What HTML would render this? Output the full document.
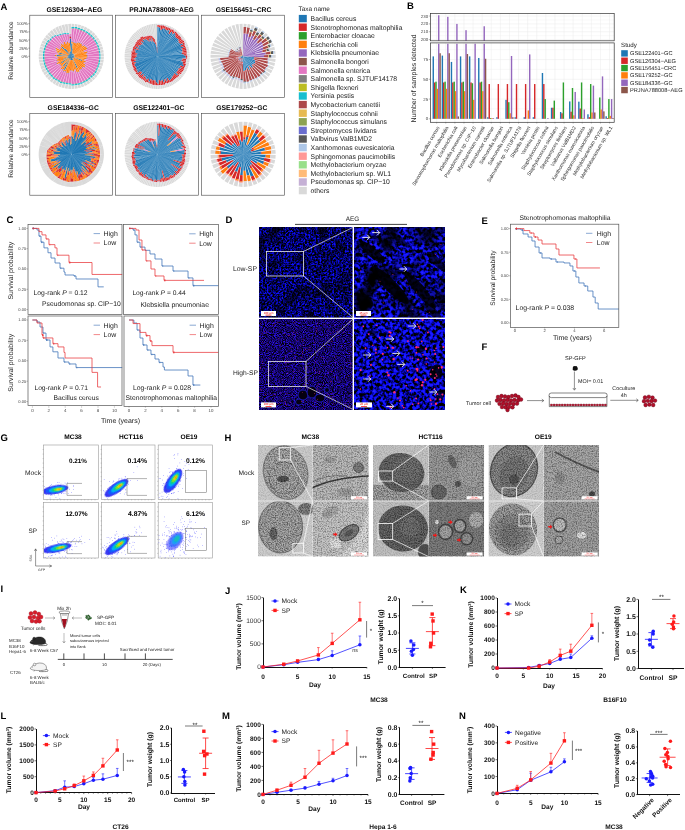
<!DOCTYPE html><html><head><meta charset="utf-8"><title>Figure</title><style>html,body{margin:0;padding:0;background:#fff;width:685px;height:830px;overflow:hidden}svg{display:block}</style></head><body><svg width="685" height="830" viewBox="0 0 685 830" font-family="'Liberation Sans', Arial, sans-serif" text-rendering="geometricPrecision"><defs>
<filter id="fbl" x="0" y="0" width="1" height="1" color-interpolation-filters="sRGB">
 <feTurbulence type="fractalNoise" baseFrequency="0.55" numOctaves="2" seed="4" result="n"/>
 <feColorMatrix in="n" type="matrix" values="0.2 0 0 0 -0.09  0.2 0 0 0 -0.09  2.8 0 0 0 -1.0  0 0 0 0 1" result="c"/>
 <feTurbulence type="fractalNoise" baseFrequency="0.06" numOctaves="2" seed="9" result="m"/>
 <feColorMatrix in="m" type="matrix" values="0 0 0 0 0  0 0 0 0 0  0 0 0 0 0  3.0 0 0 0 -1.5" result="mk"/>
 <feFlood flood-color="#000" result="blk"/>
 <feComposite in="blk" in2="mk" operator="in" result="shade"/>
 <feComposite in="shade" in2="c" operator="over"/>
</filter>
<filter id="fbr" x="0" y="0" width="1" height="1" color-interpolation-filters="sRGB">
 <feTurbulence type="fractalNoise" baseFrequency="0.28" numOctaves="2" seed="7" result="n"/>
 <feColorMatrix in="n" type="matrix" values="0.4 0 0 0 -0.18  0.4 0 0 0 -0.18  3.8 0 0 0 -1.35  0 0 0 0 1" result="c"/>
 <feTurbulence type="fractalNoise" baseFrequency="0.045" numOctaves="2" seed="3" result="m"/>
 <feColorMatrix in="m" type="matrix" values="0 0 0 0 0  0 0 0 0 0  0 0 0 0 0  3.2 0 0 0 -1.45" result="mk"/>
 <feFlood flood-color="#000" result="blk"/>
 <feComposite in="blk" in2="mk" operator="in" result="shade"/>
 <feComposite in="shade" in2="c" operator="over"/>
</filter>
<filter id="fhl" x="0" y="0" width="1" height="1" color-interpolation-filters="sRGB">
 <feTurbulence type="fractalNoise" baseFrequency="1.1" numOctaves="1" seed="11" result="n"/>
 <feColorMatrix in="n" type="matrix" values="0.45 0 0 0 -0.15  0.2 0 0 0 -0.08  2.4 0 0 0 -0.8  0 0 0 0 1"/>
</filter>
<filter id="fhr" x="0" y="0" width="1" height="1" color-interpolation-filters="sRGB">
 <feTurbulence type="fractalNoise" baseFrequency="0.3" numOctaves="2" seed="21" result="n"/>
 <feColorMatrix in="n" type="matrix" values="0.4 0 0 0 -0.18  0.4 0 0 0 -0.18  4.0 0 0 0 -1.4  0 0 0 0 1"/>
</filter>
<filter id="ftem" x="0" y="0" width="1" height="1" color-interpolation-filters="sRGB">
 <feTurbulence type="fractalNoise" baseFrequency="0.9" numOctaves="1" seed="5" result="n"/>
 <feColorMatrix in="n" type="matrix" values="0 0 0 0 0  0 0 0 0 0  0 0 0 0 0  -1.6 0 0 0 0.95"/>
</filter>
<filter id="ftem2" x="0" y="0" width="1" height="1" color-interpolation-filters="sRGB">
 <feTurbulence type="fractalNoise" baseFrequency="0.8" numOctaves="2" seed="15" result="n"/>
 <feColorMatrix in="n" type="matrix" values="0 0 0 0 0  0 0 0 0 0  0 0 0 0 0  -1.3 0 0 0 0.8"/>
</filter>
<filter id="ftemin" x="0" y="0" width="1" height="1" color-interpolation-filters="sRGB">
 <feTurbulence type="fractalNoise" baseFrequency="0.85" numOctaves="2" seed="25" result="n"/>
 <feColorMatrix in="n" type="matrix" values="0 0 0 0 0  0 0 0 0 0  0 0 0 0 0  -1.5 0 0 0 0.95" result="a"/>
 <feComposite in="a" in2="SourceAlpha" operator="in"/>
</filter>
<filter id="fblur" x="-20%" y="-20%" width="140%" height="140%"><feGaussianBlur stdDeviation="1.2"/></filter>
<filter id="fblur2" x="-20%" y="-20%" width="140%" height="140%"><feGaussianBlur stdDeviation="0.6"/></filter>
<clipPath id="cD1"><rect x="259.2" y="227.2" width="93.4" height="90.4"/></clipPath>
<clipPath id="cD2"><rect x="354" y="227.2" width="91" height="90.4"/></clipPath>
<clipPath id="cD3"><rect x="259.2" y="319" width="93.4" height="90.6"/></clipPath>
<clipPath id="cD4"><rect x="354" y="319" width="91" height="90.6"/></clipPath>
</defs><text x="0.5" y="9.9" font-size="9.5" font-weight="bold">A</text>
<rect x="29.8" y="15.2" width="82.6" height="82.2" fill="#fff" stroke="#444" stroke-width="0.6"/>
<g><path d="M71.4 43.4L72.5 43.5L71.3 56.3ZM72.2 48.5L72.9 48.7L71.3 56.3ZM72 53.2L72.3 53.2L71.3 56.3ZM72.6 52.4L73 52.5L71.3 56.3ZM72.3 54.1L72.5 54.2L71.3 56.3ZM73 53.4L73.3 53.5L71.3 56.3ZM73.1 53.8L73.3 54L71.3 56.3ZM73.7 53.7L73.9 53.9L71.3 56.3ZM74.2 53.7L74.4 54L71.3 56.3ZM73.2 54.9L73.3 55.1L71.3 56.3ZM73.3 55.2L73.4 55.3L71.3 56.3ZM73.7 55.2L73.8 55.5L71.3 56.3ZM74.7 55.2L74.8 55.5L71.3 56.3ZM74.7 55.6L74.8 55.9L71.3 56.3ZM75.1 55.9L75.1 56.3L71.3 56.3ZM74.2 56.3L74.2 56.6L71.3 56.3ZM73.8 56.6L73.8 56.8L71.3 56.3ZM74.2 56.9L74.1 57.2L71.3 56.3ZM82.4 60L82 61L71.3 56.3ZM74.3 57.7L74.2 57.9L71.3 56.3ZM73 57.3L72.9 57.5L71.3 56.3ZM74 58.3L73.8 58.5L71.3 56.3ZM73.6 58.4L73.4 58.6L71.3 56.3ZM72.9 58.1L72.7 58.3L71.3 56.3ZM72.4 57.9L72.3 58L71.3 56.3ZM77.6 67.4L76.6 68L71.3 56.3ZM72.9 60L72.6 60.1L71.3 56.3ZM72.5 60L72.1 60.1L71.3 56.3ZM72 59.9L71.7 60L71.3 56.3ZM71.7 60.1L71.3 60.2L71.3 56.3ZM71.3 60.2L70.9 60.2L71.3 56.3ZM70.9 60.2L70.5 60.2L71.3 56.3ZM70.4 60.3L70.1 60.2L71.3 56.3ZM70.3 59.2L70.1 59.1L71.3 56.3ZM65 70.1L63.8 69.5L71.3 56.3ZM70.4 57.9L70.2 57.8L71.3 56.3ZM63.9 66.4L63 65.7L71.3 56.3ZM68.9 58.9L68.7 58.7L71.3 56.3ZM69.1 58.3L68.9 58.1L71.3 56.3ZM61.6 63.2L61 62.3L71.3 56.3ZM68.3 58L68.2 57.7L71.3 56.3ZM63.2 59.8L62.9 59.1L71.3 56.3ZM67.4 57.5L67.3 57.2L71.3 56.3ZM68 57L68 56.7L71.3 56.3ZM68.2 56.6L68.1 56.3L71.3 56.3ZM56.6 56.2L56.6 54.9L71.3 56.3ZM67.8 55.9L67.8 55.6L71.3 56.3ZM58.7 53.5L59 52.4L71.3 56.3ZM68.6 55.4L68.7 55.2L71.3 56.3ZM68.4 55L68.5 54.7L71.3 56.3ZM69.1 55L69.2 54.8L71.3 56.3ZM69.1 54.7L69.3 54.5L71.3 56.3ZM61.7 47.5L62.5 46.7L71.3 56.3ZM65 49.2L65.6 48.6L71.3 56.3ZM69.3 53.5L69.6 53.3L71.3 56.3ZM70.1 54.1L70.3 54L71.3 56.3ZM69.3 51.7L69.7 51.6L71.3 56.3ZM69.7 51.2L70.1 51.1L71.3 56.3ZM70.3 51.6L70.8 51.5L71.3 56.3ZM69.6 38.5L71.1 38.4L71.3 56.3Z" fill="#1f77b4"/><path d="M71.4 41.8L72.7 41.9L72.5 43.5L71.4 43.4ZM72.9 42.3L74.1 42.5L72.9 48.3L72.2 48.2ZM74.3 42.7L75.5 43L72.3 53.2L72 53.2ZM75.7 43L76.9 43.5L73 52.5L72.6 52.4ZM77.7 42.2L78.9 42.8L72.5 54.2L72.3 54.1ZM79.3 42.7L80.4 43.5L73.3 53.5L73 53.4ZM80.9 43.3L82 44.2L73.3 54L73.1 53.8ZM81.5 45.1L82.5 46.1L73.9 53.9L73.7 53.7ZM83.9 45.2L84.8 46.3L74.4 54L74.2 53.7ZM85.4 46.3L86.2 47.5L73.3 55.1L73.2 54.9ZM86.6 47.6L87.3 49L73.4 55.3L73.3 55.2ZM83.6 50.9L84 52L73.8 55.5L73.7 55.2ZM87.2 51.3L87.6 52.7L74.8 55.5L74.7 55.2ZM86.3 53.2L86.5 54.6L74.8 55.9L74.7 55.6ZM87.3 54.8L87.3 56.2L75.1 56.3L75.1 55.9ZM87.4 56.4L87.3 57.8L74.2 56.6L74.2 56.3ZM86.1 58L85.9 59.3L73.8 56.8L73.8 56.6ZM84.3 59.2L84 60.3L74.1 57.2L74.2 56.9ZM85.9 61.2L85.4 62.4L82 61L82.4 60ZM84 62.1L83.5 63.2L74.2 57.9L74.3 57.7ZM85.4 64.6L84.6 65.8L73.2 57.7L73.3 57.5ZM85.1 66.5L84.2 67.7L74 58.7L74.2 58.5ZM82.8 66.8L81.8 67.8L73.4 58.6L73.6 58.4ZM82.1 68.5L81 69.4L72.7 58.3L72.9 58.1ZM80.6 69.3L79.4 70.1L72.3 58L72.4 57.9ZM79.8 71.4L78.5 72.1L76.6 68L77.6 67.4ZM78 71.7L76.6 72.2L72.6 60.1L72.9 60ZM75.5 69.5L74.3 69.8L72.1 60.1L72.5 60ZM74.3 71.2L73 71.4L71.7 60L72 59.9ZM72.7 70.7L71.4 70.8L71.3 60.2L71.7 60.1ZM71.2 70.5L69.9 70.5L70.9 60.2L71.3 60.2ZM69.4 73.1L67.9 72.8L70.5 60.2L70.9 60.2ZM67.6 73.2L66.1 72.8L70.1 60.2L70.4 60.3ZM66.2 71.5L64.9 71L70 59.4L70.2 59.5ZM64.3 71.6L63 70.9L63.8 69.5L65 70.1ZM63.6 69.5L62.4 68.7L70.2 57.8L70.4 57.9ZM61.6 69.4L60.5 68.5L62.8 65.9L63.7 66.6ZM61.8 66.6L61 65.8L68.7 58.7L68.9 58.9ZM61 65.5L60.2 64.5L68.9 58.1L69.1 58.3ZM59.8 64.5L59.1 63.5L61 62.3L61.6 63.2ZM57.2 64.3L56.6 63L68.2 57.7L68.3 58ZM58.6 61.8L58.2 60.7L62.9 59.1L63.2 59.8ZM56.8 60.9L56.4 59.6L67.3 57.2L67.4 57.5ZM58.4 58.9L58.2 57.8L68 56.7L68 57ZM57.3 57.7L57.2 56.4L68.1 56.3L68.2 56.6ZM54.9 56.2L55 54.7L56.6 54.9L56.6 56.2ZM58.2 54.8L58.4 53.7L67.8 55.6L67.8 55.9ZM57.1 53.2L57.4 51.9L59 52.4L58.7 53.5ZM56 51.2L56.5 49.9L68.7 55.2L68.6 55.4ZM55.4 49.1L56.1 47.7L68.5 54.7L68.4 55ZM59.7 49.4L60.3 48.5L69.2 54.8L69.1 55ZM60.6 48.4L61.3 47.4L69.3 54.5L69.1 54.7ZM60.5 46.4L61.4 45.5L62.5 46.7L61.7 47.5ZM60.8 44.4L61.8 43.5L65.6 48.6L65 49.2ZM63 44.7L64.1 44L69.6 53.3L69.3 53.5ZM63.4 42.4L64.7 41.7L70.3 54L70.1 54.1ZM65.8 43.7L66.9 43.3L69.7 51.6L69.3 51.7ZM66.7 41.9L68 41.5L70.1 51.1L69.7 51.2ZM68.6 43.1L69.8 43L70.8 51.5L70.3 51.6Z" fill="#ff7f0e"/><path d="M71.4 41L72.8 41.1L72.7 41.9L71.4 41.8ZM73 41.5L74.3 41.7L74.1 42.5L72.9 42.3ZM74.5 41.9L75.7 42.3L75.5 43L74.3 42.7ZM76 42.3L77.2 42.7L76.9 43.5L75.7 43ZM78.1 41.5L79.3 42.1L78.9 42.8L77.7 42.2ZM79.7 42L80.9 42.8L80.4 43.5L79.3 42.7ZM81.4 42.7L82.5 43.6L82 44.2L80.9 43.3ZM82.1 44.5L83.1 45.5L82.5 46.1L81.5 45.1ZM84.5 44.6L85.5 45.8L84.8 46.3L83.9 45.2ZM86 45.8L86.9 47.1L86.2 47.5L85.4 46.3ZM87.3 47.2L88.1 48.7L87.3 49L86.6 47.6ZM84.4 50.6L84.8 51.8L84 52L83.6 50.9ZM88 51L88.4 52.5L87.6 52.7L87.2 51.3ZM87.1 53.1L87.4 54.5L86.5 54.6L86.3 53.2ZM88.1 54.7L88.1 56.2L87.3 56.2L87.3 54.8ZM88.2 56.4L88.1 57.9L87.3 57.8L87.4 56.4ZM86.9 58.1L86.7 59.4L85.9 59.3L86.1 58ZM85.1 59.4L84.8 60.6L84 60.3L84.3 59.2ZM86.6 61.4L86.1 62.8L85.4 62.4L85.9 61.2ZM84.8 62.4L84.2 63.6L83.5 63.2L84 62.1ZM86.1 65L85.3 66.3L84.6 65.8L85.4 64.6ZM85.8 67L84.8 68.3L84.2 67.7L85.1 66.5ZM83.4 67.4L82.4 68.4L81.8 67.8L82.8 66.8ZM82.6 69.1L81.4 70L81 69.4L82.1 68.5ZM81.1 70L79.8 70.8L79.4 70.1L80.6 69.3ZM80.2 72.1L78.8 72.8L78.5 72.1L79.8 71.4ZM78.3 72.4L76.9 73L76.6 72.2L78 71.7ZM75.7 70.3L74.5 70.6L74.3 69.8L75.5 69.5ZM74.5 72L73.1 72.2L73 71.4L74.3 71.2ZM72.8 71.5L71.4 71.6L71.4 70.8L72.7 70.7ZM71.2 71.3L69.9 71.3L69.9 70.5L71.2 70.5ZM69.3 73.9L67.8 73.6L67.9 72.8L69.4 73.1ZM67.4 74L65.9 73.5L66.1 72.8L67.6 73.2ZM66 72.3L64.6 71.8L64.9 71L66.2 71.5ZM64 72.4L62.6 71.6L63 70.9L64.3 71.6ZM63.1 70.2L62 69.4L62.4 68.7L63.6 69.5ZM61.1 70.1L60 69.1L60.5 68.5L61.6 69.4ZM61.3 67.2L60.4 66.3L61 65.8L61.8 66.6ZM60.3 66L59.5 65L60.2 64.5L61 65.5ZM59.1 65L58.4 63.9L59.1 63.5L59.8 64.5ZM56.5 64.7L55.8 63.3L56.6 63L57.2 64.3ZM57.9 62.2L57.4 60.9L58.2 60.7L58.6 61.8ZM56 61.1L55.6 59.8L56.4 59.6L56.8 60.9ZM57.6 59.1L57.4 57.9L58.2 57.8L58.4 58.9ZM56.5 57.7L56.4 56.4L57.2 56.4L57.3 57.7ZM54.1 56.2L54.2 54.6L55 54.7L54.9 56.2ZM57.4 54.7L57.6 53.5L58.4 53.7L58.2 54.8ZM56.3 53L56.7 51.7L57.4 51.9L57.1 53.2ZM55.3 50.9L55.8 49.6L56.5 49.9L56 51.2ZM54.6 48.7L55.4 47.3L56.1 47.7L55.4 49.1ZM59 49L59.6 48L60.3 48.5L59.7 49.4ZM59.9 47.9L60.7 46.9L61.3 47.4L60.6 48.4ZM59.9 45.9L60.9 44.9L61.4 45.5L60.5 46.4ZM60.2 43.8L61.4 42.9L61.8 43.5L60.8 44.4ZM62.6 44.1L63.7 43.3L64.1 44L63 44.7ZM63 41.7L64.3 41L64.7 41.7L63.4 42.4ZM65.5 43L66.7 42.5L66.9 43.3L65.8 43.7ZM66.5 41.1L67.9 40.7L68 41.5L66.7 41.9ZM68.5 42.3L69.7 42.1L69.8 43L68.6 43.1ZM69.3 35.9L71.1 35.8L71.1 36.7L69.4 36.8Z" fill="#9467bd"/><path d="M71.5 28.4L74 28.6L72.8 41.1L71.4 41ZM74.5 28.3L76.9 28.7L74.3 41.7L73 41.5ZM77.3 29.1L79.7 29.7L75.7 42.3L74.5 41.9ZM80.1 29.9L82.4 30.7L77.2 42.7L76 42.3ZM82.8 30.9L85 32L79.3 42.1L78.1 41.5ZM85.4 32.3L87.5 33.6L80.9 42.8L79.7 42ZM87.9 33.9L89.8 35.4L82.5 43.6L81.4 42.7ZM90.1 35.7L91.9 37.5L83.1 45.5L82.1 44.5ZM92.2 37.8L93.7 39.7L85.5 45.8L84.5 44.6ZM94 40.1L95.3 42.2L86.9 47.1L86 45.8ZM95.6 42.6L96.7 44.8L88.1 48.7L87.3 47.2ZM96.9 45.2L97.7 47.5L84.8 51.8L84.4 50.6ZM97.9 47.9L98.5 50.3L88.4 52.5L88 51ZM98.6 50.7L99 53.2L87.4 54.5L87.1 53.1ZM99 53.6L99.2 56.1L88.1 56.2L88.1 54.7ZM99.2 56.5L99 59L88.1 57.9L88.2 56.4ZM99 59.4L98.6 61.9L86.7 59.4L86.9 58.1ZM98.5 62.3L97.9 64.7L84.8 60.6L85.1 59.4ZM97.7 65.1L96.9 67.4L86.1 62.8L86.6 61.4ZM96.7 67.8L95.6 70L84.2 63.6L84.8 62.4ZM95.6 70.6L94.3 72.7L85.3 66.3L86.1 65ZM94 73.1L92.4 75L84.8 68.3L85.8 67ZM91.9 75.1L90.1 76.9L82.4 68.4L83.4 67.4ZM89.8 77.2L87.9 78.7L81.4 70L82.6 69.1ZM87.5 79L85.4 80.3L79.8 70.8L81.1 70ZM85 80.6L82.8 81.7L78.8 72.8L80.2 72.1ZM82.4 81.9L80.1 82.7L76.9 73L78.3 72.4ZM79.7 82.9L77.3 83.5L74.5 70.6L75.7 70.3ZM76.9 83.6L74.4 84L73.1 72.2L74.5 72ZM74 84L71.5 84.2L71.4 71.6L72.8 71.5ZM71.1 83.2L68.7 83.1L69.9 71.3L71.2 71.3ZM68.3 83L65.9 82.7L67.8 73.6L69.3 73.9ZM65.5 82.6L63.2 81.9L65.9 73.5L67.4 74ZM62.7 82.1L60.4 81.3L64.6 71.8L66 72.3ZM60.2 80.8L58 79.7L62.6 71.6L64 72.4ZM57.7 79.5L55.7 78.2L62 69.4L63.1 70.2ZM55.1 78.2L53.3 76.7L60 69.1L61.1 70.1ZM53.1 76.1L51.5 74.5L60.4 66.3L61.3 67.2ZM51.2 74.1L49.7 72.3L59.5 65L60.3 66ZM49.4 71.9L48.1 69.9L58.4 63.9L59.1 65ZM47.9 69.6L46.8 67.4L55.8 63.3L56.5 64.7ZM46.6 67L45.8 64.8L57.4 60.9L57.9 62.2ZM45.7 64.4L45 62.1L55.6 59.8L56 61.1ZM44.9 61.7L44.6 59.3L57.4 57.9L57.6 59.1ZM44.5 58.9L44.4 56.5L56.4 56.4L56.5 57.7ZM44.4 56.1L44.5 53.7L54.2 54.6L54.1 56.2ZM44.6 53.3L44.9 50.9L57.6 53.5L57.4 54.7ZM45 50.5L45.7 48.2L56.7 51.7L56.3 53ZM45.8 47.8L46.6 45.6L55.8 49.6L55.3 50.9ZM46.8 45.2L47.9 43L55.4 47.3L54.6 48.7ZM48.1 42.7L49.4 40.7L59.6 48L59 49ZM50.2 40.7L51.6 38.9L60.7 46.9L59.9 47.9ZM51.9 38.5L53.5 36.9L60.9 44.9L59.9 45.9ZM54.3 37.1L56 35.6L61.4 42.9L60.2 43.8ZM57 36.3L58.9 35.2L63.7 43.3L62.6 44.1ZM59.6 35.6L61.4 34.6L64.3 41L63 41.7ZM61.9 34.7L63.8 34L66.7 42.5L65.5 43ZM64.3 34.3L66.3 33.7L67.9 40.7L66.5 41.1ZM66.8 34.4L68.8 34.1L69.7 42.1L68.5 42.3ZM69.2 34.2L71.1 34.1L71.1 35.8L69.3 35.9Z" fill="#e377c2"/><path d="M71.5 28.2L74 28.3L74 28.6L71.5 28.4ZM74.5 28L77 28.4L76.9 28.7L74.5 28.3ZM77.4 28.8L79.8 29.5L79.7 29.7L77.3 29.1ZM80.2 29.6L82.5 30.5L82.4 30.7L80.1 29.9ZM83 30.7L85.2 31.8L85 32L82.8 30.9ZM85.6 32.1L87.6 33.4L87.5 33.6L85.4 32.3ZM88 33.7L89.9 35.2L89.8 35.4L87.9 33.9ZM90.3 35.6L92 37.3L91.9 37.5L90.1 35.7ZM92.4 37.7L93.9 39.6L93.7 39.7L92.2 37.8ZM94.2 40L95.5 42L95.3 42.2L94 40.1ZM95.8 42.4L96.9 44.6L96.7 44.8L95.6 42.6ZM97.1 45.1L98 47.4L97.7 47.5L96.9 45.2ZM98.1 47.8L98.8 50.2L98.5 50.3L97.9 47.9ZM98.9 50.7L99.3 53.1L99 53.2L98.6 50.7ZM99.3 53.6L99.4 56.1L99.2 56.1L99 53.6ZM99.4 56.5L99.3 59L99 59L99.2 56.5ZM99.3 59.5L98.9 61.9L98.6 61.9L99 59.4ZM98.8 62.4L98.1 64.8L97.9 64.7L98.5 62.3ZM98 65.2L97.1 67.5L96.9 67.4L97.7 65.1ZM96.9 68L95.8 70.2L95.6 70L96.7 67.8ZM95.8 70.7L94.5 72.8L94.3 72.7L95.6 70.6ZM94.2 73.2L92.6 75.2L92.4 75L94 73.1ZM92 75.3L90.3 77L90.1 76.9L91.9 75.1ZM89.9 77.4L88 78.9L87.9 78.7L89.8 77.2ZM87.6 79.2L85.6 80.5L85.4 80.3L87.5 79ZM85.2 80.8L83 81.9L82.8 81.7L85 80.6ZM82.5 82.1L80.2 83L80.1 82.7L82.4 81.9ZM79.8 83.1L77.4 83.8L77.3 83.5L79.7 82.9ZM76.9 83.9L74.5 84.3L74.4 84L76.9 83.6ZM74 84.3L71.5 84.4L71.5 84.2L74 84ZM71.1 83.5L68.7 83.3L68.7 83.1L71.1 83.2ZM68.2 83.3L65.9 82.9L65.9 82.7L68.3 83ZM65.4 82.8L63.1 82.2L63.2 81.9L65.5 82.6ZM62.6 82.4L60.3 81.5L60.4 81.3L62.7 82.1ZM60 81L57.9 79.9L58 79.7L60.2 80.8ZM57.5 79.7L55.5 78.4L55.7 78.2L57.7 79.5ZM55 78.4L53.1 76.9L53.3 76.7L55.1 78.2ZM53 76.3L51.3 74.6L51.5 74.5L53.1 76.1ZM51 74.3L49.5 72.4L49.7 72.3L51.2 74.1ZM49.2 72.1L47.9 70.1L48.1 69.9L49.4 71.9ZM47.7 69.7L46.6 67.6L46.8 67.4L47.9 69.6ZM46.4 67.1L45.5 64.9L45.8 64.8L46.6 67ZM45.4 64.5L44.8 62.2L45 62.1L45.7 64.4ZM44.7 61.7L44.3 59.4L44.6 59.3L44.9 61.7ZM44.3 58.9L44.1 56.5L44.4 56.5L44.5 58.9ZM44.1 56.1L44.3 53.7L44.5 53.7L44.4 56.1ZM44.3 53.2L44.7 50.9L44.9 50.9L44.6 53.3ZM44.8 50.4L45.4 48.1L45.7 48.2L45 50.5ZM45.5 47.7L46.4 45.5L46.6 45.6L45.8 47.8ZM46.6 45L47.7 42.9L47.9 43L46.8 45.2ZM47.9 42.5L49.2 40.5L49.4 40.7L48.1 42.7Z" fill="#2ca02c"/><path d="M71.5 26.9L74.1 27L74 28.3L71.5 28.2ZM74.7 26.7L77.2 27.1L77 28.4L74.5 28ZM77.7 27.6L80.2 28.2L79.8 29.5L77.4 28.8ZM80.6 28.4L83 29.3L82.5 30.5L80.2 29.6ZM83.5 29.5L85.8 30.7L85.2 31.8L83 30.7ZM86.2 30.9L88.4 32.3L87.6 33.4L85.6 32.1ZM88.8 32.6L90.8 34.3L89.9 35.2L88 33.7ZM91.2 34.6L93 36.4L92 37.3L90.3 35.6ZM93.3 36.8L95 38.8L93.9 39.6L92.4 37.7ZM95.3 39.2L96.7 41.4L95.5 42L94.2 40ZM96.9 41.8L98.1 44.1L96.9 44.6L95.8 42.4ZM98.3 44.6L99.2 47L98 47.4L97.1 45.1ZM99.4 47.4L100 49.9L98.8 50.2L98.1 47.8ZM100.1 50.4L100.5 53L99.3 53.1L98.9 50.7ZM100.6 53.5L100.7 56.1L99.4 56.1L99.3 53.6ZM100.7 56.5L100.6 59.1L99.3 59L99.4 56.5ZM100.5 59.6L100.1 62.2L98.9 61.9L99.3 59.5ZM100 62.7L99.4 65.2L98.1 64.8L98.8 62.4ZM99.2 65.6L98.3 68L97.1 67.5L98 65.2ZM98.1 68.5L96.9 70.8L95.8 70.2L96.9 68ZM97 71.4L95.5 73.6L94.5 72.8L95.8 70.7ZM95.2 74L93.6 76L92.6 75.2L94.2 73.2ZM93 76.2L91.2 78L90.3 77L92 75.3ZM90.8 78.3L88.8 80L88 78.9L89.9 77.4ZM88.4 80.3L86.2 81.7L85.6 80.5L87.6 79.2ZM85.8 81.9L83.5 83.1L83 81.9L85.2 80.8ZM83 83.3L80.6 84.2L80.2 83L82.5 82.1ZM80.2 84.4L77.7 85L77.4 83.8L79.8 83.1ZM77.2 85.1L74.6 85.5L74.5 84.3L76.9 83.9ZM74.1 85.6L71.5 85.7L71.5 84.4L74 84.3ZM71.1 84.8L68.6 84.6L68.7 83.3L71.1 83.5ZM68.1 84.6L65.6 84.2L65.9 82.9L68.2 83.3ZM65.1 84.1L62.7 83.4L63.1 82.2L65.4 82.8ZM62.2 83.6L59.8 82.7L60.3 81.5L62.6 82.4ZM59.5 82.2L57.3 81.1L57.9 79.9L60 81ZM56.9 80.8L54.8 79.5L55.5 78.4L57.5 79.7ZM54.2 79.4L52.2 77.9L53.1 76.9L55 78.4ZM52.1 77.3L50.3 75.5L51.3 74.6L53 76.3ZM50 75.2L48.4 73.2L49.5 72.4L51 74.3ZM48.1 72.8L46.8 70.7L47.9 70.1L49.2 72.1ZM46.5 70.3L45.4 68.1L46.6 67.6L47.7 69.7ZM45.2 67.7L44.3 65.3L45.5 64.9L46.4 67.1ZM44.2 64.9L43.5 62.5L44.8 62.2L45.4 64.5ZM43.4 62L43 59.5L44.3 59.4L44.7 61.7ZM43 59L42.8 56.5L44.1 56.5L44.3 58.9ZM42.8 56.1L43 53.6L44.3 53.7L44.1 56.1ZM43 53.1L43.4 50.6L44.7 50.9L44.3 53.2ZM43.5 50.1L44.2 47.7L45.4 48.1L44.8 50.4ZM44.3 47.3L45.2 44.9L46.4 45.5L45.5 47.7ZM45.4 44.5L46.5 42.3L47.7 42.9L46.6 45ZM46.8 41.9L48.1 39.8L49.2 40.5L47.9 42.5ZM49.2 40L50.8 38.1L51.6 38.9L50.2 40.7ZM51.1 37.8L52.8 36.1L53.5 36.9L51.9 38.5ZM53.5 36.2L55.3 34.7L56 35.6L54.3 37.1ZM56.4 35.4L58.3 34.2L58.9 35.2L57 36.3ZM59 34.6L60.9 33.6L61.4 34.6L59.6 35.6ZM61.4 33.7L63.5 32.9L63.8 34L61.9 34.7ZM64 33.2L66.1 32.6L66.3 33.7L64.3 34.3ZM66.6 33.3L68.7 33L68.8 34.1L66.8 34.4Z" fill="#17becf"/><path d="M71.6 23.7L74.4 23.9L74.1 27L71.5 26.9ZM75 23.9L77.8 24.4L77.2 27.1L74.7 26.7ZM78.3 24.5L81.1 25.2L80.2 28.2L77.7 27.6ZM81.6 25.4L84.3 26.4L83 29.3L80.6 28.4ZM84.8 26.6L87.4 27.9L85.8 30.7L83.5 29.5ZM87.8 28.2L90.2 29.8L88.4 32.3L86.2 30.9ZM90.7 30.1L92.9 31.9L90.8 34.3L88.8 32.6ZM93.3 32.3L95.3 34.3L93 36.4L91.2 34.6ZM95.7 34.7L97.5 36.9L95 38.8L93.3 36.8ZM97.8 37.4L99.4 39.8L96.7 41.4L95.3 39.2ZM99.7 40.2L101 42.8L98.1 44.1L96.9 41.8ZM101.2 43.3L102.2 46L99.2 47L98.3 44.6ZM102.4 46.5L103.1 49.3L100 49.9L99.4 47.4ZM103.2 49.8L103.7 52.6L100.5 53L100.1 50.4ZM103.7 53.2L103.9 56L100.7 56.1L100.6 53.5ZM103.9 56.6L103.7 59.4L100.6 59.1L100.7 56.5ZM103.7 60L103.2 62.8L100.1 62.2L100.5 59.6ZM103.1 63.3L102.4 66.1L99.4 65.2L100 62.7ZM102.2 66.6L101.2 69.3L98.3 68L99.2 65.6ZM101 69.8L99.7 72.4L96.9 70.8L98.1 68.5ZM99.4 72.8L97.8 75.2L95.5 73.6L97 71.4ZM97.5 75.7L95.7 77.9L93.6 76L95.2 74ZM95.3 78.3L93.3 80.3L91.2 78L93 76.2ZM92.9 80.7L90.7 82.5L88.8 80L90.8 78.3ZM90.2 82.8L87.8 84.4L86.2 81.7L88.4 80.3ZM87.4 84.7L84.8 86L83.5 83.1L85.8 81.9ZM84.3 86.2L81.6 87.2L80.6 84.2L83 83.3ZM81.1 87.4L78.3 88.1L77.7 85L80.2 84.4ZM77.8 88.2L75 88.7L74.6 85.5L77.2 85.1ZM74.4 88.7L71.6 88.9L71.5 85.7L74.1 85.6ZM71 88.9L68.2 88.7L68.6 84.6L71.1 84.8ZM67.6 88.7L64.8 88.2L65.6 84.2L68.1 84.6ZM64.3 88.1L61.5 87.4L62.7 83.4L65.1 84.1ZM61 87.2L58.3 86.2L59.8 82.7L62.2 83.6ZM57.8 86L55.2 84.7L57.3 81.1L59.5 82.2ZM54.8 84.4L52.4 82.8L54.8 79.5L56.9 80.8ZM51.9 82.5L49.7 80.7L52.2 77.9L54.2 79.4ZM49.3 80.3L47.3 78.3L50.3 75.5L52.1 77.3ZM46.9 77.9L45.1 75.7L48.4 73.2L50 75.2ZM44.8 75.2L43.2 72.8L46.8 70.7L48.1 72.8ZM42.9 72.4L41.6 69.8L45.4 68.1L46.5 70.3ZM41.4 69.3L40.4 66.6L44.3 65.3L45.2 67.7ZM40.2 66.1L39.5 63.3L43.5 62.5L44.2 64.9ZM39.4 62.8L38.9 60L43 59.5L43.4 62ZM38.9 59.4L38.7 56.6L42.8 56.5L43 59ZM38.7 56L38.9 53.2L43 53.6L42.8 56.1ZM38.9 52.6L39.4 49.8L43.4 50.6L43 53.1ZM39.5 49.3L40.2 46.5L44.2 47.7L43.5 50.1ZM40.4 46L41.4 43.3L45.2 44.9L44.3 47.3ZM41.6 42.8L42.9 40.2L46.5 42.3L45.4 44.5ZM43.2 39.8L44.8 37.4L48.1 39.8L46.8 41.9ZM45.1 36.9L46.9 34.7L50.8 38.1L49.2 40ZM47.3 34.3L49.3 32.3L52.8 36.1L51.1 37.8ZM49.7 31.9L51.9 30.1L55.3 34.7L53.5 36.2ZM52.4 29.8L54.8 28.2L58.3 34.2L56.4 35.4ZM55.2 27.9L57.8 26.6L60.9 33.6L59 34.6ZM58.3 26.4L61 25.4L63.5 32.9L61.4 33.7ZM61.5 25.2L64.3 24.5L66.1 32.6L64 33.2ZM64.8 24.4L67.6 23.9L68.7 33L66.6 33.3ZM68.2 23.9L71 23.7L71.1 34.1L69.2 34.2Z" fill="#d9d9d9"/><path d="M72.2 48.2L72.9 48.3L72.9 48.7L72.2 48.5ZM73.3 57.5L73.2 57.7L72.9 57.5L73 57.3ZM74.2 58.5L74 58.7L73.8 58.5L74 58.3ZM70.2 59.5L70 59.4L70.1 59.1L70.3 59.2ZM63.7 66.6L62.8 65.9L63 65.7L63.9 66.4ZM69.4 36.8L71.1 36.7L71.1 38.4L69.6 38.5Z" fill="#d62728"/></g>
<text x="74.4" y="12.33" font-size="6.8" text-anchor="middle" font-weight="bold">GSE126304−AEG</text>
<rect x="115.6" y="15.2" width="82.8" height="82.2" fill="#fff" stroke="#444" stroke-width="0.6"/>
<g><path d="M157.4 26.9L158.7 26.9L157.2 56.3ZM159 27.5L160.3 27.6L157.2 56.3ZM160.4 29.9L161.6 30.1L157.2 56.3ZM162.1 28.8L163.4 29L157.2 56.3ZM163.9 28.3L165.2 28.7L157.2 56.3ZM165.1 29.9L166.3 30.3L157.2 56.3ZM166.7 30.1L167.9 30.5L157.2 56.3ZM168.5 29.9L169.7 30.5L157.2 56.3ZM168.5 33.5L169.6 34.1L157.2 56.3ZM171.3 31.7L172.4 32.4L157.2 56.3ZM172.1 33.4L173.1 34.1L157.2 56.3ZM174.4 32.9L175.5 33.7L157.2 56.3ZM174.9 34.9L175.9 35.7L157.2 56.3ZM175.3 36.8L176.1 37.7L157.2 56.3ZM176.4 37.8L177.3 38.7L157.2 56.3ZM177.9 38.6L178.7 39.6L157.2 56.3ZM178.2 40.3L178.9 41.3L157.2 56.3ZM178.5 41.9L179.1 42.9L157.2 56.3ZM179.7 42.9L180.3 43.9L157.2 56.3ZM182.4 43.2L183 44.4L157.2 56.3ZM180.6 45.8L181 46.9L157.2 56.3ZM182.8 46.5L183.2 47.7L157.2 56.3ZM181.6 48.5L182 49.6L157.2 56.3ZM182.3 49.8L182.6 51L157.2 56.3ZM182.2 51.4L182.4 52.5L157.2 56.3ZM181.8 52.9L182 54L157.2 56.3ZM183.7 54.2L183.8 55.4L157.2 56.3ZM185.8 55.6L185.8 57L157.2 56.3ZM185.8 57.3L185.7 58.6L157.2 56.3ZM182.5 58.6L182.3 59.8L157.2 56.3ZM181.7 60L181.5 61.1L157.2 56.3ZM183 61.7L182.7 62.9L157.2 56.3ZM183 63.2L182.7 64.4L157.2 56.3ZM183.9 65.1L183.5 66.4L157.2 56.3ZM180.3 65.4L179.8 66.5L157.2 56.3ZM181.1 67.4L180.6 68.5L157.2 56.3ZM179 67.9L178.4 68.9L157.2 56.3ZM178.6 69.4L178 70.3L157.2 56.3ZM177.8 70.5L177.1 71.5L157.2 56.3ZM177 71.7L176.2 72.6L157.2 56.3ZM177.9 74.4L177.1 75.4L157.2 56.3ZM174.5 73.3L173.7 74L157.2 56.3ZM174 74.7L173.1 75.5L157.2 56.3ZM173.2 76L172.2 76.8L157.2 56.3ZM172.3 77.4L171.3 78.1L157.2 56.3ZM171.5 78.8L170.4 79.5L157.2 56.3ZM170.3 79.8L169.2 80.4L157.2 56.3ZM167.7 77.9L166.6 78.3L157.2 56.3ZM167.3 80.6L166.2 81.1L157.2 56.3ZM165.2 79.1L164.1 79.4L157.2 56.3ZM164.6 81.9L163.4 82.2L157.2 56.3ZM162.6 80.1L161.5 80.4L157.2 56.3ZM161.3 80.9L160.2 81L157.2 56.3ZM159.8 80L158.7 80.1L157.2 56.3ZM158.6 83.7L157.3 83.8L157.2 56.3ZM157.1 82.6L155.8 82.6L157.2 56.3ZM155.7 80.6L154.6 80.5L157.2 56.3ZM154.3 80.2L153.2 80L157.2 56.3ZM152.9 80.6L151.7 80.4L157.2 56.3ZM151.8 79.2L150.7 78.9L157.2 56.3ZM149.6 81.7L148.4 81.3L157.2 56.3ZM149 78.9L147.9 78.5L157.2 56.3ZM147.2 79.7L146.1 79.2L157.2 56.3ZM146.1 78.5L145.1 78L157.2 56.3ZM145.7 76.4L144.8 75.9L157.2 56.3ZM143.8 76.9L142.9 76.2L157.2 56.3ZM143.8 74.5L143 73.8L157.2 56.3ZM141.6 75.2L140.7 74.4L157.2 56.3ZM142.1 72.6L141.3 71.9L157.2 56.3ZM141 71.9L140.3 71.1L157.2 56.3ZM137.9 72.9L137.1 72L157.2 56.3ZM137.7 71.2L137 70.3L157.2 56.3ZM136.8 70.1L136.1 69.1L157.2 56.3ZM136.4 68.7L135.8 67.7L157.2 56.3ZM136.1 67.3L135.6 66.3L157.2 56.3ZM134.9 66.4L134.4 65.3L157.2 56.3ZM134.8 64.9L134.4 63.8L157.2 56.3ZM135.8 63.1L135.5 62.1L157.2 56.3ZM134 62.3L133.8 61.2L157.2 56.3ZM136 60.5L135.8 59.5L157.2 56.3ZM134.3 59.5L134.2 58.4L157.2 56.3ZM135.4 58.1L135.4 57L157.2 56.3ZM136.7 56.8L136.7 55.8L157.2 56.3ZM135.6 55.6L135.7 54.6L157.2 56.3ZM137.2 54.5L137.3 53.5L157.2 56.3ZM135.2 53L135.4 52L157.2 56.3ZM135.3 51.8L135.6 50.7L157.2 56.3ZM134.4 50.2L134.7 49.1L157.2 56.3ZM138.5 50.1L138.8 49.2L157.2 56.3ZM135.7 47.8L136.1 46.8L157.2 56.3ZM138.7 47.7L139.1 46.9L157.2 56.3ZM137.9 46L138.4 45.1L157.2 56.3ZM140 45.8L140.5 45L157.2 56.3ZM140.7 44.9L141.3 44.2L157.2 56.3ZM142.1 44.6L142.7 43.9L157.2 56.3ZM140.9 42.1L141.6 41.3L157.2 56.3ZM143.1 42.5L143.8 41.8L157.2 56.3ZM142.3 39.9L143.1 39.2L157.2 56.3ZM144.1 40.1L144.9 39.5L157.2 56.3ZM145 39.3L145.8 38.8L157.2 56.3ZM147.2 40.6L147.9 40.1L157.2 56.3ZM149.1 41.7L149.8 41.3L157.2 56.3ZM148.9 39.2L149.7 38.9L157.2 56.3ZM151.1 41.5L151.7 41.3L157.2 56.3ZM151 38.6L151.8 38.3L157.2 56.3ZM153 41.6L153.7 41.4L157.2 56.3ZM154 42.4L154.7 42.2L157.2 56.3ZM155.1 43.9L155.7 43.9L157.2 56.3ZM156.1 46.4L156.6 46.3L157.2 56.3ZM157 53L157.2 53L157.2 56.3Z" fill="#1f77b4"/><path d="M157.4 24.9L158.8 25L158.7 26.9L157.4 26.9ZM159.1 25.2L160.6 25.3L160.3 27.6L159 27.5ZM160.9 25.3L162.4 25.5L161.6 30.1L160.4 29.9ZM162.7 25.2L164.2 25.5L163.4 29L162.1 28.8ZM164.4 25.9L165.8 26.3L165.2 28.7L163.9 28.3ZM166 26.9L167.4 27.3L166.3 30.3L165.1 29.9ZM167.7 27.2L169.1 27.7L167.9 30.5L166.7 30.1ZM169.3 28L170.6 28.6L169.7 30.5L168.5 29.9ZM170.8 29L172.1 29.7L169.6 34.1L168.5 33.5ZM172.7 29.2L173.9 30L172.4 32.4L171.3 31.7ZM173.7 30.9L174.9 31.7L173.1 34.1L172.1 33.4ZM175.4 31.5L176.6 32.3L175.5 33.7L174.4 32.9ZM176.6 32.8L177.7 33.7L175.9 35.7L174.9 34.9ZM177.8 34.1L178.8 35.1L176.1 37.7L175.3 36.8ZM179.2 35.2L180.1 36.2L177.3 38.7L176.4 37.8ZM180.2 36.6L181.1 37.7L178.7 39.6L177.9 38.6ZM181.1 38.1L181.9 39.2L178.9 41.3L178.2 40.3ZM182.3 39.4L183 40.5L179.1 42.9L178.5 41.9ZM183.6 40.6L184.3 41.8L180.3 43.9L179.7 42.9ZM184.3 42.2L184.9 43.5L183 44.4L182.4 43.2ZM184.4 44L185 45.3L181 46.9L180.6 45.8ZM184.9 45.7L185.4 47L183.2 47.7L182.8 46.5ZM185.9 47.2L186.2 48.5L182 49.6L181.6 48.5ZM186.3 48.8L186.6 50.2L182.6 51L182.3 49.8ZM186.5 50.5L186.8 51.9L182.4 52.5L182.2 51.4ZM186.8 52.2L187 53.6L182 54L181.8 52.9ZM186.6 53.9L186.7 55.3L183.8 55.4L183.7 54.2ZM187.3 55.6L187.3 57L185.8 57L185.8 55.6ZM187.3 57.3L187.2 58.7L185.7 58.6L185.8 57.3ZM186.3 58.9L186.1 60.3L182.3 59.8L182.5 58.6ZM186.1 60.6L185.8 62L181.5 61.1L181.7 60ZM185.8 62.3L185.5 63.6L182.7 62.9L183 61.7ZM186 64L185.6 65.4L182.7 64.4L183 63.2ZM185.3 65.6L184.8 66.9L183.5 66.4L183.9 65.1ZM184.6 67.1L184.1 68.4L179.8 66.5L180.3 65.4ZM184.2 68.8L183.6 70L180.6 68.5L181.1 67.4ZM183.5 70.3L182.8 71.5L178.4 68.9L179 67.9ZM182.3 71.6L181.5 72.8L178 70.3L178.6 69.4ZM181.6 73.2L180.8 74.3L177.1 71.5L177.8 70.5ZM179.9 74L179.1 75.1L176.2 72.6L177 71.7ZM179.2 75.6L178.3 76.6L177.1 75.4L177.9 74.4ZM178 76.8L177.1 77.7L173.7 74L174.5 73.3ZM176.5 77.6L175.5 78.5L173.1 75.5L174 74.7ZM175.3 78.6L174.2 79.5L172.2 76.8L173.2 76ZM174.1 79.8L172.9 80.5L171.3 78.1L172.3 77.4ZM172.9 81.1L171.8 81.8L170.4 79.5L171.5 78.8ZM171.3 81.6L170.1 82.2L169.2 80.4L170.3 79.8ZM169.8 82.2L168.5 82.7L166.6 78.3L167.7 77.9ZM168.4 83.1L167.1 83.6L166.2 81.1L167.3 80.6ZM166.6 83.1L165.4 83.6L164.1 79.4L165.2 79.1ZM165.3 84.4L164 84.7L163.4 82.2L164.6 81.9ZM163.7 84.7L162.3 85L161.5 80.4L162.6 80.1ZM162 84.9L160.7 85.1L160.2 81L161.3 80.9ZM160.3 85L159 85.1L158.7 80.1L159.8 80ZM158.7 85.3L157.3 85.3L157.3 83.8L158.6 83.7ZM157.1 85.3L155.7 85.2L155.8 82.6L157.1 82.6ZM155.4 85L154.1 84.8L154.6 80.5L155.7 80.6ZM153.8 85.1L152.4 84.9L153.2 80L154.3 80.2ZM152.3 84L151 83.7L151.7 80.4L152.9 80.6ZM150.6 83.9L149.4 83.5L150.7 78.9L151.8 79.2ZM149.2 83L148 82.6L148.4 81.3L149.6 81.7ZM147.8 82.3L146.5 81.9L147.9 78.5L149 78.9ZM146 82.5L144.8 81.9L146.1 79.2L147.2 79.7ZM144.9 81L143.7 80.4L145.1 78L146.1 78.5ZM143.6 80.1L142.5 79.4L144.8 75.9L145.7 76.4ZM142 79.6L141 78.9L142.9 76.2L143.8 76.9ZM140.9 78.5L139.9 77.7L143 73.8L143.8 74.5ZM139.5 77.7L138.5 76.9L140.7 74.4L141.6 75.2ZM138.7 76.3L137.8 75.4L141.3 71.9L142.1 72.6ZM137.7 75L136.9 74.1L140.3 71.1L141 71.9ZM136.3 74.2L135.5 73.2L137.1 72L137.9 72.9ZM135.8 72.6L135.1 71.6L137 70.3L137.7 71.2ZM134.8 71.4L134.1 70.4L136.1 69.1L136.8 70.1ZM133.8 70.2L133.2 69.1L135.8 67.7L136.4 68.7ZM133.6 68.6L133.1 67.5L135.6 66.3L136.1 67.3ZM133 67.2L132.5 66.1L134.4 65.3L134.9 66.4ZM132.4 65.8L132 64.6L134.4 63.8L134.8 64.9ZM132.1 64.3L131.8 63.1L135.5 62.1L135.8 63.1ZM131.9 62.8L131.7 61.6L133.8 61.2L134 62.3ZM130.9 61.5L130.7 60.3L135.8 59.5L136 60.5ZM130.9 60L130.7 58.7L134.2 58.4L134.3 59.5ZM131.2 58.4L131.1 57.2L135.4 57L135.4 58.1ZM131.4 56.9L131.4 55.7L136.7 55.8L136.7 56.8ZM131.1 55.4L131.2 54.2L135.7 54.6L135.6 55.6ZM131.6 54L131.7 52.8L137.3 53.5L137.2 54.5ZM131.2 52.4L131.4 51.2L135.4 52L135.2 53ZM132.4 51.1L132.6 50L135.6 50.7L135.3 51.8ZM132.5 49.7L132.8 48.5L134.7 49.1L134.4 50.2ZM132.8 48.2L133.2 47.1L138.8 49.2L138.5 50.1ZM133.5 47L134 45.9L136.1 46.8L135.7 47.8ZM134.4 45.8L135 44.7L139.1 46.9L138.7 47.7ZM135 44.4L135.6 43.4L138.4 45.1L137.9 46ZM135.4 43L136.1 42L140.5 45L140 45.8ZM136.6 42.1L137.3 41.1L141.3 44.2L140.7 44.9ZM137.1 40.6L137.9 39.7L142.7 43.9L142.1 44.6ZM138.5 39.9L139.2 39L141.6 41.3L140.9 42.1ZM139.6 39.1L140.5 38.2L143.8 41.8L143.1 42.5ZM140.2 37.6L141.1 36.8L143.1 39.2L142.3 39.9ZM141.5 37L142.5 36.2L144.9 39.5L144.1 40.1ZM143.4 37.1L144.3 36.5L145.8 38.8L145 39.3ZM144.8 36.7L145.7 36.2L147.9 40.1L147.2 40.6ZM146.1 36.4L147 35.9L149.8 41.3L149.1 41.7ZM147.3 35.9L148.3 35.4L149.7 38.9L148.9 39.2ZM148.7 35.9L149.7 35.5L151.7 41.3L151.1 41.5ZM150 35.8L151 35.5L151.8 38.3L151 38.6ZM151.3 36L152.3 35.7L153.7 41.4L153 41.6ZM153 37.7L153.9 37.5L154.7 42.2L154 42.4ZM154.3 38.8L155.1 38.7L155.7 43.9L155.1 43.9ZM155.7 42.4L156.3 42.4L156.6 46.3L156.1 46.4ZM156.7 46.9L157.2 46.9L157.2 53L157 53Z" fill="#d62728"/><path d="M157.4 24.5L158.9 24.6L158.8 25L157.4 24.9ZM159.2 24.8L160.6 24.9L160.6 25.3L159.1 25.2ZM161 24.9L162.4 25.1L162.4 25.5L160.9 25.3ZM162.8 24.9L164.3 25.2L164.2 25.5L162.7 25.2ZM164.5 25.5L166 25.9L165.8 26.3L164.4 25.9ZM166.1 26.5L167.5 27L167.4 27.3L166 26.9ZM167.9 26.8L169.3 27.4L169.1 27.7L167.7 27.2ZM169.5 27.7L170.8 28.3L170.6 28.6L169.3 28ZM171 28.7L172.2 29.3L172.1 29.7L170.8 29ZM172.9 28.9L174.1 29.6L173.9 30L172.7 29.2ZM173.9 30.5L175.1 31.4L174.9 31.7L173.7 30.9ZM175.7 31.1L176.8 32L176.6 32.3L175.4 31.5ZM176.9 32.5L178 33.4L177.7 33.7L176.6 32.8ZM178 33.8L179.1 34.8L178.8 35.1L177.8 34.1ZM179.4 34.9L180.4 36L180.1 36.2L179.2 35.2ZM180.5 36.4L181.4 37.5L181.1 37.7L180.2 36.6ZM181.4 37.8L182.2 39L181.9 39.2L181.1 38.1ZM182.6 39.1L183.4 40.3L183 40.5L182.3 39.4ZM183.9 40.4L184.6 41.6L184.3 41.8L183.6 40.6ZM184.7 42L185.3 43.3L184.9 43.5L184.3 42.2ZM184.8 43.9L185.4 45.2L185 45.3L184.4 44ZM185.3 45.5L185.8 46.9L185.4 47L184.9 45.7ZM186.2 47L186.6 48.4L186.2 48.5L185.9 47.2ZM186.7 48.7L187 50.1L186.6 50.2L186.3 48.8ZM186.9 50.4L187.2 51.8L186.8 51.9L186.5 50.5ZM187.2 52.1L187.4 53.6L187 53.6L186.8 52.2ZM187 53.9L187.1 55.3L186.7 55.3L186.6 53.9ZM187.7 55.6L187.7 57L187.3 57L187.3 55.6ZM187.6 57.3L187.6 58.8L187.2 58.7L187.3 57.3ZM186.7 59L186.5 60.4L186.1 60.3L186.3 58.9ZM186.5 60.7L186.2 62L185.8 62L186.1 60.6ZM186.2 62.3L185.9 63.7L185.5 63.6L185.8 62.3ZM186.4 64.1L186 65.5L185.6 65.4L186 64ZM185.7 65.7L185.2 67L184.8 66.9L185.3 65.6ZM185 67.3L184.5 68.6L184.1 68.4L184.6 67.1ZM184.5 69L183.9 70.2L183.6 70L184.2 68.8ZM183.8 70.5L183.1 71.7L182.8 71.5L183.5 70.3ZM182.6 71.8L181.9 73L181.5 72.8L182.3 71.6ZM181.9 73.4L181.1 74.5L180.8 74.3L181.6 73.2ZM180.2 74.2L179.4 75.3L179.1 75.1L179.9 74ZM179.5 75.8L178.6 76.8L178.3 76.6L179.2 75.6ZM178.3 77L177.3 78L177.1 77.7L178 76.8ZM176.8 77.9L175.8 78.8L175.5 78.5L176.5 77.6ZM175.5 78.9L174.4 79.8L174.2 79.5L175.3 78.6ZM174.3 80.1L173.2 80.9L172.9 80.5L174.1 79.8ZM173.2 81.4L172 82.1L171.8 81.8L172.9 81.1ZM171.5 81.9L170.3 82.6L170.1 82.2L171.3 81.6ZM169.9 82.5L168.7 83.1L168.5 82.7L169.8 82.2ZM168.5 83.5L167.2 84L167.1 83.6L168.4 83.1ZM166.8 83.5L165.5 83.9L165.4 83.6L166.6 83.1ZM165.4 84.7L164 85.1L164 84.7L165.3 84.4ZM163.7 85.1L162.4 85.4L162.3 85L163.7 84.7ZM162.1 85.3L160.7 85.5L160.7 85.1L162 84.9ZM160.4 85.4L159 85.5L159 85.1L160.3 85ZM158.7 85.7L157.4 85.7L157.3 85.3L158.7 85.3ZM157 85.6L155.7 85.6L155.7 85.2L157.1 85.3ZM155.4 85.4L154 85.2L154.1 84.8L155.4 85ZM153.7 85.4L152.3 85.2L152.4 84.9L153.8 85.1ZM152.2 84.4L150.9 84.1L151 83.7L152.3 84ZM150.5 84.2L149.2 83.9L149.4 83.5L150.6 83.9ZM149.1 83.3L147.8 82.9L148 82.6L149.2 83ZM147.6 82.7L146.4 82.2L146.5 81.9L147.8 82.3ZM145.8 82.8L144.6 82.3L144.8 81.9L146 82.5ZM144.7 81.4L143.5 80.8L143.7 80.4L144.9 81ZM143.4 80.4L142.3 79.7L142.5 79.4L143.6 80.1ZM141.8 79.9L140.7 79.2L141 78.9L142 79.6ZM140.7 78.8L139.6 78L139.9 77.7L140.9 78.5ZM139.2 78L138.2 77.2L138.5 76.9L139.5 77.7ZM138.4 76.6L137.5 75.7L137.8 75.4L138.7 76.3ZM137.4 75.3L136.6 74.4L136.9 74.1L137.7 75ZM136 74.5L135.2 73.5L135.5 73.2L136.3 74.2ZM135.5 72.8L134.8 71.8L135.1 71.6L135.8 72.6ZM134.5 71.7L133.8 70.6L134.1 70.4L134.8 71.4ZM133.5 70.4L132.9 69.3L133.2 69.1L133.8 70.2ZM133.3 68.8L132.7 67.6L133.1 67.5L133.6 68.6ZM132.6 67.4L132.1 66.2L132.5 66.1L133 67.2ZM132 66L131.6 64.8L132 64.6L132.4 65.8ZM131.8 64.4L131.4 63.2L131.8 63.1L132.1 64.3ZM131.6 62.9L131.3 61.7L131.7 61.6L131.9 62.8ZM130.5 61.6L130.3 60.3L130.7 60.3L130.9 61.5ZM130.5 60L130.3 58.7L130.7 58.7L130.9 60ZM130.8 58.4L130.8 57.2L131.1 57.2L131.2 58.4ZM131 56.9L131 55.7L131.4 55.7L131.4 56.9ZM130.7 55.4L130.8 54.2L131.2 54.2L131.1 55.4ZM131.2 53.9L131.3 52.7L131.7 52.8L131.6 54ZM130.8 52.4L131 51.1L131.4 51.2L131.2 52.4ZM132 51.1L132.3 49.9L132.6 50L132.4 51.1ZM132.1 49.6L132.4 48.4L132.8 48.5L132.5 49.7ZM132.5 48.1L132.9 47L133.2 47.1L132.8 48.2ZM133.2 46.8L133.7 45.7L134 45.9L133.5 47ZM134.1 45.6L134.6 44.5L135 44.7L134.4 45.8ZM134.6 44.2L135.2 43.2L135.6 43.4L135 44.4ZM135.1 42.8L135.7 41.8L136.1 42L135.4 43ZM136.3 41.8L137 40.9L137.3 41.1L136.6 42.1ZM136.8 40.4L137.6 39.5L137.9 39.7L137.1 40.6ZM138.2 39.6L139 38.8L139.2 39L138.5 39.9ZM139.4 38.8L140.2 38L140.5 38.2L139.6 39.1ZM139.9 37.3L140.9 36.5L141.1 36.8L140.2 37.6ZM141.3 36.6L142.2 35.9L142.5 36.2L141.5 37ZM143.2 36.8L144.1 36.1L144.3 36.5L143.4 37.1ZM144.5 36.4L145.5 35.8L145.7 36.2L144.8 36.7ZM145.9 36L146.8 35.5L147 35.9L146.1 36.4ZM147.1 35.5L148.1 35.1L148.3 35.4L147.3 35.9ZM148.5 35.5L149.5 35.1L149.7 35.5L148.7 35.9ZM149.9 35.4L150.9 35.1L151 35.5L150 35.8ZM151.2 35.6L152.2 35.3L152.3 35.7L151.3 36ZM152.9 37.3L153.8 37.2L153.9 37.5L153 37.7ZM154.2 38.4L155 38.3L155.1 38.7L154.3 38.8ZM155.6 42.1L156.3 42L156.3 42.4L155.7 42.4ZM156.7 46.5L157.1 46.5L157.2 46.9L156.7 46.9Z" fill="#c5b0d5"/><path d="M157.4 23.7L158.9 23.7L158.9 24.6L157.4 24.5ZM159.2 23.8L160.7 23.9L160.6 24.9L159.2 24.8ZM161.1 23.9L162.6 24.1L162.4 25.1L161 24.9ZM162.9 24.2L164.4 24.5L164.3 25.2L162.8 24.9ZM164.7 24.6L166.2 25L166 25.9L164.5 25.5ZM166.5 25.1L168 25.5L167.5 27L166.1 26.5ZM168.3 25.7L169.7 26.2L169.3 27.4L167.9 26.8ZM170 26.3L171.4 27L170.8 28.3L169.5 27.7ZM171.7 27.1L173.1 27.8L172.2 29.3L171 28.7ZM173.4 28L174.7 28.8L174.1 29.6L172.9 28.9ZM175 29L176.2 29.8L175.1 31.4L173.9 30.5ZM176.5 30L177.7 31L176.8 32L175.7 31.1ZM178 31.2L179.1 32.2L178 33.4L176.9 32.5ZM179.4 32.4L180.5 33.5L179.1 34.8L178 33.8ZM180.7 33.7L181.7 34.8L180.4 36L179.4 34.9ZM181.9 35.1L182.9 36.3L181.4 37.5L180.5 36.4ZM183.1 36.5L184 37.8L182.2 39L181.4 37.8ZM184.2 38L185 39.3L183.4 40.3L182.6 39.1ZM185.2 39.6L186 40.9L184.6 41.6L183.9 40.4ZM186.1 41.2L186.8 42.6L185.3 43.3L184.7 42ZM186.9 42.9L187.5 44.3L185.4 45.2L184.8 43.9ZM187.6 44.6L188.2 46.1L185.8 46.9L185.3 45.5ZM188.3 46.4L188.7 47.9L186.6 48.4L186.2 47ZM188.8 48.2L189.1 49.7L187 50.1L186.7 48.7ZM189.2 50L189.4 51.5L187.2 51.8L186.9 50.4ZM189.5 51.8L189.7 53.3L187.4 53.6L187.2 52.1ZM189.7 53.7L189.8 55.2L187.1 55.3L187 53.9ZM189.8 55.5L189.8 57.1L187.7 57L187.7 55.6ZM189.8 57.4L189.7 58.9L187.6 58.8L187.6 57.3ZM189.7 59.3L189.5 60.8L186.5 60.4L186.7 59ZM189.4 61.1L189.2 62.6L186.2 62L186.5 60.7ZM189.1 62.9L188.8 64.4L185.9 63.7L186.2 62.3ZM188.7 64.7L188.3 66.2L186 65.5L186.4 64.1ZM188.2 66.5L187.6 68L185.2 67L185.7 65.7ZM187.5 68.3L186.9 69.7L184.5 68.6L185 67.3ZM186.8 70L186.1 71.4L183.9 70.2L184.5 69ZM186 71.7L185.2 73L183.1 71.7L183.8 70.5ZM185 73.3L184.2 74.6L181.9 73L182.6 71.8ZM184 74.8L183.1 76.1L181.1 74.5L181.9 73.4ZM182.9 76.3L181.9 77.5L179.4 75.3L180.2 74.2ZM181.7 77.8L180.7 78.9L178.6 76.8L179.5 75.8ZM180.5 79.1L179.4 80.2L177.3 78L178.3 77ZM179.1 80.4L178 81.4L175.8 78.8L176.8 77.9ZM177.7 81.6L176.5 82.6L174.4 79.8L175.5 78.9ZM176.2 82.8L175 83.6L173.2 80.9L174.3 80.1ZM174.7 83.8L173.4 84.6L172 82.1L173.2 81.4ZM173.1 84.8L171.7 85.5L170.3 82.6L171.5 81.9ZM171.4 85.6L170 86.3L168.7 83.1L169.9 82.5ZM169.7 86.4L168.3 86.9L167.2 84L168.5 83.5ZM168 87.1L166.5 87.5L165.5 83.9L166.8 83.5ZM166.2 87.6L164.7 88L164 85.1L165.4 84.7ZM164.4 88.1L162.9 88.4L162.4 85.4L163.7 85.1ZM162.6 88.5L161.1 88.7L160.7 85.5L162.1 85.3ZM160.7 88.7L159.2 88.8L159 85.5L160.4 85.4ZM158.9 88.9L157.4 88.9L157.4 85.7L158.7 85.7ZM157 88.9L155.5 88.9L155.7 85.6L157 85.6ZM155.2 88.8L153.7 88.7L154 85.2L155.4 85.4ZM153.3 88.7L151.8 88.5L152.3 85.2L153.7 85.4ZM151.5 88.4L150 88.1L150.9 84.1L152.2 84.4ZM149.7 88L148.2 87.6L149.2 83.9L150.5 84.2ZM147.9 87.5L146.4 87.1L147.8 82.9L149.1 83.3ZM146.1 86.9L144.7 86.4L146.4 82.2L147.6 82.7ZM144.4 86.3L143 85.6L144.6 82.3L145.8 82.8ZM142.7 85.5L141.3 84.8L143.5 80.8L144.7 81.4ZM141 84.6L139.7 83.8L142.3 79.7L143.4 80.4ZM139.4 83.6L138.2 82.8L140.7 79.2L141.8 79.9ZM137.9 82.6L136.7 81.6L139.6 78L140.7 78.8ZM136.4 81.4L135.3 80.4L138.2 77.2L139.2 78ZM135 80.2L133.9 79.1L137.5 75.7L138.4 76.6ZM133.7 78.9L132.7 77.8L136.6 74.4L137.4 75.3ZM132.5 77.5L131.5 76.3L135.2 73.5L136 74.5ZM131.3 76.1L130.4 74.8L134.8 71.8L135.5 72.8ZM130.2 74.6L129.4 73.3L133.8 70.6L134.5 71.7ZM129.2 73L128.4 71.7L132.9 69.3L133.5 70.4ZM128.3 71.4L127.6 70L132.7 67.6L133.3 68.8ZM127.5 69.7L126.9 68.3L132.1 66.2L132.6 67.4ZM126.8 68L126.2 66.5L131.6 64.8L132 66ZM126.1 66.2L125.7 64.7L131.4 63.2L131.8 64.4ZM125.6 64.4L125.3 62.9L131.3 61.7L131.6 62.9ZM125.2 62.6L125 61.1L130.3 60.3L130.5 61.6ZM124.9 60.8L124.7 59.3L130.3 58.7L130.5 60ZM124.7 58.9L124.6 57.4L130.8 57.2L130.8 58.4ZM124.6 57.1L124.6 55.5L131 55.7L131 56.9ZM124.6 55.2L124.7 53.7L130.8 54.2L130.7 55.4ZM124.7 53.3L124.9 51.8L131.3 52.7L131.2 53.9ZM125 51.5L125.2 50L131 51.1L130.8 52.4ZM125.3 49.7L125.6 48.2L132.3 49.9L132 51.1ZM125.7 47.9L126.1 46.4L132.4 48.4L132.1 49.6ZM126.2 46.1L126.8 44.6L132.9 47L132.5 48.1ZM126.9 44.3L127.5 42.9L133.7 45.7L133.2 46.8ZM127.6 42.6L128.3 41.2L134.6 44.5L134.1 45.6ZM128.4 40.9L129.2 39.6L135.2 43.2L134.6 44.2ZM129.4 39.3L130.2 38L135.7 41.8L135.1 42.8ZM130.4 37.8L131.3 36.5L137 40.9L136.3 41.8ZM131.5 36.3L132.5 35.1L137.6 39.5L136.8 40.4ZM132.7 34.8L133.7 33.7L139 38.8L138.2 39.6ZM133.9 33.5L135 32.4L140.2 38L139.4 38.8ZM135.3 32.2L136.4 31.2L140.9 36.5L139.9 37.3ZM136.7 31L137.9 30L142.2 35.9L141.3 36.6ZM138.2 29.8L139.4 29L144.1 36.1L143.2 36.8ZM139.7 28.8L141 28L145.5 35.8L144.5 36.4ZM141.3 27.8L142.7 27.1L146.8 35.5L145.9 36ZM143 27L144.4 26.3L148.1 35.1L147.1 35.5ZM144.7 26.2L146.1 25.7L149.5 35.1L148.5 35.5ZM146.4 25.5L147.9 25.1L150.9 35.1L149.9 35.4ZM148.2 25L149.7 24.6L152.2 35.3L151.2 35.6ZM150 24.5L151.5 24.2L153.8 37.2L152.9 37.3ZM151.8 24.1L153.3 23.9L155 38.3L154.2 38.4ZM153.7 23.9L155.2 23.8L156.3 42L155.6 42.1ZM155.5 23.7L157 23.7L157.1 46.5L156.7 46.5Z" fill="#d9d9d9"/></g>
<text x="161.5" y="12.33" font-size="6.8" text-anchor="middle" font-weight="bold">PRJNA788008−AEG</text>
<rect x="201.4" y="15.2" width="83" height="82.2" fill="#fff" stroke="#444" stroke-width="0.6"/>
<g><path d="M243.5 33.5L245.6 33.6L243.1 56.3ZM246.3 33.7L248.4 34.1L243.1 56.3ZM248.5 36.7L250.3 37.3L243.3 55.7L243.3 55.7ZM251.8 35.4L253.7 36.3L243.4 55.7L243.3 55.7ZM253 38.9L254.6 39.9L243.5 55.8L243.4 55.7ZM257.1 37.6L258.8 39L243.5 55.8L243.5 55.8ZM256.8 42.2L258.1 43.5L243.6 55.9L243.6 55.8ZM261.3 41.7L262.6 43.5L243.6 55.9L243.6 55.9ZM262.5 44.4L263.5 46.3L243.7 56L243.7 56ZM262.7 47.5L263.4 49.4L243.7 56.1L243.7 56ZM262.1 50.5L262.5 52.3L243.7 56.2L243.7 56.1ZM265.5 52.4L265.8 54.5L243.7 56.2L243.7 56.2ZM264 55.3L264 57.3L243.8 56.3L243.8 56.3ZM244.1 56.4L244.1 56.5L243.1 56.3ZM244.1 56.5L244 56.6L243.1 56.3ZM244 56.6L244 56.7L243.1 56.3ZM244 56.7L243.9 56.8L243.1 56.3ZM243.9 56.8L243.9 56.9L243.1 56.3ZM243.8 56.9L243.8 57L243.1 56.3ZM243.8 57L243.7 57.1L243.1 56.3ZM243.7 57.1L243.6 57.1L243.1 56.3ZM243.6 57.2L243.5 57.2L243.1 56.3ZM243.4 57.2L243.4 57.2L243.1 56.3ZM243.3 57.3L243.2 57.3L243.1 56.3ZM243.2 57.3L243.1 57.3L243.1 56.3ZM236 51.7L236.5 51L237.3 51.6L236.9 52.2ZM238 51.9L238.4 51.5L239.1 52.2L238.7 52.6ZM237.3 49.9L237.9 49.4L238.5 50.2L237.9 50.6ZM239.6 51.3L240.1 51L240.6 51.8L240.1 52.1ZM239 48.6L239.7 48.2L240.1 49.1L239.5 49.4ZM239.9 47.9L240.7 47.6L241 48.6L240.3 48.8Z" fill="#9467bd"/><path d="M243.6 27L246.3 27.1L245.6 33.6L243.5 33.5ZM247.2 27.3L249.9 27.8L248.4 34.1L246.3 33.7ZM249.8 31.9L252 32.6L250.3 37.3L248.5 36.7ZM253.7 30.7L256.1 31.8L253.7 36.3L251.8 35.4ZM255.3 35L257.2 36.2L254.6 39.9L253 38.9ZM259.7 34.3L261.7 35.9L258.8 39L257.1 37.6ZM260.8 38L262.5 39.7L258.1 43.5L256.8 42.2ZM265.6 38.3L267.2 40.5L262.6 43.5L261.3 41.7ZM267.6 41.3L268.9 43.6L263.5 46.3L262.5 44.4ZM267.3 45.4L268.3 47.7L263.4 49.4L262.7 47.5ZM265.8 49.3L266.4 51.5L262.5 52.3L262.1 50.5ZM270.1 51.6L270.4 54.2L265.8 54.5L265.5 52.4ZM268.4 55.1L268.4 57.5L264 57.3L264 55.3ZM267.9 58.3L267.6 60.6L255 58.4L255.1 57.2ZM268.1 61.5L267.5 63.8L254.4 59.8L254.7 58.7ZM268.1 64.9L267.2 67.2L255.6 61.9L256 60.7ZM266.1 67.6L264.9 69.7L255.3 63.8L256 62.6ZM264.6 70.4L263.1 72.4L253.7 64.8L254.5 63.8ZM262 72.4L260.4 74.1L252.3 65.8L253.1 64.9ZM260.5 75.4L258.6 76.9L252.2 68.4L253.3 67.5ZM257.7 77.1L255.7 78.4L249.1 66.8L250 66.2ZM254.8 78.4L252.7 79.4L249 70.6L250.3 70ZM252.1 80L249.8 80.7L246.6 69L247.8 68.6ZM249.1 81.4L246.7 81.9L245.2 70.9L246.5 70.6ZM245.9 81.3L243.5 81.4L243.3 71.6L244.8 71.5ZM242.7 79.1L240.6 79L242.3 63.8L243 63.9ZM239.9 78.5L237.9 78.1L242.1 60.6L242.5 60.6ZM237.3 77.7L235.3 77L241.9 59.4L242.2 59.5ZM234.5 77.1L232.6 76.2L239.5 63.1L240.2 63.4ZM231.5 76.6L229.6 75.5L240 60.7L240.4 61ZM229.3 74.7L227.6 73.3L240.4 59.3L240.7 59.5ZM227 72.9L225.5 71.3L237.8 60.8L238.3 61.3ZM225.1 70.7L223.8 69L239 59L239.3 59.4ZM224.1 67.9L223.1 66.1L238.4 58.6L238.6 59.1ZM222.9 65.4L222.2 63.5L239.6 57.5L239.7 57.8ZM221.6 62.9L221 60.9L235.9 57.8L236.1 58.5ZM220.3 60.3L220 58.1L238.9 56.6L238.9 57ZM228.4 57L228.4 55.6L240.5 56.2L240.5 56.4ZM229.2 55.2L229.3 53.9L240.5 55.9L240.5 56.1ZM229.1 53.4L229.4 52.1L240.6 55.5L240.5 55.8ZM229.8 51.8L230.3 50.5L240.7 55.2L240.6 55.5ZM230.3 50L231 48.9L240.9 54.9L240.8 55.2ZM236.9 52.2L237.3 51.6L242.3 55.7L242.3 55.8ZM238.7 52.6L239.1 52.2L242.4 55.6L242.4 55.7ZM237.9 50.6L238.5 50.2L242.5 55.5L242.4 55.6ZM240.1 52.1L240.6 51.8L242.6 55.5L242.5 55.5ZM239.5 49.4L240.1 49.1L242.7 55.4L242.6 55.4ZM240.3 48.8L241 48.6L242.8 55.4L242.8 55.4ZM242.8 55L242.9 55L243 55.7L242.9 55.7ZM243 55L243.1 55L243.1 55.6L243 55.7Z" fill="#ad494a"/><path d="M243.6 23.7L246.7 23.9L246.3 27.1L243.6 27ZM247.7 24L250.7 24.6L249.9 27.8L247.2 27.3ZM251.7 24.9L254.6 25.8L253.2 29.6L250.6 28.7ZM255.6 26.2L258.4 27.5L258.1 27.9L255.4 26.6ZM259.3 28L261.8 29.6L259.8 32.5L257.5 31.1ZM262.7 30.2L265 32.2L264.7 32.6L262.3 30.7ZM265.8 32.9L267.9 35.1L265.3 37.3L263.4 35.3ZM272.8 42.9L273.9 45.7L271.4 46.6L270.4 44ZM274.3 46.7L275 49.7L270.1 50.7L269.4 48.2ZM275.2 50.7L275.6 53.7L274.3 53.8L273.9 50.9ZM275.7 54.8L275.7 57.8L272.3 57.7L272.3 54.9ZM275.6 58.9L275.2 61.9L268.6 60.7L268.9 58.3ZM275 62.9L274.3 65.9L268.5 64.1L269.1 61.7ZM273.9 66.9L272.8 69.7L268.1 67.6L269 65.2ZM272.4 70.6L270.9 73.3L265.8 70.2L267 68ZM270.3 74.2L268.5 76.7L264.7 73.6L266.2 71.5ZM267.9 77.5L265.8 79.7L261.8 75.5L263.5 73.7ZM265 80.4L262.7 82.4L259.2 77.7L261.1 76.1ZM261.8 83L259.3 84.6L256.2 79.3L258.3 77.9ZM258.4 85.1L255.6 86.4L253.1 80.3L255.3 79.3ZM254.6 86.8L251.7 87.7L250 81.7L252.4 80.9ZM250.7 88L247.7 88.6L246.9 82.8L249.4 82.4ZM246.7 88.7L243.6 88.9L243.5 83.4L246.1 83.2ZM242.6 88.9L239.5 88.7L240.2 82.2L242.7 82.4ZM238.5 88.6L235.5 88L237.4 80L239.7 80.4ZM234.5 87.7L231.6 86.8L234.6 78.8L236.7 79.5ZM230.6 86.4L227.8 85.1L231 79.1L233.2 80.1ZM226.9 84.6L224.4 83L228.5 77.1L230.5 78.3ZM223.5 82.4L221.2 80.4L226.3 74.7L228.1 76.2ZM220.4 79.7L218.3 77.5L224 72.6L225.6 74.3ZM217.7 76.7L215.9 74.2L221.1 70.8L222.5 72.8ZM215.3 73.3L213.8 70.6L221.3 67L222.4 69ZM213.4 69.7L212.3 66.9L220.3 64.1L221.1 66.2ZM211.9 65.9L211.2 62.9L219.1 61.3L219.7 63.5ZM211 61.9L210.6 58.9L218.1 58.3L218.4 60.6ZM210.5 57.8L210.5 54.8L227.4 55.6L227.4 57ZM210.6 53.7L211 50.7L228.4 53.7L228.2 55.1ZM211.2 49.7L211.9 46.7L228.5 51.8L228.1 53.2ZM212.3 45.7L213.4 42.9L229.4 50.1L228.9 51.4ZM213.8 42L215.3 39.3L230.1 48.3L229.4 49.6ZM215.9 38.4L217.7 35.9L235.2 50L234.7 50.8ZM218.3 35.1L220.4 32.9L237.3 50.3L236.8 50.9ZM221.2 32.2L223.5 30.2L236.9 48.1L236.2 48.7ZM224.4 29.6L226.9 28L239.3 49.6L238.6 50ZM227.8 27.5L230.6 26.2L239.1 46.7L238.2 47.1ZM231.6 25.8L234.5 24.9L240.3 46.1L239.4 46.4ZM235.5 24.6L238.5 24L242.9 55L242.8 55ZM239.5 23.9L242.6 23.7L243.1 55L243 55Z" fill="#d9d9d9"/><path d="M243.3 55.7L243.3 55.7L243.1 56.3ZM243.3 55.7L243.4 55.7L243.1 56.3ZM243.4 55.7L243.5 55.8L243.1 56.3ZM243.5 55.8L243.5 55.8L243.1 56.3ZM243.6 55.8L243.6 55.9L243.1 56.3ZM243.6 55.9L243.6 55.9L243.1 56.3ZM243.7 56L243.7 56L243.1 56.3ZM243.7 56L243.7 56.1L243.1 56.3ZM243.7 56.1L243.7 56.2L243.1 56.3ZM243.7 56.2L243.7 56.2L243.1 56.3ZM243.8 56.3L243.8 56.3L243.1 56.3ZM254.4 57.2L254.3 58.3L244.1 56.5L244.1 56.4ZM254.1 58.6L253.8 59.6L244 56.6L244.1 56.5ZM255.4 60.5L255 61.7L244 56.7L244 56.6ZM255.4 62.3L254.8 63.4L243.9 56.8L244 56.7ZM253.9 63.4L253.2 64.4L243.9 56.9L243.9 56.8ZM252.6 64.5L251.8 65.3L243.8 57L243.8 56.9ZM252.9 67L251.8 67.9L243.7 57.1L243.8 57ZM249.7 65.7L248.8 66.2L243.6 57.1L243.7 57.1ZM250 69.4L248.8 70L243.5 57.2L243.6 57.2ZM247.5 68L246.4 68.4L243.4 57.2L243.4 57.2ZM246.4 70L245.1 70.2L243.2 57.3L243.3 57.3ZM244.7 70.9L243.3 71L243.1 57.3L243.2 57.3ZM243 61.9L242.5 61.9L243.1 56.3ZM242.6 59.6L242.3 59.6L243.1 56.3ZM242.7 57.9L242.5 57.9L243.1 56.3ZM240.8 61.9L240.3 61.6L243.1 56.3ZM241.4 59.2L241.2 59.1L243.1 56.3ZM241.7 58.2L241.5 58.1L243.1 56.3ZM239 60.5L238.6 60.1L243.1 56.3ZM241 58L240.8 57.8L243.1 56.3ZM239.2 58.7L239 58.3L243.1 56.3ZM241.4 57L241.4 56.9L243.1 56.3ZM238.2 57.8L238 57.4L243.1 56.3ZM239.9 56.9L239.9 56.6L243.1 56.3ZM241.5 56.4L241.5 56.2L243.1 56.3ZM241.5 56.2L241.5 56L243.1 56.3ZM241.5 56L241.5 55.8L243.1 56.3ZM241.6 55.8L241.6 55.6L243.1 56.3ZM241.6 55.6L241.7 55.4L243.1 56.3ZM242.3 55.8L242.3 55.7L243.1 56.3ZM242.4 55.7L242.4 55.6L243.1 56.3ZM242.4 55.6L242.5 55.5L243.1 56.3ZM242.5 55.5L242.6 55.5L243.1 56.3ZM242.6 55.4L242.7 55.4L243.1 56.3ZM242.8 55.4L242.8 55.4L243.1 56.3ZM242.9 55.7L243 55.7L243.1 56.3ZM243 55.7L243.1 55.6L243.1 56.3Z" fill="#1f77b4"/><path d="M249.9 31.3L252.3 32L252 32.6L249.8 31.9ZM253.9 30.1L256.4 31.3L256.1 31.8L253.7 30.7ZM255.6 34.4L257.6 35.7L257.2 36.2L255.3 35ZM260 33.7L262.1 35.4L261.7 35.9L259.7 34.3ZM261.3 37.5L263 39.3L262.5 39.7L260.8 38ZM266.1 37.9L267.7 40.1L267.2 40.5L265.6 38.3ZM268.2 40.9L269.5 43.4L268.9 43.6L267.6 41.3ZM267.9 45.1L268.9 47.5L268.3 47.7L267.3 45.4ZM266.4 49.1L267 51.3L266.4 51.5L265.8 49.3ZM270.7 51.5L271 54.1L270.4 54.2L270.1 51.6ZM269 55.1L269 57.5L268.4 57.5L268.4 55.1Z" fill="#e7ba52"/><path d="M250.4 29.7L252.9 30.5L252.3 32L249.9 31.3ZM255 27.5L257.7 28.8L256.4 31.3L253.9 30.1ZM257 31.9L259.2 33.3L257.6 35.7L255.6 34.4ZM261.7 31.5L264 33.3L262.1 35.4L260 33.7ZM262.7 36L264.5 38L263 39.3L261.3 37.5ZM268.1 36.3L269.9 38.7L267.7 40.1L266.1 37.9ZM270.6 39.5L272 42.1L269.5 43.4L268.2 40.9ZM269.5 44.4L270.5 46.9L268.9 47.5L267.9 45.1ZM268.5 48.5L269.1 50.9L267 51.3L266.4 49.1ZM273 51.1L273.3 53.9L271 54.1L270.7 51.5ZM271.3 55L271.3 57.6L269 57.5L269 55.1ZM265.4 70.9L263.9 73L263.1 72.4L264.6 70.4ZM262.7 73.1L261.1 74.8L260.4 74.1L262 72.4ZM246 82.3L243.5 82.4L243.5 81.4L245.9 81.3ZM242.7 80.4L240.5 80.3L240.6 79L242.7 79.1ZM234 78.3L232 77.3L232.6 76.2L234.5 77.1ZM224.1 71.5L222.7 69.7L223.8 69L225.1 70.7ZM235.2 51.1L235.8 50.4L236.5 51L236 51.7ZM237.2 51.3L237.7 50.8L238.4 51.5L238 51.9ZM236.6 49.2L237.3 48.6L237.9 49.4L237.3 49.9ZM239 50.5L239.6 50.1L240.1 51L239.6 51.3ZM238.5 47.7L239.4 47.3L239.7 48.2L239 48.6ZM239.6 47L240.5 46.7L240.7 47.6L239.9 47.9Z" fill="#595959"/><path d="M250.6 28.7L253.2 29.6L252.9 30.5L250.4 29.7ZM255.4 26.6L258.1 27.9L257.7 28.8L255 27.5ZM257.5 31.1L259.8 32.5L259.2 33.3L257 31.9ZM262.3 30.7L264.7 32.6L264 33.3L261.7 31.5ZM263.4 35.3L265.3 37.3L264.5 38L262.7 36ZM268.5 35.9L270.3 38.4L269.9 38.7L268.1 36.3ZM270.9 39.3L272.4 42L272 42.1L270.6 39.5ZM270.4 44L271.4 46.6L270.5 46.9L269.5 44.4ZM269.4 48.2L270.1 50.7L269.1 50.9L268.5 48.5ZM273.9 50.9L274.3 53.8L273.3 53.9L273 51.1ZM272.3 54.9L272.3 57.7L271.3 57.6L271.3 55ZM268.9 58.3L268.6 60.7L267.6 60.6L267.9 58.3ZM269.1 61.7L268.5 64.1L267.5 63.8L268.1 61.5ZM269 65.2L268.1 67.6L267.2 67.2L268.1 64.9ZM267 68L265.8 70.2L264.9 69.7L266.1 67.6ZM266.2 71.5L264.7 73.6L263.9 73L265.4 70.9ZM263.5 73.7L261.8 75.5L261.1 74.8L262.7 73.1ZM261.1 76.1L259.2 77.7L258.6 76.9L260.5 75.4ZM258.3 77.9L256.2 79.3L255.7 78.4L257.7 77.1ZM255.3 79.3L253.1 80.3L252.7 79.4L254.8 78.4ZM252.4 80.9L250 81.7L249.8 80.7L252.1 80ZM249.4 82.4L246.9 82.8L246.7 81.9L249.1 81.4ZM246.1 83.2L243.5 83.4L243.5 82.4L246 82.3ZM242.7 81.7L240.3 81.6L240.5 80.3L242.7 80.4ZM239.8 79.8L237.6 79.3L237.9 78.1L239.9 78.5ZM236.9 78.9L234.8 78.2L235.3 77L237.3 77.7ZM233.5 79.5L231.4 78.5L232 77.3L234 78.3ZM230.8 77.8L228.9 76.5L229.6 75.5L231.5 76.6ZM228.5 75.7L226.8 74.2L227.6 73.3L229.3 74.7ZM226.1 73.8L224.5 72.2L225.5 71.3L227 72.9ZM223.1 72.4L221.6 70.4L222.7 69.7L224.1 71.5ZM223 68.6L221.9 66.7L223.1 66.1L224.1 67.9ZM221.7 65.9L220.9 63.9L222.2 63.5L222.9 65.4ZM220.3 63.3L219.8 61.1L221 60.9L221.6 62.9ZM219 60.5L218.7 58.2L220 58.1L220.3 60.3ZM227.4 57L227.4 55.6L228.4 55.6L228.4 57ZM228.2 55.1L228.4 53.7L229.3 53.9L229.2 55.2ZM228.1 53.2L228.5 51.8L229.4 52.1L229.1 53.4ZM228.9 51.4L229.4 50.1L230.3 50.5L229.8 51.8ZM229.4 49.6L230.1 48.3L231 48.9L230.3 50ZM234.7 50.8L235.2 50L235.8 50.4L235.2 51.1ZM236.8 50.9L237.3 50.3L237.7 50.8L237.2 51.3ZM236.2 48.7L236.9 48.1L237.3 48.6L236.6 49.2ZM238.6 50L239.3 49.6L239.6 50.1L239 50.5ZM238.2 47.1L239.1 46.7L239.4 47.3L238.5 47.7ZM239.4 46.4L240.3 46.1L240.5 46.7L239.6 47Z" fill="#aec7e8"/><path d="M255.1 57.2L255 58.4L254.3 58.3L254.4 57.2ZM254.7 58.7L254.4 59.8L253.8 59.6L254.1 58.6ZM256 60.7L255.6 61.9L255 61.7L255.4 60.5ZM256 62.6L255.3 63.8L254.8 63.4L255.4 62.3ZM254.5 63.8L253.7 64.8L253.2 64.4L253.9 63.4ZM253.1 64.9L252.3 65.8L251.8 65.3L252.6 64.5ZM253.3 67.5L252.2 68.4L251.8 67.9L252.9 67ZM250 66.2L249.1 66.8L248.8 66.2L249.7 65.7ZM250.3 70L249 70.6L248.8 70L250 69.4ZM247.8 68.6L246.6 69L246.4 68.4L247.5 68ZM246.5 70.6L245.2 70.9L245.1 70.2L246.4 70ZM244.8 71.5L243.3 71.6L243.3 71L244.7 70.9ZM243 63.2L242.3 63.2L242.5 61.9L243 61.9ZM242.6 60L242.2 59.9L242.3 59.6L242.6 59.6ZM242.4 58.9L242.2 58.8L242.5 57.9L242.7 57.9ZM240.4 62.8L239.8 62.5L240.3 61.6L240.8 61.9ZM240.7 60.4L240.4 60.2L241.2 59.1L241.4 59.2ZM241.1 59L240.8 58.8L241.5 58.1L241.7 58.2ZM238.7 60.8L238.3 60.4L238.6 60.1L239 60.5ZM239.8 59L239.5 58.6L240.8 57.8L241 58ZM240.3 57.6L240.2 57.3L241.4 56.9L241.4 57ZM236.7 58.3L236.5 57.7L238 57.4L238.2 57.8ZM239.6 56.9L239.5 56.6L239.9 56.6L239.9 56.9Z" fill="#d62728"/><path d="M243 63.9L242.3 63.8L242.3 63.2L243 63.2ZM242.5 60.6L242.1 60.6L242.2 59.9L242.6 60ZM242.2 59.5L241.9 59.4L242.2 58.8L242.4 58.9ZM240.2 63.4L239.5 63.1L239.8 62.5L240.4 62.8ZM240.4 61L240 60.7L240.4 60.2L240.7 60.4ZM240.7 59.5L240.4 59.3L240.8 58.8L241.1 59ZM238.3 61.3L237.8 60.8L238.3 60.4L238.7 60.8ZM239.3 59.4L239 59L239.5 58.6L239.8 59ZM238.6 59.1L238.4 58.6L238.9 58.3L239.2 58.7ZM239.7 57.8L239.6 57.5L240.2 57.3L240.3 57.6ZM236.1 58.5L235.9 57.8L236.5 57.7L236.7 58.3ZM238.9 57L238.9 56.6L239.5 56.6L239.6 56.9Z" fill="#e377c2"/><path d="M242.7 82.4L240.2 82.2L240.3 81.6L242.7 81.7ZM239.7 80.4L237.4 80L237.6 79.3L239.8 79.8ZM236.7 79.5L234.6 78.8L234.8 78.2L236.9 78.9ZM233.2 80.1L231 79.1L231.4 78.5L233.5 79.5ZM230.5 78.3L228.5 77.1L228.9 76.5L230.8 77.8ZM228.1 76.2L226.3 74.7L226.8 74.2L228.5 75.7ZM225.6 74.3L224 72.6L224.5 72.2L226.1 73.8ZM222.5 72.8L221.1 70.8L221.6 70.4L223.1 72.4ZM222.4 69L221.3 67L221.9 66.7L223 68.6ZM221.1 66.2L220.3 64.1L220.9 63.9L221.7 65.9ZM219.7 63.5L219.1 61.3L219.8 61.1L220.3 63.3ZM218.4 60.6L218.1 58.3L218.7 58.2L219 60.5Z" fill="#c5b0d5"/><path d="M240.5 56.4L240.5 56.2L241.5 56.2L241.5 56.4ZM240.5 56.1L240.5 55.9L241.5 56L241.5 56.2ZM240.5 55.8L240.6 55.5L241.5 55.8L241.5 56ZM240.6 55.5L240.7 55.2L241.6 55.6L241.6 55.8ZM240.8 55.2L240.9 54.9L241.7 55.4L241.6 55.6Z" fill="#ff7f0e"/></g>
<text x="243.5" y="12.33" font-size="6.8" text-anchor="middle" font-weight="bold">GSE156451−CRC</text>
<text x="27.8" y="57.84" font-size="4.3" text-anchor="end" fill="#444">0%</text>
<line x1="28.2" y1="56.3" x2="29.8" y2="56.3" stroke="#444" stroke-width="0.4"/>
<text x="27.8" y="49.69" font-size="4.3" text-anchor="end" fill="#444">25%</text>
<line x1="28.2" y1="48.15" x2="29.8" y2="48.15" stroke="#444" stroke-width="0.4"/>
<text x="27.8" y="41.54" font-size="4.3" text-anchor="end" fill="#444">50%</text>
<line x1="28.2" y1="40" x2="29.8" y2="40" stroke="#444" stroke-width="0.4"/>
<text x="27.8" y="33.39" font-size="4.3" text-anchor="end" fill="#444">75%</text>
<line x1="28.2" y1="31.85" x2="29.8" y2="31.85" stroke="#444" stroke-width="0.4"/>
<text x="27.8" y="25.24" font-size="4.3" text-anchor="end" fill="#444">100%</text>
<line x1="28.2" y1="23.7" x2="29.8" y2="23.7" stroke="#444" stroke-width="0.4"/>
<text x="10.2" y="52.86" font-size="6.6" text-anchor="middle" fill="#222" transform="rotate(-90 10.2 50.5)">Relative abundance</text>
<rect x="29.8" y="113.4" width="82.6" height="81.8" fill="#fff" stroke="#444" stroke-width="0.6"/>
<g><path d="M71.3 136.1L72 136.1L71.3 154.3ZM72 137L72.6 137L71.3 154.3ZM72.8 134.9L73.4 134.9L71.3 154.3ZM73 139L73.6 139.1L71.3 154.3ZM74.6 132L75.4 132.1L71.3 154.3ZM75.4 132.5L76.2 132.6L71.3 154.3ZM76 133.5L76.7 133.7L71.3 154.3ZM75.5 138.5L76 138.7L71.3 154.3ZM75.4 140.8L75.9 141L71.3 154.3ZM80 129.2L80.9 129.5L71.3 154.3ZM79.4 133.3L80.2 133.6L71.3 154.3ZM78.1 138.6L78.6 138.8L71.3 154.3ZM81.1 133.8L81.8 134.1L71.3 154.3ZM83.2 131.5L84 132L71.3 154.3ZM83.7 132.6L84.5 133L71.3 154.3ZM82.3 136.5L83 136.9L71.3 154.3ZM82.6 137.5L83.2 137.9L71.3 154.3ZM86.4 133.6L87.1 134.2L71.3 154.3ZM85.8 135.9L86.4 136.4L71.3 154.3ZM86.6 136.3L87.2 136.8L71.3 154.3ZM85.8 138.4L86.4 138.9L71.3 154.3ZM81.2 144.2L81.5 144.6L71.3 154.3ZM85.8 140.6L86.2 141.2L71.3 154.3ZM85.1 142.2L85.6 142.7L71.3 154.3ZM86.3 142.1L86.7 142.7L71.3 154.3ZM86 143.2L86.4 143.7L71.3 154.3ZM84.3 145.2L84.6 145.7L71.3 154.3ZM91.8 141.1L92.2 141.8L71.3 154.3ZM91.5 142.3L91.9 143L71.3 154.3ZM86 146.3L86.2 146.9L71.3 154.3ZM88.2 145.9L88.5 146.5L71.3 154.3ZM93.6 144.2L93.9 145L71.3 154.3ZM85.9 148.3L86.1 148.9L71.3 154.3ZM86.6 148.7L86.8 149.2L71.3 154.3ZM95.1 146.6L95.3 147.4L71.3 154.3ZM84.5 150.6L84.6 151L71.3 154.3ZM96.5 148.1L96.7 149L71.3 154.3ZM86.3 151.2L86.4 151.7L71.3 154.3ZM92.3 150.8L92.4 151.5L71.3 154.3ZM92.6 151.5L92.7 152.3L71.3 154.3ZM89.2 152.7L89.3 153.3L71.3 154.3ZM87.5 153.4L87.5 154L71.3 154.3ZM93.8 153.9L93.8 154.7L71.3 154.3ZM84.9 154.6L84.8 155L71.3 154.3ZM90.3 155.4L90.3 156L71.3 154.3ZM95.6 156.6L95.5 157.4L71.3 154.3ZM95.1 157.4L95 158.3L71.3 154.3ZM90.2 157.5L90 158.1L71.3 154.3ZM91.7 158.5L91.5 159.2L71.3 154.3ZM91.1 159.2L90.9 159.9L71.3 154.3ZM91 159.9L90.7 160.6L71.3 154.3ZM91 160.7L90.7 161.4L71.3 154.3ZM95.1 163L94.8 163.9L71.3 154.3ZM85.5 160.1L85.3 160.6L71.3 154.3ZM86 161L85.8 161.5L71.3 154.3ZM94.1 165.7L93.7 166.5L71.3 154.3ZM88.4 163.7L88.1 164.2L71.3 154.3ZM84.5 162.1L84.2 162.6L71.3 154.3ZM82.7 161.6L82.4 162L71.3 154.3ZM91.1 168.2L90.6 168.8L71.3 154.3ZM85.7 165.2L85.3 165.7L71.3 154.3ZM81.6 162.7L81.3 163.1L71.3 154.3ZM86.9 168L86.4 168.5L71.3 154.3ZM89.2 171.3L88.6 171.9L71.3 154.3ZM86.7 170L86.2 170.6L71.3 154.3ZM82 166.1L81.6 166.4L71.3 154.3ZM86.2 171.9L85.6 172.4L71.3 154.3ZM83.7 170.2L83.2 170.6L71.3 154.3ZM81.7 168.7L81.2 169.1L71.3 154.3ZM84.7 174.4L84 174.8L71.3 154.3ZM82.4 172.3L81.8 172.7L71.3 154.3ZM81.2 171.7L80.6 172.1L71.3 154.3ZM81.2 173.4L80.6 173.8L71.3 154.3ZM80.7 174.1L80 174.4L71.3 154.3ZM79.7 173.9L79 174.2L71.3 154.3ZM79.5 175.5L78.7 175.8L71.3 154.3ZM77.1 171L76.5 171.2L71.3 154.3ZM78.3 177.3L77.5 177.5L71.3 154.3ZM76.2 173L75.6 173.1L71.3 154.3ZM74.6 169.1L74.1 169.2L71.3 154.3ZM73.7 167.2L73.2 167.3L71.3 154.3ZM73.6 169.7L73 169.8L71.3 154.3ZM73.2 171.4L72.6 171.5L71.3 154.3ZM72.4 169.7L71.9 169.8L71.3 154.3ZM72 172.7L71.3 172.7L71.3 154.3ZM71.3 169.8L70.7 169.8L71.3 154.3ZM70.7 171.3L70.1 171.3L71.3 154.3ZM70 171.1L69.5 171L71.3 154.3ZM69.2 172.7L68.6 172.6L71.3 154.3ZM68.8 170.9L68.2 170.8L71.3 154.3ZM68.7 168.1L68.2 168L71.3 154.3ZM65.9 178.3L65 178.1L71.3 154.3ZM65.2 177.3L64.4 177.1L71.3 154.3ZM67.3 167.3L66.9 167.2L71.3 154.3ZM65.6 170.6L65.1 170.4L71.3 154.3ZM65.2 170L64.6 169.8L71.3 154.3ZM64.2 170.6L63.7 170.4L71.3 154.3ZM63.9 169.8L63.4 169.5L71.3 154.3ZM63.7 168.9L63.2 168.6L71.3 154.3ZM61.4 171.7L60.8 171.3L71.3 154.3ZM62.1 169.1L61.6 168.7L71.3 154.3ZM62 168.1L61.5 167.8L71.3 154.3ZM62.7 166.1L62.3 165.8L71.3 154.3ZM60 168.7L59.5 168.3L71.3 154.3ZM58.3 169.6L57.8 169.1L71.3 154.3ZM58.6 168.2L58.1 167.8L71.3 154.3ZM57.7 168.1L57.3 167.6L71.3 154.3ZM58 166.9L57.6 166.4L71.3 154.3ZM59.6 164.5L59.3 164.1L71.3 154.3ZM54.6 167.9L54.2 167.3L71.3 154.3ZM52.9 168.2L52.4 167.5L71.3 154.3ZM60.7 161.7L60.4 161.3L71.3 154.3ZM59.9 161.6L59.6 161.2L71.3 154.3ZM53.2 165L52.8 164.4L71.3 154.3ZM57.3 161.9L57.1 161.4L71.3 154.3ZM58.4 160.7L58.2 160.2L71.3 154.3ZM55.9 161.3L55.7 160.7L71.3 154.3ZM53.4 161.6L53.2 161L71.3 154.3ZM50.5 161.9L50.3 161.2L71.3 154.3ZM51 160.9L50.8 160.2L71.3 154.3ZM50.4 160.2L50.2 159.5L71.3 154.3ZM55.7 158.1L55.5 157.6L71.3 154.3ZM56.6 157.3L56.5 156.8L71.3 154.3ZM59.1 156.3L59 155.9L71.3 154.3ZM57.8 156L57.8 155.6L71.3 154.3ZM58 155.5L57.9 155.1L71.3 154.3ZM60 154.9L60 154.5L71.3 154.3ZM52.4 154.6L52.4 154L71.3 154.3ZM53.7 154L53.7 153.3L71.3 154.3ZM51.8 153.2L51.8 152.5L71.3 154.3ZM54 152.7L54 152.1L71.3 154.3ZM52.9 151.9L53 151.2L71.3 154.3ZM56.3 151.8L56.4 151.3L71.3 154.3ZM59.8 151.9L59.9 151.5L71.3 154.3ZM55 150.3L55.2 149.7L71.3 154.3ZM51.6 148.7L51.8 148L71.3 154.3ZM57.1 149.7L57.3 149.2L71.3 154.3ZM55.9 148.7L56.1 148.1L71.3 154.3ZM56.6 148.3L56.8 147.8L71.3 154.3ZM57.6 148.1L57.8 147.6L71.3 154.3ZM57.1 147.2L57.4 146.7L71.3 154.3ZM61.3 148.8L61.5 148.5L71.3 154.3ZM56.9 145.8L57.3 145.3L71.3 154.3ZM59.8 146.9L60 146.5L71.3 154.3ZM59 145.7L59.3 145.3L71.3 154.3ZM61.6 147L61.9 146.6L71.3 154.3ZM62.4 147L62.6 146.7L71.3 154.3ZM62.8 146.8L63 146.5L71.3 154.3ZM60.7 144.2L61 143.9L71.3 154.3ZM61.7 144.5L62 144.1L71.3 154.3ZM60.5 142.4L60.9 142.1L71.3 154.3ZM61.7 142.9L62.1 142.5L71.3 154.3ZM61.7 142L62.1 141.7L71.3 154.3ZM65.4 146.2L65.7 146L71.3 154.3ZM64 143.5L64.4 143.2L71.3 154.3ZM66 145.8L66.3 145.6L71.3 154.3ZM65.8 144.5L66.1 144.3L71.3 154.3ZM63.8 139.8L64.3 139.5L71.3 154.3ZM65 140.9L65.4 140.7L71.3 154.3ZM65.9 141.6L66.3 141.5L71.3 154.3ZM65.2 138.5L65.8 138.3L71.3 154.3ZM66.5 140.3L67 140.1L71.3 154.3ZM67.8 142.8L68.2 142.7L71.3 154.3ZM68.2 142.4L68.6 142.3L71.3 154.3ZM68.1 140L68.6 139.9L71.3 154.3ZM68.4 139L69 138.9L71.3 154.3ZM69 139L69.6 138.9L71.3 154.3ZM69.6 138.5L70.1 138.4L71.3 154.3ZM70.6 145.1L71 145.1L71.3 154.3ZM70.9 143.9L71.3 143.9L71.3 154.3Z" fill="#1f77b4"/><path d="M71.3 130.9L72.1 130.9L72 136.1L71.3 136.1ZM72.2 130.4L73 130.4L72.6 137L72 137ZM73.4 126.1L74.4 126.1L73.4 134.9L72.8 134.9ZM74.1 129.8L74.9 129.9L73.6 139.1L73 139ZM75.7 124.8L76.8 124.9L75.7 130.8L74.8 130.7ZM75.9 129.7L76.8 129.9L76.2 132.6L75.4 132.5ZM77.9 125.2L78.9 125.5L77.5 130.7L76.7 130.5ZM78.9 125.5L80 125.8L77.8 132.7L77.1 132.5ZM78.3 131.3L79.1 131.6L75.9 141L75.4 140.8ZM81 126.2L82 126.6L81.2 128.6L80.3 128.3ZM80.5 130.5L81.4 130.8L80.2 133.6L79.4 133.3ZM80.5 133L81.3 133.3L78.6 138.8L78.1 138.6ZM84 127.6L85 128L82.6 132.5L81.9 132.1ZM85 128.1L85.9 128.6L84.4 131.2L83.6 130.7ZM85.3 129.7L86.2 130.2L84.5 133L83.7 132.6ZM85.3 131.8L86.1 132.3L83 136.9L82.3 136.5ZM85.7 132.9L86.5 133.4L83.2 137.9L82.6 137.5ZM87.7 131.7L88.5 132.3L87.1 134.2L86.4 133.6ZM89 131.7L89.8 132.4L86.4 136.4L85.8 135.9ZM88.8 133.7L89.5 134.3L87.2 136.8L86.6 136.3ZM91.1 132.6L91.9 133.3L89.2 136L88.6 135.4ZM90 135.3L90.6 136L81.5 144.6L81.2 144.2ZM92.6 134.2L93.3 134.9L90.9 137.1L90.3 136.4ZM92.3 135.9L92.9 136.7L85.6 142.7L85.1 142.2ZM90.5 138.7L91 139.4L86.7 142.7L86.3 142.1ZM94.6 136.7L95.2 137.5L88.7 142.1L88.3 141.5ZM95.2 137.6L95.8 138.5L89.3 142.7L88.9 142ZM94.2 139.6L94.7 140.4L92.2 141.8L91.8 141.1ZM94 140.9L94.4 141.7L91.9 143L91.5 142.3ZM96.9 140.4L97.3 141.3L92.7 143.6L92.3 142.9ZM97.3 141.4L97.8 142.3L92.2 144.8L91.9 144.1ZM97.8 142.3L98.2 143.3L95.5 144.4L95.1 143.5ZM94.8 144.7L95.1 145.6L86.1 148.9L85.9 148.3ZM95.5 145.4L95.8 146.3L86.8 149.2L86.6 148.7ZM97.7 145.8L98 146.7L95.3 147.4L95.1 146.6ZM99.1 146.4L99.4 147.4L91.8 149.3L91.6 148.5ZM97.6 147.9L97.8 148.8L96.7 149L96.5 148.1ZM99.6 148.5L99.8 149.5L95.6 150.2L95.4 149.4ZM99.7 149.6L99.9 150.6L95.5 151.1L95.3 150.3ZM95.9 151.1L96 152L92.7 152.3L92.6 151.5ZM97.8 151.9L97.9 152.8L89.3 153.3L89.2 152.7ZM100 152.7L100 153.7L94.8 153.8L94.8 153ZM100 153.8L100 154.8L97.8 154.8L97.8 153.8ZM92.1 154.7L92.1 155.4L84.8 155L84.9 154.6ZM97.9 155.8L97.8 156.7L90.3 156L90.3 155.4ZM99.3 156.9L99.2 157.9L95.5 157.4L95.6 156.6ZM99.6 158L99.5 159L97.2 158.6L97.3 157.7ZM99.5 159.1L99.3 160L94 159L94.2 158.2ZM97.2 159.7L97 160.6L91.5 159.2L91.7 158.5ZM93.6 159.8L93.4 160.6L90.9 159.9L91.1 159.2ZM96.5 161.5L96.2 162.4L90.7 160.6L91 159.9ZM98.3 163.1L98 164.1L93.5 162.4L93.8 161.6ZM98 164.1L97.6 165L96.7 164.6L97 163.7ZM91.1 162.4L90.8 163.1L85.3 160.6L85.5 160.1ZM97.1 166L96.7 166.9L92.1 164.6L92.4 163.9ZM94.9 166.1L94.5 166.9L93.7 166.5L94.1 165.7ZM92.2 165.7L91.7 166.4L88.1 164.2L88.4 163.7ZM95.6 168.7L95 169.6L87.4 164.7L87.8 164.1ZM95 169.6L94.4 170.4L90.1 167.4L90.6 166.8ZM94.4 170.5L93.8 171.3L92.2 170.1L92.8 169.3ZM93.7 171.3L93.1 172.1L90.6 170L91.1 169.3ZM85.1 165.6L84.7 166.1L81.3 163.1L81.6 162.7ZM89 169.8L88.4 170.5L86.4 168.5L86.9 168ZM91.7 173.6L91 174.3L89.7 173L90.3 172.3ZM90.9 174.3L90.2 175L88.4 173L89 172.4ZM89 173.7L88.3 174.3L81.6 166.4L82 166.1ZM88.7 174.9L88 175.5L85.6 172.4L86.2 171.9ZM86.1 173.2L85.4 173.7L83.2 170.6L83.7 170.2ZM87.7 176.9L86.9 177.5L85 174.6L85.7 174.1ZM86.6 177.1L85.8 177.6L84 174.8L84.7 174.4ZM85.9 178L85.1 178.5L83.4 175.6L84.2 175.2ZM85 178.5L84.2 179L81.2 173.2L81.8 172.9ZM84.1 178.9L83.2 179.4L82.4 177.7L83.2 177.3ZM83.2 179.4L82.3 179.8L81.6 178.1L82.4 177.7ZM82.2 179.8L81.3 180.1L80.4 177.6L81.2 177.3ZM81.3 180.1L80.4 180.5L79.8 178.9L80.7 178.6ZM78.2 174.4L77.5 174.6L76.5 171.2L77.1 171ZM79.3 180.7L78.4 181L77.7 178.4L78.5 178.1ZM78.3 181L77.4 181.2L76 174.9L76.7 174.7ZM77.3 181.2L76.4 181.4L74.6 172L75.2 171.8ZM76 179.4L75.1 179.5L73.2 167.3L73.7 167.2ZM75.3 181.5L74.4 181.6L73.2 171L73.8 170.9ZM74.3 181.6L73.4 181.7L73 177.4L73.8 177.4ZM73.1 178.6L72.2 178.6L71.9 169.8L72.4 169.7ZM72.2 178.3L71.3 178.4L71.3 172.7L72 172.7ZM71.3 175.5L70.5 175.5L70.7 169.8L71.3 169.8ZM70.2 182.2L69.3 182.2L69.9 174L70.6 174.1ZM69.4 179.8L68.5 179.8L69.5 171L70 171.1ZM68.2 181.9L67.2 181.8L68.3 174.8L69 174.9ZM67.2 181.7L66.2 181.6L67.3 175.6L68.1 175.7ZM67 177.1L66.2 176.9L68.2 168L68.7 168.1ZM65.2 181.2L64.3 181L64.6 179.9L65.5 180.1ZM64.9 178.5L64 178.2L64.4 177.1L65.2 177.3ZM64.2 177.5L63.4 177.3L66.9 167.2L67.3 167.3ZM62.3 180.1L61.4 179.8L64.5 171.9L65.1 172.1ZM61.4 179.7L60.5 179.4L63.9 171.6L64.5 171.9ZM60.5 179.3L59.7 178.9L63.2 171.5L63.8 171.8ZM62.5 172.8L61.9 172.5L63.4 169.5L63.9 169.8ZM61 174L60.3 173.7L63.2 168.6L63.7 168.9ZM58.4 176.9L57.6 176.5L60.8 171.3L61.4 171.7ZM57.1 177.1L56.3 176.6L59.3 172.3L59.9 172.7ZM56.3 176.5L55.6 176L58.6 171.8L59.3 172.2ZM55.6 175.9L54.8 175.3L58.5 170.6L59.1 171.1ZM54.8 175.3L54.1 174.7L56.6 171.7L57.3 172.2ZM54.1 174.6L53.4 174L55.8 171.4L56.4 171.9ZM55.6 171.5L55 170.9L58.1 167.8L58.6 168.2ZM52.8 173.1L52.1 172.5L56 168.8L56.5 169.3ZM52.1 172.4L51.5 171.7L55.5 168.2L56 168.7ZM53.5 169.9L52.9 169.3L59.3 164.1L59.6 164.5ZM52 170L51.5 169.3L54.2 167.3L54.6 167.9ZM50.4 170L49.9 169.3L50.9 168.6L51.4 169.3ZM51.3 168.2L50.9 167.5L60.4 161.3L60.7 161.7ZM49.5 168.4L49 167.6L57.4 162.6L57.7 163.1ZM51.2 166.2L50.8 165.5L52.8 164.4L53.2 165ZM54.3 163.5L54 162.9L57.1 161.4L57.3 161.9ZM48.3 165.7L47.9 164.9L56 161.2L56.3 161.8ZM51.6 163.2L51.3 162.5L55.7 160.7L55.9 161.3ZM49.8 163.1L49.5 162.3L53.2 161L53.4 161.6ZM48.6 162.6L48.3 161.8L50.3 161.2L50.5 161.9ZM49.1 161.5L48.9 160.7L50.8 160.2L51 160.9ZM48 160.9L47.8 160.1L50.2 159.5L50.4 160.2ZM46.7 160.3L46.6 159.4L54.1 157.9L54.2 158.5ZM49.1 158.9L48.9 158.1L56.5 156.8L56.6 157.3ZM48.1 158.2L48 157.4L59 155.9L59.1 156.3ZM46.5 157.5L46.4 156.6L53 156L53.1 156.6ZM51.2 156.1L51.2 155.4L57.9 155.1L58 155.5ZM54.3 155.2L54.3 154.6L60 154.5L60 154.9ZM46.5 154.7L46.5 153.9L50.5 153.9L50.5 154.7ZM47.8 153.8L47.8 153L53.7 153.3L53.7 154ZM46.7 152.9L46.7 152L49.3 152.3L49.2 153.1ZM50.1 152.3L50.2 151.6L54 152.1L54 152.7ZM48.3 151.3L48.4 150.5L53 151.2L52.9 151.9ZM47.2 150.2L47.4 149.4L50.7 150.1L50.6 150.8ZM53.1 150.5L53.2 149.9L59.9 151.5L59.8 151.9ZM50.6 149.2L50.8 148.5L55.2 149.7L55 150.3ZM49.3 148L49.6 147.3L51.4 147.9L51.2 148.6ZM54.9 149L55.1 148.4L57.3 149.2L57.1 149.7ZM54.1 148L54.3 147.4L56.1 148.1L55.9 148.7ZM51.4 146.2L51.7 145.5L56.3 147.5L56.1 148.1ZM52.2 145.6L52.5 145L54.5 146L54.2 146.6ZM52.9 145.1L53.3 144.5L55.5 145.7L55.2 146.3ZM55.4 145.6L55.7 145.1L61.5 148.5L61.3 148.8ZM54.4 144.3L54.8 143.7L56.2 144.6L55.9 145.1ZM55.2 143.9L55.6 143.3L58.3 145.3L58 145.7ZM57.4 144.6L57.8 144.1L59.3 145.3L59 145.7ZM56.8 143.3L57.1 142.8L59.2 144.5L58.9 144.9ZM60.8 145.7L61.1 145.4L62.6 146.7L62.4 147ZM60.2 144.5L60.5 144.1L63 146.5L62.8 146.8ZM58.9 142.5L59.3 142.1L61 143.9L60.7 144.2ZM60 142.8L60.4 142.4L62 144.1L61.7 144.5ZM59.2 141L59.7 140.6L60.5 141.5L60 141.9ZM59.6 140.5L60.1 140.1L61.5 141.9L61.1 142.2ZM60.1 140L60.6 139.6L61.4 140.6L60.9 141ZM61.3 140.5L61.8 140.2L65.7 146L65.4 146.2ZM61.1 139L61.6 138.7L63 141L62.6 141.3ZM61.6 138.6L62.1 138.2L64.4 142.3L64 142.5ZM62.1 138.1L62.7 137.8L65 142.2L64.6 142.4ZM62.7 137.7L63.3 137.4L64 139.1L63.5 139.3ZM63.8 138.6L64.4 138.3L65.4 140.7L65 140.9ZM63.8 136.9L64.5 136.7L65.8 140.2L65.3 140.4ZM64.4 136.6L65.1 136.3L65.4 137.2L64.8 137.5ZM65.8 138.4L66.4 138.2L67 140.1L66.5 140.3ZM65.7 135.9L66.4 135.7L67.7 140.6L67.2 140.7ZM66.4 135.6L67 135.5L68.4 141.4L67.9 141.5ZM67.5 137.5L68.1 137.4L68.6 139.9L68.1 140ZM67.7 135.1L68.4 135L68.8 137.3L68.2 137.4ZM68.4 134.9L69.1 134.8L69.3 136.4L68.7 136.5ZM69.4 137.4L70 137.4L70.1 138.4L69.6 138.5ZM70.4 141.9L70.8 141.9L71 145.1L70.6 145.1ZM70.7 137.4L71.3 137.4L71.3 143.9L70.9 143.9Z" fill="#ff7f0e"/><path d="M71.3 124.3L72.4 124.3L72.1 130.9L71.3 130.9ZM72.4 124.4L73.5 124.4L73 130.4L72.2 130.4ZM73.5 124.5L74.6 124.6L74.4 126.1L73.4 126.1ZM74.6 124.6L75.7 124.7L74.9 129.9L74.1 129.8ZM74.8 130.7L75.7 130.8L75.4 132.1L74.6 132ZM76.8 125L77.8 125.2L76.8 129.9L75.9 129.7ZM76.7 130.5L77.5 130.7L76.7 133.7L76 133.5ZM77.1 132.5L77.8 132.7L76 138.7L75.5 138.5ZM80 125.9L81 126.2L79.1 131.6L78.3 131.3ZM80.3 128.3L81.2 128.6L80.9 129.5L80 129.2ZM82 126.6L83 127L81.4 130.8L80.5 130.5ZM83.1 127.1L84 127.5L81.3 133.3L80.5 133ZM81.9 132.1L82.6 132.5L81.8 134.1L81.1 133.8ZM83.6 130.7L84.4 131.2L84 132L83.2 131.5ZM85.9 128.6L86.8 129.2L86.2 130.2L85.3 129.7ZM86.9 129.2L87.7 129.8L86.1 132.3L85.3 131.8ZM87.8 129.8L88.6 130.4L86.5 133.4L85.7 132.9ZM88.6 130.5L89.5 131.1L88.5 132.3L87.7 131.7ZM89.5 131.2L90.3 131.8L89.8 132.4L89 131.7ZM90.3 131.9L91.1 132.5L89.5 134.3L88.8 133.7ZM88.6 135.4L89.2 136L86.4 138.9L85.8 138.4ZM91.9 133.4L92.6 134.1L90.6 136L90 135.3ZM90.3 136.4L90.9 137.1L86.2 141.2L85.8 140.6ZM93.3 135L94 135.8L92.9 136.7L92.3 135.9ZM94 135.8L94.6 136.6L91 139.4L90.5 138.7ZM88.3 141.5L88.7 142.1L86.4 143.7L86 143.2ZM88.9 142L89.3 142.7L84.6 145.7L84.3 145.2ZM95.8 138.5L96.4 139.4L94.7 140.4L94.2 139.6ZM96.4 139.4L96.9 140.3L94.4 141.7L94 140.9ZM92.3 142.9L92.7 143.6L86.2 146.9L86 146.3ZM91.9 144.1L92.2 144.8L88.5 146.5L88.2 145.9ZM95.1 143.5L95.5 144.4L93.9 145L93.6 144.2ZM98.2 143.3L98.5 144.3L95.1 145.6L94.8 144.7ZM98.5 144.4L98.9 145.3L95.8 146.3L95.5 145.4ZM98.8 145.4L99.1 146.4L98 146.7L97.7 145.8ZM91.6 148.5L91.8 149.3L84.6 151L84.5 150.6ZM99.4 147.5L99.6 148.4L97.8 148.8L97.6 147.9ZM95.4 149.4L95.6 150.2L86.4 151.7L86.3 151.2ZM95.3 150.3L95.5 151.1L92.4 151.5L92.3 150.8ZM99.9 150.6L100 151.6L96 152L95.9 151.1ZM99.9 151.7L100 152.7L97.9 152.8L97.8 151.9ZM94.8 153L94.8 153.8L87.5 154L87.5 153.4ZM97.8 153.8L97.8 154.8L93.8 154.7L93.8 153.9ZM100 154.9L99.9 155.9L92.1 155.4L92.1 154.7ZM99.9 155.9L99.8 156.9L97.8 156.7L97.9 155.8ZM99.8 157L99.7 158L99.2 157.9L99.3 156.9ZM97.3 157.7L97.2 158.6L95 158.3L95.1 157.4ZM94.2 158.2L94 159L90 158.1L90.2 157.5ZM99.2 160.1L99 161.1L97 160.6L97.2 159.7ZM99 161.1L98.7 162.1L93.4 160.6L93.6 159.8ZM98.7 162.1L98.4 163.1L96.2 162.4L96.5 161.5ZM93.8 161.6L93.5 162.4L90.7 161.4L91 160.7ZM97 163.7L96.7 164.6L94.8 163.9L95.1 163ZM97.5 165.1L97.2 166L90.8 163.1L91.1 162.4ZM92.4 163.9L92.1 164.6L85.8 161.5L86 161ZM96.6 166.9L96.2 167.8L94.5 166.9L94.9 166.1ZM96.1 167.9L95.6 168.7L91.7 166.4L92.2 165.7ZM87.8 164.1L87.4 164.7L84.2 162.6L84.5 162.1ZM90.6 166.8L90.1 167.4L82.4 162L82.7 161.6ZM92.8 169.3L92.2 170.1L90.6 168.8L91.1 168.2ZM91.1 169.3L90.6 170L85.3 165.7L85.7 165.2ZM93.1 172.1L92.4 172.8L84.7 166.1L85.1 165.6ZM92.4 172.9L91.7 173.6L88.4 170.5L89 169.8ZM90.3 172.3L89.7 173L88.6 171.9L89.2 171.3ZM89 172.4L88.4 173L86.2 170.6L86.7 170ZM90.1 175L89.4 175.7L88.3 174.3L89 173.7ZM89.3 175.7L88.6 176.3L88 175.5L88.7 174.9ZM88.5 176.3L87.7 176.9L85.4 173.7L86.1 173.2ZM85.7 174.1L85 174.6L81.2 169.1L81.7 168.7ZM86.8 177.5L86 178L85.8 177.6L86.6 177.1ZM84.2 175.2L83.4 175.6L81.8 172.7L82.4 172.3ZM81.8 172.9L81.2 173.2L80.6 172.1L81.2 171.7ZM83.2 177.3L82.4 177.7L80.6 173.8L81.2 173.4ZM82.4 177.7L81.6 178.1L80 174.4L80.7 174.1ZM81.2 177.3L80.4 177.6L79 174.2L79.7 173.9ZM80.7 178.6L79.8 178.9L78.7 175.8L79.5 175.5ZM80.3 180.5L79.4 180.8L77.5 174.6L78.2 174.4ZM78.5 178.1L77.7 178.4L77.5 177.5L78.3 177.3ZM76.7 174.7L76 174.9L75.6 173.1L76.2 173ZM75.2 171.8L74.6 172L74.1 169.2L74.6 169.1ZM76.3 181.4L75.4 181.5L75.1 179.5L76 179.4ZM73.8 170.9L73.2 171L73 169.8L73.6 169.7ZM73.8 177.4L73 177.4L72.6 171.5L73.2 171.4ZM73.3 181.7L72.3 181.7L72.2 178.6L73.1 178.6ZM72.3 181.7L71.3 181.7L71.3 178.4L72.2 178.3ZM71.3 181.7L70.3 181.7L70.5 175.5L71.3 175.5ZM70.6 174.1L69.9 174L70.1 171.3L70.7 171.3ZM69.2 182.1L68.2 182L68.5 179.8L69.4 179.8ZM69 174.9L68.3 174.8L68.6 172.6L69.2 172.7ZM68.1 175.7L67.3 175.6L68.2 170.8L68.8 170.9ZM66.2 181.5L65.2 181.3L66.2 176.9L67 177.1ZM65.5 180.1L64.6 179.9L65 178.1L65.9 178.3ZM64.2 180.9L63.3 180.6L64 178.2L64.9 178.5ZM63.3 180.5L62.4 180.2L63.4 177.3L64.2 177.5ZM65.1 172.1L64.5 171.9L65.1 170.4L65.6 170.6ZM64.5 171.9L63.9 171.6L64.6 169.8L65.2 170ZM63.8 171.8L63.2 171.5L63.7 170.4L64.2 170.6ZM59.6 178.8L58.8 178.4L61.9 172.5L62.5 172.8ZM58.8 178.3L57.9 177.8L60.3 173.7L61 174ZM57.9 177.7L57.1 177.2L57.6 176.5L58.4 176.9ZM59.9 172.7L59.3 172.3L61.6 168.7L62.1 169.1ZM59.3 172.2L58.6 171.8L61.5 167.8L62 168.1ZM59.1 171.1L58.5 170.6L62.3 165.8L62.7 166.1ZM57.3 172.2L56.6 171.7L59.5 168.3L60 168.7ZM56.4 171.9L55.8 171.4L57.8 169.1L58.3 169.6ZM53.4 173.9L52.8 173.2L55 170.9L55.6 171.5ZM56.5 169.3L56 168.8L57.3 167.6L57.7 168.1ZM56 168.7L55.5 168.2L57.6 166.4L58 166.9ZM51.5 171.6L50.9 170.9L52.9 169.3L53.5 169.9ZM51 170.8L50.4 170.1L51.5 169.3L52 170ZM51.4 169.3L50.9 168.6L52.4 167.5L52.9 168.2ZM49.9 169.2L49.4 168.4L50.9 167.5L51.3 168.2ZM57.7 163.1L57.4 162.6L59.6 161.2L59.9 161.6ZM49 167.5L48.6 166.7L50.8 165.5L51.2 166.2ZM48.6 166.6L48.2 165.8L54 162.9L54.3 163.5ZM56.3 161.8L56 161.2L58.2 160.2L58.4 160.7ZM47.9 164.9L47.6 164L51.3 162.5L51.6 163.2ZM47.6 164L47.3 163.1L49.5 162.3L49.8 163.1ZM47.3 163.1L47.1 162.2L48.3 161.8L48.6 162.6ZM47.1 162.1L46.8 161.3L48.9 160.7L49.1 161.5ZM46.9 161.2L46.7 160.4L47.8 160.1L48 160.9ZM54.2 158.5L54.1 157.9L55.5 157.6L55.7 158.1ZM46.6 159.4L46.5 158.5L48.9 158.1L49.1 158.9ZM46.5 158.4L46.4 157.6L48 157.4L48.1 158.2ZM53.1 156.6L53 156L57.8 155.6L57.8 156ZM46.4 156.6L46.4 155.7L51.2 155.4L51.2 156.1ZM46.4 155.7L46.4 154.8L54.3 154.6L54.3 155.2ZM50.5 154.7L50.5 153.9L52.4 154L52.4 154.6ZM46.6 153.8L46.6 153L47.8 153L47.8 153.8ZM49.2 153.1L49.3 152.3L51.8 152.5L51.8 153.2ZM46.8 152L46.9 151.2L50.2 151.6L50.1 152.3ZM47 151.1L47.1 150.3L48.4 150.5L48.3 151.3ZM50.6 150.8L50.7 150.1L56.4 151.3L56.3 151.8ZM48 149.5L48.2 148.7L53.2 149.9L53.1 150.5ZM48.7 148.7L48.9 147.9L50.8 148.5L50.6 149.2ZM51.2 148.6L51.4 147.9L51.8 148L51.6 148.7ZM50 147.4L50.3 146.6L55.1 148.4L54.9 149ZM50.7 146.7L51 146L54.3 147.4L54.1 148ZM56.1 148.1L56.3 147.5L56.8 147.8L56.6 148.3ZM54.2 146.6L54.5 146L57.8 147.6L57.6 148.1ZM55.2 146.3L55.5 145.7L57.4 146.7L57.1 147.2ZM53.7 144.7L54 144.1L55.7 145.1L55.4 145.6ZM55.9 145.1L56.2 144.6L57.3 145.3L56.9 145.8ZM58 145.7L58.3 145.3L60 146.5L59.8 146.9ZM56 143.6L56.4 143L57.8 144.1L57.4 144.6ZM58.9 144.9L59.2 144.5L61.9 146.6L61.6 147ZM57.5 143.1L57.9 142.6L61.1 145.4L60.8 145.7ZM58 142.6L58.5 142.2L60.5 144.1L60.2 144.5ZM58.4 142.1L58.8 141.6L59.3 142.1L58.9 142.5ZM58.8 141.5L59.2 141.1L60.4 142.4L60 142.8ZM60 141.9L60.5 141.5L60.9 142.1L60.5 142.4ZM61.1 142.2L61.5 141.9L62.1 142.5L61.7 142.9ZM60.9 141L61.4 140.6L62.1 141.7L61.7 142ZM60.6 139.5L61.1 139.1L61.8 140.2L61.3 140.5ZM62.6 141.3L63 141L64.4 143.2L64 143.5ZM64 142.5L64.4 142.3L66.3 145.6L66 145.8ZM64.6 142.4L65 142.2L66.1 144.3L65.8 144.5ZM63.5 139.3L64 139.1L64.3 139.5L63.8 139.8ZM63.2 137.3L63.8 137L64.4 138.3L63.8 138.6ZM65.3 140.4L65.8 140.2L66.3 141.5L65.9 141.6ZM64.8 137.5L65.4 137.2L65.8 138.3L65.2 138.5ZM65.1 136.2L65.7 136L66.4 138.2L65.8 138.4ZM67.2 140.7L67.7 140.6L68.2 142.7L67.8 142.8ZM67.9 141.5L68.4 141.4L68.6 142.3L68.2 142.4ZM67 135.3L67.7 135.2L68.1 137.4L67.5 137.5ZM68.2 137.4L68.8 137.3L69 138.9L68.4 139ZM68.7 136.5L69.3 136.4L69.6 138.9L69 139ZM69.3 136.5L70 136.4L70 137.4L69.4 137.4ZM70 136.4L70.6 136.4L70.8 141.9L70.4 141.9ZM70.7 136.4L71.3 136.4L71.3 137.4L70.7 137.4Z" fill="#d62728"/><path d="M71.3 124L72.4 124L72.4 124.3L71.3 124.3ZM72.4 124L73.5 124.1L73.5 124.4L72.4 124.4ZM73.6 124.1L74.6 124.2L74.6 124.6L73.5 124.5ZM74.7 124.3L75.7 124.4L75.7 124.7L74.6 124.6ZM75.8 124.4L76.8 124.6L76.8 124.9L75.7 124.8ZM76.9 124.7L77.9 124.9L77.8 125.2L76.8 125ZM78 124.9L79 125.2L78.9 125.5L77.9 125.2ZM79 125.2L80 125.5L80 125.8L78.9 125.5ZM80.1 125.5L81.1 125.9L81 126.2L80 125.9ZM81.1 125.9L82.1 126.3L82 126.6L81 126.2ZM82.2 126.3L83.1 126.7L83 127L82 126.6ZM83.2 126.8L84.1 127.2L84 127.5L83.1 127.1ZM84.2 127.3L85.1 127.7L85 128L84 127.6ZM85.2 127.8L86.1 128.3L85.9 128.6L85 128.1ZM86.1 128.3L87 128.9L86.8 129.2L85.9 128.6ZM87 128.9L87.9 129.5L87.7 129.8L86.9 129.2ZM88 129.6L88.8 130.2L88.6 130.4L87.8 129.8ZM88.8 130.2L89.7 130.8L89.5 131.1L88.6 130.5ZM89.7 130.9L90.5 131.6L90.3 131.8L89.5 131.2ZM90.5 131.6L91.3 132.3L91.1 132.5L90.3 131.9ZM91.3 132.4L92.1 133.1L91.9 133.3L91.1 132.6ZM92.1 133.1L92.8 133.9L92.6 134.1L91.9 133.4ZM92.9 133.9L93.6 134.7L93.3 134.9L92.6 134.2ZM93.6 134.8L94.2 135.6L94 135.8L93.3 135ZM94.2 135.6L94.9 136.5L94.6 136.6L94 135.8ZM94.9 136.5L95.5 137.4L95.2 137.5L94.6 136.7ZM95.5 137.4L96.1 138.3L95.8 138.5L95.2 137.6ZM96.1 138.3L96.6 139.2L96.4 139.4L95.8 138.5ZM96.6 139.3L97.2 140.2L96.9 140.3L96.4 139.4ZM97.2 140.2L97.6 141.2L97.3 141.3L96.9 140.4ZM97.6 141.2L98.1 142.2L97.8 142.3L97.3 141.4ZM98.1 142.2L98.5 143.2L98.2 143.3L97.8 142.3ZM98.5 143.2L98.8 144.2L98.5 144.3L98.2 143.3ZM98.8 144.2L99.2 145.2L98.9 145.3L98.5 144.4ZM99.2 145.3L99.4 146.3L99.1 146.4L98.8 145.4ZM99.4 146.3L99.7 147.3L99.4 147.4L99.1 146.4ZM99.7 147.4L99.9 148.4L99.6 148.4L99.4 147.5ZM99.9 148.4L100.1 149.4L99.8 149.5L99.6 148.5ZM100.1 149.5L100.2 150.5L99.9 150.6L99.7 149.6ZM100.2 150.6L100.3 151.6L100 151.6L99.9 150.6ZM100.3 151.6L100.3 152.7L100 152.7L99.9 151.7ZM100.3 152.7L100.4 153.7L100 153.7L100 152.7ZM100.3 153.8L100.3 154.8L100 154.8L100 153.8ZM100.3 154.9L100.3 155.9L99.9 155.9L100 154.9ZM100.2 155.9L100.1 156.9L99.8 156.9L99.9 155.9ZM100.1 157L100 158L99.7 158L99.8 157ZM100 158.1L99.8 159.1L99.5 159L99.6 158ZM99.8 159.1L99.6 160.1L99.3 160L99.5 159.1ZM99.5 160.1L99.3 161.1L99 161.1L99.2 160.1ZM99.3 161.2L99 162.2L98.7 162.1L99 161.1ZM99 162.2L98.7 163.2L98.4 163.1L98.7 162.1ZM98.6 163.2L98.3 164.2L98 164.1L98.3 163.1ZM98.3 164.2L97.9 165.1L97.6 165L98 164.1ZM97.8 165.2L97.4 166.1L97.2 166L97.5 165.1ZM97.4 166.1L97 167.1L96.7 166.9L97.1 166ZM96.9 167.1L96.5 168L96.2 167.8L96.6 166.9ZM96.4 168L95.9 168.9L95.6 168.7L96.1 167.9ZM95.9 168.9L95.3 169.8L95 169.6L95.6 168.7ZM95.3 169.8L94.7 170.6L94.4 170.4L95 169.6ZM94.7 170.6L94.1 171.5L93.8 171.3L94.4 170.5ZM94 171.5L93.4 172.3L93.1 172.1L93.7 171.3ZM93.3 172.3L92.7 173.1L92.4 172.8L93.1 172.1ZM92.6 173.1L92 173.8L91.7 173.6L92.4 172.9ZM91.9 173.8L91.2 174.5L91 174.3L91.7 173.6ZM91.1 174.6L90.4 175.2L90.2 175L90.9 174.3ZM90.4 175.2L89.6 175.9L89.4 175.7L90.1 175ZM89.6 175.9L88.8 176.5L88.6 176.3L89.3 175.7ZM88.7 176.6L87.9 177.1L87.7 176.9L88.5 176.3ZM87.9 177.2L87.1 177.7L86.9 177.5L87.7 176.9ZM87 177.7L86.2 178.3L86 178L86.8 177.5ZM86.1 178.3L85.3 178.8L85.1 178.5L85.9 178ZM85.2 178.8L84.3 179.2L84.2 179L85 178.5ZM84.3 179.2L83.4 179.7L83.2 179.4L84.1 178.9ZM83.3 179.7L82.4 180.1L82.3 179.8L83.2 179.4ZM82.4 180.1L81.5 180.4L81.3 180.1L82.2 179.8ZM81.4 180.4L80.5 180.8L80.4 180.5L81.3 180.1ZM80.4 180.8L79.5 181.1L79.4 180.8L80.3 180.5ZM79.4 181L78.5 181.3L78.4 181L79.3 180.7ZM78.4 181.3L77.5 181.5L77.4 181.2L78.3 181ZM77.4 181.5L76.5 181.7L76.4 181.4L77.3 181.2ZM76.4 181.7L75.4 181.9L75.4 181.5L76.3 181.4ZM75.4 181.8L74.4 182L74.4 181.6L75.3 181.5ZM74.4 181.9L73.4 182L73.4 181.7L74.3 181.6ZM73.3 182L72.4 182.1L72.3 181.7L73.3 181.7ZM72.3 182L71.3 182L71.3 181.7L72.3 181.7ZM71.3 182L70.3 182L70.3 181.7L71.3 181.7ZM70.2 182.6L69.2 182.5L69.3 182.2L70.2 182.2ZM69.2 182.4L68.2 182.3L68.2 182L69.2 182.1ZM68.2 182.3L67.2 182.1L67.2 181.8L68.2 181.9ZM67.1 182L66.2 181.9L66.2 181.6L67.2 181.7ZM66.1 181.8L65.2 181.6L65.2 181.3L66.2 181.5ZM65.1 181.5L64.2 181.3L64.3 181L65.2 181.2ZM64.2 181.2L63.2 180.9L63.3 180.6L64.2 180.9ZM63.2 180.8L62.3 180.5L62.4 180.2L63.3 180.5ZM62.2 180.4L61.3 180.1L61.4 179.8L62.3 180.1ZM61.3 180L60.4 179.7L60.5 179.4L61.4 179.7ZM60.4 179.6L59.5 179.2L59.7 178.9L60.5 179.3ZM59.5 179.1L58.6 178.6L58.8 178.4L59.6 178.8ZM58.6 178.6L57.8 178.1L57.9 177.8L58.8 178.3ZM57.8 178L57 177.5L57.1 177.2L57.9 177.7ZM57 177.4L56.2 176.9L56.3 176.6L57.1 177.1ZM56.2 176.8L55.4 176.3L55.6 176L56.3 176.5ZM55.4 176.2L54.6 175.6L54.8 175.3L55.6 175.9ZM54.6 175.5L53.9 174.9L54.1 174.7L54.8 175.3ZM53.9 174.8L53.2 174.2L53.4 174L54.1 174.6ZM53.2 174.1L52.5 173.5L52.8 173.2L53.4 173.9ZM52.5 173.4L51.9 172.7L52.1 172.5L52.8 173.1ZM51.9 172.6L51.3 171.9L51.5 171.7L52.1 172.4ZM51.3 171.8L50.7 171.1L50.9 170.9L51.5 171.6ZM50.7 171L50.2 170.3L50.4 170.1L51 170.8ZM50.2 170.2L49.6 169.5L49.9 169.3L50.4 170ZM49.7 169.4L49.2 168.6L49.4 168.4L49.9 169.2ZM49.2 168.5L48.7 167.7L49 167.6L49.5 168.4ZM48.7 167.7L48.3 166.9L48.6 166.7L49 167.5ZM48.3 166.8L47.9 166L48.2 165.8L48.6 166.6ZM48 165.9L47.6 165.1L47.9 164.9L48.3 165.7ZM47.6 165L47.3 164.2L47.6 164L47.9 164.9ZM47.3 164.1L47 163.2L47.3 163.1L47.6 164ZM47 163.2L46.7 162.3L47.1 162.2L47.3 163.1ZM46.8 162.2L46.5 161.4L46.8 161.3L47.1 162.1ZM46.6 161.3L46.4 160.4L46.7 160.4L46.9 161.2ZM46.4 160.4L46.2 159.5L46.6 159.4L46.7 160.3ZM46.3 159.4L46.1 158.5L46.5 158.5L46.6 159.4ZM46.2 158.5L46.1 157.6L46.4 157.6L46.5 158.4ZM46.1 157.5L46 156.7L46.4 156.6L46.5 157.5ZM46.1 156.6L46 155.7L46.4 155.7L46.4 156.6ZM46.1 155.7L46.1 154.8L46.4 154.8L46.4 155.7ZM46.2 154.7L46.2 153.9L46.5 153.9L46.5 154.7ZM46.2 153.8L46.3 152.9L46.6 153L46.6 153.8ZM46.4 152.9L46.4 152L46.7 152L46.7 152.9ZM46.5 152L46.6 151.1L46.9 151.2L46.8 152ZM46.7 151.1L46.8 150.2L47.1 150.3L47 151.1ZM46.9 150.2L47 149.3L47.4 149.4L47.2 150.2ZM47.7 149.4L47.9 148.6L48.2 148.7L48 149.5ZM48.4 148.7L48.6 147.9L48.9 147.9L48.7 148.7ZM49 147.9L49.3 147.2L49.6 147.3L49.3 148ZM49.7 147.3L50 146.5L50.3 146.6L50 147.4ZM50.4 146.6L50.7 145.9L51 146L50.7 146.7ZM51.1 146L51.4 145.3L51.7 145.5L51.4 146.2ZM51.9 145.5L52.2 144.8L52.5 145L52.2 145.6ZM52.6 145L53 144.3L53.3 144.5L52.9 145.1ZM53.4 144.5L53.7 143.9L54 144.1L53.7 144.7ZM54.2 144.1L54.5 143.5L54.8 143.7L54.4 144.3ZM54.9 143.7L55.3 143.2L55.6 143.3L55.2 143.9ZM55.7 143.4L56.1 142.8L56.4 143L56 143.6ZM56.5 143.1L56.9 142.6L57.1 142.8L56.8 143.3ZM57.3 142.8L57.7 142.4L57.9 142.6L57.5 143.1ZM57.8 142.4L58.2 141.9L58.5 142.2L58 142.6ZM58.2 141.9L58.6 141.4L58.8 141.6L58.4 142.1ZM58.6 141.3L59 140.9L59.2 141.1L58.8 141.5ZM59 140.8L59.5 140.3L59.7 140.6L59.2 141ZM59.4 140.2L59.9 139.8L60.1 140.1L59.6 140.5ZM59.9 139.7L60.4 139.3L60.6 139.6L60.1 140ZM60.4 139.2L60.9 138.9L61.1 139.1L60.6 139.5ZM60.9 138.8L61.4 138.4L61.6 138.7L61.1 139ZM61.4 138.3L62 138L62.1 138.2L61.6 138.6ZM62 137.8L62.5 137.5L62.7 137.8L62.1 138.1ZM62.5 137.4L63.1 137.1L63.3 137.4L62.7 137.7ZM63.1 137L63.7 136.7L63.8 137L63.2 137.3ZM63.7 136.6L64.3 136.4L64.5 136.7L63.8 136.9ZM64.3 136.3L65 136L65.1 136.3L64.4 136.6ZM65 135.9L65.6 135.7L65.7 136L65.1 136.2ZM65.6 135.6L66.3 135.4L66.4 135.7L65.7 135.9ZM66.3 135.3L67 135.1L67 135.5L66.4 135.6ZM67 135L67.7 134.9L67.7 135.2L67 135.3ZM67.7 134.8L68.4 134.7L68.4 135L67.7 135.1ZM68.4 134.6L69.1 134.5L69.1 134.8L68.4 134.9ZM69.3 136.2L69.9 136.1L70 136.4L69.3 136.5ZM70 136.1L70.6 136.1L70.6 136.4L70 136.4ZM70.6 136.1L71.3 136L71.3 136.4L70.7 136.4Z" fill="#c5b0d5"/><path d="M71.3 121.7L72.5 121.7L72.4 124L71.3 124ZM72.5 121.7L73.7 121.8L73.5 124.1L72.4 124ZM73.7 121.8L74.9 121.9L74.6 124.2L73.6 124.1ZM74.9 121.9L76.1 122.1L75.7 124.4L74.7 124.3ZM76.1 122.1L77.3 122.2L76.8 124.6L75.8 124.4ZM77.3 122.3L78.4 122.5L77.9 124.9L76.9 124.7ZM78.5 122.5L79.6 122.8L79 125.2L78 124.9ZM79.7 122.8L80.8 123.1L80 125.5L79 125.2ZM80.8 123.1L81.9 123.5L81.1 125.9L80.1 125.5ZM82 123.5L83 123.9L82.1 126.3L81.1 125.9ZM83.1 123.9L84.2 124.3L83.1 126.7L82.2 126.3ZM84.2 124.4L85.3 124.8L84.1 127.2L83.2 126.8ZM85.3 124.9L86.3 125.4L85.1 127.7L84.2 127.3ZM86.4 125.4L87.4 126L86.1 128.3L85.2 127.8ZM87.5 126L88.4 126.6L87 128.9L86.1 128.3ZM88.5 126.6L89.4 127.2L87.9 129.5L87 128.9ZM89.5 127.3L90.4 127.9L88.8 130.2L88 129.6ZM90.5 127.9L91.4 128.6L89.7 130.8L88.8 130.2ZM91.4 128.7L92.3 129.4L90.5 131.6L89.7 130.9ZM92.4 129.4L93.2 130.2L91.3 132.3L90.5 131.6ZM93.3 130.2L94.1 131L92.1 133.1L91.3 132.4ZM94.2 131.1L95 131.9L92.8 133.9L92.1 133.1ZM95 131.9L95.8 132.8L93.6 134.7L92.9 133.9ZM95.8 132.8L96.6 133.7L94.2 135.6L93.6 134.8ZM96.6 133.7L97.3 134.6L94.9 136.5L94.2 135.6ZM97.3 134.7L98 135.6L95.5 137.4L94.9 136.5ZM98 135.7L98.7 136.6L96.1 138.3L95.5 137.4ZM98.7 136.7L99.3 137.6L96.6 139.2L96.1 138.3ZM99.3 137.7L99.9 138.7L97.2 140.2L96.6 139.3ZM99.9 138.7L100.5 139.7L97.6 141.2L97.2 140.2ZM100.5 139.8L101 140.8L98.1 142.2L97.6 141.2ZM101 140.9L101.5 141.9L98.5 143.2L98.1 142.2ZM101.5 142L101.9 143.1L98.8 144.2L98.5 143.2ZM101.9 143.1L102.3 144.2L99.2 145.2L98.8 144.2ZM102.3 144.3L102.6 145.3L99.4 146.3L99.2 145.3ZM102.7 145.4L103 146.5L99.7 147.3L99.4 146.3ZM103 146.6L103.2 147.7L99.9 148.4L99.7 147.4ZM103.2 147.7L103.4 148.9L100.1 149.4L99.9 148.4ZM103.5 148.9L103.6 150.1L100.2 150.5L100.1 149.5ZM103.6 150.1L103.8 151.3L100.3 151.6L100.2 150.6ZM103.8 151.3L103.8 152.5L100.3 152.7L100.3 151.6ZM103.9 152.5L103.9 153.7L100.4 153.7L100.3 152.7ZM103.9 153.7L103.9 154.9L100.3 154.8L100.3 153.8ZM103.9 154.9L103.9 156.1L100.3 155.9L100.3 154.9ZM103.8 156.1L103.8 157.3L100.1 156.9L100.2 155.9ZM103.8 157.3L103.6 158.5L100 158L100.1 157ZM103.6 158.5L103.5 159.7L99.8 159.1L100 158.1ZM103.4 159.7L103.2 160.9L99.6 160.1L99.8 159.1ZM103.2 160.9L103 162L99.3 161.1L99.5 160.1ZM103 162.1L102.7 163.2L99 162.2L99.3 161.2ZM102.6 163.3L102.3 164.3L98.7 163.2L99 162.2ZM102.3 164.4L101.9 165.5L98.3 164.2L98.6 163.2ZM101.9 165.5L101.5 166.6L97.9 165.1L98.3 164.2ZM101.5 166.7L101 167.7L97.4 166.1L97.8 165.2ZM101 167.8L100.5 168.8L97 167.1L97.4 166.1ZM100.5 168.9L99.9 169.9L96.5 168L96.9 167.1ZM99.9 169.9L99.3 170.9L95.9 168.9L96.4 168ZM99.3 171L98.7 171.9L95.3 169.8L95.9 168.9ZM98.7 172L98 172.9L94.7 170.6L95.3 169.8ZM98 173L97.3 173.9L94.1 171.5L94.7 170.6ZM97.3 174L96.6 174.9L93.4 172.3L94 171.5ZM96.6 174.9L95.8 175.8L92.7 173.1L93.3 172.3ZM95.8 175.8L95 176.7L92 173.8L92.6 173.1ZM95 176.7L94.2 177.5L91.2 174.5L91.9 173.8ZM94.1 177.6L93.3 178.4L90.4 175.2L91.1 174.6ZM93.2 178.4L92.4 179.2L89.6 175.9L90.4 175.2ZM92.3 179.2L91.4 179.9L88.8 176.5L89.6 175.9ZM91.4 180L90.5 180.7L87.9 177.1L88.7 176.6ZM90.4 180.7L89.5 181.3L87.1 177.7L87.9 177.2ZM89.4 181.4L88.5 182L86.2 178.3L87 177.7ZM88.4 182L87.5 182.6L85.3 178.8L86.1 178.3ZM87.4 182.6L86.4 183.2L84.3 179.2L85.2 178.8ZM86.3 183.2L85.3 183.7L83.4 179.7L84.3 179.2ZM85.3 183.8L84.2 184.2L82.4 180.1L83.3 179.7ZM84.2 184.3L83.1 184.7L81.5 180.4L82.4 180.1ZM83 184.7L82 185.1L80.5 180.8L81.4 180.4ZM81.9 185.1L80.8 185.5L79.5 181.1L80.4 180.8ZM80.8 185.5L79.7 185.8L78.5 181.3L79.4 181ZM79.6 185.8L78.5 186.1L77.5 181.5L78.4 181.3ZM78.4 186.1L77.3 186.3L76.5 181.7L77.4 181.5ZM77.3 186.4L76.1 186.5L75.4 181.9L76.4 181.7ZM76.1 186.5L74.9 186.7L74.4 182L75.4 181.8ZM74.9 186.7L73.7 186.8L73.4 182L74.4 181.9ZM73.7 186.8L72.5 186.9L72.4 182.1L73.3 182ZM72.5 186.9L71.3 186.9L71.3 182L72.3 182ZM71.3 186.9L70.1 186.9L70.3 182L71.3 182ZM70.1 186.9L68.9 186.8L69.2 182.5L70.2 182.6ZM68.9 186.8L67.7 186.7L68.2 182.3L69.2 182.4ZM67.7 186.7L66.5 186.5L67.2 182.1L68.2 182.3ZM66.5 186.5L65.3 186.4L66.2 181.9L67.1 182ZM65.3 186.3L64.2 186.1L65.2 181.6L66.1 181.8ZM64.1 186.1L63 185.8L64.2 181.3L65.1 181.5ZM62.9 185.8L61.8 185.5L63.2 180.9L64.2 181.2ZM61.8 185.5L60.7 185.1L62.3 180.5L63.2 180.8ZM60.6 185.1L59.6 184.7L61.3 180.1L62.2 180.4ZM59.5 184.7L58.4 184.3L60.4 179.7L61.3 180ZM58.4 184.2L57.3 183.8L59.5 179.2L60.4 179.6ZM57.3 183.7L56.3 183.2L58.6 178.6L59.5 179.1ZM56.2 183.2L55.2 182.6L57.8 178.1L58.6 178.6ZM55.1 182.6L54.2 182L57 177.5L57.8 178ZM54.1 182L53.2 181.4L56.2 176.9L57 177.4ZM53.1 181.3L52.2 180.7L55.4 176.3L56.2 176.8ZM52.1 180.7L51.2 180L54.6 175.6L55.4 176.2ZM51.2 179.9L50.3 179.2L53.9 174.9L54.6 175.5ZM50.2 179.2L49.4 178.4L53.2 174.2L53.9 174.8ZM49.3 178.4L48.5 177.6L52.5 173.5L53.2 174.1ZM48.4 177.5L47.6 176.7L51.9 172.7L52.5 173.4ZM47.6 176.7L46.8 175.8L51.3 171.9L51.9 172.6ZM46.8 175.8L46 174.9L50.7 171.1L51.3 171.8ZM46 174.9L45.3 174L50.2 170.3L50.7 171ZM45.3 173.9L44.6 173L49.6 169.5L50.2 170.2ZM44.6 172.9L43.9 172L49.2 168.6L49.7 169.4ZM43.9 171.9L43.3 171L48.7 167.7L49.2 168.5ZM43.3 170.9L42.7 169.9L48.3 166.9L48.7 167.7ZM42.7 169.9L42.1 168.9L47.9 166L48.3 166.8ZM42.1 168.8L41.6 167.8L47.6 165.1L48 165.9ZM41.6 167.7L41.1 166.7L47.3 164.2L47.6 165ZM41.1 166.6L40.7 165.5L47 163.2L47.3 164.1ZM40.7 165.5L40.3 164.4L46.7 162.3L47 163.2ZM40.3 164.3L40 163.3L46.5 161.4L46.8 162.2ZM39.9 163.2L39.6 162.1L46.4 160.4L46.6 161.3ZM39.6 162L39.4 160.9L46.2 159.5L46.4 160.4ZM39.4 160.9L39.2 159.7L46.1 158.5L46.3 159.4ZM39.1 159.7L39 158.5L46.1 157.6L46.2 158.5ZM39 158.5L38.8 157.3L46 156.7L46.1 157.5ZM38.8 157.3L38.8 156.1L46 155.7L46.1 156.6ZM38.7 156.1L38.7 154.9L46.1 154.8L46.1 155.7ZM38.7 154.9L38.7 153.7L46.2 153.9L46.2 154.7ZM38.7 153.7L38.7 152.5L46.3 152.9L46.2 153.8ZM38.8 152.5L38.8 151.3L46.4 152L46.4 152.9ZM38.8 151.3L39 150.1L46.6 151.1L46.5 152ZM39 150.1L39.1 148.9L46.8 150.2L46.7 151.1ZM39.2 148.9L39.4 147.7L47 149.3L46.9 150.2ZM39.4 147.7L39.6 146.6L47.9 148.6L47.7 149.4ZM39.6 146.5L39.9 145.4L48.6 147.9L48.4 148.7ZM40 145.3L40.3 144.3L49.3 147.2L49 147.9ZM40.3 144.2L40.7 143.1L50 146.5L49.7 147.3ZM40.7 143.1L41.1 142L50.7 145.9L50.4 146.6ZM41.1 141.9L41.6 140.9L51.4 145.3L51.1 146ZM41.6 140.8L42.1 139.8L52.2 144.8L51.9 145.5ZM42.1 139.7L42.7 138.7L53 144.3L52.6 145ZM42.7 138.7L43.3 137.7L53.7 143.9L53.4 144.5ZM43.3 137.6L43.9 136.7L54.5 143.5L54.2 144.1ZM43.9 136.6L44.6 135.7L55.3 143.2L54.9 143.7ZM44.6 135.6L45.3 134.7L56.1 142.8L55.7 143.4ZM45.3 134.6L46 133.7L56.9 142.6L56.5 143.1ZM46 133.7L46.8 132.8L57.7 142.4L57.3 142.8ZM46.8 132.8L47.6 131.9L58.2 141.9L57.8 142.4ZM47.6 131.9L48.4 131.1L58.6 141.4L58.2 141.9ZM48.5 131L49.3 130.2L59 140.9L58.6 141.3ZM49.4 130.2L50.2 129.4L59.5 140.3L59 140.8ZM50.3 129.4L51.2 128.7L59.9 139.8L59.4 140.2ZM51.2 128.6L52.1 127.9L60.4 139.3L59.9 139.7ZM52.2 127.9L53.1 127.3L60.9 138.9L60.4 139.2ZM53.2 127.2L54.1 126.6L61.4 138.4L60.9 138.8ZM54.2 126.6L55.1 126L62 138L61.4 138.3ZM55.2 126L56.2 125.4L62.5 137.5L62 137.8ZM56.3 125.4L57.3 124.9L63.1 137.1L62.5 137.4ZM57.3 124.8L58.4 124.4L63.7 136.7L63.1 137ZM58.4 124.3L59.5 123.9L64.3 136.4L63.7 136.6ZM59.6 123.9L60.6 123.5L65 136L64.3 136.3ZM60.7 123.5L61.8 123.1L65.6 135.7L65 135.9ZM61.8 123.1L62.9 122.8L66.3 135.4L65.6 135.6ZM63 122.8L64.1 122.5L67 135.1L66.3 135.3ZM64.2 122.5L65.3 122.3L67.7 134.9L67 135ZM65.3 122.2L66.5 122.1L68.4 134.7L67.7 134.8ZM66.5 122.1L67.7 121.9L69.1 134.5L68.4 134.6ZM67.7 121.9L68.9 121.8L69.9 136.1L69.3 136.2ZM68.9 121.8L70.1 121.7L70.6 136.1L70 136.1ZM70.1 121.7L71.3 121.7L71.3 136L70.6 136.1Z" fill="#d9d9d9"/></g>
<text x="73.2" y="110.33" font-size="6.8" text-anchor="middle" font-weight="bold">GSE184336−GC</text>
<rect x="115.6" y="113.4" width="82.8" height="81.8" fill="#fff" stroke="#444" stroke-width="0.6"/>
<g><path d="M157.3 125.2L158.6 125.2L157.2 154.3ZM158.3 135.7L159.1 135.7L157.2 154.3ZM160.4 125.2L161.7 125.3L157.2 154.3ZM161.7 127L162.8 127.2L157.2 154.3ZM163.1 127.2L164.3 127.5L157.2 154.3ZM164.3 128.4L165.4 128.7L157.2 154.3ZM166.4 126.5L167.6 126.9L157.2 154.3ZM167.2 128.7L168.3 129.1L157.2 154.3ZM169.1 127.8L170.3 128.4L157.2 154.3ZM170 129.4L171.1 130L157.2 154.3ZM172.1 128.8L173.1 129.5L157.2 154.3ZM173.1 130L174.1 130.8L157.2 154.3ZM167.7 140L168.3 140.4L157.2 154.3ZM173.8 134L174.7 134.7L157.2 154.3ZM176 133.7L176.8 134.5L157.2 154.3ZM175.8 135.8L176.6 136.6L157.2 154.3ZM167.1 145.5L167.5 145.9L157.2 154.3ZM177.7 137.9L178.4 138.8L157.2 154.3ZM180 137.9L180.7 138.9L157.2 154.3ZM181 139L181.6 140L157.2 154.3ZM180.6 140.9L181.2 141.9L157.2 154.3ZM181.8 141.9L182.3 143L157.2 154.3ZM182 143.4L182.4 144.5L157.2 154.3ZM183.3 144.4L183.7 145.5L157.2 154.3ZM181.4 146.6L181.7 147.6L157.2 154.3ZM183.1 147.5L183.3 148.6L157.2 154.3ZM170.3 151.6L170.4 152.1L157.2 154.3ZM184.8 150.1L184.9 151.3L157.2 154.3ZM184.2 151.6L184.2 152.8L157.2 154.3ZM184 153L184 154.2L157.2 154.3ZM181.8 154.4L181.8 155.5L157.2 154.3ZM182.6 155.8L182.6 156.8L157.2 154.3ZM182.5 157.1L182.3 158.2L157.2 154.3ZM182.3 158.4L182.1 159.5L157.2 154.3ZM182.3 159.8L182 160.8L157.2 154.3ZM181.5 160.9L181.2 162L157.2 154.3ZM173.6 159.7L173.4 160.4L157.2 154.3ZM180.6 163.4L180.2 164.4L157.2 154.3ZM179.4 164.3L178.9 165.2L157.2 154.3ZM181.7 166.9L181.2 168L157.2 154.3ZM180.2 167.7L179.6 168.7L157.2 154.3ZM171.5 163.7L171.1 164.3L157.2 154.3ZM178.3 169.8L177.6 170.6L157.2 154.3ZM177.4 170.8L176.6 171.6L157.2 154.3ZM175.3 170.7L174.6 171.5L157.2 154.3ZM176.5 173.7L175.6 174.6L157.2 154.3ZM174.2 173.3L173.4 174.1L157.2 154.3ZM173.9 175.1L173 175.8L157.2 154.3ZM172 174.9L171.1 175.5L157.2 154.3ZM170.4 174.9L169.5 175.4L157.2 154.3ZM169.9 176.5L168.9 177L157.2 154.3ZM168.9 177.6L167.9 178.1L157.2 154.3ZM167.2 177.1L166.2 177.5L157.2 154.3ZM166.1 177.8L165.1 178.2L157.2 154.3ZM162.4 170.5L161.7 170.7L157.2 154.3ZM163.4 178L162.4 178.2L157.2 154.3ZM162.1 177.7L161.1 177.9L157.2 154.3ZM161 179.4L160 179.5L157.2 154.3ZM159.8 180.2L158.7 180.3L157.2 154.3ZM158.4 179.7L157.3 179.7L157.2 154.3ZM157.1 180.8L155.9 180.8L157.2 154.3ZM155.8 179.6L154.7 179.5L157.2 154.3ZM154.3 180.8L153.2 180.7L157.2 154.3ZM153 180.1L151.9 179.8L157.2 154.3ZM151.9 178.8L150.8 178.6L157.2 154.3ZM150.5 178.8L149.5 178.5L157.2 154.3ZM149 179L148 178.6L157.2 154.3ZM148.3 177.1L147.4 176.7L157.2 154.3ZM146.8 177.3L145.9 176.8L157.2 154.3ZM146.6 174.8L145.8 174.3L157.2 154.3ZM144.1 176.7L143.2 176.1L157.2 154.3ZM144 174.5L143.1 173.9L157.2 154.3ZM142.6 174.2L141.7 173.6L157.2 154.3ZM142.2 172.6L141.5 171.9L157.2 154.3ZM140.5 172.7L139.7 172L157.2 154.3ZM139.8 171.5L139.1 170.8L157.2 154.3ZM139.6 170L139 169.2L157.2 154.3ZM137.8 169.9L137.2 169L157.2 154.3ZM138.4 167.8L137.8 167L157.2 154.3ZM137.6 166.9L137 166.1L157.2 154.3ZM136.8 165.9L136.4 165L157.2 154.3ZM135.2 165.4L134.8 164.4L157.2 154.3ZM135.3 163.9L134.9 163L157.2 154.3ZM135.6 162.5L135.3 161.5L157.2 154.3ZM135.8 161.2L135.5 160.2L157.2 154.3ZM135 160.1L134.8 159.2L157.2 154.3ZM135.6 158.8L135.4 157.9L157.2 154.3ZM133.9 157.9L133.8 156.9L157.2 154.3ZM134.3 156.6L134.2 155.6L157.2 154.3ZM133.6 155.4L133.6 154.4L157.2 154.3ZM135.2 154.2L135.2 153.3L157.2 154.3ZM134.4 153L134.4 152L157.2 154.3ZM133.7 151.7L133.9 150.7L157.2 154.3ZM134.5 150.6L134.7 149.6L157.2 154.3ZM133.9 149.2L134.1 148.2L157.2 154.3ZM136.5 148.6L136.7 147.8L157.2 154.3ZM150.4 152.1L150.5 151.8L157.2 154.3ZM137.8 146.8L138.2 145.9L157.2 154.3ZM144.4 148.5L144.7 148L157.2 154.3ZM138.1 144.5L138.6 143.7L157.2 154.3ZM139.9 144.2L140.3 143.5L157.2 154.3ZM140.3 143.2L140.8 142.5L157.2 154.3ZM141.6 142.8L142.1 142.2L157.2 154.3ZM142.6 142.3L143.1 141.7L157.2 154.3ZM143.2 141.5L143.7 141L157.2 154.3ZM144.7 141.6L145.2 141.1L157.2 154.3ZM145 140.7L145.6 140.2L157.2 154.3ZM146.3 140.7L146.9 140.3L157.2 154.3ZM146.5 139.5L147.2 139L157.2 154.3ZM147.9 139.9L148.6 139.5L157.2 154.3ZM149.9 141.6L150.5 141.3L157.2 154.3ZM150.8 141.6L151.3 141.3L157.2 154.3ZM154.2 147.5L154.5 147.4L157.2 154.3ZM152.1 140.8L152.7 140.6L157.2 154.3ZM153.2 141.9L153.8 141.7L157.2 154.3ZM153.6 140.6L154.2 140.4L157.2 154.3ZM154.3 140.4L154.9 140.3L157.2 154.3ZM155.1 140.8L155.7 140.8L157.2 154.3ZM156.3 145.7L156.7 145.7L157.2 154.3ZM156.9 147.6L157.2 147.5L157.2 154.3Z" fill="#1f77b4"/><path d="M157.3 123.5L158.7 123.5L158.6 125.2L157.3 125.2ZM159 123.3L160.3 123.4L159.1 135.7L158.3 135.7ZM160.5 123.9L161.8 124.1L161.7 125.3L160.4 125.2ZM162.1 124.1L163.4 124.3L162.8 127.2L161.7 127ZM163.7 124.6L164.9 124.9L164.3 127.5L163.1 127.2ZM165.3 124.8L166.5 125.1L165.4 128.7L164.3 128.4ZM166.7 125.6L167.9 126.1L167.6 126.9L166.4 126.5ZM168.3 125.7L169.5 126.3L168.3 129.1L167.2 128.7ZM169.7 126.5L170.9 127.1L170.3 128.4L169.1 127.8ZM171 127.5L172.1 128.1L171.1 130L170 129.4ZM172.4 128.2L173.5 128.9L173.1 129.5L172.1 128.8ZM173.7 129.1L174.8 129.8L174.1 130.8L173.1 130ZM174.7 130.4L175.7 131.2L168.3 140.4L167.7 140ZM175.9 131.4L176.9 132.2L174.7 134.7L173.8 134ZM177.1 132.4L178.1 133.2L176.8 134.5L176 133.7ZM178.6 133.1L179.5 134L176.6 136.6L175.8 135.8ZM179.6 134.3L180.4 135.3L177.7 137.5L177 136.7ZM180.4 135.7L181.2 136.7L178.4 138.8L177.7 137.9ZM181.2 137L182 138L180.7 138.9L180 137.9ZM182 138.3L182.7 139.4L181.6 140L181 139ZM183.1 139.5L183.7 140.6L181.2 141.9L180.6 140.9ZM183.2 141.2L183.7 142.3L182.3 143L181.8 141.9ZM183.6 142.7L184 143.8L182.4 144.5L182 143.4ZM184.2 144.1L184.7 145.2L183.7 145.5L183.3 144.4ZM185.1 145.4L185.4 146.6L181.7 147.6L181.4 146.6ZM185.7 146.8L186 148L183.3 148.6L183.1 147.5ZM185.1 148.5L185.4 149.7L183.6 150L183.4 148.9ZM185.9 149.9L186.1 151.1L184.9 151.3L184.8 150.1ZM185.6 151.5L185.7 152.7L184.2 152.8L184.2 151.6ZM186.1 152.9L186.1 154.2L184 154.2L184 153ZM185.6 154.4L185.5 155.7L181.8 155.5L181.8 154.4ZM185.5 155.9L185.4 157.1L182.6 156.8L182.6 155.8ZM185.2 157.4L185.1 158.6L182.3 158.2L182.5 157.1ZM185.2 158.9L185 160.1L182.1 159.5L182.3 158.4ZM185.5 160.5L185.2 161.7L182 160.8L182.3 159.8ZM184.7 161.8L184.4 163L181.2 162L181.5 160.9ZM184.6 163.3L184.2 164.5L173.4 160.4L173.6 159.7ZM183.7 164.6L183.2 165.7L180.2 164.4L180.6 163.4ZM182.9 165.9L182.4 167L178.9 165.2L179.4 164.3ZM182.8 167.5L182.2 168.6L181.2 168L181.7 166.9ZM181.9 168.7L181.3 169.8L179.6 168.7L180.2 167.7ZM181 169.9L180.3 170.9L171.1 164.3L171.5 163.7ZM180 171L179.3 172L177.6 170.6L178.3 169.8ZM179.3 172.3L178.5 173.3L176.6 171.6L177.4 170.8ZM178.1 173.3L177.3 174.2L174.6 171.5L175.3 170.7ZM177.1 174.4L176.2 175.2L175.6 174.6L176.5 173.7ZM175.8 175.1L174.8 175.9L173.4 174.1L174.2 173.3ZM175 176.5L174 177.3L173 175.8L173.9 175.1ZM173.8 177.4L172.8 178.1L171.1 175.5L172 174.9ZM172.4 178L171.4 178.6L169.5 175.4L170.4 174.9ZM170.9 178.3L169.9 178.9L168.9 177L169.9 176.5ZM169.9 179.4L168.8 180L167.9 178.1L168.9 177.6ZM168.5 180.1L167.4 180.5L166.2 177.5L167.2 177.1ZM167.2 180.6L166 181L165.1 178.2L166.1 177.8ZM165.8 181.3L164.7 181.6L161.7 170.7L162.4 170.5ZM164.4 181.6L163.2 181.9L162.4 178.2L163.4 178ZM162.8 181.4L161.7 181.6L161.1 177.9L162.1 177.7ZM161.5 182.1L160.3 182.2L160 179.5L161 179.4ZM159.9 181.5L158.8 181.6L158.7 180.3L159.8 180.2ZM158.5 181.6L157.3 181.6L157.3 179.7L158.4 179.7ZM157.1 182.1L155.9 182L155.9 180.8L157.1 180.8ZM155.6 182L154.4 181.9L154.7 179.5L155.8 179.6ZM154.2 181.5L153 181.3L153.2 180.7L154.3 180.8ZM152.8 181.5L151.6 181.3L151.9 179.8L153 180.1ZM151.4 180.8L150.3 180.6L150.8 178.6L151.9 178.8ZM150.1 180.2L149 179.9L149.5 178.5L150.5 178.8ZM148.6 180.2L147.5 179.9L148 178.6L149 179ZM147.4 179.5L146.3 179.1L147.4 176.7L148.3 177.1ZM146.2 178.7L145.2 178.2L145.9 176.8L146.8 177.3ZM144.9 178.2L143.9 177.6L145.8 174.3L146.6 174.8ZM143.5 177.7L142.5 177.1L143.2 176.1L144.1 176.7ZM142.3 177L141.4 176.3L143.1 173.9L144 174.5ZM141.2 176.1L140.3 175.4L141.7 173.6L142.6 174.2ZM140 175.4L139.1 174.6L141.5 171.9L142.2 172.6ZM139.1 174.2L138.3 173.4L139.7 172L140.5 172.7ZM138.6 172.7L137.8 171.9L139.1 170.8L139.8 171.5ZM137.2 172.1L136.5 171.2L139 169.2L139.6 170ZM136.3 171L135.6 170.1L137.2 169L137.8 169.9ZM135.8 169.7L135.2 168.7L137.8 167L138.4 167.8ZM135 168.6L134.4 167.6L137 166.1L137.6 166.9ZM134.6 167.2L134.1 166.2L136.4 165L136.8 165.9ZM133.4 166.3L133 165.2L134.8 164.4L135.2 165.4ZM133.3 164.8L132.9 163.8L134.9 163L135.3 163.9ZM132.5 163.7L132.1 162.6L135.3 161.5L135.6 162.5ZM132.6 162.2L132.3 161.1L135.5 160.2L135.8 161.2ZM132.4 160.8L132.2 159.7L134.8 159.2L135 160.1ZM132.1 159.5L131.9 158.4L135.4 157.9L135.6 158.8ZM131.8 158.2L131.7 157.1L133.8 156.9L133.9 157.9ZM131.3 156.9L131.2 155.8L134.2 155.6L134.3 156.6ZM131.9 155.5L131.9 154.4L133.6 154.4L133.6 155.4ZM132.1 154.2L132.1 153.1L135.2 153.3L135.2 154.2ZM132 152.9L132 151.8L134.4 152L134.4 153ZM133 151.6L133.1 150.6L133.9 150.7L133.7 151.7ZM133.1 150.4L133.3 149.3L134.7 149.6L134.5 150.6ZM133.2 149.1L133.5 148.1L134.1 148.2L133.9 149.2ZM134.6 148.1L134.9 147.2L136.7 147.8L136.5 148.6ZM134.5 146.8L134.8 145.8L143.8 149.2L143.6 149.8ZM135.1 145.7L135.5 144.8L138.2 145.9L137.8 146.8ZM135.9 144.7L136.3 143.8L144.7 148L144.4 148.5ZM137.3 144.1L137.8 143.2L138.6 143.7L138.1 144.5ZM137.8 143L138.3 142.2L140.3 143.5L139.9 144.2ZM139 142.4L139.6 141.6L140.8 142.5L140.3 143.2ZM139.7 141.5L140.3 140.8L142.1 142.2L141.6 142.8ZM140.9 141L141.5 140.3L143.1 141.7L142.6 142.3ZM141.9 140.4L142.5 139.8L143.7 141L143.2 141.5ZM142.7 139.7L143.4 139.1L145.2 141.1L144.7 141.6ZM143.9 139.4L144.5 138.8L145.6 140.2L145 140.7ZM144.4 138.3L145.1 137.8L146.9 140.3L146.3 140.7ZM145.5 138.1L146.3 137.6L147.2 139L146.5 139.5ZM147 138.4L147.7 138L148.6 139.5L147.9 139.9ZM148.1 138.4L148.8 138L150.5 141.3L149.9 141.6ZM149.2 138.4L149.9 138L151.3 141.3L150.8 141.6ZM150.1 138.2L150.8 137.9L151.8 140.5L151.2 140.7ZM151.2 138.4L151.9 138.1L152.7 140.6L152.1 140.8ZM152.2 138.7L152.9 138.5L153.8 141.7L153.2 141.9ZM153.2 139L153.8 138.8L154.2 140.4L153.6 140.6ZM154.1 139.3L154.7 139.2L154.9 140.3L154.3 140.4ZM154.9 139.1L155.5 139.1L155.7 140.8L155.1 140.8ZM156 142.3L156.5 142.3L156.7 145.7L156.3 145.7ZM156.7 144.7L157.2 144.7L157.2 147.5L156.9 147.6Z" fill="#d62728"/><path d="M157.3 123.1L158.7 123.1L158.7 123.5L157.3 123.5ZM159 122.9L160.3 123L160.3 123.4L159 123.3ZM160.6 123.5L161.9 123.7L161.8 124.1L160.5 123.9ZM162.2 123.7L163.5 124L163.4 124.3L162.1 124.1ZM163.7 124.2L165 124.5L164.9 124.9L163.7 124.6ZM165.4 124.4L166.6 124.8L166.5 125.1L165.3 124.8ZM166.8 125.3L168 125.7L167.9 126.1L166.7 125.6ZM168.5 125.4L169.7 125.9L169.5 126.3L168.3 125.7ZM169.9 126.1L171.1 126.7L170.9 127.1L169.7 126.5ZM171.2 127.2L172.3 127.8L172.1 128.1L171 127.5ZM172.6 127.9L173.7 128.6L173.5 128.9L172.4 128.2ZM174 128.8L175 129.5L174.8 129.8L173.7 129.1ZM175 130.1L176 130.9L175.7 131.2L174.7 130.4ZM176.2 131.1L177.2 131.9L176.9 132.2L175.9 131.4ZM177.4 132.1L178.3 133L178.1 133.2L177.1 132.4ZM178.9 132.8L179.8 133.8L179.5 134L178.6 133.1ZM180.7 135.4L181.5 136.5L181.2 136.7L180.4 135.7ZM181.6 136.8L182.3 137.8L182 138L181.2 137ZM182.4 138.1L183 139.2L182.7 139.4L182 138.3ZM183.4 139.3L184.1 140.5L183.7 140.6L183.1 139.5ZM183.6 141L184.1 142.2L183.7 142.3L183.2 141.2ZM183.9 142.5L184.4 143.7L184 143.8L183.6 142.7ZM184.6 143.9L185 145.1L184.7 145.2L184.2 144.1ZM185.4 145.3L185.8 146.5L185.4 146.6L185.1 145.4ZM186.1 146.7L186.4 147.9L186 148L185.7 146.8ZM186.3 149.8L186.5 151.1L186.1 151.1L185.9 149.9ZM186 151.4L186.1 152.6L185.7 152.7L185.6 151.5ZM186.5 152.9L186.5 154.2L186.1 154.2L186.1 152.9ZM185.9 154.4L185.9 155.7L185.5 155.7L185.6 154.4ZM185.9 155.9L185.8 157.2L185.4 157.1L185.5 155.9ZM185.6 157.4L185.5 158.6L185.1 158.6L185.2 157.4ZM185.6 158.9L185.4 160.2L185 160.1L185.2 158.9ZM185.9 160.5L185.6 161.8L185.2 161.7L185.5 160.5ZM185.1 161.9L184.7 163.1L184.4 163L184.7 161.8ZM185 163.5L184.5 164.6L184.2 164.5L184.6 163.3ZM184 164.7L183.6 165.9L183.2 165.7L183.7 164.6ZM183.2 166L182.7 167.1L182.4 167L182.9 165.9ZM183.2 167.7L182.6 168.8L182.2 168.6L182.8 167.5ZM182.2 168.9L181.6 170L181.3 169.8L181.9 168.7ZM181.3 170.1L180.6 171.1L180.3 170.9L181 169.9ZM180.3 171.3L179.6 172.2L179.3 172L180 171ZM179.6 172.6L178.8 173.5L178.5 173.3L179.3 172.3ZM178.4 173.6L177.6 174.5L177.3 174.2L178.1 173.3ZM177.4 174.7L176.5 175.5L176.2 175.2L177.1 174.4ZM176 175.4L175.1 176.2L174.8 175.9L175.8 175.1ZM175.3 176.8L174.3 177.6L174 177.3L175 176.5ZM174 177.7L173 178.4L172.8 178.1L173.8 177.4ZM172.6 178.3L171.6 179L171.4 178.6L172.4 178ZM171.1 178.6L170 179.2L169.9 178.9L170.9 178.3ZM170 179.8L168.9 180.3L168.8 180L169.9 179.4ZM168.7 180.4L167.6 180.9L167.4 180.5L168.5 180.1ZM167.3 181L166.1 181.4L166 181L167.2 180.6ZM165.9 181.6L164.8 182L164.7 181.6L165.8 181.3ZM164.5 182L163.3 182.3L163.2 181.9L164.4 181.6ZM162.9 181.8L161.7 182L161.7 181.6L162.8 181.4ZM161.5 182.5L160.3 182.6L160.3 182.2L161.5 182.1ZM160 181.9L158.8 182L158.8 181.6L159.9 181.5ZM158.5 182L157.3 182L157.3 181.6L158.5 181.6ZM157.1 182.5L155.9 182.4L155.9 182L157.1 182.1ZM155.6 182.4L154.4 182.3L154.4 181.9L155.6 182ZM154.2 181.9L153 181.7L153 181.3L154.2 181.5ZM152.7 181.9L151.5 181.7L151.6 181.3L152.8 181.5ZM151.3 181.2L150.2 180.9L150.3 180.6L151.4 180.8ZM150 180.6L148.9 180.3L149 179.9L150.1 180.2ZM148.5 180.6L147.4 180.2L147.5 179.9L148.6 180.2ZM147.2 179.9L146.2 179.4L146.3 179.1L147.4 179.5ZM146.1 179L145 178.5L145.2 178.2L146.2 178.7ZM144.7 178.5L143.7 178L143.9 177.6L144.9 178.2ZM143.3 178.1L142.3 177.5L142.5 177.1L143.5 177.7ZM142.1 177.3L141.1 176.6L141.4 176.3L142.3 177ZM141 176.4L140 175.7L140.3 175.4L141.2 176.1ZM139.7 175.7L138.8 174.9L139.1 174.6L140 175.4ZM138.9 174.5L138 173.7L138.3 173.4L139.1 174.2ZM138.3 173L137.5 172.2L137.8 171.9L138.6 172.7ZM136.9 172.4L136.2 171.5L136.5 171.2L137.2 172.1ZM136 171.3L135.3 170.3L135.6 170.1L136.3 171ZM135.5 169.9L134.9 168.9L135.2 168.7L135.8 169.7ZM134.7 168.8L134.1 167.8L134.4 167.6L135 168.6ZM134.3 167.4L133.7 166.4L134.1 166.2L134.6 167.2ZM133.1 166.4L132.6 165.4L133 165.2L133.4 166.3ZM132.9 165L132.5 163.9L132.9 163.8L133.3 164.8ZM132.1 163.8L131.7 162.7L132.1 162.6L132.5 163.7ZM132.3 162.3L131.9 161.2L132.3 161.1L132.6 162.2ZM132.1 160.9L131.8 159.8L132.2 159.7L132.4 160.8ZM131.7 159.6L131.5 158.5L131.9 158.4L132.1 159.5ZM131.5 158.3L131.3 157.1L131.7 157.1L131.8 158.2ZM130.9 156.9L130.9 155.8L131.2 155.8L131.3 156.9ZM131.5 155.5L131.5 154.4L131.9 154.4L131.9 155.5ZM131.7 154.2L131.7 153.1L132.1 153.1L132.1 154.2ZM131.6 152.8L131.7 151.7L132 151.8L132 152.9ZM132.6 151.6L132.7 150.5L133.1 150.6L133 151.6ZM132.8 150.3L132.9 149.3L133.3 149.3L133.1 150.4ZM132.8 149L133.1 148L133.5 148.1L133.2 149.1ZM134.2 148L134.5 147.1L134.9 147.2L134.6 148.1ZM134.7 145.6L135.1 144.6L135.5 144.8L135.1 145.7ZM135.5 144.5L136 143.6L136.3 143.8L135.9 144.7ZM137 143.9L137.4 143L137.8 143.2L137.3 144.1ZM137.5 142.8L138 142L138.3 142.2L137.8 143ZM138.7 142.2L139.3 141.4L139.6 141.6L139 142.4ZM139.4 141.3L140 140.5L140.3 140.8L139.7 141.5ZM140.6 140.8L141.2 140.1L141.5 140.3L140.9 141ZM141.6 140.1L142.2 139.5L142.5 139.8L141.9 140.4ZM142.5 139.4L143.1 138.8L143.4 139.1L142.7 139.7ZM143.6 139.1L144.3 138.5L144.5 138.8L143.9 139.4ZM144.1 138L144.9 137.5L145.1 137.8L144.4 138.3ZM145.3 137.8L146 137.3L146.3 137.6L145.5 138.1ZM146.8 138.1L147.5 137.6L147.7 138L147 138.4ZM147.9 138L148.6 137.7L148.8 138L148.1 138.4ZM149 138L149.7 137.7L149.9 138L149.2 138.4ZM151 138L151.7 137.7L151.9 138.1L151.2 138.4ZM152.1 138.3L152.8 138.1L152.9 138.5L152.2 138.7ZM153.1 138.6L153.8 138.5L153.8 138.8L153.2 139ZM154 138.9L154.7 138.8L154.7 139.2L154.1 139.3ZM154.8 138.8L155.5 138.7L155.5 139.1L154.9 139.1ZM156 142L156.5 141.9L156.5 142.3L156 142.3ZM156.7 144.3L157.2 144.3L157.2 144.7L156.7 144.7Z" fill="#c5b0d5"/><path d="M157.4 121.7L158.8 121.7L158.7 123.1L157.3 123.1ZM159.1 121.8L160.5 121.9L160.3 123L159 122.9ZM160.8 121.9L162.1 122.1L161.9 123.7L160.6 123.5ZM162.5 122.1L163.8 122.4L163.5 124L162.2 123.7ZM164.1 122.4L165.5 122.8L165 124.5L163.7 124.2ZM165.8 122.9L167.1 123.2L166.6 124.8L165.4 124.4ZM167.4 123.3L168.7 123.8L168 125.7L166.8 125.3ZM169 123.9L170.3 124.5L169.7 125.9L168.5 125.4ZM170.6 124.6L171.9 125.2L171.1 126.7L169.9 126.1ZM172.1 125.3L173.4 126L172.3 127.8L171.2 127.2ZM173.6 126.1L174.8 126.9L173.7 128.6L172.6 127.9ZM175.1 127L176.2 127.8L175 129.5L174 128.8ZM176.5 128L177.6 128.9L176 130.9L175 130.1ZM177.8 129.1L178.9 130L177.2 131.9L176.2 131.1ZM179.1 130.2L180.1 131.1L178.3 133L177.4 132.1ZM180.4 131.4L181.3 132.4L179.8 133.8L178.9 132.8ZM181.5 132.6L182.4 133.7L180.4 135.3L179.6 134.3ZM182.6 133.9L183.5 135L181.5 136.5L180.7 135.4ZM183.7 135.3L184.5 136.4L182.3 137.8L181.6 136.8ZM184.6 136.7L185.4 137.9L183 139.2L182.4 138.1ZM185.5 138.1L186.2 139.4L184.1 140.5L183.4 139.3ZM186.3 139.6L186.9 140.9L184.1 142.2L183.6 141ZM187 141.2L187.6 142.5L184.4 143.7L183.9 142.5ZM187.7 142.8L188.2 144.1L185 145.1L184.6 143.9ZM188.3 144.4L188.6 145.7L185.8 146.5L185.4 145.3ZM188.7 146L189.1 147.4L186.4 147.9L186.1 146.7ZM189.1 147.7L189.4 149L185.4 149.7L185.1 148.5ZM189.4 149.4L189.6 150.7L186.5 151.1L186.3 149.8ZM189.6 151L189.7 152.4L186.1 152.6L186 151.4ZM189.8 152.7L189.8 154.1L186.5 154.2L186.5 152.9ZM189.8 154.5L189.8 155.9L185.9 155.7L185.9 154.4ZM189.7 156.2L189.6 157.6L185.8 157.2L185.9 155.9ZM189.6 157.9L189.4 159.2L185.5 158.6L185.6 157.4ZM189.4 159.6L189.1 160.9L185.4 160.2L185.6 158.9ZM189.1 161.2L188.7 162.6L185.6 161.8L185.9 160.5ZM188.6 162.9L188.3 164.2L184.7 163.1L185.1 161.9ZM188.2 164.5L187.7 165.8L184.5 164.6L185 163.5ZM187.6 166.1L187 167.4L183.6 165.9L184 164.7ZM186.9 167.7L186.3 169L182.7 167.1L183.2 166ZM186.2 169.2L185.5 170.5L182.6 168.8L183.2 167.7ZM185.4 170.7L184.6 171.9L181.6 170L182.2 168.9ZM184.5 172.2L183.7 173.3L180.6 171.1L181.3 170.1ZM183.5 173.6L182.6 174.7L179.6 172.2L180.3 171.3ZM182.4 174.9L181.5 176L178.8 173.5L179.6 172.6ZM181.3 176.2L180.4 177.2L177.6 174.5L178.4 173.6ZM180.1 177.5L179.1 178.4L176.5 175.5L177.4 174.7ZM178.9 178.6L177.8 179.5L175.1 176.2L176 175.4ZM177.6 179.7L176.5 180.6L174.3 177.6L175.3 176.8ZM176.2 180.8L175.1 181.6L173 178.4L174 177.7ZM174.8 181.7L173.6 182.5L171.6 179L172.6 178.3ZM173.4 182.6L172.1 183.3L170 179.2L171.1 178.6ZM171.9 183.4L170.6 184L168.9 180.3L170 179.8ZM170.3 184.1L169 184.7L167.6 180.9L168.7 180.4ZM168.7 184.8L167.4 185.3L166.1 181.4L167.3 181ZM167.1 185.4L165.8 185.7L164.8 182L165.9 181.6ZM165.5 185.8L164.1 186.2L163.3 182.3L164.5 182ZM163.8 186.2L162.5 186.5L161.7 182L162.9 181.8ZM162.1 186.5L160.8 186.7L160.3 182.6L161.5 182.5ZM160.5 186.7L159.1 186.8L158.8 182L160 181.9ZM158.8 186.9L157.4 186.9L157.3 182L158.5 182ZM157 186.9L155.6 186.9L155.9 182.4L157.1 182.5ZM155.3 186.8L153.9 186.7L154.4 182.3L155.6 182.4ZM153.6 186.7L152.3 186.5L153 181.7L154.2 181.9ZM151.9 186.5L150.6 186.2L151.5 181.7L152.7 181.9ZM150.3 186.2L148.9 185.8L150.2 180.9L151.3 181.2ZM148.6 185.7L147.3 185.4L148.9 180.3L150 180.6ZM147 185.3L145.7 184.8L147.4 180.2L148.5 180.6ZM145.4 184.7L144.1 184.1L146.2 179.4L147.2 179.9ZM143.8 184L142.5 183.4L145 178.5L146.1 179ZM142.3 183.3L141 182.6L143.7 178L144.7 178.5ZM140.8 182.5L139.6 181.7L142.3 177.5L143.3 178.1ZM139.3 181.6L138.2 180.8L141.1 176.6L142.1 177.3ZM137.9 180.6L136.8 179.7L140 175.7L141 176.4ZM136.6 179.5L135.5 178.6L138.8 174.9L139.7 175.7ZM135.3 178.4L134.3 177.5L138 173.7L138.9 174.5ZM134 177.2L133.1 176.2L137.5 172.2L138.3 173ZM132.9 176L132 174.9L136.2 171.5L136.9 172.4ZM131.8 174.7L130.9 173.6L135.3 170.3L136 171.3ZM130.7 173.3L129.9 172.2L134.9 168.9L135.5 169.9ZM129.8 171.9L129 170.7L134.1 167.8L134.7 168.8ZM128.9 170.5L128.2 169.2L133.7 166.4L134.3 167.4ZM128.1 169L127.5 167.7L132.6 165.4L133.1 166.4ZM127.4 167.4L126.8 166.1L132.5 163.9L132.9 165ZM126.7 165.8L126.2 164.5L131.7 162.7L132.1 163.8ZM126.1 164.2L125.8 162.9L131.9 161.2L132.3 162.3ZM125.7 162.6L125.3 161.2L131.8 159.8L132.1 160.9ZM125.3 160.9L125 159.6L131.5 158.5L131.7 159.6ZM125 159.2L124.8 157.9L131.3 157.1L131.5 158.3ZM124.8 157.6L124.7 156.2L130.9 155.8L130.9 156.9ZM124.6 155.9L124.6 154.5L131.5 154.4L131.5 155.5ZM124.6 154.1L124.6 152.7L131.7 153.1L131.7 154.2ZM124.7 152.4L124.8 151L131.7 151.7L131.6 152.8ZM124.8 150.7L125 149.4L132.7 150.5L132.6 151.6ZM125 149L125.3 147.7L132.9 149.3L132.8 150.3ZM125.3 147.4L125.7 146L133.1 148L132.8 149ZM125.8 145.7L126.1 144.4L134.5 147.1L134.2 148ZM126.2 144.1L126.7 142.8L134.8 145.8L134.5 146.8ZM126.8 142.5L127.4 141.2L135.1 144.6L134.7 145.6ZM127.5 140.9L128.1 139.6L136 143.6L135.5 144.5ZM128.2 139.4L128.9 138.1L137.4 143L137 143.9ZM129 137.9L129.8 136.7L138 142L137.5 142.8ZM129.9 136.4L130.7 135.3L139.3 141.4L138.7 142.2ZM130.9 135L131.8 133.9L140 140.5L139.4 141.3ZM132 133.7L132.9 132.6L141.2 140.1L140.6 140.8ZM133.1 132.4L134 131.4L142.2 139.5L141.6 140.1ZM134.3 131.1L135.3 130.2L143.1 138.8L142.5 139.4ZM135.5 130L136.6 129.1L144.3 138.5L143.6 139.1ZM136.8 128.9L137.9 128L144.9 137.5L144.1 138ZM138.2 127.8L139.3 127L146 137.3L145.3 137.8ZM139.6 126.9L140.8 126.1L147.5 137.6L146.8 138.1ZM141 126L142.3 125.3L148.6 137.7L147.9 138ZM142.5 125.2L143.8 124.6L149.7 137.7L149 138ZM144.1 124.5L145.4 123.9L150.8 137.9L150.1 138.2ZM145.7 123.8L147 123.3L151.7 137.7L151 138ZM147.3 123.2L148.6 122.9L152.8 138.1L152.1 138.3ZM148.9 122.8L150.3 122.4L153.8 138.5L153.1 138.6ZM150.6 122.4L151.9 122.1L154.7 138.8L154 138.9ZM152.3 122.1L153.6 121.9L155.5 138.7L154.8 138.8ZM153.9 121.9L155.3 121.8L156.5 141.9L156 142ZM155.6 121.7L157 121.7L157.2 144.3L156.7 144.3Z" fill="#d9d9d9"/><path d="M171.1 141.9L171.6 142.6L167.5 145.9L167.1 145.5ZM175.5 150.5L175.7 151.3L170.4 152.1L170.3 151.6ZM147.7 151.2L147.8 150.7L150.5 151.8L150.4 152.1ZM153 144.8L153.4 144.6L154.5 147.4L154.2 147.5Z" fill="#ff7f0e"/><path d="M177 136.7L177.7 137.5L171.6 142.6L171.1 141.9ZM183.4 148.9L183.6 150L175.7 151.3L175.5 150.5ZM143.6 149.8L143.8 149.2L147.8 150.7L147.7 151.2ZM151.2 140.7L151.8 140.5L153.4 144.6L153 144.8Z" fill="#e377c2"/></g>
<text x="158.8" y="110.33" font-size="6.8" text-anchor="middle" font-weight="bold">GSE122401−GC</text>
<rect x="201.4" y="113.4" width="83" height="81.8" fill="#fff" stroke="#444" stroke-width="0.6"/>
<g><path d="M243.4 139.3L245.2 139.4L243.1 154.3ZM246.2 136.8L248.3 137.3L243.1 154.3ZM246.5 144.5L247.6 145L243.1 154.3ZM254.6 132.7L257.1 134.3L243.1 154.3ZM256.6 136.3L258.7 138.1L243.1 154.3ZM258.6 139.4L260.3 141.4L243.1 154.3ZM251.5 148.4L252.2 149.5L243.1 154.3ZM250.8 150.5L251.2 151.5L243.1 154.3ZM264.4 147.8L265 150.4L243.1 154.3ZM260.8 151.8L260.9 154L243.1 154.3ZM265.7 154.7L265.5 157.4L243.1 154.3ZM264.3 158L263.7 160.6L243.1 154.3ZM264.1 161.5L263 164L243.1 154.3ZM257.5 161.9L256.4 163.6L243.1 154.3ZM251.3 160.5L250.5 161.4L243.1 154.3ZM252.4 163.9L251.1 165L243.1 154.3ZM250.8 165.3L249.4 166.2L243.1 154.3ZM253.5 175.6L250.8 176.7L243.1 154.3ZM249.4 175L246.8 175.6L243.1 154.3ZM245.4 170.7L243.4 170.8L243.1 154.3ZM242.7 175.2L240.2 175L243.1 154.3ZM240.8 167.3L239.2 166.9L243.1 154.3ZM237.1 171.9L235 171L243.1 154.3ZM238.8 162.4L237.9 161.8L243.1 154.3ZM234.3 165.9L233 164.8L243.1 154.3ZM228.6 168.3L227 166.4L243.1 154.3ZM233.4 161.1L232.6 159.9L243.1 154.3ZM226.7 162.3L225.9 160.2L243.1 154.3ZM222.1 160.7L221.5 158.1L243.1 154.3ZM233.1 155.7L233 154.5L243.1 154.3ZM220.7 153.9L220.9 151.2L243.1 154.3ZM219.5 150.1L220.1 147.3L243.1 154.3ZM224.1 147.8L225 145.5L243.1 154.3ZM225.2 144.8L226.5 142.7L243.1 154.3ZM231.5 145.5L232.6 144.2L243.1 154.3ZM233 143.8L234.4 142.7L243.1 154.3ZM237.7 146.5L238.7 145.9L243.1 154.3ZM238.9 145.8L240 145.3L243.1 154.3ZM238.9 140.5L240.6 140.1L243.1 154.3ZM241.3 141.6L242.9 141.4L243.1 154.3Z" fill="#1f77b4"/><path d="M243.4 137.1L245.5 137.3L245.2 139.4L243.4 139.3ZM246.5 135L248.8 135.5L248.3 137.3L246.2 136.8ZM246.7 143.9L247.9 144.4L247.6 145L246.5 144.5ZM256.4 129.3L259.4 131.1L257.1 134.3L254.6 132.7ZM257.1 135.8L259.2 137.6L258.7 138.1L256.6 136.3ZM263 135L265.3 137.6L260.3 141.4L258.6 139.4ZM253.2 147.2L254 148.5L252.2 149.5L251.5 148.4ZM253.7 149.1L254.2 150.5L251.2 151.5L250.8 150.5ZM264.8 147.6L265.5 150.4L265 150.4L264.4 147.8ZM261.7 151.7L261.8 154L260.9 154L260.8 151.8ZM266 154.7L265.7 157.5L265.5 157.4L265.7 154.7ZM270.3 159.1L269.5 162.4L263.7 160.6L264.3 158ZM264.5 161.7L263.4 164.2L263 164L264.1 161.5ZM257.8 162.1L256.7 163.9L256.4 163.6L257.5 161.9ZM262.4 168.8L260.5 171.1L250.5 161.4L251.3 160.5ZM261 172.8L258.6 174.9L251.1 165L252.4 163.9ZM252.3 167.4L250.6 168.4L249.4 166.2L250.8 165.3ZM255.2 179.1L252.1 180.3L250.8 176.7L253.5 175.6ZM249.5 175.1L246.9 175.7L246.8 175.6L249.4 175ZM245.4 170.7L243.4 170.9L243.4 170.8L245.4 170.7ZM242.6 181.6L239.3 181.4L240.2 175L242.7 175.2ZM238.7 179.5L235.6 178.8L239.2 166.9L240.8 167.3ZM234.7 178.7L231.8 177.5L235 171L237.1 171.9ZM231.7 175.7L229.2 174.2L237.9 161.8L238.8 162.4ZM228.1 174.2L225.8 172.2L233 164.8L234.3 165.9ZM227.9 169L226.2 167L227 166.4L228.6 168.3ZM222.5 168.8L220.8 166.1L232.6 159.9L233.4 161.1ZM219.9 165.6L218.7 162.7L225.9 160.2L226.7 162.3ZM217.7 162.1L217 158.9L221.5 158.1L222.1 160.7ZM219.2 157.7L219 154.7L233 154.5L233.1 155.7ZM219.6 153.9L219.8 151L220.9 151.2L220.7 153.9ZM219 150L219.7 147.1L220.1 147.3L219.5 150.1ZM218.3 145.8L219.5 142.8L225 145.5L224.1 147.8ZM224.4 144.3L225.7 142.1L226.5 142.7L225.2 144.8ZM222.3 138.7L224.4 136.2L232.6 144.2L231.5 145.5ZM225.8 136.4L228.1 134.4L234.4 142.7L233 143.8ZM231.1 137.1L233.3 135.8L238.7 145.9L237.7 146.5ZM234 135.7L236.4 134.8L240 145.3L238.9 145.8ZM238.6 139.6L240.4 139.2L240.6 140.1L238.9 140.5ZM239.9 131.9L242.7 131.7L242.9 141.4L241.3 141.6Z" fill="#d62728"/><path d="M243.6 125.4L247.1 125.6L245.5 137.3L243.4 137.1ZM248 126.7L251.3 127.5L248.8 135.5L246.5 135ZM251.7 129.3L254.7 130.6L247.9 144.4L246.7 143.9ZM260.2 131.6L262.9 133.8L259.2 137.6L257.1 135.8ZM263.4 134.7L265.6 137.4L265.3 137.6L263 135ZM265 139L266.7 141.8L254 148.5L253.2 147.2ZM268.2 142L269.5 145.2L254.2 150.5L253.7 149.1ZM270.6 145.9L271.4 149.3L265.5 150.4L264.8 147.6ZM271 150.4L271.2 153.8L261.8 154L261.7 151.7ZM270.4 154.8L270.1 158.1L265.7 157.5L266 154.7ZM270.7 159.2L269.9 162.5L269.5 162.4L270.3 159.1ZM269 163.2L267.7 166.3L263.4 164.2L264.5 161.7ZM266.1 166.5L264.5 169.3L256.7 163.9L257.8 162.1ZM263.6 169.8L261.6 172.1L260.5 171.1L262.4 168.8ZM261.8 173.7L259.3 175.8L258.6 174.9L261 172.8ZM259 177L256.1 178.8L250.6 168.4L252.3 167.4ZM255.4 179.5L252.2 180.8L252.1 180.3L255.2 179.1ZM251.1 180.6L247.9 181.4L246.9 175.7L249.5 175.1ZM246.9 181.1L243.6 181.4L243.4 170.9L245.4 170.7ZM242.6 182.2L239.2 181.9L239.3 181.4L242.6 181.6ZM238.4 180.9L235.2 180.1L235.6 178.8L238.7 179.5ZM234.7 178.8L231.7 177.6L231.8 177.5L234.7 178.7ZM231.2 176.7L228.6 175.1L229.2 174.2L231.7 175.7ZM227.9 174.5L225.5 172.5L225.8 172.2L228.1 174.2ZM222.8 173.9L220.6 171.3L226.2 167L227.9 169ZM221.1 169.7L219.4 166.9L220.8 166.1L222.5 168.8ZM219.7 165.7L218.5 162.8L218.7 162.7L219.9 165.6ZM217.6 162.1L216.8 158.9L217 158.9L217.7 162.1ZM218.4 157.8L218.2 154.7L219 154.7L219.2 157.7ZM215.1 153.8L215.4 150.4L219.8 151L219.6 153.9ZM215.7 149.5L216.5 146.2L219.7 147.1L219 150ZM218.2 145.7L219.4 142.7L219.5 142.8L218.3 145.8ZM217.7 140.8L219.6 137.8L225.7 142.1L224.4 144.3ZM221.5 138.1L223.7 135.5L224.4 136.2L222.3 138.7ZM225.2 135.8L227.6 133.8L228.1 134.4L225.8 136.4ZM230.8 136.7L233 135.3L233.3 135.8L231.1 137.1ZM233.8 135.3L236.2 134.3L236.4 134.8L234 135.7ZM236.3 132.1L239.1 131.5L240.4 139.2L238.6 139.6ZM239.9 131.6L242.7 131.4L242.7 131.7L239.9 131.9Z" fill="#ff7f0e"/><path d="M243.6 125L247.2 125.3L247.1 125.6L243.6 125.4ZM248 126.4L251.4 127.2L251.3 127.5L248 126.7ZM251.8 129L254.8 130.3L254.7 130.6L251.7 129.3ZM257 128.2L260 130.1L259.8 130.5L256.7 128.7ZM260.4 131.3L263.1 133.6L262.9 133.8L260.2 131.6ZM264.2 133.9L266.5 136.7L266.1 137L263.8 134.3ZM265.3 138.8L267 141.6L266.7 141.8L265 139ZM268.5 141.9L269.8 145.1L269.5 145.2L268.2 142ZM270.9 145.8L271.7 149.3L271.4 149.3L270.6 145.9ZM271.3 150.3L271.6 153.8L271.2 153.8L271 150.4ZM270.7 154.8L270.5 158.2L270.1 158.1L270.4 154.8ZM271.8 159.4L271 162.8L270.5 162.7L271.3 159.3ZM269.3 163.3L268 166.4L267.7 166.3L269 163.2ZM266.4 166.7L264.7 169.5L264.5 169.3L266.1 166.5ZM264.5 170.4L262.4 172.9L262 172.6L264.1 170.1ZM262.6 174.5L260 176.7L259.7 176.3L262.2 174.1ZM259.2 177.3L256.3 179L256.1 178.8L259 177ZM255.9 180.5L252.6 181.9L252.4 181.4L255.7 180.1ZM251.2 180.9L247.9 181.7L247.9 181.4L251.1 180.6ZM246.9 181.4L243.6 181.7L243.6 181.4L246.9 181.1ZM242.6 183.4L239.1 183.1L239.1 182.6L242.6 182.9ZM238.2 182L234.9 181.2L235 180.8L238.3 181.5ZM234.3 179.9L231.2 178.6L231.5 178.2L234.5 179.4ZM230.7 177.7L227.9 176L228.2 175.6L230.9 177.3ZM227.2 175.4L224.7 173.3L225 173L227.5 175.1ZM222.6 174.1L220.3 171.4L220.6 171.3L222.8 173.9ZM220.2 170.4L218.4 167.4L218.8 167.2L220.6 170.1ZM218.7 166.2L217.4 163.1L217.9 163L219.1 166ZM216.5 162.4L215.7 159.1L216.2 159L217 162.3ZM217.3 157.9L217 154.8L217.5 154.7L217.8 157.9ZM214.8 153.8L215 150.4L215.4 150.4L215.1 153.8ZM215.4 149.4L216.2 146.1L216.5 146.2L215.7 149.5ZM217.1 145.3L218.4 142.2L218.8 142.5L217.5 145.5ZM217.4 140.7L219.3 137.6L219.6 137.8L217.7 140.8ZM220.6 137.4L222.9 134.7L223.2 135.1L221 137.7ZM224.4 135L226.9 132.9L227.2 133.2L224.8 135.3ZM230.1 135.8L232.5 134.3L232.7 134.7L230.4 136.2ZM233.3 134.3L235.8 133.2L236 133.7L233.5 134.7ZM236.2 131.8L239 131.1L239.1 131.5L236.3 132.1ZM239.8 130.5L242.7 130.3L242.7 130.8L239.8 131Z" fill="#c5b0d5"/><path d="M243.7 121.7L247.6 122L247.2 125.3L243.6 125ZM248.8 122.2L252.6 123.1L251.4 127.2L248 126.4ZM253.7 123.5L257.4 125L254.8 130.3L251.8 129ZM258.4 125.5L261.8 127.6L260 130.1L257 128.2ZM262.7 128.3L265.7 130.9L263.1 133.6L260.4 131.3ZM266.5 131.7L269.1 134.7L266.5 136.7L264.2 133.9ZM269.8 135.6L271.9 139L267 141.6L265.3 138.8ZM272.4 140L273.9 143.7L269.8 145.1L268.5 141.9ZM274.3 144.8L275.2 148.6L271.7 149.3L270.9 145.8ZM275.4 149.8L275.7 153.7L271.6 153.8L271.3 150.3ZM275.7 154.9L275.4 158.8L270.5 158.2L270.7 154.8ZM275.2 160L274.3 163.8L271 162.8L271.8 159.4ZM273.9 164.9L272.4 168.6L268 166.4L269.3 163.3ZM271.9 169.6L269.8 173L264.7 169.5L266.4 166.7ZM269.1 173.9L266.5 176.9L262.4 172.9L264.5 170.4ZM265.7 177.7L262.7 180.3L260 176.7L262.6 174.5ZM261.8 181L258.4 183.1L256.3 179L259.2 177.3ZM257.4 183.6L253.7 185.1L252.6 181.9L255.9 180.5ZM252.6 185.5L248.8 186.4L247.9 181.7L251.2 180.9ZM247.6 186.6L243.7 186.9L243.6 181.7L246.9 181.4ZM242.5 186.9L238.6 186.6L239.1 183.1L242.6 183.4ZM237.4 186.4L233.6 185.5L234.9 181.2L238.2 182ZM232.5 185.1L228.8 183.6L231.2 178.6L234.3 179.9ZM227.8 183.1L224.4 181L227.9 176L230.7 177.7ZM223.5 180.3L220.5 177.7L224.7 173.3L227.2 175.4ZM219.7 176.9L217.1 173.9L220.3 171.4L222.6 174.1ZM216.4 173L214.3 169.6L218.4 167.4L220.2 170.4ZM213.8 168.6L212.3 164.9L217.4 163.1L218.7 166.2ZM211.9 163.8L211 160L215.7 159.1L216.5 162.4ZM210.8 158.8L210.5 154.9L217 154.8L217.3 157.9ZM210.5 153.7L210.8 149.8L215 150.4L214.8 153.8ZM211 148.6L211.9 144.8L216.2 146.1L215.4 149.4ZM212.3 143.7L213.8 140L218.4 142.2L217.1 145.3ZM214.3 139L216.4 135.6L219.3 137.6L217.4 140.7ZM217.1 134.7L219.7 131.7L222.9 134.7L220.6 137.4ZM220.5 130.9L223.5 128.3L226.9 132.9L224.4 135ZM224.4 127.6L227.8 125.5L232.5 134.3L230.1 135.8ZM228.8 125L232.5 123.5L235.8 133.2L233.3 134.3ZM233.6 123.1L237.4 122.2L239 131.1L236.2 131.8ZM238.6 122L242.5 121.7L242.7 130.3L239.8 130.5Z" fill="#d9d9d9"/><path d="M256.7 128.7L259.8 130.5L259.4 131.1L256.4 129.2ZM263.8 134.3L266.1 137L265.6 137.4L263.4 134.7ZM271.3 159.3L270.5 162.7L269.9 162.5L270.7 159.2ZM264.1 170.1L262 172.6L261.6 172.1L263.6 169.8ZM262.2 174.1L259.7 176.3L259.3 175.8L261.8 173.7ZM255.7 180.1L252.4 181.4L252.2 180.8L255.4 179.5ZM242.6 182.9L239.1 182.6L239.2 181.9L242.6 182.2ZM238.3 181.5L235 180.8L235.2 180.1L238.4 180.9ZM234.5 179.4L231.5 178.2L231.7 177.6L234.7 178.8ZM230.9 177.3L228.2 175.6L228.6 175.1L231.2 176.7ZM227.5 175.1L225 173L225.5 172.5L227.9 174.5ZM220.6 170.1L218.8 167.2L219.4 166.9L221.1 169.7ZM219.1 166L217.9 163L218.5 162.8L219.7 165.7ZM217 162.3L216.2 159L216.8 158.9L217.6 162.1ZM217.8 157.9L217.5 154.7L218.2 154.7L218.4 157.8ZM217.5 145.5L218.8 142.5L219.4 142.7L218.2 145.7ZM221 137.7L223.2 135.1L223.7 135.5L221.5 138.1ZM224.8 135.3L227.2 133.2L227.6 133.8L225.2 135.8ZM230.4 136.2L232.7 134.7L233 135.3L230.8 136.7ZM233.5 134.7L236 133.7L236.2 134.3L233.8 135.3ZM239.8 131L242.7 130.8L242.7 131.4L239.9 131.6Z" fill="#ff9896"/></g>
<text x="241.9" y="110.33" font-size="6.8" text-anchor="middle" font-weight="bold">GSE179252−GC</text>
<text x="27.8" y="155.84" font-size="4.3" text-anchor="end" fill="#444">0%</text>
<line x1="28.2" y1="154.3" x2="29.8" y2="154.3" stroke="#444" stroke-width="0.4"/>
<text x="27.8" y="147.69" font-size="4.3" text-anchor="end" fill="#444">25%</text>
<line x1="28.2" y1="146.15" x2="29.8" y2="146.15" stroke="#444" stroke-width="0.4"/>
<text x="27.8" y="139.54" font-size="4.3" text-anchor="end" fill="#444">50%</text>
<line x1="28.2" y1="138" x2="29.8" y2="138" stroke="#444" stroke-width="0.4"/>
<text x="27.8" y="131.39" font-size="4.3" text-anchor="end" fill="#444">75%</text>
<line x1="28.2" y1="129.85" x2="29.8" y2="129.85" stroke="#444" stroke-width="0.4"/>
<text x="27.8" y="123.24" font-size="4.3" text-anchor="end" fill="#444">100%</text>
<line x1="28.2" y1="121.7" x2="29.8" y2="121.7" stroke="#444" stroke-width="0.4"/>
<text x="10.2" y="150.86" font-size="6.6" text-anchor="middle" fill="#222" transform="rotate(-90 10.2 148.5)">Relative abundance</text>
<text x="298.6" y="11.49" font-size="6.4" fill="#222">Taxa name</text>
<rect x="298.8" y="14.9" width="8" height="7.4" fill="#1f77b4"/>
<text x="310.6" y="21.03" font-size="6.8" fill="#222">Bacillus cereus</text>
<rect x="298.8" y="23.5" width="8" height="7.4" fill="#d62728"/>
<text x="310.6" y="29.63" font-size="6.8" fill="#222">Stenotrophomonas maltophilia</text>
<rect x="298.8" y="32.1" width="8" height="7.4" fill="#2ca02c"/>
<text x="310.6" y="38.23" font-size="6.8" fill="#222">Enterobacter cloacae</text>
<rect x="298.8" y="40.7" width="8" height="7.4" fill="#ff7f0e"/>
<text x="310.6" y="46.83" font-size="6.8" fill="#222">Escherichia coli</text>
<rect x="298.8" y="49.3" width="8" height="7.4" fill="#9467bd"/>
<text x="310.6" y="55.43" font-size="6.8" fill="#222">Klebsiella pneumoniae</text>
<rect x="298.8" y="57.9" width="8" height="7.4" fill="#8c564b"/>
<text x="310.6" y="64.03" font-size="6.8" fill="#222">Salmonella bongori</text>
<rect x="298.8" y="66.5" width="8" height="7.4" fill="#e377c2"/>
<text x="310.6" y="72.63" font-size="6.8" fill="#222">Salmonella enterica</text>
<rect x="298.8" y="75.1" width="8" height="7.4" fill="#7f7f7f"/>
<text x="310.6" y="81.23" font-size="6.8" fill="#222">Salmonella sp. SJTUF14178</text>
<rect x="298.8" y="83.7" width="8" height="7.4" fill="#bcbd22"/>
<text x="310.6" y="89.83" font-size="6.8" fill="#222">Shigella flexneri</text>
<rect x="298.8" y="92.3" width="8" height="7.4" fill="#17becf"/>
<text x="310.6" y="98.43" font-size="6.8" fill="#222">Yersinia pestis</text>
<rect x="298.8" y="100.9" width="8" height="7.4" fill="#ad494a"/>
<text x="310.6" y="107.03" font-size="6.8" fill="#222">Mycobacterium canettii</text>
<rect x="298.8" y="109.5" width="8" height="7.4" fill="#e7ba52"/>
<text x="310.6" y="115.63" font-size="6.8" fill="#222">Staphylococcus cohnii</text>
<rect x="298.8" y="118.1" width="8" height="7.4" fill="#8ca252"/>
<text x="310.6" y="124.23" font-size="6.8" fill="#222">Staphylococcus simulans</text>
<rect x="298.8" y="126.7" width="8" height="7.4" fill="#6b6ecf"/>
<text x="310.6" y="132.83" font-size="6.8" fill="#222">Streptomyces lividans</text>
<rect x="298.8" y="135.3" width="8" height="7.4" fill="#595959"/>
<text x="310.6" y="141.43" font-size="6.8" fill="#222">Valbvirus ValB1MD2</text>
<rect x="298.8" y="143.9" width="8" height="7.4" fill="#aec7e8"/>
<text x="310.6" y="150.03" font-size="6.8" fill="#222">Xanthomonas euvesicatoria</text>
<rect x="298.8" y="152.5" width="8" height="7.4" fill="#ff9896"/>
<text x="310.6" y="158.63" font-size="6.8" fill="#222">Sphingomonas paucimobilis</text>
<rect x="298.8" y="161.1" width="8" height="7.4" fill="#98df8a"/>
<text x="310.6" y="167.23" font-size="6.8" fill="#222">Methylobacterium oryzae</text>
<rect x="298.8" y="169.7" width="8" height="7.4" fill="#ffbb78"/>
<text x="310.6" y="175.83" font-size="6.8" fill="#222">Methylobacterium sp. WL1</text>
<rect x="298.8" y="178.3" width="8" height="7.4" fill="#c5b0d5"/>
<text x="310.6" y="184.43" font-size="6.8" fill="#222">Pseudomonas sp. CIP−10</text>
<rect x="298.8" y="186.9" width="8" height="7.4" fill="#d9d9d9"/>
<text x="310.6" y="193.03" font-size="6.8" fill="#222">others</text>
<text x="407" y="8.7" font-size="9.5" font-weight="bold">B</text>
<rect x="430.4" y="13.4" width="183.8" height="27.4" fill="#fff"/>
<rect x="430.4" y="42.9" width="183.8" height="79.4" fill="#fff"/>
<line x1="436.66" y1="13.4" x2="436.66" y2="40.8" stroke="#ebebeb" stroke-width="0.5"/>
<line x1="436.66" y1="42.9" x2="436.66" y2="122.3" stroke="#ebebeb" stroke-width="0.5"/>
<line x1="445.76" y1="13.4" x2="445.76" y2="40.8" stroke="#ebebeb" stroke-width="0.5"/>
<line x1="445.76" y1="42.9" x2="445.76" y2="122.3" stroke="#ebebeb" stroke-width="0.5"/>
<line x1="454.86" y1="13.4" x2="454.86" y2="40.8" stroke="#ebebeb" stroke-width="0.5"/>
<line x1="454.86" y1="42.9" x2="454.86" y2="122.3" stroke="#ebebeb" stroke-width="0.5"/>
<line x1="463.96" y1="13.4" x2="463.96" y2="40.8" stroke="#ebebeb" stroke-width="0.5"/>
<line x1="463.96" y1="42.9" x2="463.96" y2="122.3" stroke="#ebebeb" stroke-width="0.5"/>
<line x1="473.06" y1="13.4" x2="473.06" y2="40.8" stroke="#ebebeb" stroke-width="0.5"/>
<line x1="473.06" y1="42.9" x2="473.06" y2="122.3" stroke="#ebebeb" stroke-width="0.5"/>
<line x1="482.15" y1="13.4" x2="482.15" y2="40.8" stroke="#ebebeb" stroke-width="0.5"/>
<line x1="482.15" y1="42.9" x2="482.15" y2="122.3" stroke="#ebebeb" stroke-width="0.5"/>
<line x1="491.25" y1="13.4" x2="491.25" y2="40.8" stroke="#ebebeb" stroke-width="0.5"/>
<line x1="491.25" y1="42.9" x2="491.25" y2="122.3" stroke="#ebebeb" stroke-width="0.5"/>
<line x1="500.35" y1="13.4" x2="500.35" y2="40.8" stroke="#ebebeb" stroke-width="0.5"/>
<line x1="500.35" y1="42.9" x2="500.35" y2="122.3" stroke="#ebebeb" stroke-width="0.5"/>
<line x1="509.45" y1="13.4" x2="509.45" y2="40.8" stroke="#ebebeb" stroke-width="0.5"/>
<line x1="509.45" y1="42.9" x2="509.45" y2="122.3" stroke="#ebebeb" stroke-width="0.5"/>
<line x1="518.55" y1="13.4" x2="518.55" y2="40.8" stroke="#ebebeb" stroke-width="0.5"/>
<line x1="518.55" y1="42.9" x2="518.55" y2="122.3" stroke="#ebebeb" stroke-width="0.5"/>
<line x1="527.65" y1="13.4" x2="527.65" y2="40.8" stroke="#ebebeb" stroke-width="0.5"/>
<line x1="527.65" y1="42.9" x2="527.65" y2="122.3" stroke="#ebebeb" stroke-width="0.5"/>
<line x1="536.75" y1="13.4" x2="536.75" y2="40.8" stroke="#ebebeb" stroke-width="0.5"/>
<line x1="536.75" y1="42.9" x2="536.75" y2="122.3" stroke="#ebebeb" stroke-width="0.5"/>
<line x1="545.85" y1="13.4" x2="545.85" y2="40.8" stroke="#ebebeb" stroke-width="0.5"/>
<line x1="545.85" y1="42.9" x2="545.85" y2="122.3" stroke="#ebebeb" stroke-width="0.5"/>
<line x1="554.95" y1="13.4" x2="554.95" y2="40.8" stroke="#ebebeb" stroke-width="0.5"/>
<line x1="554.95" y1="42.9" x2="554.95" y2="122.3" stroke="#ebebeb" stroke-width="0.5"/>
<line x1="564.05" y1="13.4" x2="564.05" y2="40.8" stroke="#ebebeb" stroke-width="0.5"/>
<line x1="564.05" y1="42.9" x2="564.05" y2="122.3" stroke="#ebebeb" stroke-width="0.5"/>
<line x1="573.14" y1="13.4" x2="573.14" y2="40.8" stroke="#ebebeb" stroke-width="0.5"/>
<line x1="573.14" y1="42.9" x2="573.14" y2="122.3" stroke="#ebebeb" stroke-width="0.5"/>
<line x1="582.24" y1="13.4" x2="582.24" y2="40.8" stroke="#ebebeb" stroke-width="0.5"/>
<line x1="582.24" y1="42.9" x2="582.24" y2="122.3" stroke="#ebebeb" stroke-width="0.5"/>
<line x1="591.34" y1="13.4" x2="591.34" y2="40.8" stroke="#ebebeb" stroke-width="0.5"/>
<line x1="591.34" y1="42.9" x2="591.34" y2="122.3" stroke="#ebebeb" stroke-width="0.5"/>
<line x1="600.44" y1="13.4" x2="600.44" y2="40.8" stroke="#ebebeb" stroke-width="0.5"/>
<line x1="600.44" y1="42.9" x2="600.44" y2="122.3" stroke="#ebebeb" stroke-width="0.5"/>
<line x1="609.54" y1="13.4" x2="609.54" y2="40.8" stroke="#ebebeb" stroke-width="0.5"/>
<line x1="609.54" y1="42.9" x2="609.54" y2="122.3" stroke="#ebebeb" stroke-width="0.5"/>
<line x1="430.4" y1="39.6" x2="614.2" y2="39.6" stroke="#ebebeb" stroke-width="0.5"/>
<line x1="430.4" y1="35.68" x2="614.2" y2="35.68" stroke="#ebebeb" stroke-width="0.3"/>
<line x1="430.4" y1="31.75" x2="614.2" y2="31.75" stroke="#ebebeb" stroke-width="0.5"/>
<line x1="430.4" y1="27.83" x2="614.2" y2="27.83" stroke="#ebebeb" stroke-width="0.3"/>
<line x1="430.4" y1="23.9" x2="614.2" y2="23.9" stroke="#ebebeb" stroke-width="0.5"/>
<line x1="430.4" y1="19.98" x2="614.2" y2="19.98" stroke="#ebebeb" stroke-width="0.3"/>
<line x1="430.4" y1="16.05" x2="614.2" y2="16.05" stroke="#ebebeb" stroke-width="0.5"/>
<line x1="430.4" y1="118.8" x2="614.2" y2="118.8" stroke="#ebebeb" stroke-width="0.5"/>
<line x1="430.4" y1="108.92" x2="614.2" y2="108.92" stroke="#ebebeb" stroke-width="0.3"/>
<line x1="430.4" y1="99.05" x2="614.2" y2="99.05" stroke="#ebebeb" stroke-width="0.5"/>
<line x1="430.4" y1="89.17" x2="614.2" y2="89.17" stroke="#ebebeb" stroke-width="0.3"/>
<line x1="430.4" y1="79.3" x2="614.2" y2="79.3" stroke="#ebebeb" stroke-width="0.5"/>
<line x1="430.4" y1="69.42" x2="614.2" y2="69.42" stroke="#ebebeb" stroke-width="0.3"/>
<line x1="430.4" y1="59.55" x2="614.2" y2="59.55" stroke="#ebebeb" stroke-width="0.5"/>
<line x1="430.4" y1="49.67" x2="614.2" y2="49.67" stroke="#ebebeb" stroke-width="0.3"/>
<rect x="432.56" y="56.39" width="1.41" height="62.41" fill="#1f77b4"/>
<rect x="433.93" y="82.46" width="1.41" height="36.34" fill="#d62728"/>
<rect x="435.29" y="81.67" width="1.41" height="37.13" fill="#2ca02c"/>
<rect x="436.66" y="88.78" width="1.41" height="30.02" fill="#ff7f0e"/>
<rect x="438.02" y="43.75" width="1.41" height="75.05" fill="#9467bd"/>
<rect x="438.02" y="15.27" width="1.41" height="25.53" fill="#9467bd"/>
<rect x="439.39" y="53.23" width="1.41" height="65.57" fill="#8c564b"/>
<rect x="441.66" y="55.6" width="1.41" height="63.2" fill="#1f77b4"/>
<rect x="443.03" y="82.46" width="1.41" height="36.34" fill="#d62728"/>
<rect x="444.39" y="81.67" width="1.41" height="37.13" fill="#2ca02c"/>
<rect x="445.76" y="88.78" width="1.41" height="30.02" fill="#ff7f0e"/>
<rect x="447.12" y="43.75" width="1.41" height="75.05" fill="#9467bd"/>
<rect x="447.12" y="16.84" width="1.41" height="23.96" fill="#9467bd"/>
<rect x="448.49" y="53.23" width="1.41" height="65.57" fill="#8c564b"/>
<rect x="450.76" y="61.92" width="1.41" height="56.88" fill="#1f77b4"/>
<rect x="452.13" y="82.46" width="1.41" height="36.34" fill="#d62728"/>
<rect x="453.49" y="81.67" width="1.41" height="37.13" fill="#2ca02c"/>
<rect x="454.86" y="91.15" width="1.41" height="27.65" fill="#ff7f0e"/>
<rect x="456.22" y="43.75" width="1.41" height="75.05" fill="#9467bd"/>
<rect x="456.22" y="23.9" width="1.41" height="16.9" fill="#9467bd"/>
<rect x="457.59" y="116.43" width="1.41" height="2.37" fill="#8c564b"/>
<rect x="459.86" y="56.39" width="1.41" height="62.41" fill="#1f77b4"/>
<rect x="461.23" y="82.46" width="1.41" height="36.34" fill="#d62728"/>
<rect x="462.59" y="81.67" width="1.41" height="37.13" fill="#2ca02c"/>
<rect x="463.96" y="91.15" width="1.41" height="27.65" fill="#ff7f0e"/>
<rect x="465.32" y="43.75" width="1.41" height="75.05" fill="#9467bd"/>
<rect x="465.32" y="30.18" width="1.41" height="10.62" fill="#9467bd"/>
<rect x="466.69" y="54.02" width="1.41" height="64.78" fill="#8c564b"/>
<rect x="468.96" y="56.39" width="1.41" height="62.41" fill="#1f77b4"/>
<rect x="470.33" y="82.46" width="1.41" height="36.34" fill="#d62728"/>
<rect x="471.69" y="83.25" width="1.41" height="35.55" fill="#2ca02c"/>
<rect x="473.06" y="99.84" width="1.41" height="18.96" fill="#ff7f0e"/>
<rect x="474.42" y="43.75" width="1.41" height="75.05" fill="#9467bd"/>
<rect x="478.06" y="57.97" width="1.41" height="60.83" fill="#1f77b4"/>
<rect x="479.42" y="82.46" width="1.41" height="36.34" fill="#d62728"/>
<rect x="480.79" y="81.67" width="1.41" height="37.13" fill="#2ca02c"/>
<rect x="482.15" y="91.15" width="1.41" height="27.65" fill="#ff7f0e"/>
<rect x="483.52" y="43.75" width="1.41" height="75.05" fill="#9467bd"/>
<rect x="483.52" y="26.26" width="1.41" height="14.54" fill="#9467bd"/>
<rect x="484.88" y="58.76" width="1.41" height="60.04" fill="#8c564b"/>
<rect x="487.16" y="117.22" width="1.41" height="1.58" fill="#1f77b4"/>
<rect x="488.52" y="84.04" width="1.41" height="34.76" fill="#d62728"/>
<rect x="489.89" y="118.01" width="1.41" height="0.79" fill="#2ca02c"/>
<rect x="491.25" y="118.01" width="1.41" height="0.79" fill="#ff7f0e"/>
<rect x="492.62" y="118.01" width="1.41" height="0.79" fill="#9467bd"/>
<rect x="496.26" y="117.22" width="1.41" height="1.58" fill="#1f77b4"/>
<rect x="497.62" y="84.04" width="1.41" height="34.76" fill="#d62728"/>
<rect x="505.36" y="99.84" width="1.41" height="18.96" fill="#1f77b4"/>
<rect x="506.72" y="84.04" width="1.41" height="34.76" fill="#d62728"/>
<rect x="508.09" y="102.21" width="1.41" height="16.59" fill="#2ca02c"/>
<rect x="509.45" y="113.27" width="1.41" height="5.53" fill="#ff7f0e"/>
<rect x="510.82" y="55.99" width="1.41" height="62.8" fill="#9467bd"/>
<rect x="512.18" y="117.22" width="1.41" height="1.58" fill="#8c564b"/>
<rect x="514.46" y="117.22" width="1.41" height="1.58" fill="#1f77b4"/>
<rect x="515.82" y="84.04" width="1.41" height="34.76" fill="#d62728"/>
<rect x="523.55" y="117.22" width="1.41" height="1.58" fill="#1f77b4"/>
<rect x="524.92" y="84.04" width="1.41" height="34.76" fill="#d62728"/>
<rect x="527.65" y="110.43" width="1.41" height="8.37" fill="#ff7f0e"/>
<rect x="529.01" y="54.41" width="1.41" height="64.39" fill="#9467bd"/>
<rect x="532.65" y="117.22" width="1.41" height="1.58" fill="#1f77b4"/>
<rect x="534.02" y="84.04" width="1.41" height="34.76" fill="#d62728"/>
<rect x="541.75" y="72.98" width="1.41" height="45.82" fill="#1f77b4"/>
<rect x="543.12" y="84.04" width="1.41" height="34.76" fill="#d62728"/>
<rect x="544.48" y="99.05" width="1.41" height="19.75" fill="#2ca02c"/>
<rect x="547.21" y="118.01" width="1.41" height="0.79" fill="#9467bd"/>
<rect x="550.85" y="107.74" width="1.41" height="11.06" fill="#1f77b4"/>
<rect x="552.22" y="107.74" width="1.41" height="11.06" fill="#d62728"/>
<rect x="553.58" y="100.63" width="1.41" height="18.17" fill="#2ca02c"/>
<rect x="559.95" y="112.01" width="1.41" height="6.79" fill="#1f77b4"/>
<rect x="561.32" y="113.27" width="1.41" height="5.53" fill="#d62728"/>
<rect x="562.68" y="82.46" width="1.41" height="36.34" fill="#2ca02c"/>
<rect x="569.05" y="101.42" width="1.41" height="17.38" fill="#1f77b4"/>
<rect x="570.41" y="111.69" width="1.41" height="7.11" fill="#d62728"/>
<rect x="571.78" y="87.99" width="1.41" height="30.81" fill="#2ca02c"/>
<rect x="573.14" y="115.32" width="1.41" height="3.48" fill="#ff7f0e"/>
<rect x="574.51" y="91.94" width="1.41" height="26.86" fill="#9467bd"/>
<rect x="578.15" y="101.66" width="1.41" height="17.14" fill="#1f77b4"/>
<rect x="579.51" y="108.53" width="1.41" height="10.27" fill="#d62728"/>
<rect x="580.88" y="82.46" width="1.41" height="36.34" fill="#2ca02c"/>
<rect x="582.24" y="118.01" width="1.41" height="0.79" fill="#ff7f0e"/>
<rect x="583.61" y="109.48" width="1.41" height="9.32" fill="#9467bd"/>
<rect x="587.25" y="114.3" width="1.41" height="4.5" fill="#1f77b4"/>
<rect x="588.61" y="117.22" width="1.41" height="1.58" fill="#d62728"/>
<rect x="589.98" y="84.04" width="1.41" height="34.76" fill="#2ca02c"/>
<rect x="591.34" y="112.48" width="1.41" height="6.32" fill="#ff7f0e"/>
<rect x="592.71" y="85.62" width="1.41" height="33.18" fill="#9467bd"/>
<rect x="594.07" y="112.48" width="1.41" height="6.32" fill="#8c564b"/>
<rect x="599.08" y="97.47" width="1.41" height="21.33" fill="#2ca02c"/>
<rect x="600.44" y="109.48" width="1.41" height="9.32" fill="#ff7f0e"/>
<rect x="601.81" y="76.38" width="1.41" height="42.42" fill="#9467bd"/>
<rect x="603.17" y="111.37" width="1.41" height="7.43" fill="#8c564b"/>
<rect x="605.45" y="116.27" width="1.41" height="2.53" fill="#1f77b4"/>
<rect x="606.81" y="118.01" width="1.41" height="0.79" fill="#d62728"/>
<rect x="608.18" y="99.05" width="1.41" height="19.75" fill="#2ca02c"/>
<rect x="609.54" y="115.88" width="1.41" height="2.92" fill="#ff7f0e"/>
<rect x="610.91" y="99.05" width="1.41" height="19.75" fill="#9467bd"/>
<rect x="612.27" y="118.01" width="1.41" height="0.79" fill="#8c564b"/>
<rect x="430.4" y="13.4" width="183.8" height="27.4" fill="none" stroke="#333" stroke-width="0.7"/>
<rect x="430.4" y="42.9" width="183.8" height="79.4" fill="none" stroke="#333" stroke-width="0.7"/>
<text x="428.1" y="41.18" font-size="4.4" text-anchor="end" fill="#444">200</text>
<line x1="428.8" y1="39.6" x2="430.4" y2="39.6" stroke="#444" stroke-width="0.4"/>
<text x="428.1" y="33.33" font-size="4.4" text-anchor="end" fill="#444">210</text>
<line x1="428.8" y1="31.75" x2="430.4" y2="31.75" stroke="#444" stroke-width="0.4"/>
<text x="428.1" y="25.48" font-size="4.4" text-anchor="end" fill="#444">220</text>
<line x1="428.8" y1="23.9" x2="430.4" y2="23.9" stroke="#444" stroke-width="0.4"/>
<text x="428.1" y="17.63" font-size="4.4" text-anchor="end" fill="#444">230</text>
<line x1="428.8" y1="16.05" x2="430.4" y2="16.05" stroke="#444" stroke-width="0.4"/>
<text x="428.1" y="120.38" font-size="4.4" text-anchor="end" fill="#444">0</text>
<line x1="428.8" y1="118.8" x2="430.4" y2="118.8" stroke="#444" stroke-width="0.4"/>
<text x="428.1" y="100.63" font-size="4.4" text-anchor="end" fill="#444">25</text>
<line x1="428.8" y1="99.05" x2="430.4" y2="99.05" stroke="#444" stroke-width="0.4"/>
<text x="428.1" y="80.88" font-size="4.4" text-anchor="end" fill="#444">50</text>
<line x1="428.8" y1="79.3" x2="430.4" y2="79.3" stroke="#444" stroke-width="0.4"/>
<text x="428.1" y="61.13" font-size="4.4" text-anchor="end" fill="#444">75</text>
<line x1="428.8" y1="59.55" x2="430.4" y2="59.55" stroke="#444" stroke-width="0.4"/>
<text x="413.3" y="80.97" font-size="6.9" text-anchor="middle" fill="#222" transform="rotate(-90 413.3 78.5)">Number of samples detected</text>
<line x1="436.66" y1="122.3" x2="436.66" y2="123.5" stroke="#444" stroke-width="0.4"/>
<text x="439.66" y="127.6" font-size="5" text-anchor="end" fill="#333" transform="rotate(-60 439.66 127.6)">Bacillus cereus</text>
<line x1="445.76" y1="122.3" x2="445.76" y2="123.5" stroke="#444" stroke-width="0.4"/>
<text x="448.76" y="127.6" font-size="5" text-anchor="end" fill="#333" transform="rotate(-60 448.76 127.6)">Stenotrophomonas maltophilia</text>
<line x1="454.86" y1="122.3" x2="454.86" y2="123.5" stroke="#444" stroke-width="0.4"/>
<text x="457.86" y="127.6" font-size="5" text-anchor="end" fill="#333" transform="rotate(-60 457.86 127.6)">Escherichia coli</text>
<line x1="463.96" y1="122.3" x2="463.96" y2="123.5" stroke="#444" stroke-width="0.4"/>
<text x="466.96" y="127.6" font-size="5" text-anchor="end" fill="#333" transform="rotate(-60 466.96 127.6)">Klebsiella pneumoniae</text>
<line x1="473.06" y1="122.3" x2="473.06" y2="123.5" stroke="#444" stroke-width="0.4"/>
<text x="476.06" y="127.6" font-size="5" text-anchor="end" fill="#333" transform="rotate(-60 476.06 127.6)">Pseudomonas sp. CIP−10</text>
<line x1="482.15" y1="122.3" x2="482.15" y2="123.5" stroke="#444" stroke-width="0.4"/>
<text x="485.15" y="127.6" font-size="5" text-anchor="end" fill="#333" transform="rotate(-60 485.15 127.6)">Mycobacterium canettii</text>
<line x1="491.25" y1="122.3" x2="491.25" y2="123.5" stroke="#444" stroke-width="0.4"/>
<text x="494.25" y="127.6" font-size="5" text-anchor="end" fill="#333" transform="rotate(-60 494.25 127.6)">Enterobacter cloacae</text>
<line x1="500.35" y1="122.3" x2="500.35" y2="123.5" stroke="#444" stroke-width="0.4"/>
<text x="503.35" y="127.6" font-size="5" text-anchor="end" fill="#333" transform="rotate(-60 503.35 127.6)">Salmonella bongori</text>
<line x1="509.45" y1="122.3" x2="509.45" y2="123.5" stroke="#444" stroke-width="0.4"/>
<text x="512.45" y="127.6" font-size="5" text-anchor="end" fill="#333" transform="rotate(-60 512.45 127.6)">Salmonella enterica</text>
<line x1="518.55" y1="122.3" x2="518.55" y2="123.5" stroke="#444" stroke-width="0.4"/>
<text x="521.55" y="127.6" font-size="5" text-anchor="end" fill="#333" transform="rotate(-60 521.55 127.6)">Salmonella sp. SJTUF14178</text>
<line x1="527.65" y1="122.3" x2="527.65" y2="123.5" stroke="#444" stroke-width="0.4"/>
<text x="530.65" y="127.6" font-size="5" text-anchor="end" fill="#333" transform="rotate(-60 530.65 127.6)">Shigella flexneri</text>
<line x1="536.75" y1="122.3" x2="536.75" y2="123.5" stroke="#444" stroke-width="0.4"/>
<text x="539.75" y="127.6" font-size="5" text-anchor="end" fill="#333" transform="rotate(-60 539.75 127.6)">Yersinia pestis</text>
<line x1="545.85" y1="122.3" x2="545.85" y2="123.5" stroke="#444" stroke-width="0.4"/>
<text x="548.85" y="127.6" font-size="5" text-anchor="end" fill="#333" transform="rotate(-60 548.85 127.6)">Staphylococcus cohnii</text>
<line x1="554.95" y1="122.3" x2="554.95" y2="123.5" stroke="#444" stroke-width="0.4"/>
<text x="557.95" y="127.6" font-size="5" text-anchor="end" fill="#333" transform="rotate(-60 557.95 127.6)">Staphylococcus simulans</text>
<line x1="564.05" y1="122.3" x2="564.05" y2="123.5" stroke="#444" stroke-width="0.4"/>
<text x="567.05" y="127.6" font-size="5" text-anchor="end" fill="#333" transform="rotate(-60 567.05 127.6)">Streptomyces lividans</text>
<line x1="573.14" y1="122.3" x2="573.14" y2="123.5" stroke="#444" stroke-width="0.4"/>
<text x="576.14" y="127.6" font-size="5" text-anchor="end" fill="#333" transform="rotate(-60 576.14 127.6)">Valbvirus ValB1MD2</text>
<line x1="582.24" y1="122.3" x2="582.24" y2="123.5" stroke="#444" stroke-width="0.4"/>
<text x="585.24" y="127.6" font-size="5" text-anchor="end" fill="#333" transform="rotate(-60 585.24 127.6)">Xanthomonas euvesicatoria</text>
<line x1="591.34" y1="122.3" x2="591.34" y2="123.5" stroke="#444" stroke-width="0.4"/>
<text x="594.34" y="127.6" font-size="5" text-anchor="end" fill="#333" transform="rotate(-60 594.34 127.6)">Sphingomonas paucimobilis</text>
<line x1="600.44" y1="122.3" x2="600.44" y2="123.5" stroke="#444" stroke-width="0.4"/>
<text x="603.44" y="127.6" font-size="5" text-anchor="end" fill="#333" transform="rotate(-60 603.44 127.6)">Methylobacterium oryzae</text>
<line x1="609.54" y1="122.3" x2="609.54" y2="123.5" stroke="#444" stroke-width="0.4"/>
<text x="612.54" y="127.6" font-size="5" text-anchor="end" fill="#333" transform="rotate(-60 612.54 127.6)">Methylobacterium sp. WL1</text>
<text x="621" y="46.82" font-size="6.2" fill="#222">Study</text>
<rect x="621.2" y="50.2" width="6.6" height="6.4" fill="#1f77b4"/>
<text x="630" y="55.42" font-size="5.65" fill="#222">GSE122401−GC</text>
<rect x="621.2" y="57.53" width="6.6" height="6.4" fill="#d62728"/>
<text x="630" y="62.75" font-size="5.65" fill="#222">GSE126304−AEG</text>
<rect x="621.2" y="64.86" width="6.6" height="6.4" fill="#2ca02c"/>
<text x="630" y="70.08" font-size="5.65" fill="#222">GSE156451−CRC</text>
<rect x="621.2" y="72.19" width="6.6" height="6.4" fill="#ff7f0e"/>
<text x="630" y="77.41" font-size="5.65" fill="#222">GSE179252−GC</text>
<rect x="621.2" y="79.52" width="6.6" height="6.4" fill="#9467bd"/>
<text x="630" y="84.74" font-size="5.65" fill="#222">GSE184336−GC</text>
<rect x="621.2" y="86.85" width="6.6" height="6.4" fill="#8c564b"/>
<text x="630" y="92.07" font-size="5.65" fill="#222">PRJNA788008−AEG</text>
<text x="6.5" y="223" font-size="9.5" font-weight="bold">C</text>
<rect x="28" y="224.4" width="94" height="90" fill="#fff"/>
<polyline points="32.4,228.4 36.99,228.4 36.99,230.02 38.96,230.02 38.96,236.11 41.01,236.11 41.01,242.2 43.96,242.2 43.96,247.89 47.98,247.89 47.98,252.76 51.01,252.76 51.01,258.04 55.03,258.04 55.03,262.99 60.03,262.99 60.03,268.19 63.97,268.19 63.97,272 65.04,272 65.04,275.01 73.97,275.01 73.97,275.98 76.02,275.98 76.02,278.99 98,278.99 98,286.86 103.74,286.86 103.74,286.86" fill="none" stroke="#3a6fb5" stroke-width="0.75" stroke-linejoin="miter"/>
<line x1="41.83" y1="241.3" x2="41.83" y2="243.1" stroke="#3a6fb5" stroke-width="0.5"/>
<line x1="33.22" y1="227.5" x2="33.22" y2="229.3" stroke="#3a6fb5" stroke-width="0.5"/>
<line x1="60.85" y1="267.29" x2="60.85" y2="269.09" stroke="#3a6fb5" stroke-width="0.5"/>
<line x1="74.79" y1="275.08" x2="74.79" y2="276.88" stroke="#3a6fb5" stroke-width="0.5"/>
<line x1="33.22" y1="227.5" x2="33.22" y2="229.3" stroke="#3a6fb5" stroke-width="0.5"/>
<line x1="39.78" y1="235.21" x2="39.78" y2="237.01" stroke="#3a6fb5" stroke-width="0.5"/>
<line x1="41.83" y1="241.3" x2="41.83" y2="243.1" stroke="#3a6fb5" stroke-width="0.5"/>
<line x1="33.22" y1="227.5" x2="33.22" y2="229.3" stroke="#3a6fb5" stroke-width="0.5"/>
<polyline points="32.4,228.4 38.96,228.4 38.96,231.65 41.99,231.65 41.99,234.9 46.01,234.9 46.01,238.96 48.96,238.96 48.96,244.64 54.95,244.64 54.95,247.89 57,247.89 57,255.2 68.97,255.2 68.97,262.5 92.01,262.5 92.01,274.44 122.19,274.44 122.19,274.44" fill="none" stroke="#e8363a" stroke-width="0.75" stroke-linejoin="miter"/>
<line x1="33.22" y1="227.5" x2="33.22" y2="229.3" stroke="#e8363a" stroke-width="0.5"/>
<line x1="57.82" y1="254.3" x2="57.82" y2="256.1" stroke="#e8363a" stroke-width="0.5"/>
<line x1="69.79" y1="261.6" x2="69.79" y2="263.4" stroke="#e8363a" stroke-width="0.5"/>
<line x1="33.22" y1="227.5" x2="33.22" y2="229.3" stroke="#e8363a" stroke-width="0.5"/>
<line x1="46.83" y1="238.06" x2="46.83" y2="239.86" stroke="#e8363a" stroke-width="0.5"/>
<line x1="69.79" y1="261.6" x2="69.79" y2="263.4" stroke="#e8363a" stroke-width="0.5"/>
<line x1="69.79" y1="261.6" x2="69.79" y2="263.4" stroke="#e8363a" stroke-width="0.5"/>
<line x1="49.78" y1="243.74" x2="49.78" y2="245.54" stroke="#e8363a" stroke-width="0.5"/>
<rect x="28" y="224.4" width="94" height="90" fill="none" stroke="#555" stroke-width="0.7"/>
<rect x="123.6" y="224.6" width="95" height="89.8" fill="#fff"/>
<polyline points="129,228.4 133.02,228.4 133.02,230.02 134.99,230.02 134.99,234.9 137.04,234.9 137.04,242.2 139.99,242.2 139.99,247.08 144.99,247.08 144.99,250.32 149.99,250.32 149.99,253.98 154.99,253.98 154.99,259.01 161.96,259.01 161.96,266 173.03,266 173.03,271.03 188.04,271.03 188.04,277.93 192.96,277.93 192.96,285.65 218.38,285.65 218.38,285.65" fill="none" stroke="#3a6fb5" stroke-width="0.75" stroke-linejoin="miter"/>
<line x1="133.84" y1="229.12" x2="133.84" y2="230.92" stroke="#3a6fb5" stroke-width="0.5"/>
<line x1="173.85" y1="270.13" x2="173.85" y2="271.93" stroke="#3a6fb5" stroke-width="0.5"/>
<line x1="193.78" y1="284.75" x2="193.78" y2="286.55" stroke="#3a6fb5" stroke-width="0.5"/>
<line x1="188.86" y1="277.03" x2="188.86" y2="278.83" stroke="#3a6fb5" stroke-width="0.5"/>
<line x1="162.78" y1="265.1" x2="162.78" y2="266.9" stroke="#3a6fb5" stroke-width="0.5"/>
<line x1="137.86" y1="241.3" x2="137.86" y2="243.1" stroke="#3a6fb5" stroke-width="0.5"/>
<line x1="140.81" y1="246.18" x2="140.81" y2="247.98" stroke="#3a6fb5" stroke-width="0.5"/>
<line x1="193.78" y1="284.75" x2="193.78" y2="286.55" stroke="#3a6fb5" stroke-width="0.5"/>
<polyline points="129,228.4 135.97,228.4 135.97,230.02 139,230.02 139,240.01 141.96,240.01 141.96,250 145.97,250 145.97,260.88 150.98,260.88 150.98,269 154.99,269 154.99,275.98 164.01,275.98 164.01,280.37 204.03,280.37 204.03,280.37" fill="none" stroke="#e8363a" stroke-width="0.75" stroke-linejoin="miter"/>
<line x1="129.82" y1="227.5" x2="129.82" y2="229.3" stroke="#e8363a" stroke-width="0.5"/>
<line x1="155.81" y1="275.08" x2="155.81" y2="276.88" stroke="#e8363a" stroke-width="0.5"/>
<line x1="164.83" y1="279.47" x2="164.83" y2="281.27" stroke="#e8363a" stroke-width="0.5"/>
<line x1="129.82" y1="227.5" x2="129.82" y2="229.3" stroke="#e8363a" stroke-width="0.5"/>
<line x1="142.78" y1="249.1" x2="142.78" y2="250.9" stroke="#e8363a" stroke-width="0.5"/>
<line x1="164.83" y1="279.47" x2="164.83" y2="281.27" stroke="#e8363a" stroke-width="0.5"/>
<line x1="164.83" y1="279.47" x2="164.83" y2="281.27" stroke="#e8363a" stroke-width="0.5"/>
<line x1="146.79" y1="259.98" x2="146.79" y2="261.78" stroke="#e8363a" stroke-width="0.5"/>
<rect x="123.6" y="224.6" width="95" height="89.8" fill="none" stroke="#555" stroke-width="0.7"/>
<rect x="28" y="316" width="94" height="89.6" fill="#fff"/>
<polyline points="32.4,320 36.99,320 36.99,322.04 40.03,322.04 40.03,327.02 42.98,327.02 42.98,333.06 46.01,333.06 46.01,339.99 50.03,339.99 50.03,346.93 52.9,346.93 52.9,351.82 57.98,351.82 57.98,358.03 63.97,358.03 63.97,362.02 68.97,362.02 68.97,363.98 76.02,363.98 76.02,367.57 122.19,367.57 122.19,367.57" fill="none" stroke="#3a6fb5" stroke-width="0.75" stroke-linejoin="miter"/>
<line x1="37.81" y1="321.14" x2="37.81" y2="322.94" stroke="#3a6fb5" stroke-width="0.5"/>
<line x1="69.79" y1="363.08" x2="69.79" y2="364.88" stroke="#3a6fb5" stroke-width="0.5"/>
<line x1="76.84" y1="366.67" x2="76.84" y2="368.47" stroke="#3a6fb5" stroke-width="0.5"/>
<line x1="64.79" y1="361.12" x2="64.79" y2="362.92" stroke="#3a6fb5" stroke-width="0.5"/>
<line x1="43.8" y1="332.16" x2="43.8" y2="333.96" stroke="#3a6fb5" stroke-width="0.5"/>
<line x1="46.83" y1="339.09" x2="46.83" y2="340.89" stroke="#3a6fb5" stroke-width="0.5"/>
<line x1="46.83" y1="339.09" x2="46.83" y2="340.89" stroke="#3a6fb5" stroke-width="0.5"/>
<line x1="46.83" y1="339.09" x2="46.83" y2="340.89" stroke="#3a6fb5" stroke-width="0.5"/>
<polyline points="32.4,320 36.99,320 36.99,323.02 41.99,323.02 41.99,335.01 42.98,335.01 42.98,337.95 52.9,337.95 52.9,343.66 57.98,343.66 57.98,346.93 63.97,346.93 63.97,352.4 65.04,352.4 65.04,358.03 92.01,358.03 92.01,372.39 97.59,372.39 97.59,386.99 101.03,386.99 101.03,386.99" fill="none" stroke="#e8363a" stroke-width="0.75" stroke-linejoin="miter"/>
<line x1="53.72" y1="342.76" x2="53.72" y2="344.56" stroke="#e8363a" stroke-width="0.5"/>
<line x1="53.72" y1="342.76" x2="53.72" y2="344.56" stroke="#e8363a" stroke-width="0.5"/>
<line x1="42.81" y1="334.11" x2="42.81" y2="335.91" stroke="#e8363a" stroke-width="0.5"/>
<line x1="43.8" y1="337.05" x2="43.8" y2="338.85" stroke="#e8363a" stroke-width="0.5"/>
<line x1="42.81" y1="334.11" x2="42.81" y2="335.91" stroke="#e8363a" stroke-width="0.5"/>
<line x1="43.8" y1="337.05" x2="43.8" y2="338.85" stroke="#e8363a" stroke-width="0.5"/>
<line x1="42.81" y1="334.11" x2="42.81" y2="335.91" stroke="#e8363a" stroke-width="0.5"/>
<line x1="42.81" y1="334.11" x2="42.81" y2="335.91" stroke="#e8363a" stroke-width="0.5"/>
<rect x="28" y="316" width="94" height="89.6" fill="none" stroke="#555" stroke-width="0.7"/>
<rect x="124" y="316" width="94.6" height="90.4" fill="#fff"/>
<polyline points="129,320 133.92,320 133.92,323.02 137.04,323.02 137.04,330.04 139.99,330.04 139.99,338.03 142.94,338.03 142.94,344.97 147.04,344.97 147.04,350.03 150.98,350.03 150.98,354.44 154.99,354.44 154.99,359 159.01,359 159.01,362.43 163.03,362.43 163.03,367 164.42,367 164.42,370.02 188.04,370.02 188.04,375.98 192.96,375.98 192.96,385.04 200.34,385.04 200.34,385.04" fill="none" stroke="#3a6fb5" stroke-width="0.75" stroke-linejoin="miter"/>
<line x1="159.83" y1="361.53" x2="159.83" y2="363.33" stroke="#3a6fb5" stroke-width="0.5"/>
<line x1="151.8" y1="353.54" x2="151.8" y2="355.34" stroke="#3a6fb5" stroke-width="0.5"/>
<line x1="193.78" y1="384.14" x2="193.78" y2="385.94" stroke="#3a6fb5" stroke-width="0.5"/>
<line x1="143.76" y1="344.07" x2="143.76" y2="345.87" stroke="#3a6fb5" stroke-width="0.5"/>
<line x1="147.86" y1="349.13" x2="147.86" y2="350.93" stroke="#3a6fb5" stroke-width="0.5"/>
<line x1="143.76" y1="344.07" x2="143.76" y2="345.87" stroke="#3a6fb5" stroke-width="0.5"/>
<line x1="137.86" y1="329.14" x2="137.86" y2="330.94" stroke="#3a6fb5" stroke-width="0.5"/>
<line x1="193.78" y1="384.14" x2="193.78" y2="385.94" stroke="#3a6fb5" stroke-width="0.5"/>
<polyline points="129,320 133.02,320 133.02,323.59 139.99,323.59 139.99,332.4 145.97,332.4 145.97,335.59 149.99,335.59 149.99,340.97 151.96,340.97 151.96,345.62 173.03,345.62 173.03,352.4 218.38,352.4 218.38,352.4" fill="none" stroke="#e8363a" stroke-width="0.75" stroke-linejoin="miter"/>
<line x1="146.79" y1="334.69" x2="146.79" y2="336.49" stroke="#e8363a" stroke-width="0.5"/>
<line x1="173.85" y1="351.5" x2="173.85" y2="353.3" stroke="#e8363a" stroke-width="0.5"/>
<line x1="150.81" y1="340.07" x2="150.81" y2="341.87" stroke="#e8363a" stroke-width="0.5"/>
<line x1="173.85" y1="351.5" x2="173.85" y2="353.3" stroke="#e8363a" stroke-width="0.5"/>
<line x1="173.85" y1="351.5" x2="173.85" y2="353.3" stroke="#e8363a" stroke-width="0.5"/>
<line x1="146.79" y1="334.69" x2="146.79" y2="336.49" stroke="#e8363a" stroke-width="0.5"/>
<line x1="146.79" y1="334.69" x2="146.79" y2="336.49" stroke="#e8363a" stroke-width="0.5"/>
<line x1="150.81" y1="340.07" x2="150.81" y2="341.87" stroke="#e8363a" stroke-width="0.5"/>
<rect x="124" y="316" width="94.6" height="90.4" fill="none" stroke="#555" stroke-width="0.7"/>
<line x1="93.6" y1="233.6" x2="100" y2="233.6" stroke="#3a6fb5" stroke-width="0.6"/>
<line x1="93.6" y1="243" x2="100" y2="243" stroke="#e8363a" stroke-width="0.6"/>
<text x="103.6" y="236.07" font-size="6.9" fill="#222">High</text>
<text x="103.6" y="245.47" font-size="6.9" fill="#222">Low</text>
<line x1="189.2" y1="233.8" x2="195.6" y2="233.8" stroke="#3a6fb5" stroke-width="0.6"/>
<line x1="189.2" y1="243.2" x2="195.6" y2="243.2" stroke="#e8363a" stroke-width="0.6"/>
<text x="199.2" y="236.27" font-size="6.9" fill="#222">High</text>
<text x="199.2" y="245.67" font-size="6.9" fill="#222">Low</text>
<line x1="93.6" y1="325.2" x2="100" y2="325.2" stroke="#3a6fb5" stroke-width="0.6"/>
<line x1="93.6" y1="334.6" x2="100" y2="334.6" stroke="#e8363a" stroke-width="0.6"/>
<text x="103.6" y="327.67" font-size="6.9" fill="#222">High</text>
<text x="103.6" y="337.07" font-size="6.9" fill="#222">Low</text>
<line x1="189.6" y1="325.2" x2="196" y2="325.2" stroke="#3a6fb5" stroke-width="0.6"/>
<line x1="189.6" y1="334.6" x2="196" y2="334.6" stroke="#e8363a" stroke-width="0.6"/>
<text x="199.6" y="327.67" font-size="6.9" fill="#222">High</text>
<text x="199.6" y="337.07" font-size="6.9" fill="#222">Low</text>
<text x="33.6" y="294.83" font-size="6.78" fill="#222">Log-rank <tspan font-style="italic">P</tspan> = 0.12</text>
<text x="132.4" y="294.79" font-size="6.68" fill="#222">Log-rank <tspan font-style="italic">P</tspan> = 0.44</text>
<text x="34.4" y="389.81" font-size="6.73" fill="#222">Log-rank <tspan font-style="italic">P</tspan> = 0.71</text>
<text x="133" y="389.84" font-size="6.81" fill="#222">Log-rank <tspan font-style="italic">P</tspan> = 0.028</text>
<text x="42" y="306.43" font-size="6.78" fill="#222">Pseudomonas sp. CIP−10</text>
<text x="140.4" y="306.84" font-size="6.82" fill="#222">Klebsiella pneumoniae</text>
<text x="53.6" y="399.82" font-size="6.75" fill="#222">Bacillus cereus</text>
<text x="125.6" y="400.42" font-size="6.77" fill="#222">Stenotrophomonas maltophilia</text>
<text x="26.2" y="229.87" font-size="4.1" text-anchor="end" fill="#444">1.00</text>
<line x1="26.5" y1="228.4" x2="28" y2="228.4" stroke="#555" stroke-width="0.4"/>
<text x="26.2" y="250.17" font-size="4.1" text-anchor="end" fill="#444">0.75</text>
<line x1="26.5" y1="248.7" x2="28" y2="248.7" stroke="#555" stroke-width="0.4"/>
<text x="26.2" y="270.47" font-size="4.1" text-anchor="end" fill="#444">0.50</text>
<line x1="26.5" y1="269" x2="28" y2="269" stroke="#555" stroke-width="0.4"/>
<text x="26.2" y="290.77" font-size="4.1" text-anchor="end" fill="#444">0.25</text>
<line x1="26.5" y1="289.3" x2="28" y2="289.3" stroke="#555" stroke-width="0.4"/>
<text x="26.2" y="311.07" font-size="4.1" text-anchor="end" fill="#444">0.00</text>
<line x1="26.5" y1="309.6" x2="28" y2="309.6" stroke="#555" stroke-width="0.4"/>
<text x="26.2" y="321.47" font-size="4.1" text-anchor="end" fill="#444">1.00</text>
<line x1="26.5" y1="320" x2="28" y2="320" stroke="#555" stroke-width="0.4"/>
<text x="26.2" y="341.87" font-size="4.1" text-anchor="end" fill="#444">0.75</text>
<line x1="26.5" y1="340.4" x2="28" y2="340.4" stroke="#555" stroke-width="0.4"/>
<text x="26.2" y="362.27" font-size="4.1" text-anchor="end" fill="#444">0.50</text>
<line x1="26.5" y1="360.8" x2="28" y2="360.8" stroke="#555" stroke-width="0.4"/>
<text x="26.2" y="382.67" font-size="4.1" text-anchor="end" fill="#444">0.25</text>
<line x1="26.5" y1="381.2" x2="28" y2="381.2" stroke="#555" stroke-width="0.4"/>
<text x="26.2" y="403.07" font-size="4.1" text-anchor="end" fill="#444">0.00</text>
<line x1="26.5" y1="401.6" x2="28" y2="401.6" stroke="#555" stroke-width="0.4"/>
<text x="32.4" y="411.78" font-size="4.4" text-anchor="middle" fill="#444">0</text>
<line x1="32.4" y1="406.4" x2="32.4" y2="407.6" stroke="#555" stroke-width="0.4"/>
<text x="48.8" y="411.78" font-size="4.4" text-anchor="middle" fill="#444">2</text>
<line x1="48.8" y1="406.4" x2="48.8" y2="407.6" stroke="#555" stroke-width="0.4"/>
<text x="65.2" y="411.78" font-size="4.4" text-anchor="middle" fill="#444">4</text>
<line x1="65.2" y1="406.4" x2="65.2" y2="407.6" stroke="#555" stroke-width="0.4"/>
<text x="81.6" y="411.78" font-size="4.4" text-anchor="middle" fill="#444">6</text>
<line x1="81.6" y1="406.4" x2="81.6" y2="407.6" stroke="#555" stroke-width="0.4"/>
<text x="98" y="411.78" font-size="4.4" text-anchor="middle" fill="#444">8</text>
<line x1="98" y1="406.4" x2="98" y2="407.6" stroke="#555" stroke-width="0.4"/>
<text x="114.4" y="411.78" font-size="4.4" text-anchor="middle" fill="#444">10</text>
<line x1="114.4" y1="406.4" x2="114.4" y2="407.6" stroke="#555" stroke-width="0.4"/>
<text x="129" y="411.78" font-size="4.4" text-anchor="middle" fill="#444">0</text>
<line x1="129" y1="406.4" x2="129" y2="407.6" stroke="#555" stroke-width="0.4"/>
<text x="145.4" y="411.78" font-size="4.4" text-anchor="middle" fill="#444">2</text>
<line x1="145.4" y1="406.4" x2="145.4" y2="407.6" stroke="#555" stroke-width="0.4"/>
<text x="161.8" y="411.78" font-size="4.4" text-anchor="middle" fill="#444">4</text>
<line x1="161.8" y1="406.4" x2="161.8" y2="407.6" stroke="#555" stroke-width="0.4"/>
<text x="178.2" y="411.78" font-size="4.4" text-anchor="middle" fill="#444">6</text>
<line x1="178.2" y1="406.4" x2="178.2" y2="407.6" stroke="#555" stroke-width="0.4"/>
<text x="194.6" y="411.78" font-size="4.4" text-anchor="middle" fill="#444">8</text>
<line x1="194.6" y1="406.4" x2="194.6" y2="407.6" stroke="#555" stroke-width="0.4"/>
<text x="211" y="411.78" font-size="4.4" text-anchor="middle" fill="#444">10</text>
<line x1="211" y1="406.4" x2="211" y2="407.6" stroke="#555" stroke-width="0.4"/>
<text x="10.1" y="273.07" font-size="6.9" text-anchor="middle" fill="#222" transform="rotate(-90 10.1 270.6)">Survival probability</text>
<text x="10.1" y="365.27" font-size="6.9" text-anchor="middle" fill="#222" transform="rotate(-90 10.1 362.8)">Survival probability</text>
<text x="120.5" y="422.71" font-size="7" text-anchor="middle" fill="#222">Time (years)</text>
<text x="481.6" y="224" font-size="9.5" font-weight="bold">E</text>
<rect x="510.6" y="224.2" width="108.2" height="103.2" fill="#fff"/>
<polyline points="515,228.98 520.94,228.98 520.94,230.02 523.02,230.02 523.02,233.98 528.07,233.98 528.07,237 531.93,237 531.93,240.97 535.05,240.97 535.05,247.01 539.06,247.01 539.06,252.96 542.03,252.96 542.03,257.96 550.05,257.96 550.05,259 555.99,259 555.99,262.02 564,262.02 564,262.96 569.95,262.96 569.95,265.98 572.91,265.98 572.91,270.99 575.88,270.99 575.88,277.03 578.86,277.03 578.86,282.97 584.05,282.97 584.05,286 587.76,286 587.76,291 592.96,291 592.96,297.04 595.19,297.04 595.19,302.99 598.16,302.99 598.16,309.03 618.95,309.03 618.95,309.03" fill="none" stroke="#3a6fb5" stroke-width="0.75" stroke-linejoin="miter"/>
<line x1="574.4" y1="270.09" x2="574.4" y2="271.89" stroke="#3a6fb5" stroke-width="0.5"/>
<line x1="516.49" y1="228.08" x2="516.49" y2="229.88" stroke="#3a6fb5" stroke-width="0.5"/>
<line x1="540.54" y1="252.06" x2="540.54" y2="253.86" stroke="#3a6fb5" stroke-width="0.5"/>
<line x1="557.47" y1="261.12" x2="557.47" y2="262.92" stroke="#3a6fb5" stroke-width="0.5"/>
<line x1="585.54" y1="285.1" x2="585.54" y2="286.9" stroke="#3a6fb5" stroke-width="0.5"/>
<line x1="522.42" y1="229.12" x2="522.42" y2="230.92" stroke="#3a6fb5" stroke-width="0.5"/>
<line x1="551.53" y1="258.1" x2="551.53" y2="259.9" stroke="#3a6fb5" stroke-width="0.5"/>
<line x1="522.42" y1="229.12" x2="522.42" y2="230.92" stroke="#3a6fb5" stroke-width="0.5"/>
<polyline points="515,228.6 523.91,228.6 523.91,230.58 529.85,230.58 529.85,233.04 534.01,233.04 534.01,237 538.02,237 538.02,240.02 542.03,240.02 542.03,243.99 555.99,243.99 555.99,248.99 558.96,248.99 558.96,255.03 573.95,255.03 573.95,259 576.92,259 576.92,267.96 599.94,267.96 599.94,267.96" fill="none" stroke="#e8363a" stroke-width="0.75" stroke-linejoin="miter"/>
<line x1="535.49" y1="236.1" x2="535.49" y2="237.9" stroke="#e8363a" stroke-width="0.5"/>
<line x1="516.49" y1="227.7" x2="516.49" y2="229.5" stroke="#e8363a" stroke-width="0.5"/>
<line x1="575.44" y1="258.1" x2="575.44" y2="259.9" stroke="#e8363a" stroke-width="0.5"/>
<line x1="516.49" y1="227.7" x2="516.49" y2="229.5" stroke="#e8363a" stroke-width="0.5"/>
<line x1="531.34" y1="232.14" x2="531.34" y2="233.94" stroke="#e8363a" stroke-width="0.5"/>
<line x1="535.49" y1="236.1" x2="535.49" y2="237.9" stroke="#e8363a" stroke-width="0.5"/>
<line x1="516.49" y1="227.7" x2="516.49" y2="229.5" stroke="#e8363a" stroke-width="0.5"/>
<line x1="516.49" y1="227.7" x2="516.49" y2="229.5" stroke="#e8363a" stroke-width="0.5"/>
<rect x="510.6" y="224.2" width="108.2" height="103.2" fill="none" stroke="#555" stroke-width="0.7"/>
<line x1="586" y1="233.3" x2="592.4" y2="233.3" stroke="#3a6fb5" stroke-width="0.6"/>
<line x1="586" y1="242.5" x2="592.4" y2="242.5" stroke="#e8363a" stroke-width="0.6"/>
<text x="596.8" y="235.77" font-size="6.9" fill="#222">High</text>
<text x="596.8" y="244.97" font-size="6.9" fill="#222">Low</text>
<text x="565" y="220.21" font-size="6.74" text-anchor="middle" fill="#222">Stenotrophomonas maltophilia</text>
<text x="508.6" y="230.07" font-size="4.1" text-anchor="end" fill="#444">1.00</text>
<line x1="508.9" y1="228.6" x2="510.6" y2="228.6" stroke="#555" stroke-width="0.4"/>
<text x="508.6" y="253.67" font-size="4.1" text-anchor="end" fill="#444">0.75</text>
<line x1="508.9" y1="252.2" x2="510.6" y2="252.2" stroke="#555" stroke-width="0.4"/>
<text x="508.6" y="277.27" font-size="4.1" text-anchor="end" fill="#444">0.50</text>
<line x1="508.9" y1="275.8" x2="510.6" y2="275.8" stroke="#555" stroke-width="0.4"/>
<text x="508.6" y="300.87" font-size="4.1" text-anchor="end" fill="#444">0.25</text>
<line x1="508.9" y1="299.4" x2="510.6" y2="299.4" stroke="#555" stroke-width="0.4"/>
<text x="508.6" y="324.47" font-size="4.1" text-anchor="end" fill="#444">0.00</text>
<line x1="508.9" y1="323" x2="510.6" y2="323" stroke="#555" stroke-width="0.4"/>
<text x="515" y="332.3" font-size="4.2" text-anchor="middle" fill="#444">0</text>
<line x1="515" y1="327.4" x2="515" y2="328.6" stroke="#555" stroke-width="0.4"/>
<text x="544.7" y="332.3" font-size="4.2" text-anchor="middle" fill="#444">2</text>
<line x1="544.7" y1="327.4" x2="544.7" y2="328.6" stroke="#555" stroke-width="0.4"/>
<text x="574.4" y="332.3" font-size="4.2" text-anchor="middle" fill="#444">4</text>
<line x1="574.4" y1="327.4" x2="574.4" y2="328.6" stroke="#555" stroke-width="0.4"/>
<text x="604.1" y="332.3" font-size="4.2" text-anchor="middle" fill="#444">6</text>
<line x1="604.1" y1="327.4" x2="604.1" y2="328.6" stroke="#555" stroke-width="0.4"/>
<text x="572.4" y="339.91" font-size="7" text-anchor="middle" fill="#222">Time (years)</text>
<text x="492.6" y="280.36" font-size="6.6" text-anchor="middle" fill="#222" transform="rotate(-90 492.6 278)">Survival probability</text>
<text x="515.6" y="310.06" font-size="6.87" fill="#222">Log-rank <tspan font-style="italic">P</tspan> = 0.038</text>
<text x="481.6" y="350.4" font-size="9.5" font-weight="bold">F</text>
<text x="575.4" y="360" font-size="5.6" text-anchor="middle" fill="#222">SP-GFP</text>
<path d="M572.8 367.4q0.6-1.6 2.2-1.2q1.8-0.6 2.4 1q0.9 1.4 0 2.8q-1.6 1.2-3.6 0.6q-1.6-0.6-1-3.2z" fill="#111"/>
<line x1="574.4" y1="371.5" x2="574.4" y2="389.5" stroke="#222" stroke-width="0.5"/>
<path d="M572.9 388l1.5 2.2 1.5-2.2" fill="none" stroke="#222" stroke-width="0.5"/>
<text x="578" y="382.93" font-size="5.4" fill="#222">MOI= 0.01</text>
<text x="466" y="404.53" font-size="5.4" fill="#222">Tumor cell</text>
<circle cx="498" cy="397" r="1.9" fill="#b0102a" stroke="#5a0010" stroke-width="0.35"/><circle cx="501.5" cy="396" r="1.9" fill="#b0102a" stroke="#5a0010" stroke-width="0.35"/><circle cx="505" cy="396.5" r="1.9" fill="#b0102a" stroke="#5a0010" stroke-width="0.35"/><circle cx="508.5" cy="397" r="1.9" fill="#b0102a" stroke="#5a0010" stroke-width="0.35"/><circle cx="512" cy="396" r="1.9" fill="#b0102a" stroke="#5a0010" stroke-width="0.35"/><circle cx="515.5" cy="395.5" r="1.9" fill="#b0102a" stroke="#5a0010" stroke-width="0.35"/><circle cx="518.5" cy="397" r="1.9" fill="#b0102a" stroke="#5a0010" stroke-width="0.35"/><circle cx="497" cy="400.5" r="1.9" fill="#b0102a" stroke="#5a0010" stroke-width="0.35"/><circle cx="500.5" cy="400" r="1.9" fill="#b0102a" stroke="#5a0010" stroke-width="0.35"/><circle cx="504" cy="400.5" r="1.9" fill="#b0102a" stroke="#5a0010" stroke-width="0.35"/><circle cx="507.5" cy="400" r="1.9" fill="#b0102a" stroke="#5a0010" stroke-width="0.35"/><circle cx="511" cy="400.5" r="1.9" fill="#b0102a" stroke="#5a0010" stroke-width="0.35"/><circle cx="514.5" cy="400" r="1.9" fill="#b0102a" stroke="#5a0010" stroke-width="0.35"/><circle cx="518" cy="400.5" r="1.9" fill="#b0102a" stroke="#5a0010" stroke-width="0.35"/><circle cx="521" cy="399.5" r="1.9" fill="#b0102a" stroke="#5a0010" stroke-width="0.35"/><circle cx="499.5" cy="403.8" r="1.9" fill="#b0102a" stroke="#5a0010" stroke-width="0.35"/><circle cx="503" cy="403.5" r="1.9" fill="#b0102a" stroke="#5a0010" stroke-width="0.35"/><circle cx="506.5" cy="404" r="1.9" fill="#b0102a" stroke="#5a0010" stroke-width="0.35"/><circle cx="510" cy="403.6" r="1.9" fill="#b0102a" stroke="#5a0010" stroke-width="0.35"/><circle cx="513.5" cy="404" r="1.9" fill="#b0102a" stroke="#5a0010" stroke-width="0.35"/><circle cx="517" cy="403.6" r="1.9" fill="#b0102a" stroke="#5a0010" stroke-width="0.35"/><circle cx="502" cy="407" r="1.9" fill="#b0102a" stroke="#5a0010" stroke-width="0.35"/><circle cx="505.5" cy="407.2" r="1.9" fill="#b0102a" stroke="#5a0010" stroke-width="0.35"/><circle cx="509" cy="407" r="1.9" fill="#b0102a" stroke="#5a0010" stroke-width="0.35"/><circle cx="512.5" cy="407.3" r="1.9" fill="#b0102a" stroke="#5a0010" stroke-width="0.35"/><circle cx="507.5" cy="410" r="1.9" fill="#b0102a" stroke="#5a0010" stroke-width="0.35"/>
<line x1="527" y1="400.6" x2="543.5" y2="400.6" stroke="#222" stroke-width="0.5"/>
<path d="M541.8 399.1l2 1.5-2 1.5" fill="none" stroke="#222" stroke-width="0.5"/>
<rect x="549" y="393" width="58.2" height="4.6" rx="2.3" fill="#fff" stroke="#333" stroke-width="0.6"/>
<path d="M549.3 396v10.6h57.6v-10.6" fill="none" stroke="#333" stroke-width="0.6"/>
<ellipse cx="551.4" cy="404.9" rx="1.3" ry="1.0" fill="#b0102a" stroke="#500010" stroke-width="0.25"/><ellipse cx="554.1" cy="404.9" rx="1.3" ry="1.0" fill="#b0102a" stroke="#500010" stroke-width="0.25"/><ellipse cx="556.8" cy="404.9" rx="1.3" ry="1.0" fill="#b0102a" stroke="#500010" stroke-width="0.25"/><ellipse cx="559.5" cy="404.9" rx="1.3" ry="1.0" fill="#b0102a" stroke="#500010" stroke-width="0.25"/><ellipse cx="562.2" cy="404.9" rx="1.3" ry="1.0" fill="#b0102a" stroke="#500010" stroke-width="0.25"/><ellipse cx="564.9" cy="404.9" rx="1.3" ry="1.0" fill="#b0102a" stroke="#500010" stroke-width="0.25"/><ellipse cx="567.6" cy="404.9" rx="1.3" ry="1.0" fill="#b0102a" stroke="#500010" stroke-width="0.25"/><ellipse cx="570.3" cy="404.9" rx="1.3" ry="1.0" fill="#b0102a" stroke="#500010" stroke-width="0.25"/><ellipse cx="573" cy="404.9" rx="1.3" ry="1.0" fill="#b0102a" stroke="#500010" stroke-width="0.25"/><ellipse cx="575.7" cy="404.9" rx="1.3" ry="1.0" fill="#b0102a" stroke="#500010" stroke-width="0.25"/><ellipse cx="578.4" cy="404.9" rx="1.3" ry="1.0" fill="#b0102a" stroke="#500010" stroke-width="0.25"/><ellipse cx="581.1" cy="404.9" rx="1.3" ry="1.0" fill="#b0102a" stroke="#500010" stroke-width="0.25"/><ellipse cx="583.8" cy="404.9" rx="1.3" ry="1.0" fill="#b0102a" stroke="#500010" stroke-width="0.25"/><ellipse cx="586.5" cy="404.9" rx="1.3" ry="1.0" fill="#b0102a" stroke="#500010" stroke-width="0.25"/><ellipse cx="589.2" cy="404.9" rx="1.3" ry="1.0" fill="#b0102a" stroke="#500010" stroke-width="0.25"/><ellipse cx="591.9" cy="404.9" rx="1.3" ry="1.0" fill="#b0102a" stroke="#500010" stroke-width="0.25"/><ellipse cx="594.6" cy="404.9" rx="1.3" ry="1.0" fill="#b0102a" stroke="#500010" stroke-width="0.25"/><ellipse cx="597.3" cy="404.9" rx="1.3" ry="1.0" fill="#b0102a" stroke="#500010" stroke-width="0.25"/><ellipse cx="600" cy="404.9" rx="1.3" ry="1.0" fill="#b0102a" stroke="#500010" stroke-width="0.25"/><ellipse cx="602.7" cy="404.9" rx="1.3" ry="1.0" fill="#b0102a" stroke="#500010" stroke-width="0.25"/><ellipse cx="605.4" cy="404.9" rx="1.3" ry="1.0" fill="#b0102a" stroke="#500010" stroke-width="0.25"/>
<line x1="610.3" y1="400.3" x2="638" y2="400.3" stroke="#222" stroke-width="0.5"/>
<path d="M636.3 398.8l2 1.5-2 1.5" fill="none" stroke="#222" stroke-width="0.5"/>
<text x="623.8" y="390.33" font-size="5.4" text-anchor="middle" fill="#222">Coculture</text>
<text x="623.8" y="396.53" font-size="5.4" text-anchor="middle" fill="#222">4h</text>
<circle cx="645" cy="397.5" r="1.9" fill="#b0102a" stroke="#5a0010" stroke-width="0.35"/><circle cx="648.8" cy="396.8" r="1.9" fill="#b0102a" stroke="#5a0010" stroke-width="0.35"/><circle cx="652.5" cy="397.6" r="1.9" fill="#b0102a" stroke="#5a0010" stroke-width="0.35"/><circle cx="644" cy="401.2" r="1.9" fill="#b0102a" stroke="#5a0010" stroke-width="0.35"/><circle cx="647.8" cy="400.8" r="1.9" fill="#b0102a" stroke="#5a0010" stroke-width="0.35"/><circle cx="651.6" cy="401" r="1.9" fill="#b0102a" stroke="#5a0010" stroke-width="0.35"/><circle cx="655" cy="400.6" r="1.9" fill="#b0102a" stroke="#5a0010" stroke-width="0.35"/><circle cx="645.6" cy="405" r="1.9" fill="#b0102a" stroke="#5a0010" stroke-width="0.35"/><circle cx="649.4" cy="404.6" r="1.9" fill="#b0102a" stroke="#5a0010" stroke-width="0.35"/><circle cx="653.2" cy="405" r="1.9" fill="#b0102a" stroke="#5a0010" stroke-width="0.35"/>
<text x="225.6" y="223" font-size="9.5" font-weight="bold">D</text>
<text x="352.6" y="220.89" font-size="6.4" text-anchor="middle" fill="#222">AEG</text>
<line x1="295" y1="224.4" x2="407" y2="224.4" stroke="#111" stroke-width="0.8"/>
<text x="233" y="271.05" font-size="6.85" fill="#222">Low-SP</text>
<text x="233" y="374.8" font-size="6.71" fill="#222">High-SP</text>
<rect x="259.2" y="227.2" width="93.4" height="90.4" fill="#000" filter="url(#fbl)"/>
<rect x="354" y="227.2" width="91" height="90.4" fill="#000" filter="url(#fbr)"/>
<rect x="259.2" y="319" width="93.4" height="90.6" fill="#000" filter="url(#fhl)"/>
<rect x="354" y="319" width="91" height="90.6" fill="#000" filter="url(#fhr)"/>
<g clip-path="url(#cD2)" filter="url(#fblur2)"><ellipse cx="372" cy="252" rx="16" ry="5" fill="#000" opacity="0.85" transform="rotate(40 372 252)"/><ellipse cx="390" cy="285" rx="26" ry="6" fill="#000" opacity="0.9" transform="rotate(45 390 285)"/><ellipse cx="420" cy="290" rx="24" ry="5" fill="#000" opacity="0.85" transform="rotate(50 420 290)"/><ellipse cx="437" cy="262" rx="14" ry="4" fill="#000" opacity="0.7" transform="rotate(45 437 262)"/><ellipse cx="365" cy="300" rx="10" ry="5" fill="#000" opacity="0.8" transform="rotate(40 365 300)"/><ellipse cx="400" cy="240" rx="10" ry="3" fill="#000" opacity="0.6" transform="rotate(40 400 240)"/><ellipse cx="433" cy="312" rx="12" ry="4" fill="#000" opacity="0.7" transform="rotate(45 433 312)"/></g>
<g clip-path="url(#cD4)" filter="url(#fblur2)"><ellipse cx="436" cy="372" rx="6" ry="8" fill="#000" opacity="0.85" transform="rotate(20 436 372)"/><ellipse cx="421" cy="349" rx="4" ry="3" fill="#000" opacity="0.7" transform="rotate(0 421 349)"/><ellipse cx="372" cy="333" rx="4" ry="3" fill="#000" opacity="0.6" transform="rotate(0 372 333)"/><ellipse cx="440" cy="395" rx="4" ry="5" fill="#000" opacity="0.6" transform="rotate(0 440 395)"/></g>
<g clip-path="url(#cD3)"><ellipse cx="303" cy="395" rx="5" ry="5" fill="#050010" stroke="#2020d0" stroke-width="0.8"/><ellipse cx="312" cy="392" rx="5" ry="6" fill="#050010" stroke="#2020d0" stroke-width="0.8"/><ellipse cx="320" cy="398" rx="5" ry="4" fill="#050010" stroke="#2020d0" stroke-width="0.8"/><ellipse cx="299" cy="402" rx="3.5" ry="3" fill="#050010" stroke="#2020d0" stroke-width="0.8"/><ellipse cx="327" cy="390" rx="2.5" ry="2.5" fill="#050010" stroke="#2020d0" stroke-width="0.8"/></g>
<circle cx="317.1" cy="385.9" r="0.45" fill="#ff3080" opacity="0.85"/><circle cx="333.1" cy="403.8" r="0.45" fill="#ff3080" opacity="0.85"/><circle cx="327.9" cy="402" r="0.45" fill="#ff3080" opacity="0.85"/><circle cx="262.2" cy="361.2" r="0.45" fill="#ff3080" opacity="0.85"/><circle cx="346.8" cy="377.6" r="0.45" fill="#ff3080" opacity="0.85"/><circle cx="342.8" cy="329.6" r="0.45" fill="#ff3080" opacity="0.85"/><circle cx="302.9" cy="341.6" r="0.45" fill="#ff3080" opacity="0.85"/><circle cx="309.8" cy="370.9" r="0.45" fill="#ff3080" opacity="0.85"/><circle cx="260.7" cy="338.9" r="0.45" fill="#ff3080" opacity="0.85"/><circle cx="285.4" cy="401.5" r="0.45" fill="#ff3080" opacity="0.85"/><circle cx="330.3" cy="333.8" r="0.45" fill="#ff3080" opacity="0.85"/><circle cx="333.2" cy="331.9" r="0.45" fill="#ff3080" opacity="0.85"/><circle cx="316.6" cy="330.8" r="0.45" fill="#ff3080" opacity="0.85"/><circle cx="259.7" cy="397.5" r="0.45" fill="#ff3080" opacity="0.85"/><circle cx="278.9" cy="338.8" r="0.45" fill="#ff3080" opacity="0.85"/><circle cx="350.4" cy="397.6" r="0.45" fill="#ff3080" opacity="0.85"/><circle cx="286.3" cy="405.6" r="0.45" fill="#ff3080" opacity="0.85"/><circle cx="309.4" cy="380.2" r="0.45" fill="#ff3080" opacity="0.85"/><circle cx="278.4" cy="403.7" r="0.45" fill="#ff3080" opacity="0.85"/><circle cx="323.4" cy="406" r="0.45" fill="#ff3080" opacity="0.85"/><circle cx="342.2" cy="346.2" r="0.45" fill="#ff3080" opacity="0.85"/><circle cx="292.9" cy="334.4" r="0.45" fill="#ff3080" opacity="0.85"/><circle cx="273" cy="325.3" r="0.45" fill="#ff3080" opacity="0.85"/><circle cx="287.4" cy="373.5" r="0.45" fill="#ff3080" opacity="0.85"/><circle cx="259.8" cy="380.2" r="0.45" fill="#ff3080" opacity="0.85"/><circle cx="290.8" cy="347.2" r="0.45" fill="#ff3080" opacity="0.85"/><circle cx="335.2" cy="362.5" r="0.45" fill="#ff3080" opacity="0.85"/><circle cx="288.7" cy="362.6" r="0.45" fill="#ff3080" opacity="0.85"/><circle cx="324.7" cy="324.6" r="0.45" fill="#ff3080" opacity="0.85"/><circle cx="349.7" cy="321.5" r="0.45" fill="#ff3080" opacity="0.85"/><circle cx="328.9" cy="395.1" r="0.45" fill="#ff3080" opacity="0.85"/><circle cx="261.2" cy="390" r="0.45" fill="#ff3080" opacity="0.85"/><circle cx="293.4" cy="371.3" r="0.45" fill="#ff3080" opacity="0.85"/><circle cx="260.3" cy="323.7" r="0.45" fill="#ff3080" opacity="0.85"/><circle cx="276.2" cy="405" r="0.45" fill="#ff3080" opacity="0.85"/><circle cx="277.7" cy="387.1" r="0.45" fill="#ff3080" opacity="0.85"/><circle cx="345.5" cy="403.8" r="0.45" fill="#ff3080" opacity="0.85"/><circle cx="291.4" cy="351.3" r="0.45" fill="#ff3080" opacity="0.85"/><circle cx="308" cy="388.9" r="0.45" fill="#ff3080" opacity="0.85"/><circle cx="269.5" cy="386.5" r="0.45" fill="#ff3080" opacity="0.85"/><circle cx="333.2" cy="396.4" r="0.45" fill="#ff3080" opacity="0.85"/><circle cx="262.9" cy="404.1" r="0.45" fill="#ff3080" opacity="0.85"/><circle cx="267.9" cy="350" r="0.45" fill="#ff3080" opacity="0.85"/><circle cx="316" cy="401.7" r="0.45" fill="#ff3080" opacity="0.85"/><circle cx="290.9" cy="402.2" r="0.45" fill="#ff3080" opacity="0.85"/><circle cx="309.9" cy="347.5" r="0.45" fill="#ff3080" opacity="0.85"/><circle cx="288.8" cy="335.4" r="0.45" fill="#ff3080" opacity="0.85"/><circle cx="266.7" cy="332.8" r="0.45" fill="#ff3080" opacity="0.85"/><circle cx="323.2" cy="408.7" r="0.45" fill="#ff3080" opacity="0.85"/><circle cx="274.4" cy="323.8" r="0.45" fill="#ff3080" opacity="0.85"/><circle cx="350.8" cy="367.3" r="0.45" fill="#ff3080" opacity="0.85"/><circle cx="297" cy="340.7" r="0.45" fill="#ff3080" opacity="0.85"/><circle cx="314.4" cy="393.5" r="0.45" fill="#ff3080" opacity="0.85"/><circle cx="301.6" cy="357.2" r="0.45" fill="#ff3080" opacity="0.85"/><circle cx="264.7" cy="401.5" r="0.45" fill="#ff3080" opacity="0.85"/><circle cx="262.5" cy="363.7" r="0.45" fill="#ff3080" opacity="0.85"/><circle cx="337.1" cy="331.2" r="0.45" fill="#ff3080" opacity="0.85"/><circle cx="327.2" cy="404.5" r="0.45" fill="#ff3080" opacity="0.85"/><circle cx="317.8" cy="390" r="0.45" fill="#ff3080" opacity="0.85"/><circle cx="269.4" cy="358.4" r="0.45" fill="#ff3080" opacity="0.85"/><circle cx="273.3" cy="395.1" r="0.45" fill="#ff3080" opacity="0.85"/><circle cx="286.8" cy="360.1" r="0.45" fill="#ff3080" opacity="0.85"/><circle cx="351.9" cy="395.8" r="0.45" fill="#ff3080" opacity="0.85"/><circle cx="349.8" cy="360.1" r="0.45" fill="#ff3080" opacity="0.85"/><circle cx="304.7" cy="384.8" r="0.45" fill="#ff3080" opacity="0.85"/><circle cx="303.8" cy="345.5" r="0.45" fill="#ff3080" opacity="0.85"/><circle cx="296.9" cy="332.6" r="0.45" fill="#ff3080" opacity="0.85"/><circle cx="294.4" cy="408" r="0.45" fill="#ff3080" opacity="0.85"/><circle cx="348.3" cy="375.6" r="0.45" fill="#ff3080" opacity="0.85"/><circle cx="305.7" cy="349.8" r="0.45" fill="#ff3080" opacity="0.85"/><circle cx="267.7" cy="343.9" r="0.45" fill="#ff3080" opacity="0.85"/><circle cx="331.8" cy="397.1" r="0.45" fill="#ff3080" opacity="0.85"/><circle cx="292.9" cy="389.8" r="0.45" fill="#ff3080" opacity="0.85"/><circle cx="331.2" cy="381.7" r="0.45" fill="#ff3080" opacity="0.85"/><circle cx="320.9" cy="387.5" r="0.45" fill="#ff3080" opacity="0.85"/><circle cx="293.1" cy="382.6" r="0.45" fill="#ff3080" opacity="0.85"/><circle cx="285.5" cy="363" r="0.45" fill="#ff3080" opacity="0.85"/><circle cx="330.7" cy="381.3" r="0.45" fill="#ff3080" opacity="0.85"/><circle cx="286.7" cy="404.1" r="0.45" fill="#ff3080" opacity="0.85"/><circle cx="319.6" cy="371.5" r="0.45" fill="#ff3080" opacity="0.85"/><circle cx="260.6" cy="368.5" r="0.45" fill="#ff3080" opacity="0.85"/><circle cx="282.7" cy="379.6" r="0.45" fill="#ff3080" opacity="0.85"/><circle cx="302.3" cy="392.6" r="0.45" fill="#ff3080" opacity="0.85"/><circle cx="319.4" cy="390.9" r="0.45" fill="#ff3080" opacity="0.85"/><circle cx="291.7" cy="377.1" r="0.45" fill="#ff3080" opacity="0.85"/><circle cx="327.7" cy="393.6" r="0.45" fill="#ff3080" opacity="0.85"/><circle cx="291.9" cy="394.9" r="0.45" fill="#ff3080" opacity="0.85"/><circle cx="340" cy="381.1" r="0.45" fill="#ff3080" opacity="0.85"/><circle cx="349.8" cy="405.1" r="0.45" fill="#ff3080" opacity="0.85"/><circle cx="307.4" cy="366.9" r="0.45" fill="#ff3080" opacity="0.85"/><circle cx="274.9" cy="394.4" r="0.45" fill="#ff3080" opacity="0.85"/><circle cx="346.2" cy="362.2" r="0.45" fill="#ff3080" opacity="0.85"/><circle cx="323.5" cy="383.9" r="0.45" fill="#ff3080" opacity="0.85"/><circle cx="327.1" cy="334.9" r="0.45" fill="#ff3080" opacity="0.85"/><circle cx="331.7" cy="371.5" r="0.45" fill="#ff3080" opacity="0.85"/><circle cx="321.1" cy="357.2" r="0.45" fill="#ff3080" opacity="0.85"/><circle cx="317.2" cy="388.8" r="0.45" fill="#ff3080" opacity="0.85"/><circle cx="318.4" cy="384" r="0.45" fill="#ff3080" opacity="0.85"/><circle cx="262.1" cy="333.8" r="0.45" fill="#ff3080" opacity="0.85"/><circle cx="300.3" cy="377.7" r="0.45" fill="#ff3080" opacity="0.85"/><circle cx="279.8" cy="380.9" r="0.45" fill="#ff3080" opacity="0.85"/><circle cx="317.9" cy="323.2" r="0.45" fill="#ff3080" opacity="0.85"/><circle cx="303.1" cy="339.7" r="0.45" fill="#ff3080" opacity="0.85"/><circle cx="264.5" cy="331.5" r="0.45" fill="#ff3080" opacity="0.85"/><circle cx="288.9" cy="335.7" r="0.45" fill="#ff3080" opacity="0.85"/><circle cx="277.4" cy="322.7" r="0.45" fill="#ff3080" opacity="0.85"/><circle cx="302.5" cy="353.5" r="0.45" fill="#ff3080" opacity="0.85"/><circle cx="316.1" cy="372.3" r="0.45" fill="#ff3080" opacity="0.85"/><circle cx="281.5" cy="400.3" r="0.45" fill="#ff3080" opacity="0.85"/><circle cx="259.6" cy="355.8" r="0.45" fill="#ff3080" opacity="0.85"/><circle cx="285.3" cy="356.2" r="0.45" fill="#ff3080" opacity="0.85"/><circle cx="270.1" cy="393.9" r="0.45" fill="#ff3080" opacity="0.85"/><circle cx="294.1" cy="322.7" r="0.45" fill="#ff3080" opacity="0.85"/><circle cx="316.3" cy="328" r="0.45" fill="#ff3080" opacity="0.85"/><circle cx="309.9" cy="349.9" r="0.45" fill="#ff3080" opacity="0.85"/><circle cx="313.2" cy="405.3" r="0.45" fill="#ff3080" opacity="0.85"/><circle cx="335.2" cy="357" r="0.45" fill="#ff3080" opacity="0.85"/><circle cx="334.7" cy="377" r="0.45" fill="#ff3080" opacity="0.85"/><circle cx="293.7" cy="332.2" r="0.45" fill="#ff3080" opacity="0.85"/><circle cx="314.6" cy="370" r="0.45" fill="#ff3080" opacity="0.85"/><circle cx="348" cy="406.1" r="0.45" fill="#ff3080" opacity="0.85"/><circle cx="315.8" cy="350.9" r="0.45" fill="#ff3080" opacity="0.85"/><circle cx="342.1" cy="319.6" r="0.45" fill="#ff3080" opacity="0.85"/><circle cx="269.5" cy="370.1" r="0.45" fill="#ff3080" opacity="0.85"/><circle cx="316.4" cy="332.1" r="0.45" fill="#ff3080" opacity="0.85"/><circle cx="317.7" cy="399.3" r="0.45" fill="#ff3080" opacity="0.85"/><circle cx="294.3" cy="358.1" r="0.45" fill="#ff3080" opacity="0.85"/><circle cx="280.4" cy="345.6" r="0.45" fill="#ff3080" opacity="0.85"/><circle cx="349.5" cy="353.5" r="0.45" fill="#ff3080" opacity="0.85"/><circle cx="348.4" cy="401.3" r="0.45" fill="#ff3080" opacity="0.85"/><circle cx="314.6" cy="342.8" r="0.45" fill="#ff3080" opacity="0.85"/><circle cx="350.2" cy="363.9" r="0.45" fill="#ff3080" opacity="0.85"/><circle cx="297.9" cy="348.1" r="0.45" fill="#ff3080" opacity="0.85"/><circle cx="350.5" cy="363.5" r="0.45" fill="#ff3080" opacity="0.85"/><circle cx="286" cy="362.2" r="0.45" fill="#ff3080" opacity="0.85"/><circle cx="270.8" cy="375.1" r="0.45" fill="#ff3080" opacity="0.85"/><circle cx="300.5" cy="345.7" r="0.45" fill="#ff3080" opacity="0.85"/><circle cx="331.8" cy="393.5" r="0.45" fill="#ff3080" opacity="0.85"/><circle cx="260.7" cy="367.2" r="0.45" fill="#ff3080" opacity="0.85"/><circle cx="284.8" cy="403.2" r="0.45" fill="#ff3080" opacity="0.85"/><circle cx="331.8" cy="341.5" r="0.45" fill="#ff3080" opacity="0.85"/><circle cx="284.3" cy="333.4" r="0.45" fill="#ff3080" opacity="0.85"/><circle cx="351" cy="345.7" r="0.45" fill="#ff3080" opacity="0.85"/><circle cx="315.7" cy="362" r="0.45" fill="#ff3080" opacity="0.85"/><circle cx="319.2" cy="373.5" r="0.45" fill="#ff3080" opacity="0.85"/><circle cx="328.3" cy="330.1" r="0.45" fill="#ff3080" opacity="0.85"/><circle cx="329.8" cy="346.4" r="0.45" fill="#ff3080" opacity="0.85"/><circle cx="308.8" cy="349.6" r="0.45" fill="#ff3080" opacity="0.85"/><circle cx="287" cy="366.9" r="0.45" fill="#ff3080" opacity="0.85"/><circle cx="302.5" cy="351.8" r="0.45" fill="#ff3080" opacity="0.85"/><circle cx="328.4" cy="372.4" r="0.45" fill="#ff3080" opacity="0.85"/><circle cx="262.9" cy="342.1" r="0.45" fill="#ff3080" opacity="0.85"/><circle cx="301.6" cy="401.5" r="0.45" fill="#ff3080" opacity="0.85"/><circle cx="341.6" cy="368.3" r="0.45" fill="#ff3080" opacity="0.85"/><circle cx="260.8" cy="389.2" r="0.45" fill="#ff3080" opacity="0.85"/><circle cx="299.1" cy="371" r="0.45" fill="#ff3080" opacity="0.85"/><circle cx="325" cy="376.1" r="0.45" fill="#ff3080" opacity="0.85"/><circle cx="304.1" cy="401.1" r="0.45" fill="#ff3080" opacity="0.85"/><circle cx="295.2" cy="354.6" r="0.45" fill="#ff3080" opacity="0.85"/><circle cx="338.3" cy="337.1" r="0.45" fill="#ff3080" opacity="0.85"/><circle cx="286.9" cy="393.8" r="0.45" fill="#ff3080" opacity="0.85"/><circle cx="265.6" cy="394.3" r="0.45" fill="#ff3080" opacity="0.85"/><circle cx="323.8" cy="358.2" r="0.45" fill="#ff3080" opacity="0.85"/><circle cx="286" cy="389.4" r="0.45" fill="#ff3080" opacity="0.85"/><circle cx="343.7" cy="332.3" r="0.45" fill="#ff3080" opacity="0.85"/><circle cx="303.8" cy="368.6" r="0.45" fill="#ff3080" opacity="0.85"/><circle cx="305.5" cy="349.1" r="0.45" fill="#ff3080" opacity="0.85"/><circle cx="273.7" cy="371.9" r="0.45" fill="#ff3080" opacity="0.85"/><circle cx="334.6" cy="325.6" r="0.45" fill="#ff3080" opacity="0.85"/><circle cx="280.8" cy="392.9" r="0.45" fill="#ff3080" opacity="0.85"/>
<circle cx="436" cy="403.7" r="1.2" fill="#ff2a70"/><circle cx="417.4" cy="324.3" r="0.8" fill="#ff2a70"/><circle cx="412.5" cy="404.3" r="0.8" fill="#ff2a70"/><circle cx="432.7" cy="369.8" r="0.8" fill="#ff2a70"/><circle cx="426" cy="349.3" r="0.7" fill="#ff2a70"/><circle cx="406.2" cy="385.7" r="0.8" fill="#ff2a70"/><circle cx="393.4" cy="347.8" r="0.9" fill="#ff2a70"/><circle cx="435.2" cy="354.1" r="1" fill="#ff2a70"/><circle cx="400" cy="400.6" r="1" fill="#ff2a70"/><circle cx="436.8" cy="376" r="0.8" fill="#ff2a70"/><circle cx="375.9" cy="352.9" r="0.8" fill="#ff2a70"/><circle cx="434.4" cy="350.5" r="0.8" fill="#ff2a70"/><circle cx="407.9" cy="341.1" r="0.9" fill="#ff2a70"/><circle cx="436" cy="348.2" r="0.8" fill="#ff2a70"/><circle cx="418.4" cy="403.4" r="1" fill="#ff2a70"/><circle cx="428" cy="332.4" r="0.9" fill="#ff2a70"/><circle cx="375.9" cy="349.5" r="0.9" fill="#ff2a70"/><circle cx="389.3" cy="332.1" r="1" fill="#ff2a70"/><circle cx="426.6" cy="358.4" r="1" fill="#ff2a70"/><circle cx="407.7" cy="370.7" r="0.9" fill="#ff2a70"/><circle cx="416.1" cy="398.4" r="0.9" fill="#ff2a70"/><circle cx="422.7" cy="320" r="1.1" fill="#ff2a70"/><circle cx="410.1" cy="357.9" r="0.7" fill="#ff2a70"/><circle cx="368.8" cy="334.1" r="0.9" fill="#ff2a70"/><circle cx="423" cy="354.7" r="0.8" fill="#ff2a70"/><circle cx="441.8" cy="367.1" r="1.2" fill="#ff2a70"/><circle cx="416.2" cy="379.6" r="1.2" fill="#ff2a70"/><circle cx="434.6" cy="388.8" r="0.8" fill="#ff2a70"/><circle cx="417.3" cy="369.1" r="1.2" fill="#ff2a70"/><circle cx="387.4" cy="347.6" r="0.8" fill="#ff2a70"/><circle cx="422" cy="385.3" r="1.2" fill="#ff2a70"/><circle cx="412.5" cy="358.1" r="0.7" fill="#ff2a70"/><circle cx="360.4" cy="389" r="0.7" fill="#ff2a70"/><circle cx="403.8" cy="407.6" r="0.9" fill="#ff2a70"/><circle cx="363.3" cy="326.3" r="0.9" fill="#ff2a70"/><circle cx="416.5" cy="368.8" r="0.7" fill="#ff2a70"/><circle cx="416.5" cy="347.3" r="1.2" fill="#ff2a70"/><circle cx="371" cy="365" r="1" fill="#ff2a70"/><circle cx="430.7" cy="400.3" r="1" fill="#ff2a70"/><circle cx="430.6" cy="374.2" r="1" fill="#ff2a70"/><circle cx="388.5" cy="375.3" r="1.2" fill="#ff2a70"/><circle cx="382.4" cy="359.7" r="0.8" fill="#ff2a70"/><circle cx="437.4" cy="394.2" r="0.9" fill="#ff2a70"/><circle cx="417.4" cy="370.7" r="1" fill="#ff2a70"/><circle cx="376.8" cy="325.4" r="0.7" fill="#ff2a70"/><circle cx="372.8" cy="345.3" r="0.7" fill="#ff2a70"/><circle cx="392.4" cy="347.8" r="1" fill="#ff2a70"/><circle cx="434.8" cy="377.9" r="1" fill="#ff2a70"/><circle cx="394.4" cy="392.3" r="1.2" fill="#ff2a70"/><circle cx="438.6" cy="367.9" r="0.8" fill="#ff2a70"/><circle cx="434.6" cy="362.1" r="0.7" fill="#ff2a70"/><circle cx="416.5" cy="352.8" r="0.9" fill="#ff2a70"/><circle cx="431.5" cy="404" r="0.8" fill="#ff2a70"/><circle cx="415.4" cy="380.1" r="1.1" fill="#ff2a70"/><circle cx="419.7" cy="328.4" r="0.8" fill="#ff2a70"/><circle cx="418.1" cy="359.5" r="1.1" fill="#ff2a70"/><circle cx="365.5" cy="348.1" r="0.9" fill="#ff2a70"/><circle cx="393.6" cy="359.1" r="1.2" fill="#ff2a70"/><circle cx="402.4" cy="405.8" r="0.8" fill="#ff2a70"/><circle cx="443.4" cy="347" r="1" fill="#ff2a70"/><circle cx="397.9" cy="398" r="0.8" fill="#ff2a70"/><circle cx="379.7" cy="337.8" r="0.9" fill="#ff2a70"/><circle cx="421.8" cy="341.4" r="0.8" fill="#ff2a70"/><circle cx="442.4" cy="394.4" r="1" fill="#ff2a70"/><circle cx="390.7" cy="332.7" r="0.9" fill="#ff2a70"/><circle cx="435.8" cy="399" r="0.8" fill="#ff2a70"/><circle cx="425.9" cy="348.7" r="1.1" fill="#ff2a70"/><circle cx="410.5" cy="390.8" r="0.7" fill="#ff2a70"/><circle cx="426.3" cy="364" r="0.7" fill="#ff2a70"/><circle cx="382.8" cy="353.9" r="1.1" fill="#ff2a70"/><circle cx="390.5" cy="406.9" r="1.2" fill="#ff2a70"/><circle cx="416.7" cy="379.3" r="1.1" fill="#ff2a70"/><circle cx="387.3" cy="372.5" r="1" fill="#ff2a70"/><circle cx="425.3" cy="379.8" r="1.1" fill="#ff2a70"/><circle cx="418.6" cy="347.2" r="0.8" fill="#ff2a70"/><circle cx="418.7" cy="326.4" r="1" fill="#ff2a70"/><circle cx="440.2" cy="399.4" r="1.1" fill="#ff2a70"/><circle cx="430" cy="398.8" r="0.8" fill="#ff2a70"/><circle cx="441.7" cy="368.1" r="0.7" fill="#ff2a70"/><circle cx="389.7" cy="335.8" r="1.1" fill="#ff2a70"/><circle cx="436" cy="374.3" r="0.8" fill="#ff2a70"/><circle cx="416.3" cy="369" r="0.9" fill="#ff2a70"/><circle cx="422.8" cy="382.3" r="1.1" fill="#ff2a70"/><circle cx="369.9" cy="376" r="0.8" fill="#ff2a70"/><circle cx="360.6" cy="370.1" r="1.1" fill="#ff2a70"/>
<circle cx="419.8" cy="264.7" r="0.5" fill="#c02050"/><circle cx="392.9" cy="274.5" r="0.5" fill="#c02050"/><circle cx="435.5" cy="254.6" r="0.5" fill="#c02050"/><circle cx="380" cy="281.3" r="0.5" fill="#c02050"/><circle cx="441" cy="244.5" r="0.5" fill="#c02050"/><circle cx="357.7" cy="238.2" r="0.5" fill="#c02050"/><circle cx="405.1" cy="281.1" r="0.5" fill="#c02050"/><circle cx="371.4" cy="244.7" r="0.5" fill="#c02050"/><circle cx="407.9" cy="284.9" r="0.5" fill="#c02050"/><circle cx="416.4" cy="292.1" r="0.5" fill="#c02050"/><circle cx="360.5" cy="270.7" r="0.5" fill="#c02050"/><circle cx="429.3" cy="312.2" r="0.5" fill="#c02050"/><circle cx="383.3" cy="302.8" r="0.5" fill="#c02050"/><circle cx="412.4" cy="309.6" r="0.5" fill="#c02050"/>
<rect x="352.6" y="227.2" width="1.4" height="182.4" fill="#fff"/>
<rect x="259.2" y="317.6" width="185.8" height="1.4" fill="#fff"/>
<rect x="266.4" y="251.4" width="37.2" height="24.6" fill="none" stroke="#e8e8e8" stroke-width="0.8"/>
<line x1="303.6" y1="251.4" x2="353" y2="227.4" stroke="#e8e8e8" stroke-width="0.7"/>
<line x1="303.6" y1="276" x2="353" y2="317.6" stroke="#e8e8e8" stroke-width="0.7"/>
<rect x="268.4" y="361.4" width="37.6" height="25" fill="none" stroke="#e8e8e8" stroke-width="0.8"/>
<line x1="306" y1="361.4" x2="353" y2="319" stroke="#e8e8e8" stroke-width="0.7"/>
<line x1="306" y1="386.4" x2="353" y2="409.4" stroke="#e8e8e8" stroke-width="0.7"/>
<path d="M372.25 232.6h7.5 M377 229.85l2.75 2.75 l-2.75 2.75" stroke="#fff" stroke-width="0.85" fill="none"/>
<path d="M362.25 237.4h7.5 M367 234.65l2.75 2.75 l-2.75 2.75" stroke="#fff" stroke-width="0.85" fill="none"/>
<path d="M399.25 269h7.5 M404 266.25l2.75 2.75 l-2.75 2.75" stroke="#fff" stroke-width="0.85" fill="none"/>
<path d="M408.25 326h7.5 M413 323.25l2.75 2.75 l-2.75 2.75" stroke="#fff" stroke-width="0.85" fill="none"/>
<path d="M386.25 339h7.5 M391 336.25l2.75 2.75 l-2.75 2.75" stroke="#fff" stroke-width="0.85" fill="none"/>
<path d="M363.25 355h7.5 M368 352.25l2.75 2.75 l-2.75 2.75" stroke="#fff" stroke-width="0.85" fill="none"/>
<path d="M392.25 353.4h7.5 M397 350.65l2.75 2.75 l-2.75 2.75" stroke="#fff" stroke-width="0.85" fill="none"/>
<path d="M397.25 364.4h7.5 M402 361.65l2.75 2.75 l-2.75 2.75" stroke="#fff" stroke-width="0.85" fill="none"/>
<path d="M363.25 379h7.5 M368 376.25l2.75 2.75 l-2.75 2.75" stroke="#fff" stroke-width="0.85" fill="none"/>
<path d="M429.25 392h7.5 M434 389.25l2.75 2.75 l-2.75 2.75" stroke="#fff" stroke-width="0.85" fill="none"/>
<path d="M386.25 406.4h7.5 M391 403.65l2.75 2.75 l-2.75 2.75" stroke="#fff" stroke-width="0.85" fill="none"/>
<rect x="261" y="311" width="15" height="5" fill="#fff"/><text x="268.5" y="313.94" font-size="2.9" text-anchor="middle" fill="#e00">100 μm</text><line x1="265.5" y1="315.1" x2="271.5" y2="315.1" stroke="#e00" stroke-width="0.7"/>
<rect x="356" y="311" width="15" height="5" fill="#fff"/><text x="363.5" y="313.94" font-size="2.9" text-anchor="middle" fill="#e00">25 μm</text><line x1="360.5" y1="315.1" x2="366.5" y2="315.1" stroke="#e00" stroke-width="0.7"/>
<rect x="261" y="402.4" width="15" height="5" fill="#fff"/><text x="268.5" y="405.34" font-size="2.9" text-anchor="middle" fill="#e00">100 μm</text><line x1="265.5" y1="406.5" x2="271.5" y2="406.5" stroke="#e00" stroke-width="0.7"/>
<rect x="356" y="402.4" width="16" height="5" fill="#fff"/><text x="364" y="405.34" font-size="2.9" text-anchor="middle" fill="#e00">20 μm</text><line x1="361" y1="406.5" x2="367" y2="406.5" stroke="#e00" stroke-width="0.7"/>
<text x="0.5" y="441.4" font-size="9.5" font-weight="bold">G</text>
<text x="73" y="438.76" font-size="6.6" text-anchor="middle" font-weight="bold">MC38</text>
<text x="131" y="438.76" font-size="6.6" text-anchor="middle" font-weight="bold">HCT116</text>
<text x="189" y="438.76" font-size="6.6" text-anchor="middle" font-weight="bold">OE19</text>
<rect x="43.6" y="445" width="54.8" height="54.4" fill="#fff" stroke="#9a9a9a" stroke-width="0.6"/>
<path d="M43.6 449.5h-1M43.6 454.1h-1M43.6 458.6h-1M43.6 463.1h-1M43.6 467.7h-1M43.6 472.2h-1M43.6 476.7h-1M43.6 481.3h-1M43.6 485.8h-1M43.6 490.3h-1M43.6 494.9h-1M47 499.4v1M50.5 499.4v1M53.9 499.4v1M57.3 499.4v1M60.7 499.4v1M64.2 499.4v1M67.6 499.4v1M71 499.4v1M74.4 499.4v1M77.8 499.4v1M81.3 499.4v1M84.7 499.4v1M88.1 499.4v1M91.6 499.4v1M95 499.4v1" stroke="#777" stroke-width="0.35" fill="none"/>
<rect x="101.6" y="445" width="53.4" height="54.4" fill="#fff" stroke="#9a9a9a" stroke-width="0.6"/>
<path d="M101.6 449.5h-1M101.6 454.1h-1M101.6 458.6h-1M101.6 463.1h-1M101.6 467.7h-1M101.6 472.2h-1M101.6 476.7h-1M101.6 481.3h-1M101.6 485.8h-1M101.6 490.3h-1M101.6 494.9h-1M104.9 499.4v1M108.3 499.4v1M111.6 499.4v1M114.9 499.4v1M118.3 499.4v1M121.6 499.4v1M125 499.4v1M128.3 499.4v1M131.6 499.4v1M135 499.4v1M138.3 499.4v1M141.7 499.4v1M145 499.4v1M148.3 499.4v1M151.7 499.4v1" stroke="#777" stroke-width="0.35" fill="none"/>
<rect x="158.2" y="445" width="54.2" height="54.4" fill="#fff" stroke="#9a9a9a" stroke-width="0.6"/>
<path d="M158.2 449.5h-1M158.2 454.1h-1M158.2 458.6h-1M158.2 463.1h-1M158.2 467.7h-1M158.2 472.2h-1M158.2 476.7h-1M158.2 481.3h-1M158.2 485.8h-1M158.2 490.3h-1M158.2 494.9h-1M161.6 499.4v1M165 499.4v1M168.4 499.4v1M171.8 499.4v1M175.1 499.4v1M178.5 499.4v1M181.9 499.4v1M185.3 499.4v1M188.7 499.4v1M192.1 499.4v1M195.5 499.4v1M198.8 499.4v1M202.2 499.4v1M205.6 499.4v1M209 499.4v1" stroke="#777" stroke-width="0.35" fill="none"/>
<rect x="43.6" y="502.4" width="54.8" height="55.6" fill="#fff" stroke="#9a9a9a" stroke-width="0.6"/>
<path d="M43.6 507h-1M43.6 511.7h-1M43.6 516.3h-1M43.6 520.9h-1M43.6 525.6h-1M43.6 530.2h-1M43.6 534.8h-1M43.6 539.5h-1M43.6 544.1h-1M43.6 548.7h-1M43.6 553.4h-1M47 558v1M50.5 558v1M53.9 558v1M57.3 558v1M60.7 558v1M64.2 558v1M67.6 558v1M71 558v1M74.4 558v1M77.8 558v1M81.3 558v1M84.7 558v1M88.1 558v1M91.6 558v1M95 558v1" stroke="#777" stroke-width="0.35" fill="none"/>
<rect x="101.6" y="502.4" width="53.4" height="55.6" fill="#fff" stroke="#9a9a9a" stroke-width="0.6"/>
<path d="M101.6 507h-1M101.6 511.7h-1M101.6 516.3h-1M101.6 520.9h-1M101.6 525.6h-1M101.6 530.2h-1M101.6 534.8h-1M101.6 539.5h-1M101.6 544.1h-1M101.6 548.7h-1M101.6 553.4h-1M104.9 558v1M108.3 558v1M111.6 558v1M114.9 558v1M118.3 558v1M121.6 558v1M125 558v1M128.3 558v1M131.6 558v1M135 558v1M138.3 558v1M141.7 558v1M145 558v1M148.3 558v1M151.7 558v1" stroke="#777" stroke-width="0.35" fill="none"/>
<rect x="158.2" y="502.4" width="54.2" height="55.6" fill="#fff" stroke="#9a9a9a" stroke-width="0.6"/>
<path d="M158.2 507h-1M158.2 511.7h-1M158.2 516.3h-1M158.2 520.9h-1M158.2 525.6h-1M158.2 530.2h-1M158.2 534.8h-1M158.2 539.5h-1M158.2 544.1h-1M158.2 548.7h-1M158.2 553.4h-1M161.6 558v1M165 558v1M168.4 558v1M171.8 558v1M175.1 558v1M178.5 558v1M181.9 558v1M185.3 558v1M188.7 558v1M192.1 558v1M195.5 558v1M198.8 558v1M202.2 558v1M205.6 558v1M209 558v1" stroke="#777" stroke-width="0.35" fill="none"/>
<clipPath id="cg1"><rect x="43.9" y="445.3" width="54.2" height="53.8"/></clipPath><g clip-path="url(#cg1)">
<rect x="67.9" y="493.1" width="0.5" height="0.5" fill="#1010ff"/><rect x="55.1" y="486.8" width="0.5" height="0.5" fill="#1010ff"/><rect x="44.9" y="491.7" width="0.5" height="0.5" fill="#1010ff"/><rect x="44.5" y="486.1" width="0.5" height="0.5" fill="#1010ff"/><rect x="56.9" y="490" width="0.5" height="0.5" fill="#1010ff"/><rect x="59.5" y="485.5" width="0.5" height="0.5" fill="#1010ff"/><rect x="55" y="489.6" width="0.5" height="0.5" fill="#1010ff"/><rect x="59.6" y="498.2" width="0.5" height="0.5" fill="#1010ff"/><rect x="56.8" y="488.9" width="0.5" height="0.5" fill="#1010ff"/><rect x="66.6" y="488.5" width="0.5" height="0.5" fill="#1010ff"/><rect x="63.2" y="486.9" width="0.5" height="0.5" fill="#1010ff"/><rect x="57.7" y="493.3" width="0.5" height="0.5" fill="#1010ff"/><rect x="61.6" y="489.1" width="0.5" height="0.5" fill="#1010ff"/><rect x="45.2" y="493.2" width="0.5" height="0.5" fill="#1010ff"/><rect x="56.2" y="492.4" width="0.5" height="0.5" fill="#1010ff"/><rect x="57.7" y="493.5" width="0.5" height="0.5" fill="#1010ff"/><rect x="54.7" y="490.6" width="0.5" height="0.5" fill="#1010ff"/><rect x="60.5" y="484.7" width="0.5" height="0.5" fill="#1010ff"/><rect x="50.9" y="488.6" width="0.5" height="0.5" fill="#1010ff"/><rect x="73.4" y="486.2" width="0.5" height="0.5" fill="#1010ff"/><rect x="61.5" y="491" width="0.5" height="0.5" fill="#1010ff"/><rect x="51.4" y="484.5" width="0.5" height="0.5" fill="#1010ff"/><rect x="63.7" y="486.7" width="0.5" height="0.5" fill="#1010ff"/><rect x="60.8" y="483.8" width="0.5" height="0.5" fill="#1010ff"/><rect x="51.7" y="495.2" width="0.5" height="0.5" fill="#1010ff"/><rect x="67.5" y="482.6" width="0.5" height="0.5" fill="#1010ff"/><rect x="61.9" y="489.2" width="0.5" height="0.5" fill="#1010ff"/><rect x="57.2" y="485.6" width="0.5" height="0.5" fill="#1010ff"/><rect x="61.2" y="493" width="0.5" height="0.5" fill="#1010ff"/><rect x="50" y="485.2" width="0.5" height="0.5" fill="#1010ff"/><rect x="48.4" y="493.9" width="0.5" height="0.5" fill="#1010ff"/><rect x="45.7" y="490.9" width="0.5" height="0.5" fill="#1010ff"/><rect x="52.7" y="490.3" width="0.5" height="0.5" fill="#1010ff"/><rect x="69.2" y="488.9" width="0.5" height="0.5" fill="#1010ff"/><rect x="67.3" y="487.1" width="0.5" height="0.5" fill="#1010ff"/><rect x="50.8" y="492" width="0.5" height="0.5" fill="#1010ff"/><rect x="55.7" y="484.9" width="0.5" height="0.5" fill="#1010ff"/><rect x="59" y="487" width="0.5" height="0.5" fill="#1010ff"/><rect x="45.5" y="489.5" width="0.5" height="0.5" fill="#1010ff"/><rect x="54.4" y="494.7" width="0.5" height="0.5" fill="#1010ff"/><rect x="55.9" y="489.5" width="0.5" height="0.5" fill="#1010ff"/><rect x="57.4" y="482.4" width="0.5" height="0.5" fill="#1010ff"/><rect x="65.8" y="483.8" width="0.5" height="0.5" fill="#1010ff"/><rect x="58.3" y="484.9" width="0.5" height="0.5" fill="#1010ff"/><rect x="45.7" y="489.9" width="0.5" height="0.5" fill="#1010ff"/><rect x="73.1" y="489.3" width="0.5" height="0.5" fill="#1010ff"/><rect x="49.2" y="489.7" width="0.5" height="0.5" fill="#1010ff"/><rect x="44.3" y="491.6" width="0.5" height="0.5" fill="#1010ff"/><rect x="50.1" y="493.4" width="0.5" height="0.5" fill="#1010ff"/><rect x="46.7" y="488.5" width="0.5" height="0.5" fill="#1010ff"/><rect x="61.7" y="489.1" width="0.5" height="0.5" fill="#1010ff"/><rect x="61.2" y="493.3" width="0.5" height="0.5" fill="#1010ff"/><rect x="64.8" y="482.8" width="0.5" height="0.5" fill="#1010ff"/><rect x="58.8" y="482.4" width="0.5" height="0.5" fill="#1010ff"/><rect x="55.7" y="497" width="0.5" height="0.5" fill="#1010ff"/><rect x="53" y="488.7" width="0.5" height="0.5" fill="#1010ff"/><rect x="56.6" y="489.6" width="0.5" height="0.5" fill="#1010ff"/><rect x="54.8" y="486.9" width="0.5" height="0.5" fill="#1010ff"/><rect x="65.7" y="491.3" width="0.5" height="0.5" fill="#1010ff"/><rect x="53.2" y="491.3" width="0.5" height="0.5" fill="#1010ff"/><rect x="61.8" y="492.6" width="0.5" height="0.5" fill="#1010ff"/><rect x="59.1" y="491.7" width="0.5" height="0.5" fill="#1010ff"/><rect x="51.8" y="486.3" width="0.5" height="0.5" fill="#1010ff"/><rect x="51.1" y="494.4" width="0.5" height="0.5" fill="#1010ff"/><rect x="64.2" y="488.7" width="0.5" height="0.5" fill="#1010ff"/><rect x="49.9" y="491.9" width="0.5" height="0.5" fill="#1010ff"/><rect x="71.4" y="492.1" width="0.5" height="0.5" fill="#1010ff"/><rect x="48.6" y="490.8" width="0.5" height="0.5" fill="#1010ff"/><rect x="56.8" y="489.6" width="0.5" height="0.5" fill="#1010ff"/><rect x="64.8" y="492.9" width="0.5" height="0.5" fill="#1010ff"/><rect x="63.6" y="493.3" width="0.5" height="0.5" fill="#1010ff"/><rect x="49.2" y="486.5" width="0.5" height="0.5" fill="#1010ff"/><rect x="57.6" y="484.9" width="0.5" height="0.5" fill="#1010ff"/><rect x="58.2" y="494.7" width="0.5" height="0.5" fill="#1010ff"/><rect x="45.9" y="494.5" width="0.5" height="0.5" fill="#1010ff"/><rect x="50.1" y="495.5" width="0.5" height="0.5" fill="#1010ff"/><rect x="62.5" y="489.6" width="0.5" height="0.5" fill="#1010ff"/><rect x="73.3" y="485" width="0.5" height="0.5" fill="#1010ff"/><rect x="49.8" y="497.8" width="0.5" height="0.5" fill="#1010ff"/><rect x="53.9" y="486" width="0.5" height="0.5" fill="#1010ff"/><rect x="55.1" y="490.3" width="0.5" height="0.5" fill="#1010ff"/>
<g transform="rotate(-10 55 489.8)" filter="url(#fblur2)"><ellipse cx="55" cy="489.8" rx="13.5" ry="4.2" fill="#1818f0" opacity="0.85"/><ellipse cx="56.04" cy="489.8" rx="10.53" ry="3.28" fill="#1060ff" opacity="0.9"/><ellipse cx="56.89" cy="489.8" rx="8.1" ry="2.52" fill="#00b8f0" opacity="0.95"/><ellipse cx="57.6" cy="489.8" rx="6.08" ry="1.89" fill="#10d080" opacity="1"/><ellipse cx="58.21" cy="489.8" rx="4.32" ry="1.34" fill="#80e020" opacity="1"/><ellipse cx="58.78" cy="489.8" rx="2.7" ry="0.84" fill="#f0e000" opacity="1"/><ellipse cx="59.25" cy="489.8" rx="1.35" ry="0.42" fill="#ff6000" opacity="1"/></g>
</g>
<path d="M82 483.4H67V495.4H82" stroke="#666" stroke-width="0.5" fill="none"/>
<rect x="133.6" y="472.4" width="0.5" height="0.5" fill="#1010ff"/><rect x="120" y="486.3" width="0.5" height="0.5" fill="#1010ff"/><rect x="119.6" y="478.1" width="0.5" height="0.5" fill="#1010ff"/><rect x="111.2" y="487.6" width="0.5" height="0.5" fill="#1010ff"/><rect x="105.7" y="490.9" width="0.5" height="0.5" fill="#1010ff"/><rect x="111.6" y="489.8" width="0.5" height="0.5" fill="#1010ff"/><rect x="110.3" y="494.7" width="0.5" height="0.5" fill="#1010ff"/><rect x="103.9" y="479.3" width="0.5" height="0.5" fill="#1010ff"/><rect x="125" y="479.9" width="0.5" height="0.5" fill="#1010ff"/><rect x="111.2" y="493.2" width="0.5" height="0.5" fill="#1010ff"/><rect x="118.5" y="486.9" width="0.5" height="0.5" fill="#1010ff"/><rect x="110.1" y="493.5" width="0.5" height="0.5" fill="#1010ff"/><rect x="105.8" y="494.4" width="0.5" height="0.5" fill="#1010ff"/><rect x="117.2" y="488.7" width="0.5" height="0.5" fill="#1010ff"/><rect x="115.8" y="491.2" width="0.5" height="0.5" fill="#1010ff"/><rect x="112.7" y="487.5" width="0.5" height="0.5" fill="#1010ff"/><rect x="124.9" y="476" width="0.5" height="0.5" fill="#1010ff"/><rect x="109.2" y="481.2" width="0.5" height="0.5" fill="#1010ff"/><rect x="113.1" y="480.7" width="0.5" height="0.5" fill="#1010ff"/><rect x="120.8" y="484.2" width="0.5" height="0.5" fill="#1010ff"/><rect x="112.7" y="481.9" width="0.5" height="0.5" fill="#1010ff"/><rect x="107.7" y="495.8" width="0.5" height="0.5" fill="#1010ff"/><rect x="122" y="480.5" width="0.5" height="0.5" fill="#1010ff"/><rect x="112" y="484.9" width="0.5" height="0.5" fill="#1010ff"/><rect x="120" y="490.3" width="0.5" height="0.5" fill="#1010ff"/><rect x="113.5" y="486.9" width="0.5" height="0.5" fill="#1010ff"/><rect x="120.7" y="482.7" width="0.5" height="0.5" fill="#1010ff"/><rect x="121.2" y="482.2" width="0.5" height="0.5" fill="#1010ff"/><rect x="127.5" y="478" width="0.5" height="0.5" fill="#1010ff"/><rect x="106.7" y="494.7" width="0.5" height="0.5" fill="#1010ff"/><rect x="107.5" y="488.3" width="0.5" height="0.5" fill="#1010ff"/><rect x="116.1" y="491.8" width="0.5" height="0.5" fill="#1010ff"/><rect x="113.5" y="488.6" width="0.5" height="0.5" fill="#1010ff"/><rect x="118.3" y="478.8" width="0.5" height="0.5" fill="#1010ff"/><rect x="120" y="483.6" width="0.5" height="0.5" fill="#1010ff"/><rect x="115.5" y="486.8" width="0.5" height="0.5" fill="#1010ff"/><rect x="111.1" y="488.2" width="0.5" height="0.5" fill="#1010ff"/><rect x="124.1" y="493.8" width="0.5" height="0.5" fill="#1010ff"/><rect x="126.1" y="485.4" width="0.5" height="0.5" fill="#1010ff"/><rect x="118.6" y="483.2" width="0.5" height="0.5" fill="#1010ff"/><rect x="125.7" y="492.5" width="0.5" height="0.5" fill="#1010ff"/><rect x="107.1" y="498.6" width="0.5" height="0.5" fill="#1010ff"/><rect x="124.5" y="483.5" width="0.5" height="0.5" fill="#1010ff"/><rect x="125.6" y="488.9" width="0.5" height="0.5" fill="#1010ff"/><rect x="137" y="480.4" width="0.5" height="0.5" fill="#1010ff"/><rect x="130" y="480" width="0.5" height="0.5" fill="#1010ff"/><rect x="122.9" y="484.1" width="0.5" height="0.5" fill="#1010ff"/><rect x="116.9" y="484.7" width="0.5" height="0.5" fill="#1010ff"/><rect x="125.1" y="489.7" width="0.5" height="0.5" fill="#1010ff"/><rect x="115.2" y="490" width="0.5" height="0.5" fill="#1010ff"/><rect x="121" y="484.7" width="0.5" height="0.5" fill="#1010ff"/><rect x="124.2" y="483.7" width="0.5" height="0.5" fill="#1010ff"/><rect x="103.8" y="490.9" width="0.5" height="0.5" fill="#1010ff"/><rect x="123.5" y="486.3" width="0.5" height="0.5" fill="#1010ff"/><rect x="125.6" y="482.8" width="0.5" height="0.5" fill="#1010ff"/><rect x="113.6" y="481.1" width="0.5" height="0.5" fill="#1010ff"/><rect x="125" y="476.7" width="0.5" height="0.5" fill="#1010ff"/><rect x="121.6" y="477.9" width="0.5" height="0.5" fill="#1010ff"/><rect x="111.2" y="492.4" width="0.5" height="0.5" fill="#1010ff"/><rect x="110.9" y="487.9" width="0.5" height="0.5" fill="#1010ff"/><rect x="125.2" y="485.5" width="0.5" height="0.5" fill="#1010ff"/><rect x="118.5" y="484.6" width="0.5" height="0.5" fill="#1010ff"/><rect x="108.3" y="491" width="0.5" height="0.5" fill="#1010ff"/><rect x="111.9" y="490.9" width="0.5" height="0.5" fill="#1010ff"/><rect x="122" y="483.1" width="0.5" height="0.5" fill="#1010ff"/><rect x="108.3" y="490.2" width="0.5" height="0.5" fill="#1010ff"/><rect x="127.1" y="481.4" width="0.5" height="0.5" fill="#1010ff"/><rect x="118.9" y="487.8" width="0.5" height="0.5" fill="#1010ff"/><rect x="121.5" y="485.2" width="0.5" height="0.5" fill="#1010ff"/><rect x="128" y="484.4" width="0.5" height="0.5" fill="#1010ff"/><rect x="136.9" y="466.6" width="0.5" height="0.5" fill="#1010ff"/><rect x="120.2" y="491.3" width="0.5" height="0.5" fill="#1010ff"/><rect x="119.9" y="493" width="0.5" height="0.5" fill="#1010ff"/><rect x="103" y="490.5" width="0.5" height="0.5" fill="#1010ff"/><rect x="113" y="486.3" width="0.5" height="0.5" fill="#1010ff"/><rect x="109.3" y="496.2" width="0.5" height="0.5" fill="#1010ff"/><rect x="118.7" y="486.5" width="0.5" height="0.5" fill="#1010ff"/><rect x="113.9" y="491.3" width="0.5" height="0.5" fill="#1010ff"/><rect x="113.6" y="486" width="0.5" height="0.5" fill="#1010ff"/><rect x="121.6" y="486.5" width="0.5" height="0.5" fill="#1010ff"/><rect x="118.9" y="490.1" width="0.5" height="0.5" fill="#1010ff"/>
<g transform="rotate(-35 116.5 488)" filter="url(#fblur2)"><ellipse cx="116.5" cy="488" rx="14" ry="5" fill="#1818f0" opacity="0.85"/><ellipse cx="117.58" cy="488" rx="10.92" ry="3.9" fill="#1060ff" opacity="0.9"/><ellipse cx="118.46" cy="488" rx="8.4" ry="3" fill="#00b8f0" opacity="0.95"/><ellipse cx="119.19" cy="488" rx="6.3" ry="2.25" fill="#10d080" opacity="1"/><ellipse cx="119.83" cy="488" rx="4.48" ry="1.6" fill="#80e020" opacity="1"/><ellipse cx="120.42" cy="488" rx="2.8" ry="1" fill="#f0e000" opacity="1"/><ellipse cx="120.91" cy="488" rx="1.4" ry="0.5" fill="#ff6000" opacity="1"/></g>
<path d="M147 478.6H127V495.4H147" stroke="#666" stroke-width="0.5" fill="none"/>
<rect x="179.7" y="484.3" width="0.5" height="0.5" fill="#1010ff"/><rect x="171.5" y="493.4" width="0.5" height="0.5" fill="#1010ff"/><rect x="170" y="482.6" width="0.5" height="0.5" fill="#1010ff"/><rect x="186.6" y="463.2" width="0.5" height="0.5" fill="#1010ff"/><rect x="176.3" y="483.9" width="0.5" height="0.5" fill="#1010ff"/><rect x="180.5" y="470" width="0.5" height="0.5" fill="#1010ff"/><rect x="172.2" y="472" width="0.5" height="0.5" fill="#1010ff"/><rect x="168.4" y="483" width="0.5" height="0.5" fill="#1010ff"/><rect x="160.9" y="495.9" width="0.5" height="0.5" fill="#1010ff"/><rect x="170.3" y="481.6" width="0.5" height="0.5" fill="#1010ff"/><rect x="167" y="475.8" width="0.5" height="0.5" fill="#1010ff"/><rect x="173.6" y="482.6" width="0.5" height="0.5" fill="#1010ff"/><rect x="173.9" y="470.9" width="0.5" height="0.5" fill="#1010ff"/><rect x="160.5" y="478" width="0.5" height="0.5" fill="#1010ff"/><rect x="158.9" y="478.4" width="0.5" height="0.5" fill="#1010ff"/><rect x="168.8" y="498.4" width="0.5" height="0.5" fill="#1010ff"/><rect x="173.7" y="476.8" width="0.5" height="0.5" fill="#1010ff"/><rect x="178.7" y="478.4" width="0.5" height="0.5" fill="#1010ff"/><rect x="178.9" y="470.1" width="0.5" height="0.5" fill="#1010ff"/><rect x="166.1" y="484.6" width="0.5" height="0.5" fill="#1010ff"/><rect x="166.1" y="490.3" width="0.5" height="0.5" fill="#1010ff"/><rect x="172.9" y="492.2" width="0.5" height="0.5" fill="#1010ff"/><rect x="174.1" y="454.5" width="0.5" height="0.5" fill="#1010ff"/><rect x="168.5" y="481.9" width="0.5" height="0.5" fill="#1010ff"/><rect x="174.5" y="458.3" width="0.5" height="0.5" fill="#1010ff"/><rect x="176.7" y="468.2" width="0.5" height="0.5" fill="#1010ff"/><rect x="168.7" y="480.2" width="0.5" height="0.5" fill="#1010ff"/><rect x="171.8" y="471" width="0.5" height="0.5" fill="#1010ff"/><rect x="174.2" y="483" width="0.5" height="0.5" fill="#1010ff"/><rect x="173.7" y="455.1" width="0.5" height="0.5" fill="#1010ff"/><rect x="187.9" y="469.5" width="0.5" height="0.5" fill="#1010ff"/><rect x="171.2" y="486.7" width="0.5" height="0.5" fill="#1010ff"/><rect x="177.9" y="491.1" width="0.5" height="0.5" fill="#1010ff"/><rect x="173.4" y="478.2" width="0.5" height="0.5" fill="#1010ff"/><rect x="170.5" y="482.5" width="0.5" height="0.5" fill="#1010ff"/><rect x="167.5" y="479.7" width="0.5" height="0.5" fill="#1010ff"/><rect x="177.6" y="454.7" width="0.5" height="0.5" fill="#1010ff"/><rect x="173.8" y="483.7" width="0.5" height="0.5" fill="#1010ff"/><rect x="170.9" y="482.5" width="0.5" height="0.5" fill="#1010ff"/><rect x="180" y="481.1" width="0.5" height="0.5" fill="#1010ff"/><rect x="168.2" y="484" width="0.5" height="0.5" fill="#1010ff"/><rect x="188.7" y="464.1" width="0.5" height="0.5" fill="#1010ff"/><rect x="177.7" y="498.4" width="0.5" height="0.5" fill="#1010ff"/><rect x="175.4" y="471.5" width="0.5" height="0.5" fill="#1010ff"/><rect x="166.5" y="493.3" width="0.5" height="0.5" fill="#1010ff"/><rect x="162.2" y="485.4" width="0.5" height="0.5" fill="#1010ff"/><rect x="161.8" y="491.8" width="0.5" height="0.5" fill="#1010ff"/><rect x="178.4" y="468.9" width="0.5" height="0.5" fill="#1010ff"/><rect x="166.5" y="497.2" width="0.5" height="0.5" fill="#1010ff"/><rect x="177.5" y="483.2" width="0.5" height="0.5" fill="#1010ff"/><rect x="180.3" y="468.8" width="0.5" height="0.5" fill="#1010ff"/><rect x="171.8" y="482.2" width="0.5" height="0.5" fill="#1010ff"/><rect x="168.6" y="494.2" width="0.5" height="0.5" fill="#1010ff"/><rect x="183.1" y="468.4" width="0.5" height="0.5" fill="#1010ff"/><rect x="170.1" y="482.4" width="0.5" height="0.5" fill="#1010ff"/><rect x="163.8" y="485.8" width="0.5" height="0.5" fill="#1010ff"/><rect x="166.2" y="482" width="0.5" height="0.5" fill="#1010ff"/><rect x="162.4" y="479.8" width="0.5" height="0.5" fill="#1010ff"/><rect x="175.6" y="477.8" width="0.5" height="0.5" fill="#1010ff"/><rect x="178.3" y="484.8" width="0.5" height="0.5" fill="#1010ff"/><rect x="165.7" y="486.4" width="0.5" height="0.5" fill="#1010ff"/><rect x="172.3" y="488.7" width="0.5" height="0.5" fill="#1010ff"/><rect x="171.6" y="493.2" width="0.5" height="0.5" fill="#1010ff"/><rect x="175.5" y="487.1" width="0.5" height="0.5" fill="#1010ff"/><rect x="172.1" y="479.9" width="0.5" height="0.5" fill="#1010ff"/><rect x="159.7" y="492.9" width="0.5" height="0.5" fill="#1010ff"/><rect x="174.4" y="485.8" width="0.5" height="0.5" fill="#1010ff"/><rect x="171.3" y="476.3" width="0.5" height="0.5" fill="#1010ff"/><rect x="180.6" y="480.4" width="0.5" height="0.5" fill="#1010ff"/><rect x="169.9" y="480.9" width="0.5" height="0.5" fill="#1010ff"/><rect x="174.3" y="487.6" width="0.5" height="0.5" fill="#1010ff"/><rect x="172.1" y="472.6" width="0.5" height="0.5" fill="#1010ff"/><rect x="173.2" y="475.8" width="0.5" height="0.5" fill="#1010ff"/><rect x="174" y="492.5" width="0.5" height="0.5" fill="#1010ff"/><rect x="175" y="470.6" width="0.5" height="0.5" fill="#1010ff"/><rect x="176" y="481.9" width="0.5" height="0.5" fill="#1010ff"/><rect x="168.1" y="486.7" width="0.5" height="0.5" fill="#1010ff"/><rect x="168.8" y="468.5" width="0.5" height="0.5" fill="#1010ff"/><rect x="178.8" y="480.4" width="0.5" height="0.5" fill="#1010ff"/><rect x="169.9" y="471.6" width="0.5" height="0.5" fill="#1010ff"/><rect x="170.9" y="475" width="0.5" height="0.5" fill="#1010ff"/><rect x="179.8" y="477.6" width="0.5" height="0.5" fill="#1010ff"/><rect x="170.7" y="476.3" width="0.5" height="0.5" fill="#1010ff"/><rect x="173.2" y="489.6" width="0.5" height="0.5" fill="#1010ff"/><rect x="169.3" y="491.3" width="0.5" height="0.5" fill="#1010ff"/><rect x="175.1" y="475.1" width="0.5" height="0.5" fill="#1010ff"/><rect x="189.5" y="458.2" width="0.5" height="0.5" fill="#1010ff"/><rect x="177.7" y="453.5" width="0.5" height="0.5" fill="#1010ff"/><rect x="175.8" y="473.8" width="0.5" height="0.5" fill="#1010ff"/><rect x="163.4" y="475" width="0.5" height="0.5" fill="#1010ff"/><rect x="163.7" y="483.5" width="0.5" height="0.5" fill="#1010ff"/><rect x="175.8" y="486.2" width="0.5" height="0.5" fill="#1010ff"/><rect x="175.2" y="481.8" width="0.5" height="0.5" fill="#1010ff"/><rect x="166.2" y="486.2" width="0.5" height="0.5" fill="#1010ff"/><rect x="172.4" y="479" width="0.5" height="0.5" fill="#1010ff"/><rect x="177.3" y="465.8" width="0.5" height="0.5" fill="#1010ff"/><rect x="181" y="459.4" width="0.5" height="0.5" fill="#1010ff"/><rect x="176.4" y="468.2" width="0.5" height="0.5" fill="#1010ff"/><rect x="184.8" y="465.6" width="0.5" height="0.5" fill="#1010ff"/><rect x="179.3" y="479.7" width="0.5" height="0.5" fill="#1010ff"/><rect x="163.6" y="483.6" width="0.5" height="0.5" fill="#1010ff"/><rect x="165.4" y="485.7" width="0.5" height="0.5" fill="#1010ff"/><rect x="182.5" y="488.1" width="0.5" height="0.5" fill="#1010ff"/><rect x="162.6" y="498.5" width="0.5" height="0.5" fill="#1010ff"/><rect x="172.9" y="486.6" width="0.5" height="0.5" fill="#1010ff"/><rect x="158.9" y="497" width="0.5" height="0.5" fill="#1010ff"/><rect x="186.3" y="478.2" width="0.5" height="0.5" fill="#1010ff"/><rect x="179.6" y="462.7" width="0.5" height="0.5" fill="#1010ff"/><rect x="172.8" y="480.1" width="0.5" height="0.5" fill="#1010ff"/><rect x="179.3" y="474.5" width="0.5" height="0.5" fill="#1010ff"/><rect x="178" y="486.5" width="0.5" height="0.5" fill="#1010ff"/><rect x="168.8" y="492.4" width="0.5" height="0.5" fill="#1010ff"/><rect x="172.8" y="480.7" width="0.5" height="0.5" fill="#1010ff"/><rect x="177.2" y="476.9" width="0.5" height="0.5" fill="#1010ff"/><rect x="176.1" y="479.3" width="0.5" height="0.5" fill="#1010ff"/><rect x="184.6" y="461.3" width="0.5" height="0.5" fill="#1010ff"/><rect x="182.8" y="473.3" width="0.5" height="0.5" fill="#1010ff"/><rect x="174.5" y="487.1" width="0.5" height="0.5" fill="#1010ff"/><rect x="172.9" y="493.2" width="0.5" height="0.5" fill="#1010ff"/><rect x="165.2" y="487.1" width="0.5" height="0.5" fill="#1010ff"/><rect x="179.2" y="480.7" width="0.5" height="0.5" fill="#1010ff"/><rect x="183.5" y="475.3" width="0.5" height="0.5" fill="#1010ff"/><rect x="167" y="479.7" width="0.5" height="0.5" fill="#1010ff"/><rect x="178.2" y="476.7" width="0.5" height="0.5" fill="#1010ff"/><rect x="171.3" y="493.5" width="0.5" height="0.5" fill="#1010ff"/><rect x="169.7" y="475.8" width="0.5" height="0.5" fill="#1010ff"/><rect x="169.5" y="472.2" width="0.5" height="0.5" fill="#1010ff"/><rect x="169" y="490.8" width="0.5" height="0.5" fill="#1010ff"/><rect x="162.7" y="496.1" width="0.5" height="0.5" fill="#1010ff"/><rect x="167.5" y="496.5" width="0.5" height="0.5" fill="#1010ff"/><rect x="169" y="488.6" width="0.5" height="0.5" fill="#1010ff"/>
<g transform="rotate(-55 173 481)" filter="url(#fblur2)"><ellipse cx="173" cy="481" rx="14" ry="5.5" fill="#1818f0" opacity="0.85"/><ellipse cx="174.08" cy="481" rx="10.92" ry="4.29" fill="#1060ff" opacity="0.9"/><ellipse cx="174.96" cy="481" rx="8.4" ry="3.3" fill="#00b8f0" opacity="0.95"/><ellipse cx="175.69" cy="481" rx="6.3" ry="2.48" fill="#10d080" opacity="1"/><ellipse cx="176.33" cy="481" rx="4.48" ry="1.76" fill="#80e020" opacity="1"/><ellipse cx="176.92" cy="481" rx="2.8" ry="1.1" fill="#f0e000" opacity="1"/><ellipse cx="177.41" cy="481" rx="1.4" ry="0.55" fill="#ff6000" opacity="1"/></g>
<rect x="185.4" y="470.6" width="21" height="21.8" fill="none" stroke="#666" stroke-width="0.5"/>
<clipPath id="cg4"><rect x="43.9" y="502.7" width="54.2" height="55"/></clipPath><g clip-path="url(#cg4)">
<rect x="58" y="550.2" width="0.5" height="0.5" fill="#1010ff"/><rect x="51.4" y="551.1" width="0.5" height="0.5" fill="#1010ff"/><rect x="69.4" y="547.5" width="0.5" height="0.5" fill="#1010ff"/><rect x="76.3" y="539.9" width="0.5" height="0.5" fill="#1010ff"/><rect x="57.2" y="544.8" width="0.5" height="0.5" fill="#1010ff"/><rect x="46.7" y="549.5" width="0.5" height="0.5" fill="#1010ff"/><rect x="60.3" y="549.5" width="0.5" height="0.5" fill="#1010ff"/><rect x="65.7" y="557" width="0.5" height="0.5" fill="#1010ff"/><rect x="66.6" y="538.5" width="0.5" height="0.5" fill="#1010ff"/><rect x="59" y="544.8" width="0.5" height="0.5" fill="#1010ff"/><rect x="51.6" y="555.6" width="0.5" height="0.5" fill="#1010ff"/><rect x="52.2" y="539.9" width="0.5" height="0.5" fill="#1010ff"/><rect x="60.7" y="546" width="0.5" height="0.5" fill="#1010ff"/><rect x="48.9" y="549.8" width="0.5" height="0.5" fill="#1010ff"/><rect x="51.6" y="549.7" width="0.5" height="0.5" fill="#1010ff"/><rect x="79.9" y="539.5" width="0.5" height="0.5" fill="#1010ff"/><rect x="46.3" y="549.3" width="0.5" height="0.5" fill="#1010ff"/><rect x="70.5" y="542" width="0.5" height="0.5" fill="#1010ff"/><rect x="74.2" y="538.3" width="0.5" height="0.5" fill="#1010ff"/><rect x="45.3" y="547.7" width="0.5" height="0.5" fill="#1010ff"/><rect x="63.5" y="550.3" width="0.5" height="0.5" fill="#1010ff"/><rect x="58.2" y="546.6" width="0.5" height="0.5" fill="#1010ff"/><rect x="74.7" y="546.4" width="0.5" height="0.5" fill="#1010ff"/><rect x="55.1" y="554.4" width="0.5" height="0.5" fill="#1010ff"/><rect x="45.5" y="551.4" width="0.5" height="0.5" fill="#1010ff"/><rect x="65.5" y="546.3" width="0.5" height="0.5" fill="#1010ff"/><rect x="49.9" y="551.4" width="0.5" height="0.5" fill="#1010ff"/><rect x="49.4" y="547" width="0.5" height="0.5" fill="#1010ff"/><rect x="45.1" y="557" width="0.5" height="0.5" fill="#1010ff"/><rect x="51" y="555" width="0.5" height="0.5" fill="#1010ff"/><rect x="61.7" y="546" width="0.5" height="0.5" fill="#1010ff"/><rect x="65.9" y="547.6" width="0.5" height="0.5" fill="#1010ff"/><rect x="57.4" y="541.5" width="0.5" height="0.5" fill="#1010ff"/><rect x="58.8" y="552.1" width="0.5" height="0.5" fill="#1010ff"/><rect x="64.3" y="551.4" width="0.5" height="0.5" fill="#1010ff"/><rect x="76.6" y="546" width="0.5" height="0.5" fill="#1010ff"/><rect x="81" y="535.9" width="0.5" height="0.5" fill="#1010ff"/><rect x="51.4" y="537.3" width="0.5" height="0.5" fill="#1010ff"/><rect x="67.7" y="546.4" width="0.5" height="0.5" fill="#1010ff"/><rect x="78.4" y="541.9" width="0.5" height="0.5" fill="#1010ff"/><rect x="55.3" y="551.6" width="0.5" height="0.5" fill="#1010ff"/><rect x="50.6" y="550.4" width="0.5" height="0.5" fill="#1010ff"/><rect x="56.2" y="548.9" width="0.5" height="0.5" fill="#1010ff"/><rect x="64.7" y="547.4" width="0.5" height="0.5" fill="#1010ff"/><rect x="58.7" y="543.4" width="0.5" height="0.5" fill="#1010ff"/><rect x="56" y="550.5" width="0.5" height="0.5" fill="#1010ff"/><rect x="70.3" y="544.8" width="0.5" height="0.5" fill="#1010ff"/><rect x="58.5" y="549.5" width="0.5" height="0.5" fill="#1010ff"/><rect x="64.6" y="547.6" width="0.5" height="0.5" fill="#1010ff"/><rect x="53.2" y="546.6" width="0.5" height="0.5" fill="#1010ff"/><rect x="71.8" y="546.5" width="0.5" height="0.5" fill="#1010ff"/><rect x="69.2" y="549.7" width="0.5" height="0.5" fill="#1010ff"/><rect x="58" y="543.1" width="0.5" height="0.5" fill="#1010ff"/><rect x="71.6" y="544.7" width="0.5" height="0.5" fill="#1010ff"/><rect x="58.7" y="552.8" width="0.5" height="0.5" fill="#1010ff"/><rect x="70.4" y="546.5" width="0.5" height="0.5" fill="#1010ff"/><rect x="63.4" y="541.9" width="0.5" height="0.5" fill="#1010ff"/><rect x="66.8" y="546.8" width="0.5" height="0.5" fill="#1010ff"/><rect x="58.1" y="551.2" width="0.5" height="0.5" fill="#1010ff"/><rect x="62" y="556.7" width="0.5" height="0.5" fill="#1010ff"/><rect x="59.9" y="548.8" width="0.5" height="0.5" fill="#1010ff"/><rect x="71.4" y="542.4" width="0.5" height="0.5" fill="#1010ff"/><rect x="70" y="545.1" width="0.5" height="0.5" fill="#1010ff"/><rect x="71.5" y="541.1" width="0.5" height="0.5" fill="#1010ff"/><rect x="60.9" y="539.7" width="0.5" height="0.5" fill="#1010ff"/><rect x="51.3" y="549.5" width="0.5" height="0.5" fill="#1010ff"/><rect x="65.3" y="555.9" width="0.5" height="0.5" fill="#1010ff"/><rect x="79.4" y="537" width="0.5" height="0.5" fill="#1010ff"/><rect x="48.4" y="556" width="0.5" height="0.5" fill="#1010ff"/><rect x="61.3" y="540.7" width="0.5" height="0.5" fill="#1010ff"/><rect x="62.2" y="541.7" width="0.5" height="0.5" fill="#1010ff"/><rect x="44.7" y="544.8" width="0.5" height="0.5" fill="#1010ff"/><rect x="61.8" y="546.7" width="0.5" height="0.5" fill="#1010ff"/><rect x="89" y="539.2" width="0.5" height="0.5" fill="#1010ff"/><rect x="54.8" y="547.4" width="0.5" height="0.5" fill="#1010ff"/><rect x="62.1" y="545.6" width="0.5" height="0.5" fill="#1010ff"/><rect x="75.5" y="542.9" width="0.5" height="0.5" fill="#1010ff"/><rect x="64.5" y="547.7" width="0.5" height="0.5" fill="#1010ff"/><rect x="45" y="546.1" width="0.5" height="0.5" fill="#1010ff"/><rect x="54.1" y="537.9" width="0.5" height="0.5" fill="#1010ff"/><rect x="57.3" y="548.5" width="0.5" height="0.5" fill="#1010ff"/><rect x="58.8" y="547.5" width="0.5" height="0.5" fill="#1010ff"/><rect x="61.2" y="545.6" width="0.5" height="0.5" fill="#1010ff"/><rect x="63.7" y="539" width="0.5" height="0.5" fill="#1010ff"/><rect x="67.9" y="541.7" width="0.5" height="0.5" fill="#1010ff"/><rect x="62.8" y="544.7" width="0.5" height="0.5" fill="#1010ff"/><rect x="50.8" y="545.8" width="0.5" height="0.5" fill="#1010ff"/><rect x="73.2" y="539.6" width="0.5" height="0.5" fill="#1010ff"/><rect x="60.4" y="547.7" width="0.5" height="0.5" fill="#1010ff"/><rect x="67.7" y="541" width="0.5" height="0.5" fill="#1010ff"/><rect x="65.6" y="549.9" width="0.5" height="0.5" fill="#1010ff"/><rect x="57.6" y="542.3" width="0.5" height="0.5" fill="#1010ff"/><rect x="81.7" y="543.6" width="0.5" height="0.5" fill="#1010ff"/><rect x="59.2" y="546" width="0.5" height="0.5" fill="#1010ff"/><rect x="44.6" y="549.6" width="0.5" height="0.5" fill="#1010ff"/><rect x="58.8" y="543.8" width="0.5" height="0.5" fill="#1010ff"/><rect x="59.6" y="553.1" width="0.5" height="0.5" fill="#1010ff"/><rect x="62.6" y="546.6" width="0.5" height="0.5" fill="#1010ff"/><rect x="71.4" y="549.5" width="0.5" height="0.5" fill="#1010ff"/><rect x="67.9" y="542.1" width="0.5" height="0.5" fill="#1010ff"/><rect x="57.4" y="546.4" width="0.5" height="0.5" fill="#1010ff"/><rect x="62.8" y="544.8" width="0.5" height="0.5" fill="#1010ff"/><rect x="71.8" y="553.5" width="0.5" height="0.5" fill="#1010ff"/><rect x="60.8" y="549.8" width="0.5" height="0.5" fill="#1010ff"/><rect x="45.3" y="550.8" width="0.5" height="0.5" fill="#1010ff"/><rect x="56.6" y="547.8" width="0.5" height="0.5" fill="#1010ff"/><rect x="52" y="554.8" width="0.5" height="0.5" fill="#1010ff"/><rect x="51.9" y="549.5" width="0.5" height="0.5" fill="#1010ff"/><rect x="59.6" y="556.9" width="0.5" height="0.5" fill="#1010ff"/><rect x="44.6" y="557.2" width="0.5" height="0.5" fill="#1010ff"/><rect x="74.9" y="543.8" width="0.5" height="0.5" fill="#1010ff"/><rect x="47.9" y="544.2" width="0.5" height="0.5" fill="#1010ff"/><rect x="59.8" y="541.2" width="0.5" height="0.5" fill="#1010ff"/><rect x="50.5" y="550.5" width="0.5" height="0.5" fill="#1010ff"/><rect x="57.7" y="543.6" width="0.5" height="0.5" fill="#1010ff"/><rect x="52.9" y="546.9" width="0.5" height="0.5" fill="#1010ff"/><rect x="63.5" y="548.1" width="0.5" height="0.5" fill="#1010ff"/><rect x="59.4" y="544.9" width="0.5" height="0.5" fill="#1010ff"/><rect x="66.6" y="543.5" width="0.5" height="0.5" fill="#1010ff"/><rect x="45.9" y="548.5" width="0.5" height="0.5" fill="#1010ff"/><rect x="52.6" y="547.7" width="0.5" height="0.5" fill="#1010ff"/><rect x="66.3" y="552.5" width="0.5" height="0.5" fill="#1010ff"/><rect x="52.7" y="552.7" width="0.5" height="0.5" fill="#1010ff"/><rect x="59.6" y="547.8" width="0.5" height="0.5" fill="#1010ff"/><rect x="79.5" y="540.6" width="0.5" height="0.5" fill="#1010ff"/><rect x="62.7" y="538.7" width="0.5" height="0.5" fill="#1010ff"/><rect x="64.1" y="545.9" width="0.5" height="0.5" fill="#1010ff"/><rect x="56.6" y="535.7" width="0.5" height="0.5" fill="#1010ff"/><rect x="71.9" y="549.7" width="0.5" height="0.5" fill="#1010ff"/><rect x="45.9" y="543.5" width="0.5" height="0.5" fill="#1010ff"/><rect x="72.1" y="540.5" width="0.5" height="0.5" fill="#1010ff"/><rect x="54.2" y="552" width="0.5" height="0.5" fill="#1010ff"/><rect x="49.8" y="555.7" width="0.5" height="0.5" fill="#1010ff"/><rect x="84.6" y="542.1" width="0.5" height="0.5" fill="#1010ff"/><rect x="47" y="553.2" width="0.5" height="0.5" fill="#1010ff"/><rect x="60.6" y="543.9" width="0.5" height="0.5" fill="#1010ff"/>
<g transform="rotate(-12 57 548.2)" filter="url(#fblur2)"><ellipse cx="57" cy="548.2" rx="14.5" ry="4" fill="#1818f0" opacity="0.85"/><ellipse cx="58.12" cy="548.2" rx="11.31" ry="3.12" fill="#1060ff" opacity="0.9"/><ellipse cx="59.03" cy="548.2" rx="8.7" ry="2.4" fill="#00b8f0" opacity="0.95"/><ellipse cx="59.79" cy="548.2" rx="6.53" ry="1.8" fill="#10d080" opacity="1"/><ellipse cx="60.45" cy="548.2" rx="4.64" ry="1.28" fill="#80e020" opacity="1"/><ellipse cx="61.06" cy="548.2" rx="2.9" ry="0.8" fill="#f0e000" opacity="1"/><ellipse cx="61.57" cy="548.2" rx="1.45" ry="0.4" fill="#ff6000" opacity="1"/></g>
</g>
<path d="M82 541.6H67V553.6H82" stroke="#666" stroke-width="0.5" fill="none"/>
<rect x="116.3" y="531.3" width="0.5" height="0.5" fill="#1010ff"/><rect x="108.6" y="537" width="0.5" height="0.5" fill="#1010ff"/><rect x="128.2" y="539.5" width="0.5" height="0.5" fill="#1010ff"/><rect x="128.5" y="534.6" width="0.5" height="0.5" fill="#1010ff"/><rect x="120" y="542" width="0.5" height="0.5" fill="#1010ff"/><rect x="110.3" y="551.6" width="0.5" height="0.5" fill="#1010ff"/><rect x="103.8" y="552.9" width="0.5" height="0.5" fill="#1010ff"/><rect x="123.9" y="541.6" width="0.5" height="0.5" fill="#1010ff"/><rect x="115.7" y="543" width="0.5" height="0.5" fill="#1010ff"/><rect x="116.9" y="542.6" width="0.5" height="0.5" fill="#1010ff"/><rect x="112.2" y="547" width="0.5" height="0.5" fill="#1010ff"/><rect x="136.6" y="532.4" width="0.5" height="0.5" fill="#1010ff"/><rect x="120.8" y="547.8" width="0.5" height="0.5" fill="#1010ff"/><rect x="135.7" y="531.4" width="0.5" height="0.5" fill="#1010ff"/><rect x="130.5" y="551.6" width="0.5" height="0.5" fill="#1010ff"/><rect x="121.8" y="539.2" width="0.5" height="0.5" fill="#1010ff"/><rect x="114.7" y="550.7" width="0.5" height="0.5" fill="#1010ff"/><rect x="120.1" y="545.8" width="0.5" height="0.5" fill="#1010ff"/><rect x="116.8" y="554.6" width="0.5" height="0.5" fill="#1010ff"/><rect x="131.6" y="536" width="0.5" height="0.5" fill="#1010ff"/><rect x="114.9" y="552.3" width="0.5" height="0.5" fill="#1010ff"/><rect x="118.4" y="538.2" width="0.5" height="0.5" fill="#1010ff"/><rect x="115.8" y="553.7" width="0.5" height="0.5" fill="#1010ff"/><rect x="115.1" y="545.2" width="0.5" height="0.5" fill="#1010ff"/><rect x="118.9" y="544.4" width="0.5" height="0.5" fill="#1010ff"/><rect x="111" y="537.5" width="0.5" height="0.5" fill="#1010ff"/><rect x="134.5" y="535.1" width="0.5" height="0.5" fill="#1010ff"/><rect x="111.6" y="556.2" width="0.5" height="0.5" fill="#1010ff"/><rect x="120" y="544" width="0.5" height="0.5" fill="#1010ff"/><rect x="134.1" y="548.9" width="0.5" height="0.5" fill="#1010ff"/><rect x="127.2" y="549.3" width="0.5" height="0.5" fill="#1010ff"/><rect x="134.6" y="526.9" width="0.5" height="0.5" fill="#1010ff"/><rect x="114.4" y="553" width="0.5" height="0.5" fill="#1010ff"/><rect x="132.7" y="541.9" width="0.5" height="0.5" fill="#1010ff"/><rect x="116.7" y="533.7" width="0.5" height="0.5" fill="#1010ff"/><rect x="141.4" y="532.6" width="0.5" height="0.5" fill="#1010ff"/><rect x="125.9" y="543" width="0.5" height="0.5" fill="#1010ff"/><rect x="108.2" y="550.5" width="0.5" height="0.5" fill="#1010ff"/><rect x="116.3" y="550.2" width="0.5" height="0.5" fill="#1010ff"/><rect x="122.7" y="543.8" width="0.5" height="0.5" fill="#1010ff"/><rect x="119.4" y="546.1" width="0.5" height="0.5" fill="#1010ff"/><rect x="128.5" y="537.2" width="0.5" height="0.5" fill="#1010ff"/><rect x="112.4" y="551.9" width="0.5" height="0.5" fill="#1010ff"/><rect x="108.2" y="554.1" width="0.5" height="0.5" fill="#1010ff"/><rect x="139.5" y="535.3" width="0.5" height="0.5" fill="#1010ff"/><rect x="128.7" y="539.4" width="0.5" height="0.5" fill="#1010ff"/><rect x="118.3" y="542.1" width="0.5" height="0.5" fill="#1010ff"/><rect x="106.8" y="537.1" width="0.5" height="0.5" fill="#1010ff"/><rect x="127.1" y="543.3" width="0.5" height="0.5" fill="#1010ff"/><rect x="132.8" y="545.2" width="0.5" height="0.5" fill="#1010ff"/><rect x="117.3" y="552.7" width="0.5" height="0.5" fill="#1010ff"/><rect x="135.8" y="532.8" width="0.5" height="0.5" fill="#1010ff"/><rect x="127" y="537.9" width="0.5" height="0.5" fill="#1010ff"/><rect x="109.4" y="552" width="0.5" height="0.5" fill="#1010ff"/><rect x="113.5" y="550.5" width="0.5" height="0.5" fill="#1010ff"/><rect x="129" y="535.3" width="0.5" height="0.5" fill="#1010ff"/><rect x="108.3" y="552.1" width="0.5" height="0.5" fill="#1010ff"/><rect x="124.8" y="543.3" width="0.5" height="0.5" fill="#1010ff"/><rect x="114.8" y="534.6" width="0.5" height="0.5" fill="#1010ff"/><rect x="114.6" y="537.7" width="0.5" height="0.5" fill="#1010ff"/><rect x="104.1" y="545.5" width="0.5" height="0.5" fill="#1010ff"/><rect x="118.4" y="552.5" width="0.5" height="0.5" fill="#1010ff"/><rect x="114.1" y="538" width="0.5" height="0.5" fill="#1010ff"/><rect x="106.2" y="546.5" width="0.5" height="0.5" fill="#1010ff"/><rect x="129.4" y="537.9" width="0.5" height="0.5" fill="#1010ff"/><rect x="121.6" y="552.6" width="0.5" height="0.5" fill="#1010ff"/><rect x="102.2" y="546.9" width="0.5" height="0.5" fill="#1010ff"/><rect x="112.6" y="556.8" width="0.5" height="0.5" fill="#1010ff"/><rect x="109.8" y="538.7" width="0.5" height="0.5" fill="#1010ff"/><rect x="123.6" y="534" width="0.5" height="0.5" fill="#1010ff"/><rect x="139.7" y="527.6" width="0.5" height="0.5" fill="#1010ff"/><rect x="104.8" y="553.6" width="0.5" height="0.5" fill="#1010ff"/><rect x="131.3" y="546.8" width="0.5" height="0.5" fill="#1010ff"/><rect x="125.8" y="537" width="0.5" height="0.5" fill="#1010ff"/><rect x="106.9" y="543.3" width="0.5" height="0.5" fill="#1010ff"/><rect x="114.4" y="543.8" width="0.5" height="0.5" fill="#1010ff"/><rect x="115.4" y="538.6" width="0.5" height="0.5" fill="#1010ff"/><rect x="109.1" y="545.6" width="0.5" height="0.5" fill="#1010ff"/><rect x="103.2" y="547.7" width="0.5" height="0.5" fill="#1010ff"/><rect x="122.9" y="542.5" width="0.5" height="0.5" fill="#1010ff"/><rect x="105.6" y="557.4" width="0.5" height="0.5" fill="#1010ff"/><rect x="124.5" y="550.6" width="0.5" height="0.5" fill="#1010ff"/><rect x="114.4" y="546.4" width="0.5" height="0.5" fill="#1010ff"/><rect x="110.6" y="551.3" width="0.5" height="0.5" fill="#1010ff"/><rect x="122.4" y="543.4" width="0.5" height="0.5" fill="#1010ff"/><rect x="116.3" y="550.3" width="0.5" height="0.5" fill="#1010ff"/><rect x="118.7" y="546.5" width="0.5" height="0.5" fill="#1010ff"/><rect x="108.5" y="553.4" width="0.5" height="0.5" fill="#1010ff"/><rect x="104.5" y="549.1" width="0.5" height="0.5" fill="#1010ff"/><rect x="125.3" y="554.4" width="0.5" height="0.5" fill="#1010ff"/><rect x="126.8" y="539.1" width="0.5" height="0.5" fill="#1010ff"/><rect x="118.4" y="551.7" width="0.5" height="0.5" fill="#1010ff"/><rect x="134.5" y="542" width="0.5" height="0.5" fill="#1010ff"/><rect x="115.8" y="548.1" width="0.5" height="0.5" fill="#1010ff"/><rect x="112.8" y="547" width="0.5" height="0.5" fill="#1010ff"/><rect x="107.8" y="550.8" width="0.5" height="0.5" fill="#1010ff"/><rect x="118.3" y="538.9" width="0.5" height="0.5" fill="#1010ff"/><rect x="118.2" y="536.4" width="0.5" height="0.5" fill="#1010ff"/><rect x="114.6" y="550.3" width="0.5" height="0.5" fill="#1010ff"/><rect x="104.5" y="549.9" width="0.5" height="0.5" fill="#1010ff"/><rect x="139.2" y="525.9" width="0.5" height="0.5" fill="#1010ff"/><rect x="108.2" y="548.3" width="0.5" height="0.5" fill="#1010ff"/><rect x="117.2" y="545.7" width="0.5" height="0.5" fill="#1010ff"/><rect x="129.2" y="542.8" width="0.5" height="0.5" fill="#1010ff"/><rect x="111.9" y="547.2" width="0.5" height="0.5" fill="#1010ff"/><rect x="112" y="554.4" width="0.5" height="0.5" fill="#1010ff"/><rect x="120.7" y="548.8" width="0.5" height="0.5" fill="#1010ff"/><rect x="125.8" y="538.8" width="0.5" height="0.5" fill="#1010ff"/><rect x="136" y="529.1" width="0.5" height="0.5" fill="#1010ff"/><rect x="109.5" y="548.4" width="0.5" height="0.5" fill="#1010ff"/><rect x="127.8" y="537.5" width="0.5" height="0.5" fill="#1010ff"/><rect x="111.1" y="553.1" width="0.5" height="0.5" fill="#1010ff"/><rect x="127.8" y="537.7" width="0.5" height="0.5" fill="#1010ff"/><rect x="117.9" y="552.6" width="0.5" height="0.5" fill="#1010ff"/><rect x="129.7" y="543.5" width="0.5" height="0.5" fill="#1010ff"/><rect x="110.4" y="552.5" width="0.5" height="0.5" fill="#1010ff"/><rect x="114.9" y="535.4" width="0.5" height="0.5" fill="#1010ff"/><rect x="129.2" y="538.2" width="0.5" height="0.5" fill="#1010ff"/><rect x="116.2" y="541.7" width="0.5" height="0.5" fill="#1010ff"/><rect x="118.2" y="549" width="0.5" height="0.5" fill="#1010ff"/><rect x="124.8" y="540.1" width="0.5" height="0.5" fill="#1010ff"/><rect x="106.3" y="548.8" width="0.5" height="0.5" fill="#1010ff"/><rect x="105.6" y="546.9" width="0.5" height="0.5" fill="#1010ff"/><rect x="115.2" y="543.9" width="0.5" height="0.5" fill="#1010ff"/><rect x="114.9" y="541.9" width="0.5" height="0.5" fill="#1010ff"/><rect x="107.9" y="551.1" width="0.5" height="0.5" fill="#1010ff"/><rect x="117.2" y="553.6" width="0.5" height="0.5" fill="#1010ff"/><rect x="108.8" y="553.2" width="0.5" height="0.5" fill="#1010ff"/><rect x="112.5" y="540.4" width="0.5" height="0.5" fill="#1010ff"/><rect x="124.7" y="541.8" width="0.5" height="0.5" fill="#1010ff"/><rect x="123.7" y="535.9" width="0.5" height="0.5" fill="#1010ff"/><rect x="134.1" y="535" width="0.5" height="0.5" fill="#1010ff"/><rect x="107.4" y="556.5" width="0.5" height="0.5" fill="#1010ff"/><rect x="109.2" y="542.4" width="0.5" height="0.5" fill="#1010ff"/><rect x="111.8" y="554" width="0.5" height="0.5" fill="#1010ff"/><rect x="119.2" y="541" width="0.5" height="0.5" fill="#1010ff"/>
<g transform="rotate(-35 117 546)" filter="url(#fblur2)"><ellipse cx="117" cy="546" rx="14" ry="5" fill="#1818f0" opacity="0.85"/><ellipse cx="118.08" cy="546" rx="10.92" ry="3.9" fill="#1060ff" opacity="0.9"/><ellipse cx="118.96" cy="546" rx="8.4" ry="3" fill="#00b8f0" opacity="0.95"/><ellipse cx="119.69" cy="546" rx="6.3" ry="2.25" fill="#10d080" opacity="1"/><ellipse cx="120.33" cy="546" rx="4.48" ry="1.6" fill="#80e020" opacity="1"/><ellipse cx="120.92" cy="546" rx="2.8" ry="1" fill="#f0e000" opacity="1"/><ellipse cx="121.41" cy="546" rx="1.4" ry="0.5" fill="#ff6000" opacity="1"/></g>
<path d="M147 536.4H127.6V553.4H147" stroke="#666" stroke-width="0.5" fill="none"/>
<rect x="166.1" y="525.5" width="0.5" height="0.5" fill="#1010ff"/><rect x="169.4" y="548.8" width="0.5" height="0.5" fill="#1010ff"/><rect x="186.7" y="527.1" width="0.5" height="0.5" fill="#1010ff"/><rect x="185.7" y="554.1" width="0.5" height="0.5" fill="#1010ff"/><rect x="166.6" y="536.1" width="0.5" height="0.5" fill="#1010ff"/><rect x="160.8" y="552.7" width="0.5" height="0.5" fill="#1010ff"/><rect x="187.1" y="544" width="0.5" height="0.5" fill="#1010ff"/><rect x="171.8" y="534" width="0.5" height="0.5" fill="#1010ff"/><rect x="168.7" y="527.6" width="0.5" height="0.5" fill="#1010ff"/><rect x="173.6" y="531.7" width="0.5" height="0.5" fill="#1010ff"/><rect x="194" y="532.8" width="0.5" height="0.5" fill="#1010ff"/><rect x="170.6" y="531.4" width="0.5" height="0.5" fill="#1010ff"/><rect x="182" y="538" width="0.5" height="0.5" fill="#1010ff"/><rect x="166.2" y="542.4" width="0.5" height="0.5" fill="#1010ff"/><rect x="182.2" y="526.6" width="0.5" height="0.5" fill="#1010ff"/><rect x="188.5" y="545.2" width="0.5" height="0.5" fill="#1010ff"/><rect x="178.4" y="527.5" width="0.5" height="0.5" fill="#1010ff"/><rect x="158.7" y="542.6" width="0.5" height="0.5" fill="#1010ff"/><rect x="164" y="516.7" width="0.5" height="0.5" fill="#1010ff"/><rect x="183.6" y="533.2" width="0.5" height="0.5" fill="#1010ff"/><rect x="165.9" y="544.4" width="0.5" height="0.5" fill="#1010ff"/><rect x="170.4" y="543.1" width="0.5" height="0.5" fill="#1010ff"/><rect x="176.1" y="527.6" width="0.5" height="0.5" fill="#1010ff"/><rect x="190.8" y="536.6" width="0.5" height="0.5" fill="#1010ff"/><rect x="177.4" y="547.1" width="0.5" height="0.5" fill="#1010ff"/><rect x="171.1" y="546.5" width="0.5" height="0.5" fill="#1010ff"/><rect x="192.9" y="548" width="0.5" height="0.5" fill="#1010ff"/><rect x="173.5" y="540.6" width="0.5" height="0.5" fill="#1010ff"/><rect x="173.9" y="539.6" width="0.5" height="0.5" fill="#1010ff"/><rect x="165.9" y="543.3" width="0.5" height="0.5" fill="#1010ff"/><rect x="174.3" y="551.9" width="0.5" height="0.5" fill="#1010ff"/><rect x="185.3" y="533.8" width="0.5" height="0.5" fill="#1010ff"/><rect x="167.6" y="535.2" width="0.5" height="0.5" fill="#1010ff"/><rect x="180.3" y="533.4" width="0.5" height="0.5" fill="#1010ff"/><rect x="189.6" y="519.6" width="0.5" height="0.5" fill="#1010ff"/><rect x="169.4" y="530.8" width="0.5" height="0.5" fill="#1010ff"/><rect x="164.9" y="557.2" width="0.5" height="0.5" fill="#1010ff"/><rect x="173.8" y="545.7" width="0.5" height="0.5" fill="#1010ff"/><rect x="169.2" y="536.4" width="0.5" height="0.5" fill="#1010ff"/><rect x="177.1" y="541.2" width="0.5" height="0.5" fill="#1010ff"/><rect x="189.2" y="537.6" width="0.5" height="0.5" fill="#1010ff"/><rect x="175.3" y="549.2" width="0.5" height="0.5" fill="#1010ff"/><rect x="182.1" y="547.5" width="0.5" height="0.5" fill="#1010ff"/><rect x="176.1" y="525.9" width="0.5" height="0.5" fill="#1010ff"/><rect x="182.1" y="549" width="0.5" height="0.5" fill="#1010ff"/><rect x="171.2" y="546.6" width="0.5" height="0.5" fill="#1010ff"/><rect x="174.4" y="550.4" width="0.5" height="0.5" fill="#1010ff"/><rect x="171.4" y="533.2" width="0.5" height="0.5" fill="#1010ff"/><rect x="178.6" y="530.2" width="0.5" height="0.5" fill="#1010ff"/><rect x="165.7" y="544.4" width="0.5" height="0.5" fill="#1010ff"/><rect x="172.6" y="553.9" width="0.5" height="0.5" fill="#1010ff"/><rect x="163.8" y="521.4" width="0.5" height="0.5" fill="#1010ff"/><rect x="175.5" y="541.9" width="0.5" height="0.5" fill="#1010ff"/><rect x="173.2" y="544.7" width="0.5" height="0.5" fill="#1010ff"/><rect x="190.7" y="527" width="0.5" height="0.5" fill="#1010ff"/><rect x="192" y="535.8" width="0.5" height="0.5" fill="#1010ff"/><rect x="174.7" y="537.2" width="0.5" height="0.5" fill="#1010ff"/><rect x="198.1" y="546.6" width="0.5" height="0.5" fill="#1010ff"/><rect x="163.8" y="544.4" width="0.5" height="0.5" fill="#1010ff"/><rect x="165.1" y="526.7" width="0.5" height="0.5" fill="#1010ff"/><rect x="166.5" y="552" width="0.5" height="0.5" fill="#1010ff"/><rect x="185.1" y="537.1" width="0.5" height="0.5" fill="#1010ff"/><rect x="189.7" y="539.6" width="0.5" height="0.5" fill="#1010ff"/><rect x="169" y="543" width="0.5" height="0.5" fill="#1010ff"/><rect x="170.2" y="542" width="0.5" height="0.5" fill="#1010ff"/><rect x="190.3" y="535.6" width="0.5" height="0.5" fill="#1010ff"/><rect x="195.2" y="536.7" width="0.5" height="0.5" fill="#1010ff"/><rect x="189.5" y="533.9" width="0.5" height="0.5" fill="#1010ff"/><rect x="181.4" y="516.6" width="0.5" height="0.5" fill="#1010ff"/><rect x="176.9" y="528.8" width="0.5" height="0.5" fill="#1010ff"/><rect x="200.4" y="537.2" width="0.5" height="0.5" fill="#1010ff"/><rect x="178" y="528.9" width="0.5" height="0.5" fill="#1010ff"/><rect x="168.9" y="532.7" width="0.5" height="0.5" fill="#1010ff"/><rect x="184.1" y="552.8" width="0.5" height="0.5" fill="#1010ff"/><rect x="193.1" y="529.6" width="0.5" height="0.5" fill="#1010ff"/><rect x="180.6" y="532.6" width="0.5" height="0.5" fill="#1010ff"/><rect x="177" y="536.4" width="0.5" height="0.5" fill="#1010ff"/><rect x="174.5" y="532.4" width="0.5" height="0.5" fill="#1010ff"/><rect x="181.6" y="529.9" width="0.5" height="0.5" fill="#1010ff"/><rect x="175.9" y="538.2" width="0.5" height="0.5" fill="#1010ff"/><rect x="194.3" y="531.8" width="0.5" height="0.5" fill="#1010ff"/><rect x="161.9" y="542.8" width="0.5" height="0.5" fill="#1010ff"/><rect x="180.7" y="536.1" width="0.5" height="0.5" fill="#1010ff"/><rect x="174.9" y="544.5" width="0.5" height="0.5" fill="#1010ff"/><rect x="187.9" y="524.5" width="0.5" height="0.5" fill="#1010ff"/><rect x="183.2" y="524.2" width="0.5" height="0.5" fill="#1010ff"/><rect x="175.6" y="545.1" width="0.5" height="0.5" fill="#1010ff"/><rect x="171" y="538.6" width="0.5" height="0.5" fill="#1010ff"/><rect x="164.2" y="549.1" width="0.5" height="0.5" fill="#1010ff"/><rect x="172" y="544.8" width="0.5" height="0.5" fill="#1010ff"/><rect x="187.5" y="534" width="0.5" height="0.5" fill="#1010ff"/><rect x="186.2" y="531.1" width="0.5" height="0.5" fill="#1010ff"/><rect x="183.5" y="540.5" width="0.5" height="0.5" fill="#1010ff"/><rect x="188.5" y="540.2" width="0.5" height="0.5" fill="#1010ff"/><rect x="174" y="548.9" width="0.5" height="0.5" fill="#1010ff"/><rect x="185.9" y="546.5" width="0.5" height="0.5" fill="#1010ff"/><rect x="178" y="529.3" width="0.5" height="0.5" fill="#1010ff"/><rect x="183.9" y="541.2" width="0.5" height="0.5" fill="#1010ff"/><rect x="185" y="548.1" width="0.5" height="0.5" fill="#1010ff"/><rect x="168.3" y="530.6" width="0.5" height="0.5" fill="#1010ff"/><rect x="183.5" y="542.8" width="0.5" height="0.5" fill="#1010ff"/><rect x="174" y="552.9" width="0.5" height="0.5" fill="#1010ff"/><rect x="160.6" y="551.4" width="0.5" height="0.5" fill="#1010ff"/><rect x="162.5" y="535.4" width="0.5" height="0.5" fill="#1010ff"/><rect x="171.1" y="532.4" width="0.5" height="0.5" fill="#1010ff"/><rect x="189.3" y="541.4" width="0.5" height="0.5" fill="#1010ff"/><rect x="174.6" y="544.9" width="0.5" height="0.5" fill="#1010ff"/><rect x="190.9" y="528.1" width="0.5" height="0.5" fill="#1010ff"/><rect x="191.8" y="536.1" width="0.5" height="0.5" fill="#1010ff"/><rect x="185.2" y="537.1" width="0.5" height="0.5" fill="#1010ff"/><rect x="186.5" y="530.9" width="0.5" height="0.5" fill="#1010ff"/><rect x="171.3" y="535.3" width="0.5" height="0.5" fill="#1010ff"/><rect x="180.4" y="550.4" width="0.5" height="0.5" fill="#1010ff"/><rect x="189.9" y="541.9" width="0.5" height="0.5" fill="#1010ff"/><rect x="180.2" y="539.7" width="0.5" height="0.5" fill="#1010ff"/><rect x="177.3" y="537.8" width="0.5" height="0.5" fill="#1010ff"/><rect x="180.8" y="522.4" width="0.5" height="0.5" fill="#1010ff"/><rect x="158.9" y="539.2" width="0.5" height="0.5" fill="#1010ff"/><rect x="166.4" y="541.5" width="0.5" height="0.5" fill="#1010ff"/><rect x="171.7" y="548.4" width="0.5" height="0.5" fill="#1010ff"/><rect x="174.1" y="522.5" width="0.5" height="0.5" fill="#1010ff"/><rect x="171.4" y="535.4" width="0.5" height="0.5" fill="#1010ff"/><rect x="166.9" y="544.5" width="0.5" height="0.5" fill="#1010ff"/><rect x="166.8" y="527.4" width="0.5" height="0.5" fill="#1010ff"/><rect x="187.1" y="525.9" width="0.5" height="0.5" fill="#1010ff"/><rect x="189.2" y="534.9" width="0.5" height="0.5" fill="#1010ff"/><rect x="183.8" y="533.3" width="0.5" height="0.5" fill="#1010ff"/><rect x="201" y="533.8" width="0.5" height="0.5" fill="#1010ff"/><rect x="195.4" y="522.4" width="0.5" height="0.5" fill="#1010ff"/><rect x="180.6" y="529.4" width="0.5" height="0.5" fill="#1010ff"/><rect x="174.2" y="537.8" width="0.5" height="0.5" fill="#1010ff"/><rect x="176.5" y="540.8" width="0.5" height="0.5" fill="#1010ff"/><rect x="175.7" y="540.6" width="0.5" height="0.5" fill="#1010ff"/><rect x="173.9" y="536.8" width="0.5" height="0.5" fill="#1010ff"/><rect x="166.6" y="544.8" width="0.5" height="0.5" fill="#1010ff"/><rect x="186.1" y="539" width="0.5" height="0.5" fill="#1010ff"/><rect x="202" y="545.3" width="0.5" height="0.5" fill="#1010ff"/><rect x="173.5" y="555.8" width="0.5" height="0.5" fill="#1010ff"/><rect x="160.8" y="549.9" width="0.5" height="0.5" fill="#1010ff"/><rect x="169.5" y="549" width="0.5" height="0.5" fill="#1010ff"/><rect x="197.2" y="537.6" width="0.5" height="0.5" fill="#1010ff"/><rect x="185.4" y="543.5" width="0.5" height="0.5" fill="#1010ff"/><rect x="170" y="529.2" width="0.5" height="0.5" fill="#1010ff"/><rect x="184.5" y="521.2" width="0.5" height="0.5" fill="#1010ff"/><rect x="170.7" y="545.5" width="0.5" height="0.5" fill="#1010ff"/><rect x="163" y="546.2" width="0.5" height="0.5" fill="#1010ff"/><rect x="174.6" y="527.9" width="0.5" height="0.5" fill="#1010ff"/><rect x="176.2" y="534.5" width="0.5" height="0.5" fill="#1010ff"/><rect x="181.9" y="518.4" width="0.5" height="0.5" fill="#1010ff"/><rect x="174.3" y="531.4" width="0.5" height="0.5" fill="#1010ff"/><rect x="178.8" y="544.3" width="0.5" height="0.5" fill="#1010ff"/><rect x="175" y="542.1" width="0.5" height="0.5" fill="#1010ff"/><rect x="176.7" y="544.7" width="0.5" height="0.5" fill="#1010ff"/><rect x="176.7" y="536.2" width="0.5" height="0.5" fill="#1010ff"/><rect x="174.5" y="546.7" width="0.5" height="0.5" fill="#1010ff"/><rect x="180.5" y="519.7" width="0.5" height="0.5" fill="#1010ff"/><rect x="159.8" y="555.9" width="0.5" height="0.5" fill="#1010ff"/><rect x="168" y="550.4" width="0.5" height="0.5" fill="#1010ff"/><rect x="189.7" y="522.5" width="0.5" height="0.5" fill="#1010ff"/><rect x="180.4" y="537.7" width="0.5" height="0.5" fill="#1010ff"/><rect x="189.5" y="536.3" width="0.5" height="0.5" fill="#1010ff"/><rect x="170" y="538.6" width="0.5" height="0.5" fill="#1010ff"/><rect x="171" y="545.5" width="0.5" height="0.5" fill="#1010ff"/><rect x="204.3" y="527.1" width="0.5" height="0.5" fill="#1010ff"/><rect x="169.7" y="540.8" width="0.5" height="0.5" fill="#1010ff"/><rect x="175.6" y="547.1" width="0.5" height="0.5" fill="#1010ff"/><rect x="181.4" y="541.7" width="0.5" height="0.5" fill="#1010ff"/><rect x="166.5" y="535.1" width="0.5" height="0.5" fill="#1010ff"/><rect x="189.7" y="536.3" width="0.5" height="0.5" fill="#1010ff"/><rect x="184.1" y="526.5" width="0.5" height="0.5" fill="#1010ff"/><rect x="177.4" y="532" width="0.5" height="0.5" fill="#1010ff"/><rect x="191.5" y="521.6" width="0.5" height="0.5" fill="#1010ff"/><rect x="204" y="515.1" width="0.5" height="0.5" fill="#1010ff"/><rect x="173" y="544.8" width="0.5" height="0.5" fill="#1010ff"/><rect x="184.4" y="552.8" width="0.5" height="0.5" fill="#1010ff"/><rect x="173.4" y="556.4" width="0.5" height="0.5" fill="#1010ff"/><rect x="195.2" y="533.5" width="0.5" height="0.5" fill="#1010ff"/><rect x="190.6" y="539.7" width="0.5" height="0.5" fill="#1010ff"/><rect x="168.5" y="551.6" width="0.5" height="0.5" fill="#1010ff"/><rect x="185.8" y="530.4" width="0.5" height="0.5" fill="#1010ff"/><rect x="174.1" y="536.3" width="0.5" height="0.5" fill="#1010ff"/><rect x="174.2" y="542.7" width="0.5" height="0.5" fill="#1010ff"/><rect x="195.2" y="515.5" width="0.5" height="0.5" fill="#1010ff"/><rect x="163.7" y="539.5" width="0.5" height="0.5" fill="#1010ff"/><rect x="180.2" y="538" width="0.5" height="0.5" fill="#1010ff"/><rect x="158.8" y="535.4" width="0.5" height="0.5" fill="#1010ff"/><rect x="189.7" y="521.5" width="0.5" height="0.5" fill="#1010ff"/><rect x="171.5" y="549.5" width="0.5" height="0.5" fill="#1010ff"/><rect x="166.2" y="548" width="0.5" height="0.5" fill="#1010ff"/><rect x="172.4" y="539.8" width="0.5" height="0.5" fill="#1010ff"/><rect x="164.2" y="532.4" width="0.5" height="0.5" fill="#1010ff"/><rect x="174.1" y="541.2" width="0.5" height="0.5" fill="#1010ff"/><rect x="175.9" y="528.2" width="0.5" height="0.5" fill="#1010ff"/><rect x="169.3" y="545.8" width="0.5" height="0.5" fill="#1010ff"/><rect x="176.6" y="539.7" width="0.5" height="0.5" fill="#1010ff"/><rect x="182.6" y="544" width="0.5" height="0.5" fill="#1010ff"/><rect x="178.6" y="540.9" width="0.5" height="0.5" fill="#1010ff"/><rect x="162.2" y="533.8" width="0.5" height="0.5" fill="#1010ff"/><rect x="175.7" y="533.3" width="0.5" height="0.5" fill="#1010ff"/><rect x="164" y="534.7" width="0.5" height="0.5" fill="#1010ff"/><rect x="196.5" y="531.3" width="0.5" height="0.5" fill="#1010ff"/><rect x="175.4" y="547.8" width="0.5" height="0.5" fill="#1010ff"/><rect x="197.2" y="544.8" width="0.5" height="0.5" fill="#1010ff"/><rect x="183.4" y="545.1" width="0.5" height="0.5" fill="#1010ff"/><rect x="165.9" y="547.9" width="0.5" height="0.5" fill="#1010ff"/><rect x="170.6" y="541.1" width="0.5" height="0.5" fill="#1010ff"/><rect x="169.6" y="555.7" width="0.5" height="0.5" fill="#1010ff"/><rect x="160.4" y="544.9" width="0.5" height="0.5" fill="#1010ff"/><rect x="183.8" y="551.1" width="0.5" height="0.5" fill="#1010ff"/><rect x="182.5" y="529.1" width="0.5" height="0.5" fill="#1010ff"/><rect x="180.5" y="545.8" width="0.5" height="0.5" fill="#1010ff"/><rect x="180.5" y="532.2" width="0.5" height="0.5" fill="#1010ff"/><rect x="171.3" y="551.7" width="0.5" height="0.5" fill="#1010ff"/><rect x="184.5" y="528.8" width="0.5" height="0.5" fill="#1010ff"/><rect x="176.2" y="534.4" width="0.5" height="0.5" fill="#1010ff"/><rect x="183.2" y="551.9" width="0.5" height="0.5" fill="#1010ff"/><rect x="179.8" y="554.9" width="0.5" height="0.5" fill="#1010ff"/><rect x="171.7" y="544.7" width="0.5" height="0.5" fill="#1010ff"/><rect x="186.5" y="537.4" width="0.5" height="0.5" fill="#1010ff"/><rect x="169.2" y="546" width="0.5" height="0.5" fill="#1010ff"/><rect x="175.3" y="541.3" width="0.5" height="0.5" fill="#1010ff"/><rect x="180.5" y="547" width="0.5" height="0.5" fill="#1010ff"/><rect x="173.1" y="555.9" width="0.5" height="0.5" fill="#1010ff"/><rect x="173.5" y="524.3" width="0.5" height="0.5" fill="#1010ff"/><rect x="168.8" y="536.5" width="0.5" height="0.5" fill="#1010ff"/>
<g transform="rotate(-50 175 541)" filter="url(#fblur2)"><ellipse cx="175" cy="541" rx="11" ry="6.5" fill="#3030ff" opacity="0.55"/><ellipse cx="175.96" cy="541" rx="8.25" ry="4.88" fill="#2070ff" opacity="0.6"/><ellipse cx="176.93" cy="541" rx="5.5" ry="3.25" fill="#00b0f0" opacity="0.7"/><ellipse cx="177.69" cy="541" rx="3.3" ry="1.95" fill="#20c8a0" opacity="0.7"/></g>
<rect x="185.4" y="528.6" width="21" height="22" fill="none" stroke="#666" stroke-width="0.5"/>
<text x="69" y="462.67" font-size="6.35" font-weight="bold">0.21%</text>
<text x="127.6" y="462.85" font-size="6.84" font-weight="bold">0.14%</text>
<text x="186" y="462.8" font-size="6.7" font-weight="bold">0.12%</text>
<text x="65.4" y="515.94" font-size="6.55" font-weight="bold">12.07%</text>
<text x="128" y="515.85" font-size="6.84" font-weight="bold">4.87%</text>
<text x="186" y="515.8" font-size="6.7" font-weight="bold">6.12%</text>
<text x="41" y="474.8" font-size="6.7" text-anchor="end" fill="#222">Mock</text>
<text x="37" y="532.89" font-size="6.4" text-anchor="end" fill="#222">SP</text>
<path d="M35.6 566V549M34.4 551l1.2-2.2 1.2 2.2M35.6 566H51.6M49.4 564.8l2.2 1.2-2.2 1.2" stroke="#333" stroke-width="0.5" fill="none"/>
<text x="31.2" y="559.22" font-size="3.4" text-anchor="middle" fill="#333" transform="rotate(-90 31.2 558)">SSA</text>
<text x="41.5" y="570.82" font-size="3.4" text-anchor="middle" fill="#333">GFP</text>
<text x="224.6" y="441.4" font-size="9.5" font-weight="bold">H</text>
<text x="310.4" y="439.36" font-size="6.6" text-anchor="middle" font-weight="bold">MC38</text>
<text x="430.5" y="439.36" font-size="6.6" text-anchor="middle" font-weight="bold">HCT116</text>
<text x="543.2" y="439.36" font-size="6.6" text-anchor="middle" font-weight="bold">OE19</text>
<text x="238.6" y="474.97" font-size="6.61" fill="#222">Mock</text>
<text x="241.6" y="524.89" font-size="6.4" fill="#222">SP</text>
<clipPath id="ch1"><rect x="258" y="445" width="54.7" height="56"/></clipPath>
<g clip-path="url(#ch1)"><rect x="258" y="445" width="54.7" height="56" fill="#cbcbcb"/><ellipse cx="285.6" cy="472.6" rx="22" ry="27" fill="#b4b4b4" transform="rotate(-15 285.6 472.6)" stroke="#8a8a8a" stroke-width="1.2"/><ellipse cx="284" cy="478" rx="15" ry="16" fill="none" stroke="#808080" stroke-width="0.8"/><ellipse cx="283" cy="479" rx="6" ry="3.2" fill="#5a5a5a" transform="rotate(-5 283 479)"/><g filter="url(#ftemin)" opacity="0.75"><ellipse cx="285.6" cy="472.6" rx="22" ry="27" fill="#000" transform="rotate(-15 285.6 472.6)"/></g><rect x="258" y="445" width="54.7" height="56" fill="#000" filter="url(#ftem)" opacity="0.25"/></g>
<clipPath id="ch2"><rect x="312.7" y="445" width="55.9" height="56"/></clipPath>
<g clip-path="url(#ch2)"><rect x="312.7" y="445" width="55.9" height="56" fill="#bcbcbc"/><path d="M312 488q20-10 57-12" stroke="#404040" stroke-width="1.6" fill="none"/><path d="M312 482q15-8 35-6" stroke="#808080" stroke-width="1" fill="none"/><ellipse cx="358.5" cy="467.6" rx="5" ry="4.8" fill="#808080" stroke="#505050" stroke-width="0.8"/><ellipse cx="330" cy="460" rx="6" ry="3" fill="#a0a0a0"/><ellipse cx="345" cy="492" rx="8" ry="4" fill="#a0a0a0"/><rect x="312.7" y="445" width="55.9" height="56" fill="#000" filter="url(#ftem2)" opacity="0.75"/></g>
<clipPath id="ch3"><rect x="258" y="501" width="54.7" height="55.6"/></clipPath>
<g clip-path="url(#ch3)"><rect x="258" y="501" width="54.7" height="55.6" fill="#cdcdcd"/><ellipse cx="280.6" cy="527" rx="22" ry="26" fill="#b0b0b0" stroke="#7a7a7a" stroke-width="1"/><ellipse cx="282" cy="522" rx="17" ry="18" fill="none" stroke="#909090" stroke-width="0.6"/><ellipse cx="273.5" cy="533.6" rx="4" ry="6.5" fill="#707070"/><ellipse cx="306" cy="509" rx="8" ry="6" fill="#8a8a8a"/><g filter="url(#ftemin)" opacity="0.75"><ellipse cx="280.6" cy="527" rx="22" ry="26" fill="#000"/><ellipse cx="306" cy="509" rx="8" ry="6" fill="#000"/></g><rect x="258" y="501" width="54.7" height="55.6" fill="#000" filter="url(#ftem)" opacity="0.25"/></g>
<clipPath id="ch4"><rect x="312.7" y="501" width="55.9" height="55.6"/></clipPath>
<g clip-path="url(#ch4)"><rect x="312.7" y="501" width="55.9" height="55.6" fill="#c6c6c6"/><path d="M369 505 Q362 540 338 557 L369 557Z" fill="#dadada"/><ellipse cx="349" cy="532.8" rx="11" ry="6.5" fill="#7e7e7e" transform="rotate(-35 349 532.8)" stroke="#505050" stroke-width="1"/><ellipse cx="349" cy="533" rx="5" ry="2.5" fill="#5a5a5a" transform="rotate(-35 349 533)"/><ellipse cx="330" cy="512" rx="9" ry="5" fill="#a8a8a8" transform="rotate(-30 330 512)"/><path d="M330 540q6-4 12 2l-2 6q-6 2-10-2z" fill="#e2e2e2"/><rect x="312.7" y="501" width="55.9" height="55.6" fill="#000" filter="url(#ftem2)" opacity="0.7"/></g>
<path d="M337.5 534.4L335.2 532.3L335.2 533.6L333.3 533.6L333.3 535.2L335.2 535.2L335.2 536.5Z" fill="#f01818"/>
<clipPath id="ch5"><rect x="373" y="445" width="55.6" height="56"/></clipPath>
<g clip-path="url(#ch5)"><rect x="373" y="445" width="55.6" height="56" fill="#c4c4c4"/><rect x="373" y="485" width="56" height="16" fill="#b0b0b0"/><ellipse cx="401.5" cy="472.6" rx="23" ry="19.5" fill="#707070" transform="rotate(10 401.5 472.6)"/><ellipse cx="407" cy="470" rx="14" ry="13" fill="#7a7a7a"/><g filter="url(#ftemin)" opacity="0.75"><ellipse cx="401.5" cy="472.6" rx="23" ry="19.5" fill="#000" transform="rotate(10 401.5 472.6)"/><rect x="373" y="485" width="56" height="16" fill="#000"/></g><rect x="373" y="445" width="55.6" height="56" fill="#000" filter="url(#ftem)" opacity="0.3"/></g>
<clipPath id="ch6"><rect x="428.6" y="445" width="55.5" height="56"/></clipPath>
<g clip-path="url(#ch6)"><rect x="428.6" y="445" width="55.5" height="56" fill="#9c9c9c"/><ellipse cx="438.7" cy="492" rx="7.5" ry="7" fill="#6a6a6a" stroke="#505050" stroke-width="0.8"/><ellipse cx="452.3" cy="461.6" rx="3.5" ry="7" fill="#6a6a6a" transform="rotate(-25 452.3 461.6)"/><ellipse cx="458" cy="484" rx="3" ry="3" fill="#555"/><ellipse cx="470" cy="470" rx="12" ry="16" fill="#a4a4a4"/><rect x="428.6" y="445" width="55.5" height="56" fill="#000" filter="url(#ftem2)" opacity="0.75"/></g>
<clipPath id="ch7"><rect x="373" y="501" width="55.6" height="55.6"/></clipPath>
<g clip-path="url(#ch7)"><rect x="373" y="501" width="55.6" height="55.6" fill="#c0c0c0"/><ellipse cx="403" cy="528.5" rx="25" ry="23" fill="#6c6c6c" transform="rotate(10 403 528.5)"/><ellipse cx="410" cy="527" rx="10" ry="10" fill="#7a7a7a"/><ellipse cx="425" cy="552" rx="7" ry="8" fill="#505050"/><g filter="url(#ftemin)" opacity="0.75"><ellipse cx="403" cy="528.5" rx="25" ry="23" fill="#000" transform="rotate(10 403 528.5)"/></g><rect x="373" y="501" width="55.6" height="55.6" fill="#000" filter="url(#ftem)" opacity="0.3"/></g>
<clipPath id="ch8"><rect x="428.6" y="501" width="55.5" height="55.6"/></clipPath>
<g clip-path="url(#ch8)"><rect x="428.6" y="501" width="55.5" height="55.6" fill="#7e7e7e"/><ellipse cx="445.5" cy="531.9" rx="7" ry="7.5" fill="#a4a4a4" stroke="#4a4a4a" stroke-width="1.6"/><ellipse cx="459.9" cy="526" rx="6" ry="6.5" fill="#a4a4a4" stroke="#4a4a4a" stroke-width="1.6"/><ellipse cx="466.7" cy="538.7" rx="6" ry="6" fill="#949494" stroke="#4a4a4a" stroke-width="1.6"/><ellipse cx="437" cy="522" rx="2" ry="2" fill="#e4e4e4"/><ellipse cx="476" cy="520" rx="7" ry="8" fill="#b0b0b0"/><rect x="428.6" y="501" width="55.5" height="55.6" fill="#000" filter="url(#ftem2)" opacity="0.7"/></g>
<path d="M452.6 522.2L450.3 520.1L450.3 521.4L448.4 521.4L448.4 523L450.3 523L450.3 524.3Z" fill="#f01818"/>
<path d="M437.2 535.3L434.9 533.2L434.9 534.5L433 534.5L433 536.1L434.9 536.1L434.9 537.4Z" fill="#f01818"/>
<path d="M461.2 540L458.9 537.9L458.9 539.2L457 539.2L457 540.8L458.9 540.8L458.9 542.1Z" fill="#f01818"/>
<clipPath id="ch9"><rect x="488.5" y="445" width="55.1" height="56"/></clipPath>
<g clip-path="url(#ch9)"><rect x="488.5" y="445" width="55.1" height="56" fill="#cacaca"/><ellipse cx="514" cy="470" rx="23" ry="27" fill="#929292" transform="rotate(20 514 470)" stroke="#606060" stroke-width="1.4"/><ellipse cx="514" cy="474" rx="14" ry="18" fill="#808080" transform="rotate(20 514 474)"/><ellipse cx="514" cy="479.4" rx="5" ry="5" fill="#5e5e5e"/><g filter="url(#ftemin)" opacity="0.75"><ellipse cx="514" cy="470" rx="23.5" ry="27.5" fill="#000" transform="rotate(20 514 470)"/></g><rect x="488.5" y="445" width="55.1" height="56" fill="#000" filter="url(#ftem)" opacity="0.25"/></g>
<clipPath id="ch10"><rect x="543.6" y="445" width="55.5" height="56"/></clipPath>
<g clip-path="url(#ch10)"><rect x="543.6" y="445" width="55.5" height="56" fill="#a8a8a8"/><path d="M555 452q18 10 44 20" stroke="#5a5a5a" stroke-width="2" fill="none"/><ellipse cx="592" cy="494" rx="3" ry="2.8" fill="#4a4a4a"/><ellipse cx="560" cy="478" rx="5" ry="6" fill="#909090"/><rect x="543.6" y="445" width="55.5" height="56" fill="#000" filter="url(#ftem2)" opacity="0.75"/></g>
<clipPath id="ch11"><rect x="488.5" y="501" width="55.1" height="55.6"/></clipPath>
<g clip-path="url(#ch11)"><rect x="488.5" y="501" width="55.1" height="55.6" fill="#cfcfcf"/><ellipse cx="513" cy="529.4" rx="24" ry="26" fill="#a8a8a8" transform="rotate(-10 513 529.4)"/><ellipse cx="512" cy="532" rx="17" ry="18" fill="#929292" transform="rotate(-10 512 532)"/><ellipse cx="510" cy="535" rx="10" ry="12" fill="#848484" transform="rotate(-10 510 535)"/><g filter="url(#ftemin)" opacity="0.75"><ellipse cx="513" cy="529.4" rx="24" ry="26" fill="#000" transform="rotate(-10 513 529.4)"/></g><rect x="488.5" y="501" width="55.1" height="55.6" fill="#000" filter="url(#ftem)" opacity="0.25"/></g>
<clipPath id="ch12"><rect x="543.6" y="501" width="55.5" height="55.6"/></clipPath>
<g clip-path="url(#ch12)"><rect x="543.6" y="501" width="55.5" height="55.6" fill="#a2a2a2"/><ellipse cx="559.7" cy="525" rx="6.5" ry="7" fill="#c0c0c0" stroke="#5a5a5a" stroke-width="1.5"/><ellipse cx="581.7" cy="535.3" rx="4.5" ry="3.5" fill="#e4e4e4"/><ellipse cx="559" cy="540" rx="4" ry="4" fill="#b0b0b0" stroke="#606060" stroke-width="1"/><rect x="543.6" y="501" width="55.5" height="55.6" fill="#000" filter="url(#ftem2)" opacity="0.75"/></g>
<path d="M552.4 526.8L550.1 524.7L550.1 526L548.2 526L548.2 527.6L550.1 527.6L550.1 528.9Z" fill="#f01818"/>
<rect x="279.2" y="447.7" width="11.5" height="12.3" fill="none" stroke="#fff" stroke-width="0.8"/>
<line x1="290.7" y1="447.7" x2="312.7" y2="445" stroke="#fff" stroke-width="0.7"/>
<line x1="290.7" y1="460" x2="312.7" y2="501" stroke="#fff" stroke-width="0.7"/>
<rect x="292.9" y="543.3" width="10.5" height="9.7" fill="none" stroke="#fff" stroke-width="0.8"/>
<line x1="303.4" y1="543.3" x2="312.7" y2="501" stroke="#fff" stroke-width="0.7"/>
<line x1="303.4" y1="553" x2="312.7" y2="556.6" stroke="#fff" stroke-width="0.7"/>
<rect x="378.6" y="471" width="14.1" height="10.1" fill="none" stroke="#fff" stroke-width="0.8"/>
<line x1="392.7" y1="471" x2="428.6" y2="445" stroke="#fff" stroke-width="0.7"/>
<line x1="392.7" y1="481.1" x2="428.6" y2="501" stroke="#fff" stroke-width="0.7"/>
<rect x="378.1" y="523.4" width="14.6" height="16.1" fill="none" stroke="#fff" stroke-width="0.8"/>
<line x1="392.7" y1="523.4" x2="428.6" y2="501" stroke="#fff" stroke-width="0.7"/>
<line x1="392.7" y1="539.5" x2="428.6" y2="556.6" stroke="#fff" stroke-width="0.7"/>
<rect x="502.1" y="487.9" width="14.4" height="11" fill="none" stroke="#fff" stroke-width="0.8"/>
<line x1="516.5" y1="487.9" x2="543.6" y2="445" stroke="#fff" stroke-width="0.7"/>
<line x1="516.5" y1="498.9" x2="543.6" y2="501" stroke="#fff" stroke-width="0.7"/>
<rect x="519" y="514.1" width="12.4" height="11.9" fill="none" stroke="#fff" stroke-width="0.8"/>
<line x1="531.4" y1="514.1" x2="543.6" y2="501" stroke="#fff" stroke-width="0.7"/>
<line x1="531.4" y1="526" x2="543.6" y2="556.6" stroke="#fff" stroke-width="0.7"/>
<rect x="258" y="500.5" width="110.6" height="1" fill="#e8e8e8"/>
<rect x="373" y="500.5" width="111.1" height="1" fill="#e8e8e8"/>
<rect x="488.5" y="500.5" width="110.6" height="1" fill="#e8e8e8"/>
<rect x="351" y="496.2" width="16" height="3.2" fill="#fff"/><text x="359" y="498.24" font-size="1.8" text-anchor="middle" fill="#e00">500 nm</text><line x1="354" y1="498.8" x2="364" y2="498.8" stroke="#e00" stroke-width="0.3"/>
<rect x="351" y="552.4" width="16" height="3.2" fill="#fff"/><text x="359" y="554.44" font-size="1.8" text-anchor="middle" fill="#e00">500 nm</text><line x1="354" y1="555" x2="364" y2="555" stroke="#e00" stroke-width="0.3"/>
<rect x="466.6" y="496.2" width="16" height="3.2" fill="#fff"/><text x="474.6" y="498.24" font-size="1.8" text-anchor="middle" fill="#e00">500 nm</text><line x1="469.6" y1="498.8" x2="479.6" y2="498.8" stroke="#e00" stroke-width="0.3"/>
<rect x="466.6" y="552.4" width="16" height="3.2" fill="#fff"/><text x="474.6" y="554.44" font-size="1.8" text-anchor="middle" fill="#e00">500 nm</text><line x1="469.6" y1="555" x2="479.6" y2="555" stroke="#e00" stroke-width="0.3"/>
<rect x="581.6" y="496.2" width="16" height="3.2" fill="#fff"/><text x="589.6" y="498.24" font-size="1.8" text-anchor="middle" fill="#e00">500 nm</text><line x1="584.6" y1="498.8" x2="594.6" y2="498.8" stroke="#e00" stroke-width="0.3"/>
<rect x="581.6" y="552.4" width="16" height="3.2" fill="#fff"/><text x="589.6" y="554.44" font-size="1.8" text-anchor="middle" fill="#e00">500 nm</text><line x1="584.6" y1="555" x2="594.6" y2="555" stroke="#e00" stroke-width="0.3"/>
<text x="0.5" y="592.4" font-size="9.5" font-weight="bold">I</text>
<circle cx="31" cy="613.5" r="2.0" fill="#d81c2a" stroke="#8a0010" stroke-width="0.3"/><circle cx="35" cy="612.5" r="2.0" fill="#d81c2a" stroke="#8a0010" stroke-width="0.3"/><circle cx="38.8" cy="614" r="2.0" fill="#d81c2a" stroke="#8a0010" stroke-width="0.3"/><circle cx="30" cy="617.5" r="2.0" fill="#d81c2a" stroke="#8a0010" stroke-width="0.3"/><circle cx="34" cy="617" r="2.0" fill="#d81c2a" stroke="#8a0010" stroke-width="0.3"/><circle cx="38" cy="618" r="2.0" fill="#d81c2a" stroke="#8a0010" stroke-width="0.3"/><circle cx="41" cy="617" r="2.0" fill="#d81c2a" stroke="#8a0010" stroke-width="0.3"/><circle cx="32" cy="621" r="2.0" fill="#d81c2a" stroke="#8a0010" stroke-width="0.3"/><circle cx="36" cy="621.5" r="2.0" fill="#d81c2a" stroke="#8a0010" stroke-width="0.3"/><circle cx="39.5" cy="621.2" r="2.0" fill="#d81c2a" stroke="#8a0010" stroke-width="0.3"/>
<text x="33" y="630.32" font-size="4.8" text-anchor="middle" fill="#222">Tumor cells</text>
<path d="M45 618h10M53 616.6l2 1.4-2 1.4" stroke="#555" stroke-width="0.4" fill="none"/>
<path d="M82 618h-10M74 616.6l-2 1.4 2 1.4" stroke="#555" stroke-width="0.4" fill="none"/>
<text x="64" y="609.65" font-size="4.6" text-anchor="middle" fill="#222">Mix 2h</text>
<ellipse cx="64.5" cy="612.4" rx="5.6" ry="1.5" fill="#fff" stroke="#333" stroke-width="0.5"/>
<path d="M60.5 613.6L61.5 621L64.3 628.8L67.3 621L68.5 613.6Z" fill="#fff" stroke="#333" stroke-width="0.5"/>
<path d="M61.8 619L63.4 626.5L64.3 628.3L65.3 626.5L67 619Z" fill="#a01020"/>
<path d="M62 615h5" stroke="#333" stroke-width="0.4"/>
<g fill="#2a6a2a" stroke="#163816" stroke-width="0.25"><ellipse cx="86.6" cy="616.2" rx="1.1" ry="0.7" transform="rotate(40 86.6 616.2)"/><ellipse cx="88.2" cy="615.6" rx="1.0" ry="0.7" transform="rotate(-20 88.2 615.6)"/><ellipse cx="89.6" cy="616.8" rx="1.1" ry="0.7" transform="rotate(60 89.6 616.8)"/><ellipse cx="87.4" cy="618" rx="1.1" ry="0.7" transform="rotate(-30 87.4 618)"/><ellipse cx="89.2" cy="618.6" rx="1.0" ry="0.7" transform="rotate(20 89.2 618.6)"/><ellipse cx="90.8" cy="618.2" rx="1.0" ry="0.7" transform="rotate(-50 90.8 618.2)"/><ellipse cx="88.4" cy="619.6" rx="0.9" ry="0.6" transform="rotate(10 88.4 619.6)"/><ellipse cx="86.2" cy="617.6" rx="0.8" ry="0.6" transform="rotate(80 86.2 617.6)"/></g>
<text x="97" y="619.25" font-size="4.6" fill="#222">SP-GFP</text>
<text x="95" y="624.65" font-size="4.6" fill="#222">MOI= 0.01</text>
<path d="M64 633v10M62.6 641l1.4 2 1.4-2" stroke="#555" stroke-width="0.4" fill="none"/>
<text x="70" y="637" font-size="3.9" fill="#222">Mixed tumor cells</text>
<text x="70" y="642.4" font-size="3.9" fill="#222">subcutaneous injected</text>
<text x="70" y="648" font-size="3.9" fill="#222">into flank</text>
<text x="9" y="642.18" font-size="4.4" fill="#222">MC38</text>
<text x="9" y="647.58" font-size="4.4" fill="#222">B16F10</text>
<text x="9" y="653.18" font-size="4.4" fill="#222">Hepa1-6</text>
<path d="M29.9 642.7 C30.6 641.1 32 639.3 34 638.7 C36.4 636.6 41.3 636.4 43.7 638.2 C45.6 639.7 46.1 642.1 45.2 643.6 C43.2 644.8 37.4 644.7 34.9 644.4 C33 644.2 31.1 643.8 29.9 642.7Z" fill="#2a2a2a" stroke="#111" stroke-width="0.45"/><path d="M45 643.4 C47.6 643.8 48.1 645.4 45.6 645.5 S40.3 645.8 38.4 645.4" fill="none" stroke="#111" stroke-width="0.55"/><ellipse cx="34.1" cy="638.5" rx="1.3" ry="1.3" fill="#2a2a2a" stroke="#111" stroke-width="0.4"/><circle cx="31.9" cy="641.1" r="0.35" fill="#fff"/><path d="M34 644.4 L33.5 645.4 M41.3 644.6 L41.8 645.5" stroke="#111" stroke-width="0.45"/>
<text x="30" y="651.58" font-size="4.4" fill="#222">6-8 Week C57</text>
<path d="M30.3 668.7 C31 667.1 32.5 665.3 34.5 664.7 C37 662.6 42 662.4 44.5 664.2 C46.5 665.7 47 668.1 46 669.6 C44 670.8 38 670.7 35.5 670.4 C33.5 670.2 31.5 669.8 30.3 668.7Z" fill="#f4f4f4" stroke="#333" stroke-width="0.45"/><path d="M45.8 669.4 C48.5 669.8 49 671.4 46.5 671.5 S41 671.8 39 671.4" fill="none" stroke="#333" stroke-width="0.55"/><ellipse cx="34.6" cy="664.5" rx="1.3" ry="1.3" fill="#f4f4f4" stroke="#333" stroke-width="0.4"/><circle cx="32.4" cy="667.1" r="0.35" fill="#333"/><path d="M34.5 670.4 L34 671.4 M42 670.6 L42.5 671.5" stroke="#333" stroke-width="0.45"/>
<text x="10" y="674.18" font-size="4.4" fill="#222">CT26</text>
<text x="30" y="678.58" font-size="4.4" fill="#222">6-8 Week</text>
<text x="30" y="684.18" font-size="4.4" fill="#222">BALB/c</text>
<line x1="57.8" y1="659.4" x2="172.7" y2="659.4" stroke="#222" stroke-width="0.8"/>
<line x1="63.8" y1="653.4" x2="63.8" y2="659.4" stroke="#222" stroke-width="0.8"/>
<line x1="84" y1="653.4" x2="84" y2="659.4" stroke="#222" stroke-width="0.8"/>
<line x1="104.4" y1="653.4" x2="104.4" y2="659.4" stroke="#222" stroke-width="0.8"/>
<line x1="125" y1="653.4" x2="125" y2="659.4" stroke="#222" stroke-width="0.8"/>
<line x1="145.4" y1="653.4" x2="145.4" y2="659.4" stroke="#222" stroke-width="0.8"/>
<text x="63.8" y="666.1" font-size="4.2" text-anchor="middle" fill="#222">0</text>
<text x="104.4" y="666.1" font-size="4.2" text-anchor="middle" fill="#222">10</text>
<text x="142.7" y="666.1" font-size="4.2" fill="#222">20 (Days)</text>
<text x="119.8" y="651.04" font-size="4.31" fill="#222">Sacrificed and harvest tumor</text>
<text x="225" y="594.4" font-size="9.5" font-weight="bold">J</text>
<text x="460" y="593" font-size="9.5" font-weight="bold">K</text>
<text x="0.5" y="719.4" font-size="9.5" font-weight="bold">L</text>
<text x="222" y="719" font-size="9.5" font-weight="bold">M</text>
<text x="459" y="719.4" font-size="9.5" font-weight="bold">N</text>
<line x1="263.5" y1="597.6" x2="263.5" y2="668" stroke="#111" stroke-width="1"/>
<line x1="263" y1="667.5" x2="366.8" y2="667.5" stroke="#111" stroke-width="1"/>
<path d="M263 667v1.5M269.92 667v1M276.84 667v1M283.76 667v1M290.68 667v1M297.6 667v1.5M304.52 667v1M311.44 667v1M318.36 667v1M325.28 667v1M332.2 667v1.5M339.12 667v1M346.04 667v1M352.96 667v1M359.88 667v1M366.8 667v1.5M263 667h-1.5M263 643.87h-1.5M263 620.73h-1.5M263 597.6h-1.5" stroke="#111" stroke-width="0.6" fill="none"/>
<text x="260.8" y="669.36" font-size="6.6" text-anchor="end" fill="#333">0</text>
<text x="260.8" y="646.23" font-size="6.6" text-anchor="end" fill="#333">500</text>
<text x="260.8" y="623.09" font-size="6.6" text-anchor="end" fill="#333">1000</text>
<text x="260.8" y="599.96" font-size="6.6" text-anchor="end" fill="#333">1500</text>
<text x="263" y="679.03" font-size="6.5" text-anchor="middle" font-weight="bold" fill="#111">0</text>
<text x="297.6" y="679.03" font-size="6.5" text-anchor="middle" font-weight="bold" fill="#111">5</text>
<text x="332.2" y="679.03" font-size="6.5" text-anchor="middle" font-weight="bold" fill="#111">10</text>
<text x="366.8" y="679.03" font-size="6.5" text-anchor="middle" font-weight="bold" fill="#111">15</text>
<text x="315" y="687.36" font-size="6.6" text-anchor="middle" font-weight="bold" fill="#111">Day</text>
<text x="239" y="638.92" font-size="6.76" font-weight="bold" text-anchor="middle" fill="#111" transform="rotate(-90 239 636.5)">Tumor volume (mm<tspan font-size="4.06" dy="-2.2">3</tspan><tspan dy="2.2">)</tspan></text>
<path d="M283.76 664.69V664.22M282.46 664.22h2.6M297.6 662.37V661.91M296.3 661.91h2.6M318.36 659.6V658.21M317.06 658.21h2.6M332.2 655.43V650.81M330.9 650.81h2.6M359.88 644.79V636M358.58 636h2.6" stroke="#1a1aff" stroke-width="0.6" fill="none"/>
<polyline points="263,667 283.76,664.69 297.6,662.37 318.36,659.6 332.2,655.43 359.88,644.79" fill="none" stroke="#1a1aff" stroke-width="0.75"/>
<circle cx="263" cy="667" r="1.75" fill="#1a1aff"/><circle cx="283.76" cy="664.69" r="1.75" fill="#1a1aff"/><circle cx="297.6" cy="662.37" r="1.75" fill="#1a1aff"/><circle cx="318.36" cy="659.6" r="1.75" fill="#1a1aff"/><circle cx="332.2" cy="655.43" r="1.75" fill="#1a1aff"/><circle cx="359.88" cy="644.79" r="1.75" fill="#1a1aff"/>
<path d="M283.76 664.22V663.53M282.46 663.53h2.6M297.6 660.98V660.06M296.3 660.06h2.6M318.36 654.97V647.57M317.06 647.57h2.6M332.2 643.4V633.22M330.9 633.22h2.6M359.88 619.8V602.22M358.58 602.22h2.6" stroke="#ff1a1a" stroke-width="0.6" fill="none"/>
<polyline points="263,667 283.76,664.22 297.6,660.98 318.36,654.97 332.2,643.4 359.88,619.8" fill="none" stroke="#ff1a1a" stroke-width="0.75"/>
<rect x="261.3" y="665.3" width="3.4" height="3.4" fill="#ff1a1a"/><rect x="282.06" y="662.52" width="3.4" height="3.4" fill="#ff1a1a"/><rect x="295.9" y="659.28" width="3.4" height="3.4" fill="#ff1a1a"/><rect x="316.66" y="653.27" width="3.4" height="3.4" fill="#ff1a1a"/><rect x="330.5" y="641.7" width="3.4" height="3.4" fill="#ff1a1a"/><rect x="358.18" y="618.1" width="3.4" height="3.4" fill="#ff1a1a"/>
<line x1="271.5" y1="601" x2="278.5" y2="601" stroke="#1a1aff" stroke-width="0.75"/>
<circle cx="275" cy="601" r="1.75" fill="#1a1aff"/>
<text x="281.6" y="603.36" font-size="6.6" fill="#222">Mock</text>
<line x1="271.5" y1="610.4" x2="278.5" y2="610.4" stroke="#ff1a1a" stroke-width="0.75"/>
<rect x="273.3" y="608.7" width="3.4" height="3.4" fill="#ff1a1a"/>
<text x="281.6" y="612.76" font-size="6.6" fill="#222">SP</text>
<line x1="366.6" y1="621" x2="366.6" y2="637.6" stroke="#222" stroke-width="0.6"/>
<text x="369.8" y="632.82" font-size="6.2" fill="#222">*</text>
<text x="352.2" y="652.33" font-size="5.4" fill="#333">ns</text>
<line x1="399.5" y1="598.6" x2="399.5" y2="668" stroke="#111" stroke-width="1"/>
<line x1="399" y1="667.5" x2="445.6" y2="667.5" stroke="#111" stroke-width="1"/>
<path d="M399.4 667.4h-1.5M399.4 650.2h-1.5M399.4 633h-1.5M399.4 615.8h-1.5M399.4 598.6h-1.5M412.4 667.4v1.5M432.4 667.4v1.5" stroke="#111" stroke-width="0.6" fill="none"/>
<text x="397.2" y="669.87" font-size="6.9" text-anchor="end" font-weight="bold" fill="#111">0.0</text>
<text x="397.2" y="652.67" font-size="6.9" text-anchor="end" font-weight="bold" fill="#111">0.5</text>
<text x="397.2" y="635.47" font-size="6.9" text-anchor="end" font-weight="bold" fill="#111">1.0</text>
<text x="397.2" y="618.27" font-size="6.9" text-anchor="end" font-weight="bold" fill="#111">1.5</text>
<text x="397.2" y="601.07" font-size="6.9" text-anchor="end" font-weight="bold" fill="#111">2.0</text>
<text x="381" y="639.25" font-size="6.84" text-anchor="middle" font-weight="bold" fill="#111" transform="rotate(-90 381 636.8)">Tumor weight (g)</text>
<path d="M405.9 648.41h13M412.4 654V642.82M409.4 654h6M409.4 642.82h6" stroke="#1a1aff" stroke-width="0.8" fill="none"/>
<circle cx="410.94" cy="640.91" r="1.75" fill="#1a1aff"/><circle cx="413.79" cy="645.04" r="1.75" fill="#1a1aff"/><circle cx="413.46" cy="649.51" r="1.75" fill="#1a1aff"/><circle cx="411.42" cy="651.23" r="1.75" fill="#1a1aff"/><circle cx="412.38" cy="655.36" r="1.75" fill="#1a1aff"/>
<path d="M425.9 631.62h13M432.4 645.67V617.58M429.4 645.67h6M429.4 617.58h6" stroke="#ff1a1a" stroke-width="0.8" fill="none"/>
<rect x="430.5" y="612.38" width="3.4" height="3.4" fill="#ff1a1a"/><rect x="431.31" y="619.26" width="3.4" height="3.4" fill="#ff1a1a"/><rect x="431.85" y="631.3" width="3.4" height="3.4" fill="#ff1a1a"/><rect x="429.08" y="641.62" width="3.4" height="3.4" fill="#ff1a1a"/><rect x="428.81" y="645.06" width="3.4" height="3.4" fill="#ff1a1a"/>
<text x="413.7" y="678.22" font-size="6.2" text-anchor="middle" font-weight="bold" fill="#111">Control</text>
<text x="433.2" y="678.22" font-size="6.2" text-anchor="middle" font-weight="bold" fill="#111">SP</text>
<line x1="412" y1="605.6" x2="433" y2="605.6" stroke="#222" stroke-width="0.6"/>
<text x="422.4" y="604.82" font-size="6.2" text-anchor="middle" fill="#222">*</text>
<text x="379" y="702.36" font-size="6.6" text-anchor="middle" font-weight="bold" fill="#111">MC38</text>
<line x1="497.5" y1="598" x2="497.5" y2="669" stroke="#111" stroke-width="1"/>
<line x1="497" y1="668.5" x2="602.4" y2="668.5" stroke="#111" stroke-width="1"/>
<path d="M497 668v1.5M502.27 668v1M507.54 668v1M512.81 668v1M518.08 668v1M523.35 668v1.5M528.62 668v1M533.89 668v1M539.16 668v1M544.43 668v1M549.7 668v1.5M554.97 668v1M560.24 668v1M565.51 668v1M570.78 668v1M576.05 668v1.5M581.32 668v1M586.59 668v1M591.86 668v1M597.13 668v1M602.4 668v1.5M497 668h-1.5M497 654h-1.5M497 640h-1.5M497 626h-1.5M497 612h-1.5M497 598h-1.5" stroke="#111" stroke-width="0.6" fill="none"/>
<text x="494.8" y="670.33" font-size="6.5" text-anchor="end" font-weight="bold" fill="#111">0</text>
<text x="494.8" y="656.33" font-size="6.5" text-anchor="end" font-weight="bold" fill="#111">200</text>
<text x="494.8" y="642.33" font-size="6.5" text-anchor="end" font-weight="bold" fill="#111">400</text>
<text x="494.8" y="628.33" font-size="6.5" text-anchor="end" font-weight="bold" fill="#111">600</text>
<text x="494.8" y="614.33" font-size="6.5" text-anchor="end" font-weight="bold" fill="#111">800</text>
<text x="494.8" y="600.33" font-size="6.5" text-anchor="end" font-weight="bold" fill="#111">1000</text>
<text x="497" y="677.93" font-size="6.5" text-anchor="middle" font-weight="bold" fill="#111">0</text>
<text x="523.35" y="677.93" font-size="6.5" text-anchor="middle" font-weight="bold" fill="#111">5</text>
<text x="549.7" y="677.93" font-size="6.5" text-anchor="middle" font-weight="bold" fill="#111">10</text>
<text x="576.05" y="677.93" font-size="6.5" text-anchor="middle" font-weight="bold" fill="#111">15</text>
<text x="602.4" y="677.93" font-size="6.5" text-anchor="middle" font-weight="bold" fill="#111">20</text>
<text x="549" y="687.76" font-size="6.6" text-anchor="middle" font-weight="bold" fill="#111">Day</text>
<text x="471" y="636.92" font-size="6.76" font-weight="bold" text-anchor="middle" fill="#111" transform="rotate(-90 471 634.5)">Tumor volume (mm<tspan font-size="4.06" dy="-2.2">3</tspan><tspan dy="2.2">)</tspan></text>
<path d="M528.62 667.44V666.95M527.32 666.95h2.6M539.16 665.55V664.85M537.86 664.85h2.6M549.7 663.45V662.4M548.4 662.4h2.6M560.24 659.25V657.5M558.94 657.5h2.6M570.78 657.5V654M569.48 654h2.6M591.86 638.25V635.8M590.56 635.8h2.6" stroke="#1a1aff" stroke-width="0.6" fill="none"/>
<polyline points="497,668 528.62,667.44 539.16,665.55 549.7,663.45 560.24,659.25 570.78,657.5 591.86,638.25" fill="none" stroke="#1a1aff" stroke-width="0.75"/>
<circle cx="497" cy="668" r="1.75" fill="#1a1aff"/><circle cx="528.62" cy="667.44" r="1.75" fill="#1a1aff"/><circle cx="539.16" cy="665.55" r="1.75" fill="#1a1aff"/><circle cx="549.7" cy="663.45" r="1.75" fill="#1a1aff"/><circle cx="560.24" cy="659.25" r="1.75" fill="#1a1aff"/><circle cx="570.78" cy="657.5" r="1.75" fill="#1a1aff"/><circle cx="591.86" cy="638.25" r="1.75" fill="#1a1aff"/>
<path d="M528.62 668V667.3M527.32 667.3h2.6M539.16 666.25V665.2M537.86 665.2h2.6M549.7 662.05V659.6M548.4 659.6h2.6M560.24 655.4V649.1M558.94 649.1h2.6M570.78 651.2V644.2M569.48 644.2h2.6M591.86 625.3V613.4M590.56 613.4h2.6" stroke="#ff1a1a" stroke-width="0.6" fill="none"/>
<polyline points="497,668 528.62,668 539.16,666.25 549.7,662.05 560.24,655.4 570.78,651.2 591.86,625.3" fill="none" stroke="#ff1a1a" stroke-width="0.75"/>
<rect x="495.3" y="666.3" width="3.4" height="3.4" fill="#ff1a1a"/><rect x="526.92" y="666.3" width="3.4" height="3.4" fill="#ff1a1a"/><rect x="537.46" y="664.55" width="3.4" height="3.4" fill="#ff1a1a"/><rect x="548" y="660.35" width="3.4" height="3.4" fill="#ff1a1a"/><rect x="558.54" y="653.7" width="3.4" height="3.4" fill="#ff1a1a"/><rect x="569.08" y="649.5" width="3.4" height="3.4" fill="#ff1a1a"/><rect x="590.16" y="623.6" width="3.4" height="3.4" fill="#ff1a1a"/>
<line x1="504.5" y1="604" x2="511.5" y2="604" stroke="#1a1aff" stroke-width="0.75"/>
<circle cx="508" cy="604" r="1.75" fill="#1a1aff"/>
<text x="514.6" y="606.36" font-size="6.6" fill="#222">Mock</text>
<line x1="504.5" y1="613.6" x2="511.5" y2="613.6" stroke="#ff1a1a" stroke-width="0.75"/>
<rect x="506.3" y="611.9" width="3.4" height="3.4" fill="#ff1a1a"/>
<text x="514.6" y="615.96" font-size="6.6" fill="#222">SP</text>
<line x1="598.4" y1="622.4" x2="598.4" y2="642.4" stroke="#222" stroke-width="0.6"/>
<text x="601.8" y="635.82" font-size="6.2" fill="#222">*</text>
<line x1="638.5" y1="599.4" x2="638.5" y2="669" stroke="#111" stroke-width="1"/>
<line x1="638" y1="668.5" x2="684" y2="668.5" stroke="#111" stroke-width="1"/>
<path d="M638 668.6h-1.5M638 651.3h-1.5M638 634h-1.5M638 616.7h-1.5M638 599.4h-1.5M651.4 668.6v1.5M673 668.6v1.5" stroke="#111" stroke-width="0.6" fill="none"/>
<text x="635.8" y="671.07" font-size="6.9" text-anchor="end" font-weight="bold" fill="#111">0.0</text>
<text x="635.8" y="653.77" font-size="6.9" text-anchor="end" font-weight="bold" fill="#111">0.5</text>
<text x="635.8" y="636.47" font-size="6.9" text-anchor="end" font-weight="bold" fill="#111">1.0</text>
<text x="635.8" y="619.17" font-size="6.9" text-anchor="end" font-weight="bold" fill="#111">1.5</text>
<text x="635.8" y="601.87" font-size="6.9" text-anchor="end" font-weight="bold" fill="#111">2.0</text>
<text x="617" y="635.95" font-size="6.84" text-anchor="middle" font-weight="bold" fill="#111" transform="rotate(-90 617 633.5)">Tumor weight (g)</text>
<path d="M644.9 639.33h13M651.4 646.05V632.6M648.4 646.05h6M648.4 632.6h6" stroke="#1a1aff" stroke-width="0.8" fill="none"/>
<circle cx="653.22" cy="631.23" r="1.75" fill="#1a1aff"/><circle cx="653.19" cy="634" r="1.75" fill="#1a1aff"/><circle cx="649.63" cy="639.88" r="1.75" fill="#1a1aff"/><circle cx="649.74" cy="644.38" r="1.75" fill="#1a1aff"/><circle cx="652.74" cy="647.15" r="1.75" fill="#1a1aff"/>
<path d="M666.5 623.62h13M673 628.63V618.61M670 628.63h6M670 618.61h6" stroke="#ff1a1a" stroke-width="0.8" fill="none"/>
<circle cx="673.94" cy="616.01" r="1.75" fill="#ff1a1a"/><circle cx="673.68" cy="621.89" r="1.75" fill="#ff1a1a"/><circle cx="672.23" cy="624.31" r="1.75" fill="#ff1a1a"/><circle cx="673.42" cy="627.08" r="1.75" fill="#ff1a1a"/><circle cx="673.43" cy="628.81" r="1.75" fill="#ff1a1a"/>
<text x="651.4" y="680.4" font-size="6.7" text-anchor="middle" font-weight="bold" fill="#111">Control</text>
<text x="673" y="680.4" font-size="6.7" text-anchor="middle" font-weight="bold" fill="#111">SP</text>
<line x1="652" y1="599.4" x2="670.4" y2="599.4" stroke="#222" stroke-width="0.6"/>
<text x="661.4" y="599.42" font-size="6.2" text-anchor="middle" fill="#222">**</text>
<text x="615" y="702.36" font-size="6.6" text-anchor="middle" font-weight="bold" fill="#111">B16F10</text>
<line x1="36.5" y1="729" x2="36.5" y2="793" stroke="#111" stroke-width="1"/>
<line x1="36" y1="792.5" x2="131.6" y2="792.5" stroke="#111" stroke-width="1"/>
<path d="M36 792.6v1.5M40.78 792.6v1M45.56 792.6v1M50.34 792.6v1M55.12 792.6v1M59.9 792.6v1.5M64.68 792.6v1M69.46 792.6v1M74.24 792.6v1M79.02 792.6v1M83.8 792.6v1.5M88.58 792.6v1M93.36 792.6v1M98.14 792.6v1M102.92 792.6v1M107.7 792.6v1.5M112.48 792.6v1M117.26 792.6v1M122.04 792.6v1M126.82 792.6v1M131.6 792.6v1.5M36 792.6h-1.5M36 776.7h-1.5M36 760.8h-1.5M36 744.9h-1.5M36 729h-1.5" stroke="#111" stroke-width="0.6" fill="none"/>
<text x="33.8" y="794.93" font-size="6.5" text-anchor="end" font-weight="bold" fill="#111">0</text>
<text x="33.8" y="779.03" font-size="6.5" text-anchor="end" font-weight="bold" fill="#111">500</text>
<text x="33.8" y="763.13" font-size="6.5" text-anchor="end" font-weight="bold" fill="#111">1000</text>
<text x="33.8" y="747.23" font-size="6.5" text-anchor="end" font-weight="bold" fill="#111">1500</text>
<text x="33.8" y="731.33" font-size="6.5" text-anchor="end" font-weight="bold" fill="#111">2000</text>
<text x="36" y="802.33" font-size="6.5" text-anchor="middle" font-weight="bold" fill="#111">0</text>
<text x="59.9" y="802.33" font-size="6.5" text-anchor="middle" font-weight="bold" fill="#111">5</text>
<text x="83.8" y="802.33" font-size="6.5" text-anchor="middle" font-weight="bold" fill="#111">10</text>
<text x="107.7" y="802.33" font-size="6.5" text-anchor="middle" font-weight="bold" fill="#111">15</text>
<text x="131.6" y="802.33" font-size="6.5" text-anchor="middle" font-weight="bold" fill="#111">20</text>
<text x="84" y="809.36" font-size="6.6" text-anchor="middle" font-weight="bold" fill="#111">Day</text>
<text x="9" y="762.42" font-size="6.76" font-weight="bold" text-anchor="middle" fill="#111" transform="rotate(-90 9 760)">Tumor volume (mm<tspan font-size="4.06" dy="-2.2">3</tspan><tspan dy="2.2">)</tspan></text>
<path d="M55.12 790.69V790.06M53.82 790.06h2.6M64.68 787.19V780.83M63.38 780.83h2.6M74.24 786.56V784.97M72.94 784.97h2.6M83.8 783.7V782.11M82.5 782.11h2.6M93.36 780.2V777.34M92.06 777.34h2.6M102.92 779.24V773.84M101.62 773.84h2.6M117.26 775.43V768.43M115.96 768.43h2.6" stroke="#1a1aff" stroke-width="0.6" fill="none"/>
<polyline points="36,792.6 55.12,790.69 64.68,787.19 74.24,786.56 83.8,783.7 93.36,780.2 102.92,779.24 117.26,775.43" fill="none" stroke="#1a1aff" stroke-width="0.75"/>
<circle cx="36" cy="792.6" r="1.75" fill="#1a1aff"/><circle cx="55.12" cy="790.69" r="1.75" fill="#1a1aff"/><circle cx="64.68" cy="787.19" r="1.75" fill="#1a1aff"/><circle cx="74.24" cy="786.56" r="1.75" fill="#1a1aff"/><circle cx="83.8" cy="783.7" r="1.75" fill="#1a1aff"/><circle cx="93.36" cy="780.2" r="1.75" fill="#1a1aff"/><circle cx="102.92" cy="779.24" r="1.75" fill="#1a1aff"/><circle cx="117.26" cy="775.43" r="1.75" fill="#1a1aff"/>
<path d="M55.12 791.01V790.37M53.82 790.37h2.6M64.68 788.78V787.51M63.38 787.51h2.6M74.24 785.6V784.01M72.94 784.01h2.6M83.8 780.83V776.06M82.5 776.06h2.6M93.36 775.43V771.93M92.06 771.93h2.6M102.92 765.89V758.26M101.62 758.26h2.6M117.26 749.99V739.81M115.96 739.81h2.6" stroke="#ff1a1a" stroke-width="0.6" fill="none"/>
<polyline points="36,792.6 55.12,791.01 64.68,788.78 74.24,785.6 83.8,780.83 93.36,775.43 102.92,765.89 117.26,749.99" fill="none" stroke="#ff1a1a" stroke-width="0.75"/>
<rect x="34.3" y="790.9" width="3.4" height="3.4" fill="#ff1a1a"/><rect x="53.42" y="789.31" width="3.4" height="3.4" fill="#ff1a1a"/><rect x="62.98" y="787.08" width="3.4" height="3.4" fill="#ff1a1a"/><rect x="72.54" y="783.9" width="3.4" height="3.4" fill="#ff1a1a"/><rect x="82.1" y="779.13" width="3.4" height="3.4" fill="#ff1a1a"/><rect x="91.66" y="773.73" width="3.4" height="3.4" fill="#ff1a1a"/><rect x="101.22" y="764.19" width="3.4" height="3.4" fill="#ff1a1a"/><rect x="115.56" y="748.29" width="3.4" height="3.4" fill="#ff1a1a"/>
<line x1="42.9" y1="735.6" x2="49.9" y2="735.6" stroke="#1a1aff" stroke-width="0.75"/>
<circle cx="46.4" cy="735.6" r="1.75" fill="#1a1aff"/>
<text x="53" y="737.96" font-size="6.6" fill="#222">Mock</text>
<line x1="42.9" y1="744.6" x2="49.9" y2="744.6" stroke="#ff1a1a" stroke-width="0.75"/>
<rect x="44.7" y="742.9" width="3.4" height="3.4" fill="#ff1a1a"/>
<text x="53" y="746.96" font-size="6.6" fill="#222">SP</text>
<line x1="123.4" y1="753" x2="123.4" y2="771" stroke="#222" stroke-width="0.6"/>
<text x="126.6" y="764.42" font-size="6.2" fill="#222">***</text>
<line x1="171.5" y1="728" x2="171.5" y2="794" stroke="#111" stroke-width="1"/>
<line x1="171" y1="793.5" x2="215" y2="793.5" stroke="#111" stroke-width="1"/>
<path d="M171.6 793h-1.5M171.6 776.75h-1.5M171.6 760.5h-1.5M171.6 744.25h-1.5M171.6 728h-1.5M184.4 793v1.5M205.6 793v1.5" stroke="#111" stroke-width="0.6" fill="none"/>
<text x="169.4" y="795.47" font-size="6.9" text-anchor="end" font-weight="bold" fill="#111">0.0</text>
<text x="169.4" y="779.22" font-size="6.9" text-anchor="end" font-weight="bold" fill="#111">0.5</text>
<text x="169.4" y="762.97" font-size="6.9" text-anchor="end" font-weight="bold" fill="#111">1.0</text>
<text x="169.4" y="746.72" font-size="6.9" text-anchor="end" font-weight="bold" fill="#111">1.5</text>
<text x="169.4" y="730.47" font-size="6.9" text-anchor="end" font-weight="bold" fill="#111">2.0</text>
<text x="150" y="761.95" font-size="6.84" text-anchor="middle" font-weight="bold" fill="#111" transform="rotate(-90 150 759.5)">Tumor weight (g)</text>
<path d="M177.9 776.95h13M184.4 783.36V770.53M181.4 783.36h6M181.4 770.53h6" stroke="#1a1aff" stroke-width="0.8" fill="none"/>
<circle cx="183.35" cy="769.6" r="1.75" fill="#1a1aff"/><circle cx="184.58" cy="771.88" r="1.75" fill="#1a1aff"/><circle cx="183.88" cy="776.75" r="1.75" fill="#1a1aff"/><circle cx="184.82" cy="781.62" r="1.75" fill="#1a1aff"/><circle cx="184.9" cy="784.88" r="1.75" fill="#1a1aff"/>
<path d="M199.1 753.28h13M205.6 768.54V738.03M202.6 768.54h6M202.6 738.03h6" stroke="#ff1a1a" stroke-width="0.8" fill="none"/>
<rect x="202.16" y="729.55" width="3.4" height="3.4" fill="#ff1a1a"/><rect x="201.95" y="749.7" width="3.4" height="3.4" fill="#ff1a1a"/><rect x="205.25" y="752.3" width="3.4" height="3.4" fill="#ff1a1a"/><rect x="202.94" y="753.92" width="3.4" height="3.4" fill="#ff1a1a"/><rect x="202.84" y="772.45" width="3.4" height="3.4" fill="#ff1a1a"/>
<text x="184.4" y="802.15" font-size="6" text-anchor="middle" font-weight="bold" fill="#111">Control</text>
<text x="205.6" y="802.15" font-size="6" text-anchor="middle" font-weight="bold" fill="#111">SP</text>
<line x1="185" y1="726" x2="202.6" y2="726" stroke="#222" stroke-width="0.6"/>
<text x="195" y="727.42" font-size="6.2" text-anchor="middle" fill="#222">**</text>
<text x="120.6" y="828.76" font-size="6.6" text-anchor="middle" font-weight="bold" fill="#111">CT26</text>
<line x1="263.5" y1="724.4" x2="263.5" y2="795" stroke="#111" stroke-width="1"/>
<line x1="263" y1="794.5" x2="368" y2="794.5" stroke="#111" stroke-width="1"/>
<path d="M263 794.4v1.5M270 794.4v1M277 794.4v1M284 794.4v1M291 794.4v1M298 794.4v1.5M305 794.4v1M312 794.4v1M319 794.4v1M326 794.4v1M333 794.4v1.5M340 794.4v1M347 794.4v1M354 794.4v1M361 794.4v1M368 794.4v1.5M263 794.4h-1.5M263 780.4h-1.5M263 766.4h-1.5M263 752.4h-1.5M263 738.4h-1.5M263 724.4h-1.5" stroke="#111" stroke-width="0.6" fill="none"/>
<text x="260.8" y="796.73" font-size="6.5" text-anchor="end" font-weight="bold" fill="#111">0</text>
<text x="260.8" y="782.73" font-size="6.5" text-anchor="end" font-weight="bold" fill="#111">200</text>
<text x="260.8" y="768.73" font-size="6.5" text-anchor="end" font-weight="bold" fill="#111">400</text>
<text x="260.8" y="754.73" font-size="6.5" text-anchor="end" font-weight="bold" fill="#111">600</text>
<text x="260.8" y="740.73" font-size="6.5" text-anchor="end" font-weight="bold" fill="#111">800</text>
<text x="260.8" y="726.73" font-size="6.5" text-anchor="end" font-weight="bold" fill="#111">1000</text>
<text x="263" y="804.33" font-size="6.5" text-anchor="middle" font-weight="bold" fill="#111">0</text>
<text x="298" y="804.33" font-size="6.5" text-anchor="middle" font-weight="bold" fill="#111">5</text>
<text x="333" y="804.33" font-size="6.5" text-anchor="middle" font-weight="bold" fill="#111">10</text>
<text x="368" y="804.33" font-size="6.5" text-anchor="middle" font-weight="bold" fill="#111">15</text>
<text x="314.4" y="811.36" font-size="6.6" text-anchor="middle" font-weight="bold" fill="#111">Day</text>
<text x="239" y="760.92" font-size="6.76" font-weight="bold" text-anchor="middle" fill="#111" transform="rotate(-90 239 758.5)">Tumor volume (mm<tspan font-size="4.06" dy="-2.2">3</tspan><tspan dy="2.2">)</tspan></text>
<path d="M277 792.3V791.6M275.7 791.6h2.6M291 790.2V789.15M289.7 789.15h2.6M305 788.1V786.7M303.7 786.7h2.6M319 784.25V781.45M317.7 781.45h2.6M333 780.75V778.3M331.7 778.3h2.6M347 775.5V768.5M345.7 768.5h2.6" stroke="#1a1aff" stroke-width="0.6" fill="none"/>
<polyline points="263,794.4 277,792.3 291,790.2 305,788.1 319,784.25 333,780.75 347,775.5" fill="none" stroke="#1a1aff" stroke-width="0.75"/>
<circle cx="263" cy="794.4" r="1.75" fill="#1a1aff"/><circle cx="277" cy="792.3" r="1.75" fill="#1a1aff"/><circle cx="291" cy="790.2" r="1.75" fill="#1a1aff"/><circle cx="305" cy="788.1" r="1.75" fill="#1a1aff"/><circle cx="319" cy="784.25" r="1.75" fill="#1a1aff"/><circle cx="333" cy="780.75" r="1.75" fill="#1a1aff"/><circle cx="347" cy="775.5" r="1.75" fill="#1a1aff"/>
<path d="M277 790.2V789.15M275.7 789.15h2.6M291 785.3V782.15M289.7 782.15h2.6M305 777.25V768.5M303.7 768.5h2.6M319 763.25V750.3M317.7 750.3h2.6M333 753.1V739.8M331.7 739.8h2.6M347 744V730.7M345.7 730.7h2.6" stroke="#ff1a1a" stroke-width="0.6" fill="none"/>
<polyline points="263,794.4 277,790.2 291,785.3 305,777.25 319,763.25 333,753.1 347,744" fill="none" stroke="#ff1a1a" stroke-width="0.75"/>
<rect x="261.3" y="792.7" width="3.4" height="3.4" fill="#ff1a1a"/><rect x="275.3" y="788.5" width="3.4" height="3.4" fill="#ff1a1a"/><rect x="289.3" y="783.6" width="3.4" height="3.4" fill="#ff1a1a"/><rect x="303.3" y="775.55" width="3.4" height="3.4" fill="#ff1a1a"/><rect x="317.3" y="761.55" width="3.4" height="3.4" fill="#ff1a1a"/><rect x="331.3" y="751.4" width="3.4" height="3.4" fill="#ff1a1a"/><rect x="345.3" y="742.3" width="3.4" height="3.4" fill="#ff1a1a"/>
<line x1="271.5" y1="731.6" x2="278.5" y2="731.6" stroke="#1a1aff" stroke-width="0.75"/>
<circle cx="275" cy="731.6" r="1.75" fill="#1a1aff"/>
<text x="281.6" y="733.96" font-size="6.6" fill="#222">Mock</text>
<line x1="271.5" y1="741" x2="278.5" y2="741" stroke="#ff1a1a" stroke-width="0.75"/>
<rect x="273.3" y="739.3" width="3.4" height="3.4" fill="#ff1a1a"/>
<text x="281.6" y="743.36" font-size="6.6" fill="#222">SP</text>
<line x1="356.6" y1="746.4" x2="356.6" y2="766.4" stroke="#222" stroke-width="0.6"/>
<text x="359.6" y="759.82" font-size="6.2" fill="#222">***</text>
<line x1="399.5" y1="727.4" x2="399.5" y2="795" stroke="#111" stroke-width="1"/>
<line x1="399" y1="794.5" x2="444.4" y2="794.5" stroke="#111" stroke-width="1"/>
<path d="M399.6 794.4h-1.5M399.6 777.65h-1.5M399.6 760.9h-1.5M399.6 744.15h-1.5M399.6 727.4h-1.5M411.6 794.4v1.5M432 794.4v1.5" stroke="#111" stroke-width="0.6" fill="none"/>
<text x="397.4" y="796.87" font-size="6.9" text-anchor="end" font-weight="bold" fill="#111">0.0</text>
<text x="397.4" y="780.12" font-size="6.9" text-anchor="end" font-weight="bold" fill="#111">0.2</text>
<text x="397.4" y="763.37" font-size="6.9" text-anchor="end" font-weight="bold" fill="#111">0.4</text>
<text x="397.4" y="746.62" font-size="6.9" text-anchor="end" font-weight="bold" fill="#111">0.6</text>
<text x="397.4" y="729.87" font-size="6.9" text-anchor="end" font-weight="bold" fill="#111">0.8</text>
<text x="379" y="756.95" font-size="6.84" text-anchor="middle" font-weight="bold" fill="#111" transform="rotate(-90 379 754.5)">Tumor weight (g)</text>
<path d="M405.1 773.63h13M411.6 779.41V767.85M408.6 779.41h6M408.6 767.85h6" stroke="#1a1aff" stroke-width="0.8" fill="none"/>
<circle cx="410.54" cy="767.6" r="1.75" fill="#1a1aff"/><circle cx="410.01" cy="768.44" r="1.75" fill="#1a1aff"/><circle cx="411.18" cy="773.46" r="1.75" fill="#1a1aff"/><circle cx="410.22" cy="777.65" r="1.75" fill="#1a1aff"/><circle cx="409.87" cy="781" r="1.75" fill="#1a1aff"/>
<path d="M425.5 748.5h13M432 759.45V737.56M429 759.45h6M429 737.56h6" stroke="#ff1a1a" stroke-width="0.8" fill="none"/>
<rect x="429.91" y="729.89" width="3.4" height="3.4" fill="#ff1a1a"/><rect x="431.97" y="742.45" width="3.4" height="3.4" fill="#ff1a1a"/><rect x="431.5" y="750.82" width="3.4" height="3.4" fill="#ff1a1a"/><rect x="431.36" y="753.34" width="3.4" height="3.4" fill="#ff1a1a"/><rect x="429.19" y="757.52" width="3.4" height="3.4" fill="#ff1a1a"/>
<text x="411.6" y="804.73" font-size="6.5" text-anchor="middle" font-weight="bold" fill="#111">Control</text>
<text x="432" y="804.73" font-size="6.5" text-anchor="middle" font-weight="bold" fill="#111">SP</text>
<line x1="412.4" y1="725.4" x2="430" y2="725.4" stroke="#222" stroke-width="0.6"/>
<text x="421" y="725.42" font-size="6.2" text-anchor="middle" fill="#222">**</text>
<text x="383" y="828.76" font-size="6.6" text-anchor="middle" font-weight="bold" fill="#111">Hepa 1-6</text>
<line x1="497.5" y1="726" x2="497.5" y2="794" stroke="#111" stroke-width="1"/>
<line x1="497" y1="793.5" x2="598.1" y2="793.5" stroke="#111" stroke-width="1"/>
<path d="M497 793.4v1.5M503.74 793.4v1M510.48 793.4v1M517.22 793.4v1M523.96 793.4v1M530.7 793.4v1.5M537.44 793.4v1M544.18 793.4v1M550.92 793.4v1M557.66 793.4v1M564.4 793.4v1.5M571.14 793.4v1M577.88 793.4v1M584.62 793.4v1M591.36 793.4v1M598.1 793.4v1.5M497 793.4h-1.5M497 776.55h-1.5M497 759.7h-1.5M497 742.85h-1.5M497 726h-1.5" stroke="#111" stroke-width="0.6" fill="none"/>
<text x="494.8" y="795.73" font-size="6.5" text-anchor="end" font-weight="bold" fill="#111">0</text>
<text x="494.8" y="778.88" font-size="6.5" text-anchor="end" font-weight="bold" fill="#111">100</text>
<text x="494.8" y="762.03" font-size="6.5" text-anchor="end" font-weight="bold" fill="#111">200</text>
<text x="494.8" y="745.18" font-size="6.5" text-anchor="end" font-weight="bold" fill="#111">300</text>
<text x="494.8" y="728.33" font-size="6.5" text-anchor="end" font-weight="bold" fill="#111">400</text>
<text x="497" y="805.33" font-size="6.5" text-anchor="middle" font-weight="bold" fill="#111">0</text>
<text x="530.7" y="805.33" font-size="6.5" text-anchor="middle" font-weight="bold" fill="#111">5</text>
<text x="564.4" y="805.33" font-size="6.5" text-anchor="middle" font-weight="bold" fill="#111">10</text>
<text x="598.1" y="805.33" font-size="6.5" text-anchor="middle" font-weight="bold" fill="#111">15</text>
<text x="547.4" y="808.96" font-size="6.6" text-anchor="middle" font-weight="bold" fill="#111">Day</text>
<text x="470" y="762.42" font-size="6.76" font-weight="bold" text-anchor="middle" fill="#111" transform="rotate(-90 470 760)">Tumor volume (mm<tspan font-size="4.06" dy="-2.2">3</tspan><tspan dy="2.2">)</tspan></text>
<path d="M517.22 789.69V788.35M515.92 788.35h2.6M530.7 780.26V773.18M529.4 773.18h2.6M550.92 771.83V767.28M549.62 767.28h2.6M564.4 761.72V758.86M563.1 758.86h2.6" stroke="#1a1aff" stroke-width="0.6" fill="none"/>
<polyline points="497,793.4 517.22,789.69 530.7,780.26 550.92,771.83 564.4,761.72" fill="none" stroke="#1a1aff" stroke-width="0.75"/>
<circle cx="497" cy="793.4" r="1.75" fill="#1a1aff"/><circle cx="517.22" cy="789.69" r="1.75" fill="#1a1aff"/><circle cx="530.7" cy="780.26" r="1.75" fill="#1a1aff"/><circle cx="550.92" cy="771.83" r="1.75" fill="#1a1aff"/><circle cx="564.4" cy="761.72" r="1.75" fill="#1a1aff"/>
<path d="M517.22 788.35V785.31M515.92 785.31h2.6M530.7 779.92V771.5M529.4 771.5h2.6M550.92 763.07V753.3M549.62 753.3h2.6M564.4 740.83V732.74M563.1 732.74h2.6" stroke="#ff1a1a" stroke-width="0.6" fill="none"/>
<polyline points="497,793.4 517.22,788.35 530.7,779.92 550.92,763.07 564.4,740.83" fill="none" stroke="#ff1a1a" stroke-width="0.75"/>
<rect x="495.3" y="791.7" width="3.4" height="3.4" fill="#ff1a1a"/><rect x="515.52" y="786.64" width="3.4" height="3.4" fill="#ff1a1a"/><rect x="529" y="778.22" width="3.4" height="3.4" fill="#ff1a1a"/><rect x="549.22" y="761.37" width="3.4" height="3.4" fill="#ff1a1a"/><rect x="562.7" y="739.13" width="3.4" height="3.4" fill="#ff1a1a"/>
<line x1="504.9" y1="732.4" x2="511.9" y2="732.4" stroke="#1a1aff" stroke-width="0.75"/>
<circle cx="508.4" cy="732.4" r="1.75" fill="#1a1aff"/>
<text x="515" y="734.76" font-size="6.6" fill="#222">Negative</text>
<line x1="504.9" y1="742.4" x2="511.9" y2="742.4" stroke="#ff1a1a" stroke-width="0.75"/>
<rect x="506.7" y="740.7" width="3.4" height="3.4" fill="#ff1a1a"/>
<text x="515" y="744.76" font-size="6.6" fill="#222">Positive</text>
<line x1="572.4" y1="740.6" x2="572.4" y2="760" stroke="#222" stroke-width="0.6"/>
<text x="575" y="753.42" font-size="6.2" fill="#222">***</text>
<line x1="637.5" y1="731" x2="637.5" y2="795" stroke="#111" stroke-width="1"/>
<line x1="637" y1="794.5" x2="680" y2="794.5" stroke="#111" stroke-width="1"/>
<path d="M637.4 794.6h-1.5M637.4 778.7h-1.5M637.4 762.8h-1.5M637.4 746.9h-1.5M637.4 731h-1.5M649.6 794.6v1.5M667.6 794.6v1.5" stroke="#111" stroke-width="0.6" fill="none"/>
<text x="635.2" y="797.07" font-size="6.9" text-anchor="end" font-weight="bold" fill="#111">0.0</text>
<text x="635.2" y="781.17" font-size="6.9" text-anchor="end" font-weight="bold" fill="#111">0.2</text>
<text x="635.2" y="765.27" font-size="6.9" text-anchor="end" font-weight="bold" fill="#111">0.4</text>
<text x="635.2" y="749.37" font-size="6.9" text-anchor="end" font-weight="bold" fill="#111">0.6</text>
<text x="635.2" y="733.47" font-size="6.9" text-anchor="end" font-weight="bold" fill="#111">0.8</text>
<text x="617" y="762.95" font-size="6.84" text-anchor="middle" font-weight="bold" fill="#111" transform="rotate(-90 617 760.5)">Tumor weight (g)</text>
<path d="M641.6 777.98h16M649.6 782.44V773.53M646.6 782.44h6M646.6 773.53h6" stroke="#1a1aff" stroke-width="0.8" fill="none"/>
<circle cx="650.46" cy="771.55" r="1.75" fill="#1a1aff"/><circle cx="651.29" cy="773.13" r="1.75" fill="#1a1aff"/><circle cx="651.67" cy="774.73" r="1.75" fill="#1a1aff"/><circle cx="652.7" cy="776.32" r="1.75" fill="#1a1aff"/><circle cx="651.28" cy="777.11" r="1.75" fill="#1a1aff"/><circle cx="652.56" cy="777.9" r="1.75" fill="#1a1aff"/><circle cx="646.3" cy="778.7" r="1.75" fill="#1a1aff"/><circle cx="649.36" cy="781.09" r="1.75" fill="#1a1aff"/><circle cx="652.7" cy="784.26" r="1.75" fill="#1a1aff"/><circle cx="650.64" cy="785.06" r="1.75" fill="#1a1aff"/>
<path d="M659.6 757.24h16M667.6 765.57V748.9M664.6 765.57h6M664.6 748.9h6" stroke="#ff1a1a" stroke-width="0.8" fill="none"/>
<circle cx="670.41" cy="741.34" r="1.75" fill="#ff1a1a"/><circle cx="664.89" cy="748.49" r="1.75" fill="#ff1a1a"/><circle cx="667.38" cy="752.47" r="1.75" fill="#ff1a1a"/><circle cx="665.83" cy="754.85" r="1.75" fill="#ff1a1a"/><circle cx="667.91" cy="756.44" r="1.75" fill="#ff1a1a"/><circle cx="668.12" cy="758.83" r="1.75" fill="#ff1a1a"/><circle cx="664.19" cy="761.21" r="1.75" fill="#ff1a1a"/><circle cx="665.62" cy="764.39" r="1.75" fill="#ff1a1a"/><circle cx="666.06" cy="766.77" r="1.75" fill="#ff1a1a"/><circle cx="670.51" cy="767.57" r="1.75" fill="#ff1a1a"/>
<text x="652.6" y="801.09" font-size="6.4" text-anchor="end" font-weight="bold" fill="#111" transform="rotate(-45 652.6 798.8)">Negative</text>
<text x="670.6" y="801.09" font-size="6.4" text-anchor="end" font-weight="bold" fill="#111" transform="rotate(-45 670.6 798.8)">Positive</text>
<line x1="650" y1="734.4" x2="667.6" y2="734.4" stroke="#222" stroke-width="0.6"/>
<text x="658.7" y="734.82" font-size="6.2" text-anchor="middle" fill="#222">***</text>
<text x="614" y="829.36" font-size="6.6" text-anchor="middle" font-weight="bold" fill="#111">MC38</text></svg></body></html>
